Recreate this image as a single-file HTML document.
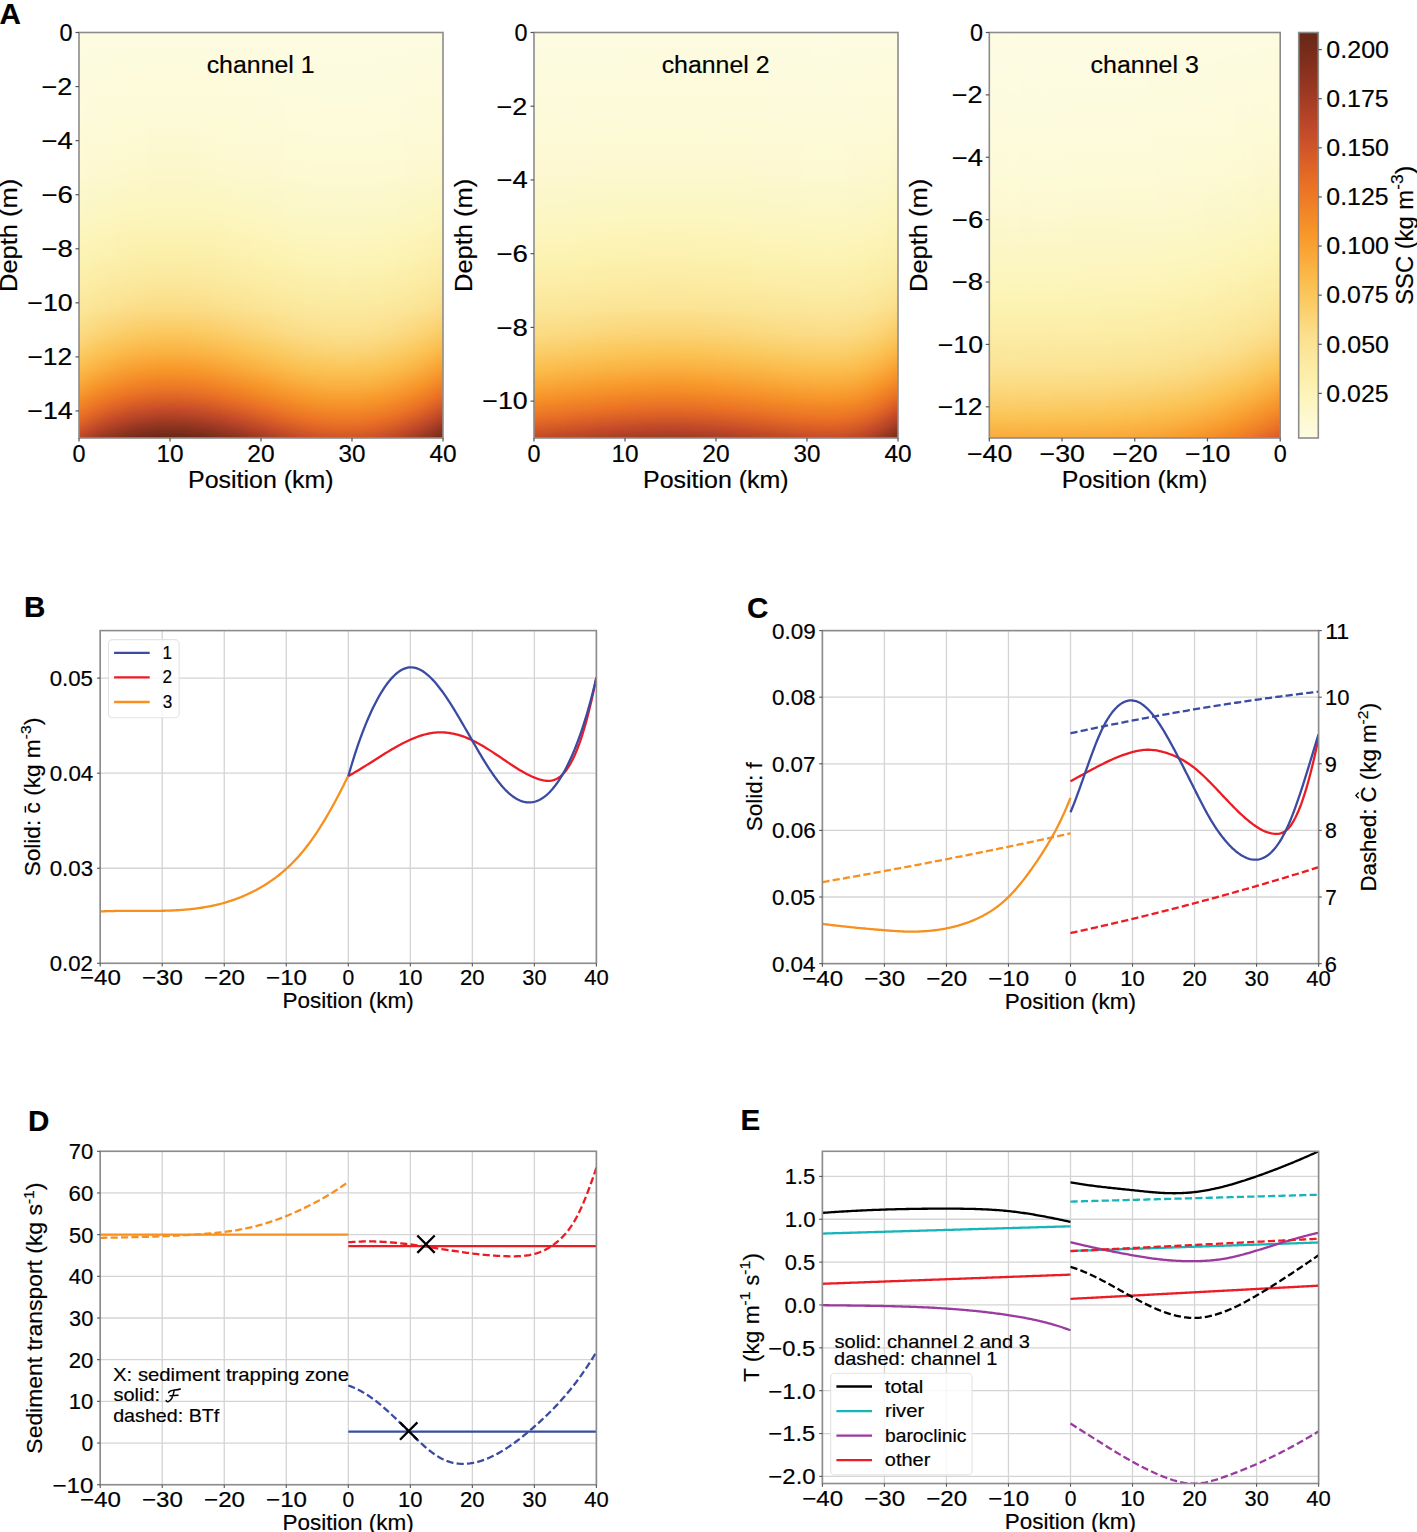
<!DOCTYPE html><html><head><meta charset="utf-8"><style>html,body{margin:0;padding:0;background:#fff;overflow:hidden}svg{display:block;font-family:"Liberation Sans",sans-serif}text{stroke:#000;stroke-width:0.18px}</style></head><body><svg width="1417" height="1532" viewBox="0 0 1417 1532" font-family="Liberation Sans, sans-serif"><defs><linearGradient id="g0" x1="0" y1="0" x2="0" y2="1"><stop offset="0.000" stop-color="#fdfce2"/><stop offset="0.200" stop-color="#fdfbdb"/><stop offset="0.350" stop-color="#fdf9d1"/><stop offset="0.450" stop-color="#fcf7c5"/><stop offset="0.550" stop-color="#fcf3b4"/><stop offset="0.620" stop-color="#fceda7"/><stop offset="0.680" stop-color="#fbe69a"/><stop offset="0.740" stop-color="#fbdc85"/><stop offset="0.790" stop-color="#fbcc66"/><stop offset="0.830" stop-color="#fbbc4b"/><stop offset="0.870" stop-color="#f9a536"/><stop offset="0.900" stop-color="#f69129"/><stop offset="0.930" stop-color="#ee7c26"/><stop offset="0.955" stop-color="#e26825"/><stop offset="0.975" stop-color="#d35828"/><stop offset="1.000" stop-color="#b94528"/></linearGradient><linearGradient id="g1" x1="0" y1="0" x2="0" y2="1"><stop offset="0.000" stop-color="#fdfce2"/><stop offset="0.200" stop-color="#fdfadb"/><stop offset="0.350" stop-color="#fdf8d0"/><stop offset="0.450" stop-color="#fcf6c4"/><stop offset="0.550" stop-color="#fcf3b3"/><stop offset="0.620" stop-color="#fceda6"/><stop offset="0.680" stop-color="#fbe699"/><stop offset="0.740" stop-color="#fbda81"/><stop offset="0.790" stop-color="#fbca62"/><stop offset="0.830" stop-color="#fab949"/><stop offset="0.870" stop-color="#f9a133"/><stop offset="0.900" stop-color="#f48d28"/><stop offset="0.930" stop-color="#ec7725"/><stop offset="0.955" stop-color="#de6326"/><stop offset="0.975" stop-color="#cd5329"/><stop offset="1.000" stop-color="#b14226"/></linearGradient><linearGradient id="g2" x1="0" y1="0" x2="0" y2="1"><stop offset="0.000" stop-color="#fdfce1"/><stop offset="0.200" stop-color="#fdfadb"/><stop offset="0.350" stop-color="#fdf8d0"/><stop offset="0.450" stop-color="#fcf6c4"/><stop offset="0.550" stop-color="#fcf3b2"/><stop offset="0.620" stop-color="#fceca5"/><stop offset="0.680" stop-color="#fbe597"/><stop offset="0.740" stop-color="#fbd87e"/><stop offset="0.790" stop-color="#fbc85e"/><stop offset="0.830" stop-color="#fab646"/><stop offset="0.870" stop-color="#f89d2f"/><stop offset="0.900" stop-color="#f38928"/><stop offset="0.930" stop-color="#eb7324"/><stop offset="0.955" stop-color="#d95f27"/><stop offset="0.975" stop-color="#c94e2a"/><stop offset="1.000" stop-color="#a93f25"/></linearGradient><linearGradient id="g3" x1="0" y1="0" x2="0" y2="1"><stop offset="0.000" stop-color="#fdfce1"/><stop offset="0.200" stop-color="#fdfadb"/><stop offset="0.350" stop-color="#fdf8cf"/><stop offset="0.450" stop-color="#fcf6c3"/><stop offset="0.550" stop-color="#fcf2b1"/><stop offset="0.620" stop-color="#fceca4"/><stop offset="0.680" stop-color="#fbe496"/><stop offset="0.740" stop-color="#fbd77b"/><stop offset="0.790" stop-color="#fbc65a"/><stop offset="0.830" stop-color="#fab343"/><stop offset="0.870" stop-color="#f89a2c"/><stop offset="0.900" stop-color="#f28627"/><stop offset="0.930" stop-color="#e96e24"/><stop offset="0.955" stop-color="#d55b27"/><stop offset="0.975" stop-color="#c44a2a"/><stop offset="1.000" stop-color="#a23c24"/></linearGradient><linearGradient id="g4" x1="0" y1="0" x2="0" y2="1"><stop offset="0.000" stop-color="#fdfce1"/><stop offset="0.200" stop-color="#fdfada"/><stop offset="0.350" stop-color="#fdf8ce"/><stop offset="0.450" stop-color="#fcf6c2"/><stop offset="0.550" stop-color="#fcf2b0"/><stop offset="0.620" stop-color="#fceba3"/><stop offset="0.680" stop-color="#fbe394"/><stop offset="0.740" stop-color="#fbd578"/><stop offset="0.790" stop-color="#fbc456"/><stop offset="0.830" stop-color="#fab040"/><stop offset="0.870" stop-color="#f8972a"/><stop offset="0.900" stop-color="#f08227"/><stop offset="0.930" stop-color="#e56b25"/><stop offset="0.955" stop-color="#d15728"/><stop offset="0.975" stop-color="#bd4728"/><stop offset="1.000" stop-color="#9c3923"/></linearGradient><linearGradient id="g5" x1="0" y1="0" x2="0" y2="1"><stop offset="0.000" stop-color="#fdfce1"/><stop offset="0.200" stop-color="#fdfada"/><stop offset="0.350" stop-color="#fdf8ce"/><stop offset="0.450" stop-color="#fcf6c1"/><stop offset="0.550" stop-color="#fcf2b0"/><stop offset="0.620" stop-color="#fceba2"/><stop offset="0.680" stop-color="#fbe393"/><stop offset="0.740" stop-color="#fbd475"/><stop offset="0.790" stop-color="#fbc354"/><stop offset="0.830" stop-color="#faae3e"/><stop offset="0.870" stop-color="#f79529"/><stop offset="0.900" stop-color="#ef7f26"/><stop offset="0.930" stop-color="#e26825"/><stop offset="0.955" stop-color="#ce5329"/><stop offset="0.975" stop-color="#b84527"/><stop offset="1.000" stop-color="#953621"/></linearGradient><linearGradient id="g6" x1="0" y1="0" x2="0" y2="1"><stop offset="0.000" stop-color="#fdfce1"/><stop offset="0.200" stop-color="#fdfada"/><stop offset="0.350" stop-color="#fdf8ce"/><stop offset="0.450" stop-color="#fcf6c1"/><stop offset="0.550" stop-color="#fcf1af"/><stop offset="0.620" stop-color="#fceaa1"/><stop offset="0.680" stop-color="#fbe292"/><stop offset="0.740" stop-color="#fbd374"/><stop offset="0.790" stop-color="#fbc151"/><stop offset="0.830" stop-color="#f9ac3c"/><stop offset="0.870" stop-color="#f69129"/><stop offset="0.900" stop-color="#ee7c26"/><stop offset="0.930" stop-color="#df6526"/><stop offset="0.955" stop-color="#ca4f29"/><stop offset="0.975" stop-color="#b34327"/><stop offset="1.000" stop-color="#903420"/></linearGradient><linearGradient id="g7" x1="0" y1="0" x2="0" y2="1"><stop offset="0.000" stop-color="#fdfce1"/><stop offset="0.200" stop-color="#fdfad9"/><stop offset="0.350" stop-color="#fdf8ce"/><stop offset="0.450" stop-color="#fcf6c0"/><stop offset="0.550" stop-color="#fcf1af"/><stop offset="0.620" stop-color="#fceaa0"/><stop offset="0.680" stop-color="#fbe191"/><stop offset="0.740" stop-color="#fbd171"/><stop offset="0.790" stop-color="#fbbf4f"/><stop offset="0.830" stop-color="#f9a93a"/><stop offset="0.870" stop-color="#f58f29"/><stop offset="0.900" stop-color="#ed7925"/><stop offset="0.930" stop-color="#dc6226"/><stop offset="0.955" stop-color="#c74c2a"/><stop offset="0.975" stop-color="#ad4026"/><stop offset="1.000" stop-color="#8c331f"/></linearGradient><linearGradient id="g8" x1="0" y1="0" x2="0" y2="1"><stop offset="0.000" stop-color="#fdfce1"/><stop offset="0.200" stop-color="#fdfad9"/><stop offset="0.350" stop-color="#fdf8cd"/><stop offset="0.450" stop-color="#fcf6c0"/><stop offset="0.550" stop-color="#fcf1ad"/><stop offset="0.620" stop-color="#fbe99f"/><stop offset="0.680" stop-color="#fbe190"/><stop offset="0.740" stop-color="#fbd06f"/><stop offset="0.790" stop-color="#fbbe4d"/><stop offset="0.830" stop-color="#f9a738"/><stop offset="0.870" stop-color="#f48d28"/><stop offset="0.900" stop-color="#ec7625"/><stop offset="0.930" stop-color="#d95f27"/><stop offset="0.955" stop-color="#c34a29"/><stop offset="0.975" stop-color="#a93f25"/><stop offset="1.000" stop-color="#87311e"/></linearGradient><linearGradient id="g9" x1="0" y1="0" x2="0" y2="1"><stop offset="0.000" stop-color="#fdfce1"/><stop offset="0.200" stop-color="#fdfad9"/><stop offset="0.350" stop-color="#fdf8cd"/><stop offset="0.450" stop-color="#fcf5bf"/><stop offset="0.550" stop-color="#fcf0ad"/><stop offset="0.620" stop-color="#fbe99f"/><stop offset="0.680" stop-color="#fbe18f"/><stop offset="0.740" stop-color="#fbcf6d"/><stop offset="0.790" stop-color="#fbbc4c"/><stop offset="0.830" stop-color="#f9a536"/><stop offset="0.870" stop-color="#f38b28"/><stop offset="0.900" stop-color="#eb7425"/><stop offset="0.930" stop-color="#d65c27"/><stop offset="0.955" stop-color="#bf4829"/><stop offset="0.975" stop-color="#a53d24"/><stop offset="1.000" stop-color="#83301d"/></linearGradient><linearGradient id="g10" x1="0" y1="0" x2="0" y2="1"><stop offset="0.000" stop-color="#fdfce1"/><stop offset="0.200" stop-color="#fdfad9"/><stop offset="0.350" stop-color="#fdf8cc"/><stop offset="0.450" stop-color="#fcf5bf"/><stop offset="0.550" stop-color="#fcf0ad"/><stop offset="0.620" stop-color="#fbe99e"/><stop offset="0.680" stop-color="#fbe08e"/><stop offset="0.740" stop-color="#fbce6b"/><stop offset="0.790" stop-color="#fbba4a"/><stop offset="0.830" stop-color="#f9a334"/><stop offset="0.870" stop-color="#f38928"/><stop offset="0.900" stop-color="#eb7124"/><stop offset="0.930" stop-color="#d45a28"/><stop offset="0.955" stop-color="#bc4728"/><stop offset="0.975" stop-color="#a13b23"/><stop offset="1.000" stop-color="#7f2f1c"/></linearGradient><linearGradient id="g11" x1="0" y1="0" x2="0" y2="1"><stop offset="0.000" stop-color="#fdfce1"/><stop offset="0.200" stop-color="#fdfad8"/><stop offset="0.350" stop-color="#fdf8cc"/><stop offset="0.450" stop-color="#fcf5be"/><stop offset="0.550" stop-color="#fcf0ac"/><stop offset="0.620" stop-color="#fbe89e"/><stop offset="0.680" stop-color="#fbdf8d"/><stop offset="0.740" stop-color="#fbcd69"/><stop offset="0.790" stop-color="#fab949"/><stop offset="0.830" stop-color="#f9a133"/><stop offset="0.870" stop-color="#f28727"/><stop offset="0.900" stop-color="#ea7024"/><stop offset="0.930" stop-color="#d25728"/><stop offset="0.955" stop-color="#b84527"/><stop offset="0.975" stop-color="#9d3923"/><stop offset="1.000" stop-color="#7c2e1b"/></linearGradient><linearGradient id="g12" x1="0" y1="0" x2="0" y2="1"><stop offset="0.000" stop-color="#fdfce1"/><stop offset="0.200" stop-color="#fdfad8"/><stop offset="0.350" stop-color="#fdf8cc"/><stop offset="0.450" stop-color="#fcf5be"/><stop offset="0.550" stop-color="#fcf0ac"/><stop offset="0.620" stop-color="#fbe89d"/><stop offset="0.680" stop-color="#fbde8b"/><stop offset="0.740" stop-color="#fbcc67"/><stop offset="0.790" stop-color="#fab847"/><stop offset="0.830" stop-color="#f9a031"/><stop offset="0.870" stop-color="#f18527"/><stop offset="0.900" stop-color="#e76d24"/><stop offset="0.930" stop-color="#d05528"/><stop offset="0.955" stop-color="#b54427"/><stop offset="0.975" stop-color="#993822"/><stop offset="1.000" stop-color="#782c1a"/></linearGradient><linearGradient id="g13" x1="0" y1="0" x2="0" y2="1"><stop offset="0.000" stop-color="#fdfce1"/><stop offset="0.200" stop-color="#fdfad8"/><stop offset="0.350" stop-color="#fdf8cb"/><stop offset="0.450" stop-color="#fcf5bd"/><stop offset="0.550" stop-color="#fcefab"/><stop offset="0.620" stop-color="#fbe89d"/><stop offset="0.680" stop-color="#fbde8a"/><stop offset="0.740" stop-color="#fbcc66"/><stop offset="0.790" stop-color="#fab646"/><stop offset="0.830" stop-color="#f89f30"/><stop offset="0.870" stop-color="#f18327"/><stop offset="0.900" stop-color="#e66c25"/><stop offset="0.930" stop-color="#ce5329"/><stop offset="0.955" stop-color="#b24227"/><stop offset="0.975" stop-color="#963622"/><stop offset="1.000" stop-color="#752c1a"/></linearGradient><linearGradient id="g14" x1="0" y1="0" x2="0" y2="1"><stop offset="0.000" stop-color="#fdfce1"/><stop offset="0.200" stop-color="#fdfad8"/><stop offset="0.350" stop-color="#fdf8cb"/><stop offset="0.450" stop-color="#fcf5bd"/><stop offset="0.550" stop-color="#fcefab"/><stop offset="0.620" stop-color="#fbe79c"/><stop offset="0.680" stop-color="#fbdd89"/><stop offset="0.740" stop-color="#fbcb64"/><stop offset="0.790" stop-color="#fab545"/><stop offset="0.830" stop-color="#f89d2f"/><stop offset="0.870" stop-color="#f08227"/><stop offset="0.900" stop-color="#e56a25"/><stop offset="0.930" stop-color="#cc5229"/><stop offset="0.955" stop-color="#af4126"/><stop offset="0.975" stop-color="#933521"/><stop offset="1.000" stop-color="#732b19"/></linearGradient><linearGradient id="g15" x1="0" y1="0" x2="0" y2="1"><stop offset="0.000" stop-color="#fdfce1"/><stop offset="0.200" stop-color="#fdfad8"/><stop offset="0.350" stop-color="#fdf8cb"/><stop offset="0.450" stop-color="#fcf5bd"/><stop offset="0.550" stop-color="#fcefab"/><stop offset="0.620" stop-color="#fbe79b"/><stop offset="0.680" stop-color="#fbdd88"/><stop offset="0.740" stop-color="#fbcb63"/><stop offset="0.790" stop-color="#fab544"/><stop offset="0.830" stop-color="#f89c2e"/><stop offset="0.870" stop-color="#f08126"/><stop offset="0.900" stop-color="#e36925"/><stop offset="0.930" stop-color="#cb5029"/><stop offset="0.955" stop-color="#ad4026"/><stop offset="0.975" stop-color="#913421"/><stop offset="1.000" stop-color="#702a18"/></linearGradient><linearGradient id="g16" x1="0" y1="0" x2="0" y2="1"><stop offset="0.000" stop-color="#fdfce1"/><stop offset="0.200" stop-color="#fdfad8"/><stop offset="0.350" stop-color="#fdf8cb"/><stop offset="0.450" stop-color="#fcf5bd"/><stop offset="0.550" stop-color="#fcefaa"/><stop offset="0.620" stop-color="#fbe79b"/><stop offset="0.680" stop-color="#fbdc87"/><stop offset="0.740" stop-color="#fbca62"/><stop offset="0.790" stop-color="#fab343"/><stop offset="0.830" stop-color="#f89b2d"/><stop offset="0.870" stop-color="#ef7f26"/><stop offset="0.900" stop-color="#e26825"/><stop offset="0.930" stop-color="#ca4f29"/><stop offset="0.955" stop-color="#ab3f25"/><stop offset="0.975" stop-color="#8f3420"/><stop offset="1.000" stop-color="#6e2918"/></linearGradient><linearGradient id="g17" x1="0" y1="0" x2="0" y2="1"><stop offset="0.000" stop-color="#fdfce1"/><stop offset="0.200" stop-color="#fdfad7"/><stop offset="0.350" stop-color="#fcf7ca"/><stop offset="0.450" stop-color="#fcf5bd"/><stop offset="0.550" stop-color="#fcefaa"/><stop offset="0.620" stop-color="#fbe79b"/><stop offset="0.680" stop-color="#fbdc86"/><stop offset="0.740" stop-color="#fbca61"/><stop offset="0.790" stop-color="#fab343"/><stop offset="0.830" stop-color="#f89a2c"/><stop offset="0.870" stop-color="#ef7e26"/><stop offset="0.900" stop-color="#e16626"/><stop offset="0.930" stop-color="#c84d2a"/><stop offset="0.955" stop-color="#a93e25"/><stop offset="0.975" stop-color="#8e3320"/><stop offset="1.000" stop-color="#6c2917"/></linearGradient><linearGradient id="g18" x1="0" y1="0" x2="0" y2="1"><stop offset="0.000" stop-color="#fdfce1"/><stop offset="0.200" stop-color="#fdfad7"/><stop offset="0.350" stop-color="#fcf7ca"/><stop offset="0.450" stop-color="#fcf5bc"/><stop offset="0.550" stop-color="#fcefaa"/><stop offset="0.620" stop-color="#fbe69a"/><stop offset="0.680" stop-color="#fbdc86"/><stop offset="0.740" stop-color="#fbc960"/><stop offset="0.790" stop-color="#fab242"/><stop offset="0.830" stop-color="#f89a2b"/><stop offset="0.870" stop-color="#ef7d26"/><stop offset="0.900" stop-color="#e06626"/><stop offset="0.930" stop-color="#c74c2a"/><stop offset="0.955" stop-color="#a73e25"/><stop offset="0.975" stop-color="#8c331f"/><stop offset="1.000" stop-color="#6a2817"/></linearGradient><linearGradient id="g19" x1="0" y1="0" x2="0" y2="1"><stop offset="0.000" stop-color="#fdfce1"/><stop offset="0.200" stop-color="#fdfad7"/><stop offset="0.350" stop-color="#fcf7ca"/><stop offset="0.450" stop-color="#fcf5bc"/><stop offset="0.550" stop-color="#fcefa9"/><stop offset="0.620" stop-color="#fbe69a"/><stop offset="0.680" stop-color="#fbdc85"/><stop offset="0.740" stop-color="#fbc960"/><stop offset="0.790" stop-color="#fab141"/><stop offset="0.830" stop-color="#f8992b"/><stop offset="0.870" stop-color="#ee7d26"/><stop offset="0.900" stop-color="#e06526"/><stop offset="0.930" stop-color="#c74c2a"/><stop offset="0.955" stop-color="#a63d24"/><stop offset="0.975" stop-color="#8b321f"/><stop offset="1.000" stop-color="#692817"/></linearGradient><linearGradient id="g20" x1="0" y1="0" x2="0" y2="1"><stop offset="0.000" stop-color="#fdfce1"/><stop offset="0.200" stop-color="#fdfad7"/><stop offset="0.350" stop-color="#fcf7ca"/><stop offset="0.450" stop-color="#fcf5bc"/><stop offset="0.550" stop-color="#fcefa9"/><stop offset="0.620" stop-color="#fbe69a"/><stop offset="0.680" stop-color="#fbdc85"/><stop offset="0.740" stop-color="#fbc95f"/><stop offset="0.790" stop-color="#fab141"/><stop offset="0.830" stop-color="#f8982a"/><stop offset="0.870" stop-color="#ee7c26"/><stop offset="0.900" stop-color="#df6526"/><stop offset="0.930" stop-color="#c64b2a"/><stop offset="0.955" stop-color="#a53d24"/><stop offset="0.975" stop-color="#8a321f"/><stop offset="1.000" stop-color="#682716"/></linearGradient><linearGradient id="g21" x1="0" y1="0" x2="0" y2="1"><stop offset="0.000" stop-color="#fdfce1"/><stop offset="0.200" stop-color="#fdfad7"/><stop offset="0.350" stop-color="#fcf7ca"/><stop offset="0.450" stop-color="#fcf5bc"/><stop offset="0.550" stop-color="#fcefa9"/><stop offset="0.620" stop-color="#fbe69a"/><stop offset="0.680" stop-color="#fbdc85"/><stop offset="0.740" stop-color="#fbc95f"/><stop offset="0.790" stop-color="#fab141"/><stop offset="0.830" stop-color="#f8982a"/><stop offset="0.870" stop-color="#ee7c26"/><stop offset="0.900" stop-color="#de6426"/><stop offset="0.930" stop-color="#c54b2a"/><stop offset="0.955" stop-color="#a53d24"/><stop offset="0.975" stop-color="#89321f"/><stop offset="1.000" stop-color="#682716"/></linearGradient><linearGradient id="g22" x1="0" y1="0" x2="0" y2="1"><stop offset="0.000" stop-color="#fdfce1"/><stop offset="0.200" stop-color="#fdfad7"/><stop offset="0.350" stop-color="#fcf7ca"/><stop offset="0.450" stop-color="#fcf5bc"/><stop offset="0.550" stop-color="#fcefa9"/><stop offset="0.620" stop-color="#fbe69a"/><stop offset="0.680" stop-color="#fbdc85"/><stop offset="0.740" stop-color="#fbc95f"/><stop offset="0.790" stop-color="#fab141"/><stop offset="0.830" stop-color="#f8982a"/><stop offset="0.870" stop-color="#ee7c26"/><stop offset="0.900" stop-color="#de6426"/><stop offset="0.930" stop-color="#c54b2a"/><stop offset="0.955" stop-color="#a53d24"/><stop offset="0.975" stop-color="#89321f"/><stop offset="1.000" stop-color="#672716"/></linearGradient><linearGradient id="g23" x1="0" y1="0" x2="0" y2="1"><stop offset="0.000" stop-color="#fdfce1"/><stop offset="0.200" stop-color="#fdfad7"/><stop offset="0.350" stop-color="#fcf7ca"/><stop offset="0.450" stop-color="#fcf5bc"/><stop offset="0.550" stop-color="#fcefa9"/><stop offset="0.620" stop-color="#fbe69a"/><stop offset="0.680" stop-color="#fbdc85"/><stop offset="0.740" stop-color="#fbc95f"/><stop offset="0.790" stop-color="#fab141"/><stop offset="0.830" stop-color="#f8982a"/><stop offset="0.870" stop-color="#ee7c26"/><stop offset="0.900" stop-color="#de6426"/><stop offset="0.930" stop-color="#c54b2a"/><stop offset="0.955" stop-color="#a53d24"/><stop offset="0.975" stop-color="#89321f"/><stop offset="1.000" stop-color="#672716"/></linearGradient><linearGradient id="g24" x1="0" y1="0" x2="0" y2="1"><stop offset="0.000" stop-color="#fdfce1"/><stop offset="0.200" stop-color="#fdfad7"/><stop offset="0.350" stop-color="#fcf7ca"/><stop offset="0.450" stop-color="#fcf5bc"/><stop offset="0.550" stop-color="#fcefa9"/><stop offset="0.620" stop-color="#fbe69a"/><stop offset="0.680" stop-color="#fbdc85"/><stop offset="0.740" stop-color="#fbc95f"/><stop offset="0.790" stop-color="#fab141"/><stop offset="0.830" stop-color="#f8982a"/><stop offset="0.870" stop-color="#ee7c26"/><stop offset="0.900" stop-color="#de6426"/><stop offset="0.930" stop-color="#c54b2a"/><stop offset="0.955" stop-color="#a53d24"/><stop offset="0.975" stop-color="#89321f"/><stop offset="1.000" stop-color="#682716"/></linearGradient><linearGradient id="g25" x1="0" y1="0" x2="0" y2="1"><stop offset="0.000" stop-color="#fdfce1"/><stop offset="0.200" stop-color="#fdfad7"/><stop offset="0.350" stop-color="#fcf7ca"/><stop offset="0.450" stop-color="#fcf5bc"/><stop offset="0.550" stop-color="#fcefa9"/><stop offset="0.620" stop-color="#fbe69a"/><stop offset="0.680" stop-color="#fbdc85"/><stop offset="0.740" stop-color="#fbc95f"/><stop offset="0.790" stop-color="#fab141"/><stop offset="0.830" stop-color="#f8982a"/><stop offset="0.870" stop-color="#ee7c26"/><stop offset="0.900" stop-color="#df6526"/><stop offset="0.930" stop-color="#c64b2a"/><stop offset="0.955" stop-color="#a53d24"/><stop offset="0.975" stop-color="#8a321f"/><stop offset="1.000" stop-color="#682716"/></linearGradient><linearGradient id="g26" x1="0" y1="0" x2="0" y2="1"><stop offset="0.000" stop-color="#fdfce1"/><stop offset="0.200" stop-color="#fdfad7"/><stop offset="0.350" stop-color="#fcf7ca"/><stop offset="0.450" stop-color="#fcf5bc"/><stop offset="0.550" stop-color="#fcefa9"/><stop offset="0.620" stop-color="#fbe69a"/><stop offset="0.680" stop-color="#fbdc85"/><stop offset="0.740" stop-color="#fbc960"/><stop offset="0.790" stop-color="#fab141"/><stop offset="0.830" stop-color="#f8992b"/><stop offset="0.870" stop-color="#ee7d26"/><stop offset="0.900" stop-color="#e06526"/><stop offset="0.930" stop-color="#c74c2a"/><stop offset="0.955" stop-color="#a63d24"/><stop offset="0.975" stop-color="#8b321f"/><stop offset="1.000" stop-color="#692817"/></linearGradient><linearGradient id="g27" x1="0" y1="0" x2="0" y2="1"><stop offset="0.000" stop-color="#fdfce1"/><stop offset="0.200" stop-color="#fdfad7"/><stop offset="0.350" stop-color="#fcf7ca"/><stop offset="0.450" stop-color="#fcf5bc"/><stop offset="0.550" stop-color="#fcefaa"/><stop offset="0.620" stop-color="#fbe69a"/><stop offset="0.680" stop-color="#fbdc86"/><stop offset="0.740" stop-color="#fbc960"/><stop offset="0.790" stop-color="#fab242"/><stop offset="0.830" stop-color="#f89a2b"/><stop offset="0.870" stop-color="#ef7d26"/><stop offset="0.900" stop-color="#e06626"/><stop offset="0.930" stop-color="#c74c2a"/><stop offset="0.955" stop-color="#a73e25"/><stop offset="0.975" stop-color="#8c331f"/><stop offset="1.000" stop-color="#6a2817"/></linearGradient><linearGradient id="g28" x1="0" y1="0" x2="0" y2="1"><stop offset="0.000" stop-color="#fdfce1"/><stop offset="0.200" stop-color="#fdfad7"/><stop offset="0.350" stop-color="#fcf7ca"/><stop offset="0.450" stop-color="#fcf5bd"/><stop offset="0.550" stop-color="#fcefaa"/><stop offset="0.620" stop-color="#fbe79b"/><stop offset="0.680" stop-color="#fbdc86"/><stop offset="0.740" stop-color="#fbca61"/><stop offset="0.790" stop-color="#fab343"/><stop offset="0.830" stop-color="#f89a2c"/><stop offset="0.870" stop-color="#ef7e26"/><stop offset="0.900" stop-color="#e16626"/><stop offset="0.930" stop-color="#c84d2a"/><stop offset="0.955" stop-color="#a93e25"/><stop offset="0.975" stop-color="#8e3320"/><stop offset="1.000" stop-color="#6c2917"/></linearGradient><linearGradient id="g29" x1="0" y1="0" x2="0" y2="1"><stop offset="0.000" stop-color="#fdfce1"/><stop offset="0.200" stop-color="#fdfad8"/><stop offset="0.350" stop-color="#fcf7ca"/><stop offset="0.450" stop-color="#fcf5bd"/><stop offset="0.550" stop-color="#fcefaa"/><stop offset="0.620" stop-color="#fbe79b"/><stop offset="0.680" stop-color="#fbdc87"/><stop offset="0.740" stop-color="#fbca62"/><stop offset="0.790" stop-color="#fab343"/><stop offset="0.830" stop-color="#f89b2d"/><stop offset="0.870" stop-color="#ef7f26"/><stop offset="0.900" stop-color="#e26825"/><stop offset="0.930" stop-color="#c94e2a"/><stop offset="0.955" stop-color="#aa3f25"/><stop offset="0.975" stop-color="#8f3420"/><stop offset="1.000" stop-color="#6d2918"/></linearGradient><linearGradient id="g30" x1="0" y1="0" x2="0" y2="1"><stop offset="0.000" stop-color="#fdfce1"/><stop offset="0.200" stop-color="#fdfad8"/><stop offset="0.350" stop-color="#fdf8cb"/><stop offset="0.450" stop-color="#fcf5bd"/><stop offset="0.550" stop-color="#fcefab"/><stop offset="0.620" stop-color="#fbe79b"/><stop offset="0.680" stop-color="#fbdd88"/><stop offset="0.740" stop-color="#fbcb63"/><stop offset="0.790" stop-color="#fab444"/><stop offset="0.830" stop-color="#f89c2d"/><stop offset="0.870" stop-color="#f08026"/><stop offset="0.900" stop-color="#e36925"/><stop offset="0.930" stop-color="#cb5029"/><stop offset="0.955" stop-color="#ac4025"/><stop offset="0.975" stop-color="#903420"/><stop offset="1.000" stop-color="#6f2a18"/></linearGradient><linearGradient id="g31" x1="0" y1="0" x2="0" y2="1"><stop offset="0.000" stop-color="#fdfce1"/><stop offset="0.200" stop-color="#fdfad8"/><stop offset="0.350" stop-color="#fdf8cb"/><stop offset="0.450" stop-color="#fcf5bd"/><stop offset="0.550" stop-color="#fcefab"/><stop offset="0.620" stop-color="#fbe79b"/><stop offset="0.680" stop-color="#fbdd89"/><stop offset="0.740" stop-color="#fbcb64"/><stop offset="0.790" stop-color="#fab545"/><stop offset="0.830" stop-color="#f89d2e"/><stop offset="0.870" stop-color="#f08127"/><stop offset="0.900" stop-color="#e46a25"/><stop offset="0.930" stop-color="#cc5129"/><stop offset="0.955" stop-color="#ae4126"/><stop offset="0.975" stop-color="#923521"/><stop offset="1.000" stop-color="#712a19"/></linearGradient><linearGradient id="g32" x1="0" y1="0" x2="0" y2="1"><stop offset="0.000" stop-color="#fdfce1"/><stop offset="0.200" stop-color="#fdfad8"/><stop offset="0.350" stop-color="#fdf8cb"/><stop offset="0.450" stop-color="#fcf5bd"/><stop offset="0.550" stop-color="#fcefab"/><stop offset="0.620" stop-color="#fbe79c"/><stop offset="0.680" stop-color="#fbde8a"/><stop offset="0.740" stop-color="#fbcb65"/><stop offset="0.790" stop-color="#fab646"/><stop offset="0.830" stop-color="#f89e30"/><stop offset="0.870" stop-color="#f08227"/><stop offset="0.900" stop-color="#e56b25"/><stop offset="0.930" stop-color="#cd5229"/><stop offset="0.955" stop-color="#b14226"/><stop offset="0.975" stop-color="#953621"/><stop offset="1.000" stop-color="#742b19"/></linearGradient><linearGradient id="g33" x1="0" y1="0" x2="0" y2="1"><stop offset="0.000" stop-color="#fdfce1"/><stop offset="0.200" stop-color="#fdfad8"/><stop offset="0.350" stop-color="#fdf8cb"/><stop offset="0.450" stop-color="#fcf5bd"/><stop offset="0.550" stop-color="#fcefab"/><stop offset="0.620" stop-color="#fbe89d"/><stop offset="0.680" stop-color="#fbde8b"/><stop offset="0.740" stop-color="#fbcc66"/><stop offset="0.790" stop-color="#fab747"/><stop offset="0.830" stop-color="#f89f30"/><stop offset="0.870" stop-color="#f18427"/><stop offset="0.900" stop-color="#e66c25"/><stop offset="0.930" stop-color="#cf5429"/><stop offset="0.955" stop-color="#b34327"/><stop offset="0.975" stop-color="#973722"/><stop offset="1.000" stop-color="#762c1a"/></linearGradient><linearGradient id="g34" x1="0" y1="0" x2="0" y2="1"><stop offset="0.000" stop-color="#fdfce1"/><stop offset="0.200" stop-color="#fdfad8"/><stop offset="0.350" stop-color="#fdf8cc"/><stop offset="0.450" stop-color="#fcf5be"/><stop offset="0.550" stop-color="#fcf0ac"/><stop offset="0.620" stop-color="#fbe89d"/><stop offset="0.680" stop-color="#fbdf8c"/><stop offset="0.740" stop-color="#fbcd68"/><stop offset="0.790" stop-color="#fab847"/><stop offset="0.830" stop-color="#f9a031"/><stop offset="0.870" stop-color="#f18527"/><stop offset="0.900" stop-color="#e86e24"/><stop offset="0.930" stop-color="#d05628"/><stop offset="0.955" stop-color="#b54427"/><stop offset="0.975" stop-color="#9a3822"/><stop offset="1.000" stop-color="#792d1a"/></linearGradient><linearGradient id="g35" x1="0" y1="0" x2="0" y2="1"><stop offset="0.000" stop-color="#fdfce1"/><stop offset="0.200" stop-color="#fdfad8"/><stop offset="0.350" stop-color="#fdf8cc"/><stop offset="0.450" stop-color="#fcf5be"/><stop offset="0.550" stop-color="#fcf0ac"/><stop offset="0.620" stop-color="#fbe89e"/><stop offset="0.680" stop-color="#fbdf8d"/><stop offset="0.740" stop-color="#fbcd69"/><stop offset="0.790" stop-color="#fab949"/><stop offset="0.830" stop-color="#f9a233"/><stop offset="0.870" stop-color="#f28727"/><stop offset="0.900" stop-color="#ea7024"/><stop offset="0.930" stop-color="#d25728"/><stop offset="0.955" stop-color="#b84527"/><stop offset="0.975" stop-color="#9d3a23"/><stop offset="1.000" stop-color="#7c2e1b"/></linearGradient><linearGradient id="g36" x1="0" y1="0" x2="0" y2="1"><stop offset="0.000" stop-color="#fdfce1"/><stop offset="0.200" stop-color="#fdfad9"/><stop offset="0.350" stop-color="#fdf8cc"/><stop offset="0.450" stop-color="#fcf5bf"/><stop offset="0.550" stop-color="#fcf0ac"/><stop offset="0.620" stop-color="#fbe99e"/><stop offset="0.680" stop-color="#fbe08e"/><stop offset="0.740" stop-color="#fbce6b"/><stop offset="0.790" stop-color="#fbba4a"/><stop offset="0.830" stop-color="#f9a334"/><stop offset="0.870" stop-color="#f28828"/><stop offset="0.900" stop-color="#eb7124"/><stop offset="0.930" stop-color="#d45928"/><stop offset="0.955" stop-color="#bb4628"/><stop offset="0.975" stop-color="#a03b23"/><stop offset="1.000" stop-color="#7f2f1c"/></linearGradient><linearGradient id="g37" x1="0" y1="0" x2="0" y2="1"><stop offset="0.000" stop-color="#fdfce1"/><stop offset="0.200" stop-color="#fdfad9"/><stop offset="0.350" stop-color="#fdf8cd"/><stop offset="0.450" stop-color="#fcf5bf"/><stop offset="0.550" stop-color="#fcf0ad"/><stop offset="0.620" stop-color="#fbe99f"/><stop offset="0.680" stop-color="#fbe08e"/><stop offset="0.740" stop-color="#fbcf6c"/><stop offset="0.790" stop-color="#fbbc4b"/><stop offset="0.830" stop-color="#f9a536"/><stop offset="0.870" stop-color="#f38a28"/><stop offset="0.900" stop-color="#eb7325"/><stop offset="0.930" stop-color="#d65b27"/><stop offset="0.955" stop-color="#be4829"/><stop offset="0.975" stop-color="#a43c24"/><stop offset="1.000" stop-color="#82301d"/></linearGradient><linearGradient id="g38" x1="0" y1="0" x2="0" y2="1"><stop offset="0.000" stop-color="#fdfce1"/><stop offset="0.200" stop-color="#fdfad9"/><stop offset="0.350" stop-color="#fdf8cd"/><stop offset="0.450" stop-color="#fcf6c0"/><stop offset="0.550" stop-color="#fcf1ad"/><stop offset="0.620" stop-color="#fbe99f"/><stop offset="0.680" stop-color="#fbe190"/><stop offset="0.740" stop-color="#fbd06e"/><stop offset="0.790" stop-color="#fbbd4c"/><stop offset="0.830" stop-color="#f9a637"/><stop offset="0.870" stop-color="#f48c28"/><stop offset="0.900" stop-color="#ec7525"/><stop offset="0.930" stop-color="#d85d27"/><stop offset="0.955" stop-color="#c14929"/><stop offset="0.975" stop-color="#a73e25"/><stop offset="1.000" stop-color="#85311e"/></linearGradient><linearGradient id="g39" x1="0" y1="0" x2="0" y2="1"><stop offset="0.000" stop-color="#fdfce1"/><stop offset="0.200" stop-color="#fdfad9"/><stop offset="0.350" stop-color="#fdf8cd"/><stop offset="0.450" stop-color="#fcf6c0"/><stop offset="0.550" stop-color="#fcf1ae"/><stop offset="0.620" stop-color="#fbe9a0"/><stop offset="0.680" stop-color="#fbe190"/><stop offset="0.740" stop-color="#fbd170"/><stop offset="0.790" stop-color="#fbbe4d"/><stop offset="0.830" stop-color="#f9a839"/><stop offset="0.870" stop-color="#f48d28"/><stop offset="0.900" stop-color="#ec7725"/><stop offset="0.930" stop-color="#da5f27"/><stop offset="0.955" stop-color="#c54a2a"/><stop offset="0.975" stop-color="#aa3f25"/><stop offset="1.000" stop-color="#88321e"/></linearGradient><linearGradient id="g40" x1="0" y1="0" x2="0" y2="1"><stop offset="0.000" stop-color="#fdfce1"/><stop offset="0.200" stop-color="#fdfad9"/><stop offset="0.350" stop-color="#fdf8ce"/><stop offset="0.450" stop-color="#fcf6c0"/><stop offset="0.550" stop-color="#fcf1af"/><stop offset="0.620" stop-color="#fceaa0"/><stop offset="0.680" stop-color="#fbe191"/><stop offset="0.740" stop-color="#fbd171"/><stop offset="0.790" stop-color="#fbbf4f"/><stop offset="0.830" stop-color="#f9a93a"/><stop offset="0.870" stop-color="#f58f29"/><stop offset="0.900" stop-color="#ed7925"/><stop offset="0.930" stop-color="#dc6226"/><stop offset="0.955" stop-color="#c74c2a"/><stop offset="0.975" stop-color="#ad4026"/><stop offset="1.000" stop-color="#8c331f"/></linearGradient><linearGradient id="g41" x1="0" y1="0" x2="0" y2="1"><stop offset="0.000" stop-color="#fdfce1"/><stop offset="0.200" stop-color="#fdfad9"/><stop offset="0.350" stop-color="#fdf8ce"/><stop offset="0.450" stop-color="#fcf6c0"/><stop offset="0.550" stop-color="#fcf1af"/><stop offset="0.620" stop-color="#fceaa1"/><stop offset="0.680" stop-color="#fbe292"/><stop offset="0.740" stop-color="#fbd273"/><stop offset="0.790" stop-color="#fbc150"/><stop offset="0.830" stop-color="#f9ab3c"/><stop offset="0.870" stop-color="#f59129"/><stop offset="0.900" stop-color="#ee7c26"/><stop offset="0.930" stop-color="#de6326"/><stop offset="0.955" stop-color="#ca4f29"/><stop offset="0.975" stop-color="#b14226"/><stop offset="1.000" stop-color="#8f3420"/></linearGradient><linearGradient id="g42" x1="0" y1="0" x2="0" y2="1"><stop offset="0.000" stop-color="#fdfce1"/><stop offset="0.200" stop-color="#fdfada"/><stop offset="0.350" stop-color="#fdf8ce"/><stop offset="0.450" stop-color="#fcf6c1"/><stop offset="0.550" stop-color="#fcf1af"/><stop offset="0.620" stop-color="#fceaa2"/><stop offset="0.680" stop-color="#fbe292"/><stop offset="0.740" stop-color="#fbd375"/><stop offset="0.790" stop-color="#fbc252"/><stop offset="0.830" stop-color="#f9ac3d"/><stop offset="0.870" stop-color="#f69329"/><stop offset="0.900" stop-color="#ef7d26"/><stop offset="0.930" stop-color="#e06626"/><stop offset="0.955" stop-color="#cc5129"/><stop offset="0.975" stop-color="#b54427"/><stop offset="1.000" stop-color="#923521"/></linearGradient><linearGradient id="g43" x1="0" y1="0" x2="0" y2="1"><stop offset="0.000" stop-color="#fdfce1"/><stop offset="0.200" stop-color="#fdfada"/><stop offset="0.350" stop-color="#fdf8ce"/><stop offset="0.450" stop-color="#fcf6c1"/><stop offset="0.550" stop-color="#fcf2b0"/><stop offset="0.620" stop-color="#fceba2"/><stop offset="0.680" stop-color="#fbe393"/><stop offset="0.740" stop-color="#fbd476"/><stop offset="0.790" stop-color="#fbc354"/><stop offset="0.830" stop-color="#faae3f"/><stop offset="0.870" stop-color="#f79529"/><stop offset="0.900" stop-color="#ef7f26"/><stop offset="0.930" stop-color="#e26825"/><stop offset="0.955" stop-color="#ce5329"/><stop offset="0.975" stop-color="#b94528"/><stop offset="1.000" stop-color="#963622"/></linearGradient><linearGradient id="g44" x1="0" y1="0" x2="0" y2="1"><stop offset="0.000" stop-color="#fdfce1"/><stop offset="0.200" stop-color="#fdfada"/><stop offset="0.350" stop-color="#fdf8ce"/><stop offset="0.450" stop-color="#fcf6c2"/><stop offset="0.550" stop-color="#fcf2b0"/><stop offset="0.620" stop-color="#fceba3"/><stop offset="0.680" stop-color="#fbe394"/><stop offset="0.740" stop-color="#fbd577"/><stop offset="0.790" stop-color="#fbc456"/><stop offset="0.830" stop-color="#faaf40"/><stop offset="0.870" stop-color="#f7962a"/><stop offset="0.900" stop-color="#f08227"/><stop offset="0.930" stop-color="#e56a25"/><stop offset="0.955" stop-color="#d05628"/><stop offset="0.975" stop-color="#bd4728"/><stop offset="1.000" stop-color="#9a3822"/></linearGradient><linearGradient id="g45" x1="0" y1="0" x2="0" y2="1"><stop offset="0.000" stop-color="#fdfce1"/><stop offset="0.200" stop-color="#fdfada"/><stop offset="0.350" stop-color="#fdf8cf"/><stop offset="0.450" stop-color="#fcf6c3"/><stop offset="0.550" stop-color="#fcf2b1"/><stop offset="0.620" stop-color="#fceba3"/><stop offset="0.680" stop-color="#fbe395"/><stop offset="0.740" stop-color="#fbd679"/><stop offset="0.790" stop-color="#fbc558"/><stop offset="0.830" stop-color="#fab141"/><stop offset="0.870" stop-color="#f8982a"/><stop offset="0.900" stop-color="#f18427"/><stop offset="0.930" stop-color="#e76d25"/><stop offset="0.955" stop-color="#d35828"/><stop offset="0.975" stop-color="#c04829"/><stop offset="1.000" stop-color="#9e3a23"/></linearGradient><linearGradient id="g46" x1="0" y1="0" x2="0" y2="1"><stop offset="0.000" stop-color="#fdfce1"/><stop offset="0.200" stop-color="#fdfadb"/><stop offset="0.350" stop-color="#fdf8cf"/><stop offset="0.450" stop-color="#fcf6c3"/><stop offset="0.550" stop-color="#fcf3b1"/><stop offset="0.620" stop-color="#fceca4"/><stop offset="0.680" stop-color="#fbe496"/><stop offset="0.740" stop-color="#fbd77b"/><stop offset="0.790" stop-color="#fbc65a"/><stop offset="0.830" stop-color="#fab343"/><stop offset="0.870" stop-color="#f89a2c"/><stop offset="0.900" stop-color="#f28627"/><stop offset="0.930" stop-color="#e96e24"/><stop offset="0.955" stop-color="#d55b27"/><stop offset="0.975" stop-color="#c44a2a"/><stop offset="1.000" stop-color="#a23c24"/></linearGradient><linearGradient id="g47" x1="0" y1="0" x2="0" y2="1"><stop offset="0.000" stop-color="#fdfce1"/><stop offset="0.200" stop-color="#fdfadb"/><stop offset="0.350" stop-color="#fdf8cf"/><stop offset="0.450" stop-color="#fcf6c4"/><stop offset="0.550" stop-color="#fcf3b1"/><stop offset="0.620" stop-color="#fceca4"/><stop offset="0.680" stop-color="#fbe496"/><stop offset="0.740" stop-color="#fbd87d"/><stop offset="0.790" stop-color="#fbc75c"/><stop offset="0.830" stop-color="#fab544"/><stop offset="0.870" stop-color="#f89c2e"/><stop offset="0.900" stop-color="#f28828"/><stop offset="0.930" stop-color="#ea7124"/><stop offset="0.955" stop-color="#d85d27"/><stop offset="0.975" stop-color="#c74c2a"/><stop offset="1.000" stop-color="#a63d24"/></linearGradient><linearGradient id="g48" x1="0" y1="0" x2="0" y2="1"><stop offset="0.000" stop-color="#fdfce1"/><stop offset="0.200" stop-color="#fdfadb"/><stop offset="0.350" stop-color="#fdf8d0"/><stop offset="0.450" stop-color="#fcf6c4"/><stop offset="0.550" stop-color="#fcf3b2"/><stop offset="0.620" stop-color="#fceca5"/><stop offset="0.680" stop-color="#fbe597"/><stop offset="0.740" stop-color="#fbd87e"/><stop offset="0.790" stop-color="#fbc85e"/><stop offset="0.830" stop-color="#fab646"/><stop offset="0.870" stop-color="#f89e30"/><stop offset="0.900" stop-color="#f38a28"/><stop offset="0.930" stop-color="#eb7325"/><stop offset="0.955" stop-color="#da5f27"/><stop offset="0.975" stop-color="#ca4f29"/><stop offset="1.000" stop-color="#aa3f25"/></linearGradient><linearGradient id="g49" x1="0" y1="0" x2="0" y2="1"><stop offset="0.000" stop-color="#fdfce2"/><stop offset="0.200" stop-color="#fdfadb"/><stop offset="0.350" stop-color="#fdf8d0"/><stop offset="0.450" stop-color="#fcf6c4"/><stop offset="0.550" stop-color="#fcf3b3"/><stop offset="0.620" stop-color="#fceda6"/><stop offset="0.680" stop-color="#fbe598"/><stop offset="0.740" stop-color="#fbd980"/><stop offset="0.790" stop-color="#fbc960"/><stop offset="0.830" stop-color="#fab847"/><stop offset="0.870" stop-color="#f9a031"/><stop offset="0.900" stop-color="#f48c28"/><stop offset="0.930" stop-color="#ec7525"/><stop offset="0.955" stop-color="#dc6226"/><stop offset="0.975" stop-color="#cc5129"/><stop offset="1.000" stop-color="#ae4126"/></linearGradient><linearGradient id="g50" x1="0" y1="0" x2="0" y2="1"><stop offset="0.000" stop-color="#fdfce2"/><stop offset="0.200" stop-color="#fdfadb"/><stop offset="0.350" stop-color="#fdf8d0"/><stop offset="0.450" stop-color="#fcf6c4"/><stop offset="0.550" stop-color="#fcf3b3"/><stop offset="0.620" stop-color="#fceda7"/><stop offset="0.680" stop-color="#fbe699"/><stop offset="0.740" stop-color="#fbda82"/><stop offset="0.790" stop-color="#fbca62"/><stop offset="0.830" stop-color="#fab949"/><stop offset="0.870" stop-color="#f9a233"/><stop offset="0.900" stop-color="#f48e28"/><stop offset="0.930" stop-color="#ed7825"/><stop offset="0.955" stop-color="#de6426"/><stop offset="0.975" stop-color="#ce5329"/><stop offset="1.000" stop-color="#b24227"/></linearGradient><linearGradient id="g51" x1="0" y1="0" x2="0" y2="1"><stop offset="0.000" stop-color="#fdfce2"/><stop offset="0.200" stop-color="#fdfadb"/><stop offset="0.350" stop-color="#fdf9d1"/><stop offset="0.450" stop-color="#fcf7c5"/><stop offset="0.550" stop-color="#fcf3b3"/><stop offset="0.620" stop-color="#fceda7"/><stop offset="0.680" stop-color="#fbe699"/><stop offset="0.740" stop-color="#fbdb83"/><stop offset="0.790" stop-color="#fbcb64"/><stop offset="0.830" stop-color="#fbbb4a"/><stop offset="0.870" stop-color="#f9a435"/><stop offset="0.900" stop-color="#f59029"/><stop offset="0.930" stop-color="#ed7a25"/><stop offset="0.955" stop-color="#e16626"/><stop offset="0.975" stop-color="#d05628"/><stop offset="1.000" stop-color="#b54427"/></linearGradient><linearGradient id="g52" x1="0" y1="0" x2="0" y2="1"><stop offset="0.000" stop-color="#fdfce2"/><stop offset="0.200" stop-color="#fdfbdb"/><stop offset="0.350" stop-color="#fdf9d1"/><stop offset="0.450" stop-color="#fcf7c5"/><stop offset="0.550" stop-color="#fcf3b4"/><stop offset="0.620" stop-color="#fceea8"/><stop offset="0.680" stop-color="#fbe69a"/><stop offset="0.740" stop-color="#fbdc85"/><stop offset="0.790" stop-color="#fbcc66"/><stop offset="0.830" stop-color="#fbbc4c"/><stop offset="0.870" stop-color="#f9a536"/><stop offset="0.900" stop-color="#f69129"/><stop offset="0.930" stop-color="#ee7c26"/><stop offset="0.955" stop-color="#e36925"/><stop offset="0.975" stop-color="#d35828"/><stop offset="1.000" stop-color="#b94628"/></linearGradient><linearGradient id="g53" x1="0" y1="0" x2="0" y2="1"><stop offset="0.000" stop-color="#fdfce2"/><stop offset="0.200" stop-color="#fdfbdb"/><stop offset="0.350" stop-color="#fdf9d1"/><stop offset="0.450" stop-color="#fcf7c6"/><stop offset="0.550" stop-color="#fcf4b5"/><stop offset="0.620" stop-color="#fceea8"/><stop offset="0.680" stop-color="#fbe79b"/><stop offset="0.740" stop-color="#fbdc86"/><stop offset="0.790" stop-color="#fbcd68"/><stop offset="0.830" stop-color="#fbbe4d"/><stop offset="0.870" stop-color="#f9a738"/><stop offset="0.900" stop-color="#f69329"/><stop offset="0.930" stop-color="#ef7e26"/><stop offset="0.955" stop-color="#e56a25"/><stop offset="0.975" stop-color="#d55a28"/><stop offset="1.000" stop-color="#bd4728"/></linearGradient><linearGradient id="g54" x1="0" y1="0" x2="0" y2="1"><stop offset="0.000" stop-color="#fdfce2"/><stop offset="0.200" stop-color="#fdfbdb"/><stop offset="0.350" stop-color="#fdf9d1"/><stop offset="0.450" stop-color="#fcf7c6"/><stop offset="0.550" stop-color="#fcf4b6"/><stop offset="0.620" stop-color="#fceea8"/><stop offset="0.680" stop-color="#fbe79b"/><stop offset="0.740" stop-color="#fbdd88"/><stop offset="0.790" stop-color="#fbce6a"/><stop offset="0.830" stop-color="#fbbf4e"/><stop offset="0.870" stop-color="#f9a839"/><stop offset="0.900" stop-color="#f7952a"/><stop offset="0.930" stop-color="#f08026"/><stop offset="0.955" stop-color="#e66c25"/><stop offset="0.975" stop-color="#d75d27"/><stop offset="1.000" stop-color="#c04829"/></linearGradient><linearGradient id="g55" x1="0" y1="0" x2="0" y2="1"><stop offset="0.000" stop-color="#fdfce2"/><stop offset="0.200" stop-color="#fdfbdb"/><stop offset="0.350" stop-color="#fdf9d1"/><stop offset="0.450" stop-color="#fcf7c7"/><stop offset="0.550" stop-color="#fcf4b6"/><stop offset="0.620" stop-color="#fceea9"/><stop offset="0.680" stop-color="#fbe79c"/><stop offset="0.740" stop-color="#fbdd89"/><stop offset="0.790" stop-color="#fbce6b"/><stop offset="0.830" stop-color="#fbc04f"/><stop offset="0.870" stop-color="#f9aa3a"/><stop offset="0.900" stop-color="#f7962a"/><stop offset="0.930" stop-color="#f08227"/><stop offset="0.955" stop-color="#e86e24"/><stop offset="0.975" stop-color="#d95e27"/><stop offset="1.000" stop-color="#c34a29"/></linearGradient><linearGradient id="g56" x1="0" y1="0" x2="0" y2="1"><stop offset="0.000" stop-color="#fdfce2"/><stop offset="0.200" stop-color="#fdfbdb"/><stop offset="0.350" stop-color="#fdf9d1"/><stop offset="0.450" stop-color="#fcf7c7"/><stop offset="0.550" stop-color="#fcf4b7"/><stop offset="0.620" stop-color="#fcefa9"/><stop offset="0.680" stop-color="#fbe89d"/><stop offset="0.740" stop-color="#fbde8a"/><stop offset="0.790" stop-color="#fbcf6d"/><stop offset="0.830" stop-color="#fbc151"/><stop offset="0.870" stop-color="#f9ab3c"/><stop offset="0.900" stop-color="#f8982a"/><stop offset="0.930" stop-color="#f18327"/><stop offset="0.955" stop-color="#ea7024"/><stop offset="0.975" stop-color="#da6027"/><stop offset="1.000" stop-color="#c54b2a"/></linearGradient><linearGradient id="g57" x1="0" y1="0" x2="0" y2="1"><stop offset="0.000" stop-color="#fdfce2"/><stop offset="0.200" stop-color="#fdfbdb"/><stop offset="0.350" stop-color="#fdf9d1"/><stop offset="0.450" stop-color="#fcf7c7"/><stop offset="0.550" stop-color="#fcf4b7"/><stop offset="0.620" stop-color="#fcefaa"/><stop offset="0.680" stop-color="#fbe89d"/><stop offset="0.740" stop-color="#fbde8b"/><stop offset="0.790" stop-color="#fbd06e"/><stop offset="0.830" stop-color="#fbc252"/><stop offset="0.870" stop-color="#f9ac3d"/><stop offset="0.900" stop-color="#f89a2b"/><stop offset="0.930" stop-color="#f18527"/><stop offset="0.955" stop-color="#eb7124"/><stop offset="0.975" stop-color="#dc6226"/><stop offset="1.000" stop-color="#c74c2a"/></linearGradient><linearGradient id="g58" x1="0" y1="0" x2="0" y2="1"><stop offset="0.000" stop-color="#fdfce2"/><stop offset="0.200" stop-color="#fdfbdc"/><stop offset="0.350" stop-color="#fdf9d2"/><stop offset="0.450" stop-color="#fcf7c7"/><stop offset="0.550" stop-color="#fcf4b7"/><stop offset="0.620" stop-color="#fcefaa"/><stop offset="0.680" stop-color="#fbe89d"/><stop offset="0.740" stop-color="#fbdf8c"/><stop offset="0.790" stop-color="#fbd06f"/><stop offset="0.830" stop-color="#fbc354"/><stop offset="0.870" stop-color="#faae3e"/><stop offset="0.900" stop-color="#f89b2d"/><stop offset="0.930" stop-color="#f28627"/><stop offset="0.955" stop-color="#eb7324"/><stop offset="0.975" stop-color="#de6326"/><stop offset="1.000" stop-color="#c94e2a"/></linearGradient><linearGradient id="g59" x1="0" y1="0" x2="0" y2="1"><stop offset="0.000" stop-color="#fdfce2"/><stop offset="0.200" stop-color="#fdfbdc"/><stop offset="0.350" stop-color="#fdf9d2"/><stop offset="0.450" stop-color="#fcf7c7"/><stop offset="0.550" stop-color="#fcf4b7"/><stop offset="0.620" stop-color="#fcefab"/><stop offset="0.680" stop-color="#fbe89e"/><stop offset="0.740" stop-color="#fbdf8d"/><stop offset="0.790" stop-color="#fbd170"/><stop offset="0.830" stop-color="#fbc354"/><stop offset="0.870" stop-color="#faae3f"/><stop offset="0.900" stop-color="#f89c2d"/><stop offset="0.930" stop-color="#f28728"/><stop offset="0.955" stop-color="#eb7425"/><stop offset="0.975" stop-color="#df6526"/><stop offset="1.000" stop-color="#cb5029"/></linearGradient><linearGradient id="g60" x1="0" y1="0" x2="0" y2="1"><stop offset="0.000" stop-color="#fdfce2"/><stop offset="0.200" stop-color="#fdfbdc"/><stop offset="0.350" stop-color="#fdf9d2"/><stop offset="0.450" stop-color="#fcf7c7"/><stop offset="0.550" stop-color="#fcf4b8"/><stop offset="0.620" stop-color="#fcefab"/><stop offset="0.680" stop-color="#fbe99e"/><stop offset="0.740" stop-color="#fbe08e"/><stop offset="0.790" stop-color="#fbd171"/><stop offset="0.830" stop-color="#fbc455"/><stop offset="0.870" stop-color="#faaf40"/><stop offset="0.900" stop-color="#f89d2e"/><stop offset="0.930" stop-color="#f38928"/><stop offset="0.955" stop-color="#ec7525"/><stop offset="0.975" stop-color="#e06626"/><stop offset="1.000" stop-color="#cc5129"/></linearGradient><linearGradient id="g61" x1="0" y1="0" x2="0" y2="1"><stop offset="0.000" stop-color="#fdfce2"/><stop offset="0.200" stop-color="#fdfbdc"/><stop offset="0.350" stop-color="#fdf9d2"/><stop offset="0.450" stop-color="#fcf7c7"/><stop offset="0.550" stop-color="#fcf4b8"/><stop offset="0.620" stop-color="#fcefab"/><stop offset="0.680" stop-color="#fbe99e"/><stop offset="0.740" stop-color="#fbe08e"/><stop offset="0.790" stop-color="#fbd272"/><stop offset="0.830" stop-color="#fbc456"/><stop offset="0.870" stop-color="#fab040"/><stop offset="0.900" stop-color="#f89d2f"/><stop offset="0.930" stop-color="#f38928"/><stop offset="0.955" stop-color="#ec7625"/><stop offset="0.975" stop-color="#e16725"/><stop offset="1.000" stop-color="#cd5229"/></linearGradient><linearGradient id="g62" x1="0" y1="0" x2="0" y2="1"><stop offset="0.000" stop-color="#fdfce2"/><stop offset="0.200" stop-color="#fdfbdc"/><stop offset="0.350" stop-color="#fdf9d2"/><stop offset="0.450" stop-color="#fcf7c8"/><stop offset="0.550" stop-color="#fcf4b8"/><stop offset="0.620" stop-color="#fcefab"/><stop offset="0.680" stop-color="#fbe99f"/><stop offset="0.740" stop-color="#fbe08e"/><stop offset="0.790" stop-color="#fbd273"/><stop offset="0.830" stop-color="#fbc557"/><stop offset="0.870" stop-color="#fab141"/><stop offset="0.900" stop-color="#f89e30"/><stop offset="0.930" stop-color="#f38a28"/><stop offset="0.955" stop-color="#ec7725"/><stop offset="0.975" stop-color="#e26825"/><stop offset="1.000" stop-color="#cd5329"/></linearGradient><linearGradient id="g63" x1="0" y1="0" x2="0" y2="1"><stop offset="0.000" stop-color="#fdfce2"/><stop offset="0.200" stop-color="#fdfbdc"/><stop offset="0.350" stop-color="#fdf9d2"/><stop offset="0.450" stop-color="#fcf7c8"/><stop offset="0.550" stop-color="#fcf4b8"/><stop offset="0.620" stop-color="#fcefab"/><stop offset="0.680" stop-color="#fbe99f"/><stop offset="0.740" stop-color="#fbe18f"/><stop offset="0.790" stop-color="#fbd273"/><stop offset="0.830" stop-color="#fbc557"/><stop offset="0.870" stop-color="#fab141"/><stop offset="0.900" stop-color="#f89f30"/><stop offset="0.930" stop-color="#f38b28"/><stop offset="0.955" stop-color="#ed7825"/><stop offset="0.975" stop-color="#e26825"/><stop offset="1.000" stop-color="#cf5429"/></linearGradient><linearGradient id="g64" x1="0" y1="0" x2="0" y2="1"><stop offset="0.000" stop-color="#fdfce2"/><stop offset="0.200" stop-color="#fdfbdc"/><stop offset="0.350" stop-color="#fdf9d2"/><stop offset="0.450" stop-color="#fcf7c8"/><stop offset="0.550" stop-color="#fcf4b8"/><stop offset="0.620" stop-color="#fcefab"/><stop offset="0.680" stop-color="#fbe99f"/><stop offset="0.740" stop-color="#fbe18f"/><stop offset="0.790" stop-color="#fbd374"/><stop offset="0.830" stop-color="#fbc558"/><stop offset="0.870" stop-color="#fab141"/><stop offset="0.900" stop-color="#f99f31"/><stop offset="0.930" stop-color="#f48b28"/><stop offset="0.955" stop-color="#ed7825"/><stop offset="0.975" stop-color="#e36925"/><stop offset="1.000" stop-color="#cf5429"/></linearGradient><linearGradient id="g65" x1="0" y1="0" x2="0" y2="1"><stop offset="0.000" stop-color="#fdfce2"/><stop offset="0.200" stop-color="#fdfbdc"/><stop offset="0.350" stop-color="#fdf9d2"/><stop offset="0.450" stop-color="#fcf7c8"/><stop offset="0.550" stop-color="#fcf4b8"/><stop offset="0.620" stop-color="#fcf0ac"/><stop offset="0.680" stop-color="#fbe99f"/><stop offset="0.740" stop-color="#fbe18f"/><stop offset="0.790" stop-color="#fbd374"/><stop offset="0.830" stop-color="#fbc558"/><stop offset="0.870" stop-color="#fab141"/><stop offset="0.900" stop-color="#f99f31"/><stop offset="0.930" stop-color="#f48b28"/><stop offset="0.955" stop-color="#ed7825"/><stop offset="0.975" stop-color="#e36925"/><stop offset="1.000" stop-color="#cf5428"/></linearGradient><linearGradient id="g66" x1="0" y1="0" x2="0" y2="1"><stop offset="0.000" stop-color="#fdfce2"/><stop offset="0.200" stop-color="#fdfbdc"/><stop offset="0.350" stop-color="#fdf9d2"/><stop offset="0.450" stop-color="#fcf7c8"/><stop offset="0.550" stop-color="#fcf4b9"/><stop offset="0.620" stop-color="#fcf0ac"/><stop offset="0.680" stop-color="#fbe99f"/><stop offset="0.740" stop-color="#fbe18f"/><stop offset="0.790" stop-color="#fbd374"/><stop offset="0.830" stop-color="#fbc558"/><stop offset="0.870" stop-color="#fab141"/><stop offset="0.900" stop-color="#f99f31"/><stop offset="0.930" stop-color="#f48b28"/><stop offset="0.955" stop-color="#ed7925"/><stop offset="0.975" stop-color="#e36925"/><stop offset="1.000" stop-color="#cf5428"/></linearGradient><linearGradient id="g67" x1="0" y1="0" x2="0" y2="1"><stop offset="0.000" stop-color="#fdfce2"/><stop offset="0.200" stop-color="#fdfbdc"/><stop offset="0.350" stop-color="#fdf9d2"/><stop offset="0.450" stop-color="#fcf7c8"/><stop offset="0.550" stop-color="#fcf4b8"/><stop offset="0.620" stop-color="#fcf0ac"/><stop offset="0.680" stop-color="#fbe99f"/><stop offset="0.740" stop-color="#fbe18f"/><stop offset="0.790" stop-color="#fbd374"/><stop offset="0.830" stop-color="#fbc558"/><stop offset="0.870" stop-color="#fab141"/><stop offset="0.900" stop-color="#f99f31"/><stop offset="0.930" stop-color="#f48b28"/><stop offset="0.955" stop-color="#ed7825"/><stop offset="0.975" stop-color="#e36925"/><stop offset="1.000" stop-color="#cf5428"/></linearGradient><linearGradient id="g68" x1="0" y1="0" x2="0" y2="1"><stop offset="0.000" stop-color="#fdfce2"/><stop offset="0.200" stop-color="#fdfbdc"/><stop offset="0.350" stop-color="#fdf9d2"/><stop offset="0.450" stop-color="#fcf7c8"/><stop offset="0.550" stop-color="#fcf4b8"/><stop offset="0.620" stop-color="#fcefab"/><stop offset="0.680" stop-color="#fbe99f"/><stop offset="0.740" stop-color="#fbe18f"/><stop offset="0.790" stop-color="#fbd374"/><stop offset="0.830" stop-color="#fbc558"/><stop offset="0.870" stop-color="#fab141"/><stop offset="0.900" stop-color="#f89f30"/><stop offset="0.930" stop-color="#f48b28"/><stop offset="0.955" stop-color="#ed7825"/><stop offset="0.975" stop-color="#e36925"/><stop offset="1.000" stop-color="#cf5429"/></linearGradient><linearGradient id="g69" x1="0" y1="0" x2="0" y2="1"><stop offset="0.000" stop-color="#fdfce2"/><stop offset="0.200" stop-color="#fdfbdc"/><stop offset="0.350" stop-color="#fdf9d2"/><stop offset="0.450" stop-color="#fcf7c8"/><stop offset="0.550" stop-color="#fcf4b8"/><stop offset="0.620" stop-color="#fcefab"/><stop offset="0.680" stop-color="#fbe99f"/><stop offset="0.740" stop-color="#fbe18f"/><stop offset="0.790" stop-color="#fbd273"/><stop offset="0.830" stop-color="#fbc557"/><stop offset="0.870" stop-color="#fab141"/><stop offset="0.900" stop-color="#f89f30"/><stop offset="0.930" stop-color="#f38b28"/><stop offset="0.955" stop-color="#ed7825"/><stop offset="0.975" stop-color="#e26825"/><stop offset="1.000" stop-color="#ce5329"/></linearGradient><linearGradient id="g70" x1="0" y1="0" x2="0" y2="1"><stop offset="0.000" stop-color="#fdfce2"/><stop offset="0.200" stop-color="#fdfbdc"/><stop offset="0.350" stop-color="#fdf9d2"/><stop offset="0.450" stop-color="#fcf7c7"/><stop offset="0.550" stop-color="#fcf4b8"/><stop offset="0.620" stop-color="#fcefab"/><stop offset="0.680" stop-color="#fbe99f"/><stop offset="0.740" stop-color="#fbe08e"/><stop offset="0.790" stop-color="#fbd273"/><stop offset="0.830" stop-color="#fbc456"/><stop offset="0.870" stop-color="#fab040"/><stop offset="0.900" stop-color="#f89e30"/><stop offset="0.930" stop-color="#f38a28"/><stop offset="0.955" stop-color="#ec7725"/><stop offset="0.975" stop-color="#e26825"/><stop offset="1.000" stop-color="#cd5329"/></linearGradient><linearGradient id="g71" x1="0" y1="0" x2="0" y2="1"><stop offset="0.000" stop-color="#fdfce2"/><stop offset="0.200" stop-color="#fdfbdc"/><stop offset="0.350" stop-color="#fdf9d2"/><stop offset="0.450" stop-color="#fcf7c7"/><stop offset="0.550" stop-color="#fcf4b8"/><stop offset="0.620" stop-color="#fcefab"/><stop offset="0.680" stop-color="#fbe99e"/><stop offset="0.740" stop-color="#fbe08e"/><stop offset="0.790" stop-color="#fbd272"/><stop offset="0.830" stop-color="#fbc456"/><stop offset="0.870" stop-color="#faaf40"/><stop offset="0.900" stop-color="#f89d2f"/><stop offset="0.930" stop-color="#f38928"/><stop offset="0.955" stop-color="#ec7625"/><stop offset="0.975" stop-color="#e16626"/><stop offset="1.000" stop-color="#cc5229"/></linearGradient><linearGradient id="g72" x1="0" y1="0" x2="0" y2="1"><stop offset="0.000" stop-color="#fdfce2"/><stop offset="0.200" stop-color="#fdfbdc"/><stop offset="0.350" stop-color="#fdf9d2"/><stop offset="0.450" stop-color="#fcf7c7"/><stop offset="0.550" stop-color="#fcf4b7"/><stop offset="0.620" stop-color="#fcefab"/><stop offset="0.680" stop-color="#fbe89e"/><stop offset="0.740" stop-color="#fbe08e"/><stop offset="0.790" stop-color="#fbd171"/><stop offset="0.830" stop-color="#fbc354"/><stop offset="0.870" stop-color="#faaf3f"/><stop offset="0.900" stop-color="#f89c2e"/><stop offset="0.930" stop-color="#f28828"/><stop offset="0.955" stop-color="#ec7525"/><stop offset="0.975" stop-color="#e06526"/><stop offset="1.000" stop-color="#cb5029"/></linearGradient><linearGradient id="g73" x1="0" y1="0" x2="0" y2="1"><stop offset="0.000" stop-color="#fdfce2"/><stop offset="0.200" stop-color="#fdfbdc"/><stop offset="0.350" stop-color="#fdf9d2"/><stop offset="0.450" stop-color="#fcf7c7"/><stop offset="0.550" stop-color="#fcf4b7"/><stop offset="0.620" stop-color="#fcefaa"/><stop offset="0.680" stop-color="#fbe89e"/><stop offset="0.740" stop-color="#fbdf8d"/><stop offset="0.790" stop-color="#fbd170"/><stop offset="0.830" stop-color="#fbc354"/><stop offset="0.870" stop-color="#faae3e"/><stop offset="0.900" stop-color="#f89b2d"/><stop offset="0.930" stop-color="#f28727"/><stop offset="0.955" stop-color="#eb7325"/><stop offset="0.975" stop-color="#de6426"/><stop offset="1.000" stop-color="#ca4f29"/></linearGradient><linearGradient id="g74" x1="0" y1="0" x2="0" y2="1"><stop offset="0.000" stop-color="#fdfce2"/><stop offset="0.200" stop-color="#fdfbdb"/><stop offset="0.350" stop-color="#fdf9d2"/><stop offset="0.450" stop-color="#fcf7c7"/><stop offset="0.550" stop-color="#fcf4b7"/><stop offset="0.620" stop-color="#fcefaa"/><stop offset="0.680" stop-color="#fbe89d"/><stop offset="0.740" stop-color="#fbdf8c"/><stop offset="0.790" stop-color="#fbd06e"/><stop offset="0.830" stop-color="#fbc253"/><stop offset="0.870" stop-color="#faad3d"/><stop offset="0.900" stop-color="#f89a2b"/><stop offset="0.930" stop-color="#f18527"/><stop offset="0.955" stop-color="#eb7224"/><stop offset="0.975" stop-color="#dd6226"/><stop offset="1.000" stop-color="#c84d2a"/></linearGradient><linearGradient id="g75" x1="0" y1="0" x2="0" y2="1"><stop offset="0.000" stop-color="#fdfce2"/><stop offset="0.200" stop-color="#fdfbdb"/><stop offset="0.350" stop-color="#fdf9d1"/><stop offset="0.450" stop-color="#fcf7c7"/><stop offset="0.550" stop-color="#fcf4b7"/><stop offset="0.620" stop-color="#fcefa9"/><stop offset="0.680" stop-color="#fbe89d"/><stop offset="0.740" stop-color="#fbde8a"/><stop offset="0.790" stop-color="#fbcf6d"/><stop offset="0.830" stop-color="#fbc151"/><stop offset="0.870" stop-color="#f9ac3c"/><stop offset="0.900" stop-color="#f8982a"/><stop offset="0.930" stop-color="#f18427"/><stop offset="0.955" stop-color="#ea7024"/><stop offset="0.975" stop-color="#db6127"/><stop offset="1.000" stop-color="#c64b2a"/></linearGradient><linearGradient id="g76" x1="0" y1="0" x2="0" y2="1"><stop offset="0.000" stop-color="#fdfce2"/><stop offset="0.200" stop-color="#fdfbdb"/><stop offset="0.350" stop-color="#fdf9d1"/><stop offset="0.450" stop-color="#fcf7c7"/><stop offset="0.550" stop-color="#fcf4b6"/><stop offset="0.620" stop-color="#fceea9"/><stop offset="0.680" stop-color="#fbe79c"/><stop offset="0.740" stop-color="#fbdd89"/><stop offset="0.790" stop-color="#fbce6b"/><stop offset="0.830" stop-color="#fbc04f"/><stop offset="0.870" stop-color="#f9aa3a"/><stop offset="0.900" stop-color="#f7962a"/><stop offset="0.930" stop-color="#f08227"/><stop offset="0.955" stop-color="#e96e24"/><stop offset="0.975" stop-color="#d95e27"/><stop offset="1.000" stop-color="#c34a29"/></linearGradient><linearGradient id="g77" x1="0" y1="0" x2="0" y2="1"><stop offset="0.000" stop-color="#fdfce2"/><stop offset="0.200" stop-color="#fdfbdb"/><stop offset="0.350" stop-color="#fdf9d1"/><stop offset="0.450" stop-color="#fcf7c6"/><stop offset="0.550" stop-color="#fcf4b5"/><stop offset="0.620" stop-color="#fceea8"/><stop offset="0.680" stop-color="#fbe79b"/><stop offset="0.740" stop-color="#fbdd88"/><stop offset="0.790" stop-color="#fbcd69"/><stop offset="0.830" stop-color="#fbbf4e"/><stop offset="0.870" stop-color="#f9a839"/><stop offset="0.900" stop-color="#f7952a"/><stop offset="0.930" stop-color="#f08026"/><stop offset="0.955" stop-color="#e66c25"/><stop offset="0.975" stop-color="#d65c27"/><stop offset="1.000" stop-color="#bf4829"/></linearGradient><linearGradient id="g78" x1="0" y1="0" x2="0" y2="1"><stop offset="0.000" stop-color="#fdfce2"/><stop offset="0.200" stop-color="#fdfbdb"/><stop offset="0.350" stop-color="#fdf9d1"/><stop offset="0.450" stop-color="#fcf7c6"/><stop offset="0.550" stop-color="#fcf4b5"/><stop offset="0.620" stop-color="#fceea8"/><stop offset="0.680" stop-color="#fbe69a"/><stop offset="0.740" stop-color="#fbdc86"/><stop offset="0.790" stop-color="#fbcc67"/><stop offset="0.830" stop-color="#fbbd4c"/><stop offset="0.870" stop-color="#f9a637"/><stop offset="0.900" stop-color="#f69329"/><stop offset="0.930" stop-color="#ef7d26"/><stop offset="0.955" stop-color="#e46a25"/><stop offset="0.975" stop-color="#d45a28"/><stop offset="1.000" stop-color="#bc4728"/></linearGradient><linearGradient id="g79" x1="0" y1="0" x2="0" y2="1"><stop offset="0.000" stop-color="#fdfce2"/><stop offset="0.200" stop-color="#fdfbdb"/><stop offset="0.350" stop-color="#fdf9d1"/><stop offset="0.450" stop-color="#fcf7c5"/><stop offset="0.550" stop-color="#fcf3b4"/><stop offset="0.620" stop-color="#fceda7"/><stop offset="0.680" stop-color="#fbe69a"/><stop offset="0.740" stop-color="#fbdb84"/><stop offset="0.790" stop-color="#fbcb65"/><stop offset="0.830" stop-color="#fbbc4b"/><stop offset="0.870" stop-color="#f9a536"/><stop offset="0.900" stop-color="#f59129"/><stop offset="0.930" stop-color="#ee7b26"/><stop offset="0.955" stop-color="#e26825"/><stop offset="0.975" stop-color="#d15728"/><stop offset="1.000" stop-color="#b84527"/></linearGradient><linearGradient id="g80" x1="0" y1="0" x2="0" y2="1"><stop offset="0.000" stop-color="#fdfce2"/><stop offset="0.200" stop-color="#fdfadb"/><stop offset="0.350" stop-color="#fdf9d1"/><stop offset="0.450" stop-color="#fcf6c4"/><stop offset="0.550" stop-color="#fcf3b3"/><stop offset="0.620" stop-color="#fceda7"/><stop offset="0.680" stop-color="#fbe699"/><stop offset="0.740" stop-color="#fbda82"/><stop offset="0.790" stop-color="#fbcb63"/><stop offset="0.830" stop-color="#faba49"/><stop offset="0.870" stop-color="#f9a233"/><stop offset="0.900" stop-color="#f58e29"/><stop offset="0.930" stop-color="#ed7825"/><stop offset="0.955" stop-color="#df6526"/><stop offset="0.975" stop-color="#cf5429"/><stop offset="1.000" stop-color="#b34327"/></linearGradient><linearGradient id="g81" x1="0" y1="0" x2="0" y2="1"><stop offset="0.000" stop-color="#fdfce2"/><stop offset="0.200" stop-color="#fdfadb"/><stop offset="0.350" stop-color="#fdf8d0"/><stop offset="0.450" stop-color="#fcf6c4"/><stop offset="0.550" stop-color="#fcf3b3"/><stop offset="0.620" stop-color="#fceca6"/><stop offset="0.680" stop-color="#fbe598"/><stop offset="0.740" stop-color="#fbd980"/><stop offset="0.790" stop-color="#fbc960"/><stop offset="0.830" stop-color="#fab847"/><stop offset="0.870" stop-color="#f9a031"/><stop offset="0.900" stop-color="#f48c28"/><stop offset="0.930" stop-color="#ec7525"/><stop offset="0.955" stop-color="#dc6226"/><stop offset="0.975" stop-color="#cc5129"/><stop offset="1.000" stop-color="#ae4126"/></linearGradient><linearGradient id="g82" x1="0" y1="0" x2="0" y2="1"><stop offset="0.000" stop-color="#fdfce1"/><stop offset="0.200" stop-color="#fdfadb"/><stop offset="0.350" stop-color="#fdf8d0"/><stop offset="0.450" stop-color="#fcf6c4"/><stop offset="0.550" stop-color="#fcf3b2"/><stop offset="0.620" stop-color="#fceca5"/><stop offset="0.680" stop-color="#fbe597"/><stop offset="0.740" stop-color="#fbd87e"/><stop offset="0.790" stop-color="#fbc85d"/><stop offset="0.830" stop-color="#fab545"/><stop offset="0.870" stop-color="#f89d2f"/><stop offset="0.900" stop-color="#f38928"/><stop offset="0.930" stop-color="#eb7224"/><stop offset="0.955" stop-color="#d95e27"/><stop offset="0.975" stop-color="#c84d2a"/><stop offset="1.000" stop-color="#a93e25"/></linearGradient><linearGradient id="g83" x1="0" y1="0" x2="0" y2="1"><stop offset="0.000" stop-color="#fdfce1"/><stop offset="0.200" stop-color="#fdfadb"/><stop offset="0.350" stop-color="#fdf8cf"/><stop offset="0.450" stop-color="#fcf6c3"/><stop offset="0.550" stop-color="#fcf3b1"/><stop offset="0.620" stop-color="#fceca4"/><stop offset="0.680" stop-color="#fbe496"/><stop offset="0.740" stop-color="#fbd77b"/><stop offset="0.790" stop-color="#fbc65a"/><stop offset="0.830" stop-color="#fab343"/><stop offset="0.870" stop-color="#f89b2d"/><stop offset="0.900" stop-color="#f28627"/><stop offset="0.930" stop-color="#e96f24"/><stop offset="0.955" stop-color="#d65b27"/><stop offset="0.975" stop-color="#c44a2a"/><stop offset="1.000" stop-color="#a33c24"/></linearGradient><linearGradient id="g84" x1="0" y1="0" x2="0" y2="1"><stop offset="0.000" stop-color="#fdfce1"/><stop offset="0.200" stop-color="#fdfada"/><stop offset="0.350" stop-color="#fdf8ce"/><stop offset="0.450" stop-color="#fcf6c2"/><stop offset="0.550" stop-color="#fcf2b0"/><stop offset="0.620" stop-color="#fceba3"/><stop offset="0.680" stop-color="#fbe395"/><stop offset="0.740" stop-color="#fbd578"/><stop offset="0.790" stop-color="#fbc557"/><stop offset="0.830" stop-color="#fab141"/><stop offset="0.870" stop-color="#f8982a"/><stop offset="0.900" stop-color="#f18327"/><stop offset="0.930" stop-color="#e66c25"/><stop offset="0.955" stop-color="#d25728"/><stop offset="0.975" stop-color="#be4829"/><stop offset="1.000" stop-color="#9d3a23"/></linearGradient><linearGradient id="g85" x1="0" y1="0" x2="0" y2="1"><stop offset="0.000" stop-color="#fdfce1"/><stop offset="0.200" stop-color="#fdfada"/><stop offset="0.350" stop-color="#fdf8ce"/><stop offset="0.450" stop-color="#fcf6c1"/><stop offset="0.550" stop-color="#fcf2b0"/><stop offset="0.620" stop-color="#fceba2"/><stop offset="0.680" stop-color="#fbe393"/><stop offset="0.740" stop-color="#fbd476"/><stop offset="0.790" stop-color="#fbc354"/><stop offset="0.830" stop-color="#faae3f"/><stop offset="0.870" stop-color="#f79529"/><stop offset="0.900" stop-color="#ef7f26"/><stop offset="0.930" stop-color="#e26825"/><stop offset="0.955" stop-color="#ce5329"/><stop offset="0.975" stop-color="#b94528"/><stop offset="1.000" stop-color="#963622"/></linearGradient><linearGradient id="g86" x1="0" y1="0" x2="0" y2="1"><stop offset="0.000" stop-color="#fdfce1"/><stop offset="0.200" stop-color="#fdfada"/><stop offset="0.350" stop-color="#fdf8ce"/><stop offset="0.450" stop-color="#fcf6c0"/><stop offset="0.550" stop-color="#fcf1af"/><stop offset="0.620" stop-color="#fceaa1"/><stop offset="0.680" stop-color="#fbe292"/><stop offset="0.740" stop-color="#fbd273"/><stop offset="0.790" stop-color="#fbc151"/><stop offset="0.830" stop-color="#f9ab3c"/><stop offset="0.870" stop-color="#f69129"/><stop offset="0.900" stop-color="#ee7c26"/><stop offset="0.930" stop-color="#de6426"/><stop offset="0.955" stop-color="#ca4f29"/><stop offset="0.975" stop-color="#b24227"/><stop offset="1.000" stop-color="#903420"/></linearGradient><linearGradient id="g87" x1="0" y1="0" x2="0" y2="1"><stop offset="0.000" stop-color="#fdfce1"/><stop offset="0.200" stop-color="#fdfad9"/><stop offset="0.350" stop-color="#fdf8ce"/><stop offset="0.450" stop-color="#fcf6c0"/><stop offset="0.550" stop-color="#fcf1ae"/><stop offset="0.620" stop-color="#fbe9a0"/><stop offset="0.680" stop-color="#fbe190"/><stop offset="0.740" stop-color="#fbd170"/><stop offset="0.790" stop-color="#fbbf4e"/><stop offset="0.830" stop-color="#f9a839"/><stop offset="0.870" stop-color="#f48e28"/><stop offset="0.900" stop-color="#ed7825"/><stop offset="0.930" stop-color="#da6027"/><stop offset="0.955" stop-color="#c54b2a"/><stop offset="0.975" stop-color="#ab3f25"/><stop offset="1.000" stop-color="#89321f"/></linearGradient><linearGradient id="g88" x1="0" y1="0" x2="0" y2="1"><stop offset="0.000" stop-color="#fdfce1"/><stop offset="0.200" stop-color="#fdfad9"/><stop offset="0.350" stop-color="#fdf8cd"/><stop offset="0.450" stop-color="#fcf5bf"/><stop offset="0.550" stop-color="#fcf0ad"/><stop offset="0.620" stop-color="#fbe99f"/><stop offset="0.680" stop-color="#fbe18f"/><stop offset="0.740" stop-color="#fbcf6d"/><stop offset="0.790" stop-color="#fbbc4b"/><stop offset="0.830" stop-color="#f9a536"/><stop offset="0.870" stop-color="#f38a28"/><stop offset="0.900" stop-color="#eb7325"/><stop offset="0.930" stop-color="#d65b27"/><stop offset="0.955" stop-color="#bf4829"/><stop offset="0.975" stop-color="#a43c24"/><stop offset="1.000" stop-color="#83301d"/></linearGradient><linearGradient id="g89" x1="0" y1="0" x2="0" y2="1"><stop offset="0.000" stop-color="#fdfce1"/><stop offset="0.200" stop-color="#fdfad8"/><stop offset="0.350" stop-color="#fdf8cc"/><stop offset="0.450" stop-color="#fcf5be"/><stop offset="0.550" stop-color="#fcf0ac"/><stop offset="0.620" stop-color="#fbe89d"/><stop offset="0.680" stop-color="#fbdf8c"/><stop offset="0.740" stop-color="#fbcd69"/><stop offset="0.790" stop-color="#fab848"/><stop offset="0.830" stop-color="#f9a133"/><stop offset="0.870" stop-color="#f28627"/><stop offset="0.900" stop-color="#e96f24"/><stop offset="0.930" stop-color="#d15728"/><stop offset="0.955" stop-color="#b84527"/><stop offset="0.975" stop-color="#9d3923"/><stop offset="1.000" stop-color="#7b2d1b"/></linearGradient><linearGradient id="g90" x1="0" y1="0" x2="0" y2="1"><stop offset="0.000" stop-color="#fdfce1"/><stop offset="0.200" stop-color="#fdfad8"/><stop offset="0.350" stop-color="#fdf8cb"/><stop offset="0.450" stop-color="#fcf5bd"/><stop offset="0.550" stop-color="#fcefab"/><stop offset="0.620" stop-color="#fbe79c"/><stop offset="0.680" stop-color="#fbdd89"/><stop offset="0.740" stop-color="#fbcb65"/><stop offset="0.790" stop-color="#fab646"/><stop offset="0.830" stop-color="#f89d2f"/><stop offset="0.870" stop-color="#f08227"/><stop offset="0.900" stop-color="#e56a25"/><stop offset="0.930" stop-color="#cd5229"/><stop offset="0.955" stop-color="#b04126"/><stop offset="0.975" stop-color="#943521"/><stop offset="1.000" stop-color="#732b19"/></linearGradient><linearGradient id="g91" x1="0" y1="0" x2="0" y2="1"><stop offset="0.000" stop-color="#fdfce1"/><stop offset="0.200" stop-color="#fdfadb"/><stop offset="0.350" stop-color="#fdf8d0"/><stop offset="0.450" stop-color="#fcf7c5"/><stop offset="0.550" stop-color="#fcf3b4"/><stop offset="0.620" stop-color="#fceda7"/><stop offset="0.680" stop-color="#fbe69a"/><stop offset="0.740" stop-color="#fbdc86"/><stop offset="0.790" stop-color="#fbcd68"/><stop offset="0.830" stop-color="#fbbe4d"/><stop offset="0.870" stop-color="#f9a839"/><stop offset="0.900" stop-color="#f79529"/><stop offset="0.930" stop-color="#f08026"/><stop offset="0.955" stop-color="#e76d25"/><stop offset="0.975" stop-color="#d85d27"/><stop offset="1.000" stop-color="#c14929"/></linearGradient><linearGradient id="g92" x1="0" y1="0" x2="0" y2="1"><stop offset="0.000" stop-color="#fdfce1"/><stop offset="0.200" stop-color="#fdfadb"/><stop offset="0.350" stop-color="#fdf8d0"/><stop offset="0.450" stop-color="#fcf6c4"/><stop offset="0.550" stop-color="#fcf3b3"/><stop offset="0.620" stop-color="#fceda7"/><stop offset="0.680" stop-color="#fbe69a"/><stop offset="0.740" stop-color="#fbdc85"/><stop offset="0.790" stop-color="#fbcc67"/><stop offset="0.830" stop-color="#fbbe4d"/><stop offset="0.870" stop-color="#f9a738"/><stop offset="0.900" stop-color="#f79429"/><stop offset="0.930" stop-color="#ef7f26"/><stop offset="0.955" stop-color="#e66c25"/><stop offset="0.975" stop-color="#d65c27"/><stop offset="1.000" stop-color="#c04829"/></linearGradient><linearGradient id="g93" x1="0" y1="0" x2="0" y2="1"><stop offset="0.000" stop-color="#fdfce1"/><stop offset="0.200" stop-color="#fdfadb"/><stop offset="0.350" stop-color="#fdf8d0"/><stop offset="0.450" stop-color="#fcf6c4"/><stop offset="0.550" stop-color="#fcf3b3"/><stop offset="0.620" stop-color="#fceda7"/><stop offset="0.680" stop-color="#fbe69a"/><stop offset="0.740" stop-color="#fbdc85"/><stop offset="0.790" stop-color="#fbcc66"/><stop offset="0.830" stop-color="#fbbd4c"/><stop offset="0.870" stop-color="#f9a637"/><stop offset="0.900" stop-color="#f69329"/><stop offset="0.930" stop-color="#ef7e26"/><stop offset="0.955" stop-color="#e56b25"/><stop offset="0.975" stop-color="#d65b27"/><stop offset="1.000" stop-color="#bf4829"/></linearGradient><linearGradient id="g94" x1="0" y1="0" x2="0" y2="1"><stop offset="0.000" stop-color="#fdfce1"/><stop offset="0.200" stop-color="#fdfadb"/><stop offset="0.350" stop-color="#fdf8d0"/><stop offset="0.450" stop-color="#fcf6c4"/><stop offset="0.550" stop-color="#fcf3b3"/><stop offset="0.620" stop-color="#fceda7"/><stop offset="0.680" stop-color="#fbe699"/><stop offset="0.740" stop-color="#fbdb84"/><stop offset="0.790" stop-color="#fbcc66"/><stop offset="0.830" stop-color="#fbbc4c"/><stop offset="0.870" stop-color="#f9a637"/><stop offset="0.900" stop-color="#f69329"/><stop offset="0.930" stop-color="#ef7d26"/><stop offset="0.955" stop-color="#e56a25"/><stop offset="0.975" stop-color="#d55a28"/><stop offset="1.000" stop-color="#bd4728"/></linearGradient><linearGradient id="g95" x1="0" y1="0" x2="0" y2="1"><stop offset="0.000" stop-color="#fdfce1"/><stop offset="0.200" stop-color="#fdfadb"/><stop offset="0.350" stop-color="#fdf8d0"/><stop offset="0.450" stop-color="#fcf6c4"/><stop offset="0.550" stop-color="#fcf3b3"/><stop offset="0.620" stop-color="#fceda7"/><stop offset="0.680" stop-color="#fbe699"/><stop offset="0.740" stop-color="#fbdb83"/><stop offset="0.790" stop-color="#fbcb65"/><stop offset="0.830" stop-color="#fbbc4b"/><stop offset="0.870" stop-color="#f9a536"/><stop offset="0.900" stop-color="#f69229"/><stop offset="0.930" stop-color="#ee7d26"/><stop offset="0.955" stop-color="#e36925"/><stop offset="0.975" stop-color="#d45a28"/><stop offset="1.000" stop-color="#bc4728"/></linearGradient><linearGradient id="g96" x1="0" y1="0" x2="0" y2="1"><stop offset="0.000" stop-color="#fdfce1"/><stop offset="0.200" stop-color="#fdfadb"/><stop offset="0.350" stop-color="#fdf8d0"/><stop offset="0.450" stop-color="#fcf6c4"/><stop offset="0.550" stop-color="#fcf3b3"/><stop offset="0.620" stop-color="#fceda6"/><stop offset="0.680" stop-color="#fbe699"/><stop offset="0.740" stop-color="#fbdb83"/><stop offset="0.790" stop-color="#fbcb64"/><stop offset="0.830" stop-color="#fbbb4a"/><stop offset="0.870" stop-color="#f9a536"/><stop offset="0.900" stop-color="#f69129"/><stop offset="0.930" stop-color="#ee7c26"/><stop offset="0.955" stop-color="#e36925"/><stop offset="0.975" stop-color="#d35828"/><stop offset="1.000" stop-color="#ba4628"/></linearGradient><linearGradient id="g97" x1="0" y1="0" x2="0" y2="1"><stop offset="0.000" stop-color="#fdfce1"/><stop offset="0.200" stop-color="#fdfadb"/><stop offset="0.350" stop-color="#fdf8d0"/><stop offset="0.450" stop-color="#fcf6c4"/><stop offset="0.550" stop-color="#fcf3b3"/><stop offset="0.620" stop-color="#fceda6"/><stop offset="0.680" stop-color="#fbe699"/><stop offset="0.740" stop-color="#fbda82"/><stop offset="0.790" stop-color="#fbcb63"/><stop offset="0.830" stop-color="#fbba4a"/><stop offset="0.870" stop-color="#f9a435"/><stop offset="0.900" stop-color="#f59029"/><stop offset="0.930" stop-color="#ee7b26"/><stop offset="0.955" stop-color="#e26825"/><stop offset="0.975" stop-color="#d35828"/><stop offset="1.000" stop-color="#b94628"/></linearGradient><linearGradient id="g98" x1="0" y1="0" x2="0" y2="1"><stop offset="0.000" stop-color="#fdfce1"/><stop offset="0.200" stop-color="#fdfadb"/><stop offset="0.350" stop-color="#fdf8d0"/><stop offset="0.450" stop-color="#fcf6c4"/><stop offset="0.550" stop-color="#fcf3b3"/><stop offset="0.620" stop-color="#fceda6"/><stop offset="0.680" stop-color="#fbe598"/><stop offset="0.740" stop-color="#fbda81"/><stop offset="0.790" stop-color="#fbcb63"/><stop offset="0.830" stop-color="#faba49"/><stop offset="0.870" stop-color="#f9a334"/><stop offset="0.900" stop-color="#f59029"/><stop offset="0.930" stop-color="#ee7a26"/><stop offset="0.955" stop-color="#e16725"/><stop offset="0.975" stop-color="#d15728"/><stop offset="1.000" stop-color="#b84527"/></linearGradient><linearGradient id="g99" x1="0" y1="0" x2="0" y2="1"><stop offset="0.000" stop-color="#fdfce1"/><stop offset="0.200" stop-color="#fdfadb"/><stop offset="0.350" stop-color="#fdf8cf"/><stop offset="0.450" stop-color="#fcf6c4"/><stop offset="0.550" stop-color="#fcf3b2"/><stop offset="0.620" stop-color="#fceca6"/><stop offset="0.680" stop-color="#fbe598"/><stop offset="0.740" stop-color="#fbda81"/><stop offset="0.790" stop-color="#fbca62"/><stop offset="0.830" stop-color="#fab949"/><stop offset="0.870" stop-color="#f9a334"/><stop offset="0.900" stop-color="#f58f29"/><stop offset="0.930" stop-color="#ed7925"/><stop offset="0.955" stop-color="#e06626"/><stop offset="0.975" stop-color="#d05628"/><stop offset="1.000" stop-color="#b64427"/></linearGradient><linearGradient id="g100" x1="0" y1="0" x2="0" y2="1"><stop offset="0.000" stop-color="#fdfce1"/><stop offset="0.200" stop-color="#fdfada"/><stop offset="0.350" stop-color="#fdf8cf"/><stop offset="0.450" stop-color="#fcf6c4"/><stop offset="0.550" stop-color="#fcf3b2"/><stop offset="0.620" stop-color="#fceca6"/><stop offset="0.680" stop-color="#fbe597"/><stop offset="0.740" stop-color="#fbd980"/><stop offset="0.790" stop-color="#fbca61"/><stop offset="0.830" stop-color="#fab848"/><stop offset="0.870" stop-color="#f9a233"/><stop offset="0.900" stop-color="#f58e29"/><stop offset="0.930" stop-color="#ed7825"/><stop offset="0.955" stop-color="#e06526"/><stop offset="0.975" stop-color="#d05528"/><stop offset="1.000" stop-color="#b54427"/></linearGradient><linearGradient id="g101" x1="0" y1="0" x2="0" y2="1"><stop offset="0.000" stop-color="#fdfce1"/><stop offset="0.200" stop-color="#fdfada"/><stop offset="0.350" stop-color="#fdf8cf"/><stop offset="0.450" stop-color="#fcf6c4"/><stop offset="0.550" stop-color="#fcf3b2"/><stop offset="0.620" stop-color="#fceca5"/><stop offset="0.680" stop-color="#fbe597"/><stop offset="0.740" stop-color="#fbd980"/><stop offset="0.790" stop-color="#fbc960"/><stop offset="0.830" stop-color="#fab847"/><stop offset="0.870" stop-color="#f9a132"/><stop offset="0.900" stop-color="#f48d28"/><stop offset="0.930" stop-color="#ed7825"/><stop offset="0.955" stop-color="#de6426"/><stop offset="0.975" stop-color="#cf5429"/><stop offset="1.000" stop-color="#b34327"/></linearGradient><linearGradient id="g102" x1="0" y1="0" x2="0" y2="1"><stop offset="0.000" stop-color="#fdfce1"/><stop offset="0.200" stop-color="#fdfada"/><stop offset="0.350" stop-color="#fdf8cf"/><stop offset="0.450" stop-color="#fcf6c3"/><stop offset="0.550" stop-color="#fcf3b1"/><stop offset="0.620" stop-color="#fceca5"/><stop offset="0.680" stop-color="#fbe597"/><stop offset="0.740" stop-color="#fbd97f"/><stop offset="0.790" stop-color="#fbc95f"/><stop offset="0.830" stop-color="#fab847"/><stop offset="0.870" stop-color="#f9a031"/><stop offset="0.900" stop-color="#f48c28"/><stop offset="0.930" stop-color="#ec7625"/><stop offset="0.955" stop-color="#de6326"/><stop offset="0.975" stop-color="#cd5329"/><stop offset="1.000" stop-color="#b24227"/></linearGradient><linearGradient id="g103" x1="0" y1="0" x2="0" y2="1"><stop offset="0.000" stop-color="#fdfce1"/><stop offset="0.200" stop-color="#fdfada"/><stop offset="0.350" stop-color="#fdf8cf"/><stop offset="0.450" stop-color="#fcf6c3"/><stop offset="0.550" stop-color="#fcf3b1"/><stop offset="0.620" stop-color="#fceca5"/><stop offset="0.680" stop-color="#fbe597"/><stop offset="0.740" stop-color="#fbd87e"/><stop offset="0.790" stop-color="#fbc95f"/><stop offset="0.830" stop-color="#fab747"/><stop offset="0.870" stop-color="#f99f31"/><stop offset="0.900" stop-color="#f48c28"/><stop offset="0.930" stop-color="#ec7625"/><stop offset="0.955" stop-color="#dd6226"/><stop offset="0.975" stop-color="#cd5229"/><stop offset="1.000" stop-color="#b14226"/></linearGradient><linearGradient id="g104" x1="0" y1="0" x2="0" y2="1"><stop offset="0.000" stop-color="#fdfce1"/><stop offset="0.200" stop-color="#fdfada"/><stop offset="0.350" stop-color="#fdf8cf"/><stop offset="0.450" stop-color="#fcf6c3"/><stop offset="0.550" stop-color="#fcf3b1"/><stop offset="0.620" stop-color="#fceca4"/><stop offset="0.680" stop-color="#fbe496"/><stop offset="0.740" stop-color="#fbd87e"/><stop offset="0.790" stop-color="#fbc85e"/><stop offset="0.830" stop-color="#fab646"/><stop offset="0.870" stop-color="#f89f30"/><stop offset="0.900" stop-color="#f48b28"/><stop offset="0.930" stop-color="#ec7525"/><stop offset="0.955" stop-color="#dc6226"/><stop offset="0.975" stop-color="#cc5129"/><stop offset="1.000" stop-color="#af4126"/></linearGradient><linearGradient id="g105" x1="0" y1="0" x2="0" y2="1"><stop offset="0.000" stop-color="#fdfce1"/><stop offset="0.200" stop-color="#fdfada"/><stop offset="0.350" stop-color="#fdf8cf"/><stop offset="0.450" stop-color="#fcf6c3"/><stop offset="0.550" stop-color="#fcf3b1"/><stop offset="0.620" stop-color="#fceca4"/><stop offset="0.680" stop-color="#fbe496"/><stop offset="0.740" stop-color="#fbd87d"/><stop offset="0.790" stop-color="#fbc85d"/><stop offset="0.830" stop-color="#fab646"/><stop offset="0.870" stop-color="#f89e30"/><stop offset="0.900" stop-color="#f38b28"/><stop offset="0.930" stop-color="#eb7425"/><stop offset="0.955" stop-color="#db6127"/><stop offset="0.975" stop-color="#cb5029"/><stop offset="1.000" stop-color="#ad4026"/></linearGradient><linearGradient id="g106" x1="0" y1="0" x2="0" y2="1"><stop offset="0.000" stop-color="#fdfce1"/><stop offset="0.200" stop-color="#fdfada"/><stop offset="0.350" stop-color="#fdf8ce"/><stop offset="0.450" stop-color="#fcf6c3"/><stop offset="0.550" stop-color="#fcf2b1"/><stop offset="0.620" stop-color="#fceca4"/><stop offset="0.680" stop-color="#fbe496"/><stop offset="0.740" stop-color="#fbd77c"/><stop offset="0.790" stop-color="#fbc75c"/><stop offset="0.830" stop-color="#fab545"/><stop offset="0.870" stop-color="#f89d2f"/><stop offset="0.900" stop-color="#f38a28"/><stop offset="0.930" stop-color="#eb7325"/><stop offset="0.955" stop-color="#da6027"/><stop offset="0.975" stop-color="#ca4f29"/><stop offset="1.000" stop-color="#ad4026"/></linearGradient><linearGradient id="g107" x1="0" y1="0" x2="0" y2="1"><stop offset="0.000" stop-color="#fdfce1"/><stop offset="0.200" stop-color="#fdfada"/><stop offset="0.350" stop-color="#fdf8ce"/><stop offset="0.450" stop-color="#fcf6c2"/><stop offset="0.550" stop-color="#fcf2b1"/><stop offset="0.620" stop-color="#fceca4"/><stop offset="0.680" stop-color="#fbe496"/><stop offset="0.740" stop-color="#fbd77c"/><stop offset="0.790" stop-color="#fbc75c"/><stop offset="0.830" stop-color="#fab544"/><stop offset="0.870" stop-color="#f89d2e"/><stop offset="0.900" stop-color="#f38928"/><stop offset="0.930" stop-color="#eb7324"/><stop offset="0.955" stop-color="#d95f27"/><stop offset="0.975" stop-color="#c94e2a"/><stop offset="1.000" stop-color="#ab3f25"/></linearGradient><linearGradient id="g108" x1="0" y1="0" x2="0" y2="1"><stop offset="0.000" stop-color="#fdfce1"/><stop offset="0.200" stop-color="#fdfada"/><stop offset="0.350" stop-color="#fdf8ce"/><stop offset="0.450" stop-color="#fcf6c2"/><stop offset="0.550" stop-color="#fcf2b1"/><stop offset="0.620" stop-color="#fceca4"/><stop offset="0.680" stop-color="#fbe495"/><stop offset="0.740" stop-color="#fbd77b"/><stop offset="0.790" stop-color="#fbc75b"/><stop offset="0.830" stop-color="#fab444"/><stop offset="0.870" stop-color="#f89c2e"/><stop offset="0.900" stop-color="#f28828"/><stop offset="0.930" stop-color="#eb7124"/><stop offset="0.955" stop-color="#d95e27"/><stop offset="0.975" stop-color="#c84d2a"/><stop offset="1.000" stop-color="#a93f25"/></linearGradient><linearGradient id="g109" x1="0" y1="0" x2="0" y2="1"><stop offset="0.000" stop-color="#fdfce1"/><stop offset="0.200" stop-color="#fdfada"/><stop offset="0.350" stop-color="#fdf8ce"/><stop offset="0.450" stop-color="#fcf6c2"/><stop offset="0.550" stop-color="#fcf2b0"/><stop offset="0.620" stop-color="#fceba3"/><stop offset="0.680" stop-color="#fbe495"/><stop offset="0.740" stop-color="#fbd77b"/><stop offset="0.790" stop-color="#fbc65a"/><stop offset="0.830" stop-color="#fab343"/><stop offset="0.870" stop-color="#f89c2d"/><stop offset="0.900" stop-color="#f28728"/><stop offset="0.930" stop-color="#ea7124"/><stop offset="0.955" stop-color="#d85e27"/><stop offset="0.975" stop-color="#c84d2a"/><stop offset="1.000" stop-color="#a93e25"/></linearGradient><linearGradient id="g110" x1="0" y1="0" x2="0" y2="1"><stop offset="0.000" stop-color="#fdfce1"/><stop offset="0.200" stop-color="#fdfada"/><stop offset="0.350" stop-color="#fdf8ce"/><stop offset="0.450" stop-color="#fcf6c2"/><stop offset="0.550" stop-color="#fcf2b0"/><stop offset="0.620" stop-color="#fceba3"/><stop offset="0.680" stop-color="#fbe395"/><stop offset="0.740" stop-color="#fbd67a"/><stop offset="0.790" stop-color="#fbc65a"/><stop offset="0.830" stop-color="#fab343"/><stop offset="0.870" stop-color="#f89b2d"/><stop offset="0.900" stop-color="#f28727"/><stop offset="0.930" stop-color="#ea7024"/><stop offset="0.955" stop-color="#d75d27"/><stop offset="0.975" stop-color="#c74c2a"/><stop offset="1.000" stop-color="#a73e25"/></linearGradient><linearGradient id="g111" x1="0" y1="0" x2="0" y2="1"><stop offset="0.000" stop-color="#fdfce1"/><stop offset="0.200" stop-color="#fdfada"/><stop offset="0.350" stop-color="#fdf8ce"/><stop offset="0.450" stop-color="#fcf6c2"/><stop offset="0.550" stop-color="#fcf2b0"/><stop offset="0.620" stop-color="#fceba3"/><stop offset="0.680" stop-color="#fbe395"/><stop offset="0.740" stop-color="#fbd67a"/><stop offset="0.790" stop-color="#fbc659"/><stop offset="0.830" stop-color="#fab343"/><stop offset="0.870" stop-color="#f89a2c"/><stop offset="0.900" stop-color="#f28627"/><stop offset="0.930" stop-color="#ea7024"/><stop offset="0.955" stop-color="#d65c27"/><stop offset="0.975" stop-color="#c64b2a"/><stop offset="1.000" stop-color="#a63d24"/></linearGradient><linearGradient id="g112" x1="0" y1="0" x2="0" y2="1"><stop offset="0.000" stop-color="#fdfce1"/><stop offset="0.200" stop-color="#fdfada"/><stop offset="0.350" stop-color="#fdf8ce"/><stop offset="0.450" stop-color="#fcf6c2"/><stop offset="0.550" stop-color="#fcf2b0"/><stop offset="0.620" stop-color="#fceba3"/><stop offset="0.680" stop-color="#fbe395"/><stop offset="0.740" stop-color="#fbd679"/><stop offset="0.790" stop-color="#fbc558"/><stop offset="0.830" stop-color="#fab242"/><stop offset="0.870" stop-color="#f89a2c"/><stop offset="0.900" stop-color="#f28627"/><stop offset="0.930" stop-color="#e96f24"/><stop offset="0.955" stop-color="#d65b27"/><stop offset="0.975" stop-color="#c54b2a"/><stop offset="1.000" stop-color="#a53d24"/></linearGradient><linearGradient id="g113" x1="0" y1="0" x2="0" y2="1"><stop offset="0.000" stop-color="#fdfce1"/><stop offset="0.200" stop-color="#fdfada"/><stop offset="0.350" stop-color="#fdf8ce"/><stop offset="0.450" stop-color="#fcf6c1"/><stop offset="0.550" stop-color="#fcf2b0"/><stop offset="0.620" stop-color="#fceba3"/><stop offset="0.680" stop-color="#fbe394"/><stop offset="0.740" stop-color="#fbd679"/><stop offset="0.790" stop-color="#fbc558"/><stop offset="0.830" stop-color="#fab242"/><stop offset="0.870" stop-color="#f89a2b"/><stop offset="0.900" stop-color="#f18527"/><stop offset="0.930" stop-color="#e96e24"/><stop offset="0.955" stop-color="#d55b27"/><stop offset="0.975" stop-color="#c44a2a"/><stop offset="1.000" stop-color="#a43c24"/></linearGradient><linearGradient id="g114" x1="0" y1="0" x2="0" y2="1"><stop offset="0.000" stop-color="#fdfce1"/><stop offset="0.200" stop-color="#fdfad9"/><stop offset="0.350" stop-color="#fdf8ce"/><stop offset="0.450" stop-color="#fcf6c1"/><stop offset="0.550" stop-color="#fcf2b0"/><stop offset="0.620" stop-color="#fceba3"/><stop offset="0.680" stop-color="#fbe394"/><stop offset="0.740" stop-color="#fbd578"/><stop offset="0.790" stop-color="#fbc557"/><stop offset="0.830" stop-color="#fab141"/><stop offset="0.870" stop-color="#f8992b"/><stop offset="0.900" stop-color="#f18427"/><stop offset="0.930" stop-color="#e86e24"/><stop offset="0.955" stop-color="#d55a28"/><stop offset="0.975" stop-color="#c34a29"/><stop offset="1.000" stop-color="#a33c24"/></linearGradient><linearGradient id="g115" x1="0" y1="0" x2="0" y2="1"><stop offset="0.000" stop-color="#fdfce1"/><stop offset="0.200" stop-color="#fdfad9"/><stop offset="0.350" stop-color="#fdf8ce"/><stop offset="0.450" stop-color="#fcf6c1"/><stop offset="0.550" stop-color="#fcf2b0"/><stop offset="0.620" stop-color="#fceba3"/><stop offset="0.680" stop-color="#fbe394"/><stop offset="0.740" stop-color="#fbd578"/><stop offset="0.790" stop-color="#fbc557"/><stop offset="0.830" stop-color="#fab141"/><stop offset="0.870" stop-color="#f8982a"/><stop offset="0.900" stop-color="#f18427"/><stop offset="0.930" stop-color="#e76d24"/><stop offset="0.955" stop-color="#d45a28"/><stop offset="0.975" stop-color="#c24929"/><stop offset="1.000" stop-color="#a13b24"/></linearGradient><linearGradient id="g116" x1="0" y1="0" x2="0" y2="1"><stop offset="0.000" stop-color="#fdfce1"/><stop offset="0.200" stop-color="#fdfad9"/><stop offset="0.350" stop-color="#fdf8ce"/><stop offset="0.450" stop-color="#fcf6c1"/><stop offset="0.550" stop-color="#fcf2b0"/><stop offset="0.620" stop-color="#fceba2"/><stop offset="0.680" stop-color="#fbe393"/><stop offset="0.740" stop-color="#fbd577"/><stop offset="0.790" stop-color="#fbc456"/><stop offset="0.830" stop-color="#fab141"/><stop offset="0.870" stop-color="#f8982a"/><stop offset="0.900" stop-color="#f18427"/><stop offset="0.930" stop-color="#e76d25"/><stop offset="0.955" stop-color="#d45928"/><stop offset="0.975" stop-color="#c14929"/><stop offset="1.000" stop-color="#a13b23"/></linearGradient><linearGradient id="g117" x1="0" y1="0" x2="0" y2="1"><stop offset="0.000" stop-color="#fdfce1"/><stop offset="0.200" stop-color="#fdfad9"/><stop offset="0.350" stop-color="#fdf8ce"/><stop offset="0.450" stop-color="#fcf6c1"/><stop offset="0.550" stop-color="#fcf2b0"/><stop offset="0.620" stop-color="#fceba2"/><stop offset="0.680" stop-color="#fbe393"/><stop offset="0.740" stop-color="#fbd577"/><stop offset="0.790" stop-color="#fbc456"/><stop offset="0.830" stop-color="#fab040"/><stop offset="0.870" stop-color="#f8982a"/><stop offset="0.900" stop-color="#f18327"/><stop offset="0.930" stop-color="#e66c25"/><stop offset="0.955" stop-color="#d35828"/><stop offset="0.975" stop-color="#c14929"/><stop offset="1.000" stop-color="#a03b23"/></linearGradient><linearGradient id="g118" x1="0" y1="0" x2="0" y2="1"><stop offset="0.000" stop-color="#fdfce1"/><stop offset="0.200" stop-color="#fdfad9"/><stop offset="0.350" stop-color="#fdf8ce"/><stop offset="0.450" stop-color="#fcf6c1"/><stop offset="0.550" stop-color="#fcf1af"/><stop offset="0.620" stop-color="#fceba2"/><stop offset="0.680" stop-color="#fbe393"/><stop offset="0.740" stop-color="#fbd577"/><stop offset="0.790" stop-color="#fbc455"/><stop offset="0.830" stop-color="#fab040"/><stop offset="0.870" stop-color="#f8982a"/><stop offset="0.900" stop-color="#f18327"/><stop offset="0.930" stop-color="#e66c25"/><stop offset="0.955" stop-color="#d35828"/><stop offset="0.975" stop-color="#c04829"/><stop offset="1.000" stop-color="#a03b23"/></linearGradient><linearGradient id="g119" x1="0" y1="0" x2="0" y2="1"><stop offset="0.000" stop-color="#fdfce1"/><stop offset="0.200" stop-color="#fdfad9"/><stop offset="0.350" stop-color="#fdf8ce"/><stop offset="0.450" stop-color="#fcf6c1"/><stop offset="0.550" stop-color="#fcf1af"/><stop offset="0.620" stop-color="#fceba2"/><stop offset="0.680" stop-color="#fbe393"/><stop offset="0.740" stop-color="#fbd476"/><stop offset="0.790" stop-color="#fbc455"/><stop offset="0.830" stop-color="#faaf40"/><stop offset="0.870" stop-color="#f8972a"/><stop offset="0.900" stop-color="#f08227"/><stop offset="0.930" stop-color="#e66c25"/><stop offset="0.955" stop-color="#d35828"/><stop offset="0.975" stop-color="#c04829"/><stop offset="1.000" stop-color="#9f3a23"/></linearGradient><linearGradient id="g120" x1="0" y1="0" x2="0" y2="1"><stop offset="0.000" stop-color="#fdfce1"/><stop offset="0.200" stop-color="#fdfad9"/><stop offset="0.350" stop-color="#fdf8ce"/><stop offset="0.450" stop-color="#fcf6c1"/><stop offset="0.550" stop-color="#fcf1af"/><stop offset="0.620" stop-color="#fceba2"/><stop offset="0.680" stop-color="#fbe393"/><stop offset="0.740" stop-color="#fbd476"/><stop offset="0.790" stop-color="#fbc455"/><stop offset="0.830" stop-color="#faaf40"/><stop offset="0.870" stop-color="#f8972a"/><stop offset="0.900" stop-color="#f08227"/><stop offset="0.930" stop-color="#e66c25"/><stop offset="0.955" stop-color="#d25728"/><stop offset="0.975" stop-color="#bf4829"/><stop offset="1.000" stop-color="#9e3a23"/></linearGradient><linearGradient id="g121" x1="0" y1="0" x2="0" y2="1"><stop offset="0.000" stop-color="#fdfce1"/><stop offset="0.200" stop-color="#fdfad9"/><stop offset="0.350" stop-color="#fdf8ce"/><stop offset="0.450" stop-color="#fcf6c1"/><stop offset="0.550" stop-color="#fcf1af"/><stop offset="0.620" stop-color="#fceaa2"/><stop offset="0.680" stop-color="#fbe393"/><stop offset="0.740" stop-color="#fbd476"/><stop offset="0.790" stop-color="#fbc455"/><stop offset="0.830" stop-color="#faaf40"/><stop offset="0.870" stop-color="#f7962a"/><stop offset="0.900" stop-color="#f08227"/><stop offset="0.930" stop-color="#e56b25"/><stop offset="0.955" stop-color="#d25728"/><stop offset="0.975" stop-color="#bf4829"/><stop offset="1.000" stop-color="#9e3a23"/></linearGradient><linearGradient id="g122" x1="0" y1="0" x2="0" y2="1"><stop offset="0.000" stop-color="#fdfce1"/><stop offset="0.200" stop-color="#fdfad9"/><stop offset="0.350" stop-color="#fdf8ce"/><stop offset="0.450" stop-color="#fcf6c1"/><stop offset="0.550" stop-color="#fcf1af"/><stop offset="0.620" stop-color="#fceaa2"/><stop offset="0.680" stop-color="#fbe393"/><stop offset="0.740" stop-color="#fbd476"/><stop offset="0.790" stop-color="#fbc354"/><stop offset="0.830" stop-color="#faaf40"/><stop offset="0.870" stop-color="#f7962a"/><stop offset="0.900" stop-color="#f08227"/><stop offset="0.930" stop-color="#e56b25"/><stop offset="0.955" stop-color="#d25728"/><stop offset="0.975" stop-color="#be4829"/><stop offset="1.000" stop-color="#9d3a23"/></linearGradient><linearGradient id="g123" x1="0" y1="0" x2="0" y2="1"><stop offset="0.000" stop-color="#fdfce1"/><stop offset="0.200" stop-color="#fdfad9"/><stop offset="0.350" stop-color="#fdf8ce"/><stop offset="0.450" stop-color="#fcf6c0"/><stop offset="0.550" stop-color="#fcf1af"/><stop offset="0.620" stop-color="#fceaa2"/><stop offset="0.680" stop-color="#fbe393"/><stop offset="0.740" stop-color="#fbd476"/><stop offset="0.790" stop-color="#fbc354"/><stop offset="0.830" stop-color="#faaf3f"/><stop offset="0.870" stop-color="#f7962a"/><stop offset="0.900" stop-color="#f08227"/><stop offset="0.930" stop-color="#e56b25"/><stop offset="0.955" stop-color="#d15728"/><stop offset="0.975" stop-color="#be4829"/><stop offset="1.000" stop-color="#9d3a23"/></linearGradient><linearGradient id="g124" x1="0" y1="0" x2="0" y2="1"><stop offset="0.000" stop-color="#fdfce1"/><stop offset="0.200" stop-color="#fdfad9"/><stop offset="0.350" stop-color="#fdf8ce"/><stop offset="0.450" stop-color="#fcf6c0"/><stop offset="0.550" stop-color="#fcf1af"/><stop offset="0.620" stop-color="#fceaa2"/><stop offset="0.680" stop-color="#fbe393"/><stop offset="0.740" stop-color="#fbd476"/><stop offset="0.790" stop-color="#fbc354"/><stop offset="0.830" stop-color="#faaf3f"/><stop offset="0.870" stop-color="#f7962a"/><stop offset="0.900" stop-color="#f08227"/><stop offset="0.930" stop-color="#e56b25"/><stop offset="0.955" stop-color="#d15728"/><stop offset="0.975" stop-color="#be4829"/><stop offset="1.000" stop-color="#9d3a23"/></linearGradient><linearGradient id="g125" x1="0" y1="0" x2="0" y2="1"><stop offset="0.000" stop-color="#fdfce1"/><stop offset="0.200" stop-color="#fdfad9"/><stop offset="0.350" stop-color="#fdf8ce"/><stop offset="0.450" stop-color="#fcf6c0"/><stop offset="0.550" stop-color="#fcf1af"/><stop offset="0.620" stop-color="#fceaa2"/><stop offset="0.680" stop-color="#fbe393"/><stop offset="0.740" stop-color="#fbd476"/><stop offset="0.790" stop-color="#fbc354"/><stop offset="0.830" stop-color="#faaf3f"/><stop offset="0.870" stop-color="#f7962a"/><stop offset="0.900" stop-color="#f08227"/><stop offset="0.930" stop-color="#e56b25"/><stop offset="0.955" stop-color="#d15728"/><stop offset="0.975" stop-color="#be4829"/><stop offset="1.000" stop-color="#9d3a23"/></linearGradient><linearGradient id="g126" x1="0" y1="0" x2="0" y2="1"><stop offset="0.000" stop-color="#fdfce1"/><stop offset="0.200" stop-color="#fdfad9"/><stop offset="0.350" stop-color="#fdf8ce"/><stop offset="0.450" stop-color="#fcf6c0"/><stop offset="0.550" stop-color="#fcf1af"/><stop offset="0.620" stop-color="#fceaa2"/><stop offset="0.680" stop-color="#fbe393"/><stop offset="0.740" stop-color="#fbd476"/><stop offset="0.790" stop-color="#fbc354"/><stop offset="0.830" stop-color="#faaf3f"/><stop offset="0.870" stop-color="#f7962a"/><stop offset="0.900" stop-color="#f08227"/><stop offset="0.930" stop-color="#e56b25"/><stop offset="0.955" stop-color="#d15728"/><stop offset="0.975" stop-color="#be4829"/><stop offset="1.000" stop-color="#9d3a23"/></linearGradient><linearGradient id="g127" x1="0" y1="0" x2="0" y2="1"><stop offset="0.000" stop-color="#fdfce1"/><stop offset="0.200" stop-color="#fdfad9"/><stop offset="0.350" stop-color="#fdf8ce"/><stop offset="0.450" stop-color="#fcf6c1"/><stop offset="0.550" stop-color="#fcf1af"/><stop offset="0.620" stop-color="#fceaa2"/><stop offset="0.680" stop-color="#fbe393"/><stop offset="0.740" stop-color="#fbd476"/><stop offset="0.790" stop-color="#fbc354"/><stop offset="0.830" stop-color="#faaf40"/><stop offset="0.870" stop-color="#f7962a"/><stop offset="0.900" stop-color="#f08227"/><stop offset="0.930" stop-color="#e56b25"/><stop offset="0.955" stop-color="#d25728"/><stop offset="0.975" stop-color="#be4829"/><stop offset="1.000" stop-color="#9d3a23"/></linearGradient><linearGradient id="g128" x1="0" y1="0" x2="0" y2="1"><stop offset="0.000" stop-color="#fdfce1"/><stop offset="0.200" stop-color="#fdfad9"/><stop offset="0.350" stop-color="#fdf8ce"/><stop offset="0.450" stop-color="#fcf6c1"/><stop offset="0.550" stop-color="#fcf1af"/><stop offset="0.620" stop-color="#fceaa2"/><stop offset="0.680" stop-color="#fbe393"/><stop offset="0.740" stop-color="#fbd476"/><stop offset="0.790" stop-color="#fbc455"/><stop offset="0.830" stop-color="#faaf40"/><stop offset="0.870" stop-color="#f7962a"/><stop offset="0.900" stop-color="#f08227"/><stop offset="0.930" stop-color="#e56b25"/><stop offset="0.955" stop-color="#d25728"/><stop offset="0.975" stop-color="#bf4829"/><stop offset="1.000" stop-color="#9e3a23"/></linearGradient><linearGradient id="g129" x1="0" y1="0" x2="0" y2="1"><stop offset="0.000" stop-color="#fdfce1"/><stop offset="0.200" stop-color="#fdfad9"/><stop offset="0.350" stop-color="#fdf8ce"/><stop offset="0.450" stop-color="#fcf6c1"/><stop offset="0.550" stop-color="#fcf1af"/><stop offset="0.620" stop-color="#fceba2"/><stop offset="0.680" stop-color="#fbe393"/><stop offset="0.740" stop-color="#fbd476"/><stop offset="0.790" stop-color="#fbc455"/><stop offset="0.830" stop-color="#faaf40"/><stop offset="0.870" stop-color="#f8972a"/><stop offset="0.900" stop-color="#f08227"/><stop offset="0.930" stop-color="#e66c25"/><stop offset="0.955" stop-color="#d25728"/><stop offset="0.975" stop-color="#bf4829"/><stop offset="1.000" stop-color="#9e3a23"/></linearGradient><linearGradient id="g130" x1="0" y1="0" x2="0" y2="1"><stop offset="0.000" stop-color="#fdfce1"/><stop offset="0.200" stop-color="#fdfad9"/><stop offset="0.350" stop-color="#fdf8ce"/><stop offset="0.450" stop-color="#fcf6c1"/><stop offset="0.550" stop-color="#fcf1af"/><stop offset="0.620" stop-color="#fceba2"/><stop offset="0.680" stop-color="#fbe393"/><stop offset="0.740" stop-color="#fbd476"/><stop offset="0.790" stop-color="#fbc455"/><stop offset="0.830" stop-color="#faaf40"/><stop offset="0.870" stop-color="#f8972a"/><stop offset="0.900" stop-color="#f08227"/><stop offset="0.930" stop-color="#e66c25"/><stop offset="0.955" stop-color="#d35828"/><stop offset="0.975" stop-color="#c04829"/><stop offset="1.000" stop-color="#9f3a23"/></linearGradient><linearGradient id="g131" x1="0" y1="0" x2="0" y2="1"><stop offset="0.000" stop-color="#fdfce1"/><stop offset="0.200" stop-color="#fdfad9"/><stop offset="0.350" stop-color="#fdf8ce"/><stop offset="0.450" stop-color="#fcf6c1"/><stop offset="0.550" stop-color="#fcf2b0"/><stop offset="0.620" stop-color="#fceba2"/><stop offset="0.680" stop-color="#fbe393"/><stop offset="0.740" stop-color="#fbd577"/><stop offset="0.790" stop-color="#fbc455"/><stop offset="0.830" stop-color="#fab040"/><stop offset="0.870" stop-color="#f8982a"/><stop offset="0.900" stop-color="#f18327"/><stop offset="0.930" stop-color="#e66c25"/><stop offset="0.955" stop-color="#d35828"/><stop offset="0.975" stop-color="#c14929"/><stop offset="1.000" stop-color="#a03b23"/></linearGradient><linearGradient id="g132" x1="0" y1="0" x2="0" y2="1"><stop offset="0.000" stop-color="#fdfce1"/><stop offset="0.200" stop-color="#fdfad9"/><stop offset="0.350" stop-color="#fdf8ce"/><stop offset="0.450" stop-color="#fcf6c1"/><stop offset="0.550" stop-color="#fcf2b0"/><stop offset="0.620" stop-color="#fceba2"/><stop offset="0.680" stop-color="#fbe393"/><stop offset="0.740" stop-color="#fbd577"/><stop offset="0.790" stop-color="#fbc456"/><stop offset="0.830" stop-color="#fab040"/><stop offset="0.870" stop-color="#f8982a"/><stop offset="0.900" stop-color="#f18327"/><stop offset="0.930" stop-color="#e76d25"/><stop offset="0.955" stop-color="#d35828"/><stop offset="0.975" stop-color="#c14929"/><stop offset="1.000" stop-color="#a13b23"/></linearGradient><linearGradient id="g133" x1="0" y1="0" x2="0" y2="1"><stop offset="0.000" stop-color="#fdfce1"/><stop offset="0.200" stop-color="#fdfad9"/><stop offset="0.350" stop-color="#fdf8ce"/><stop offset="0.450" stop-color="#fcf6c1"/><stop offset="0.550" stop-color="#fcf2b0"/><stop offset="0.620" stop-color="#fceba2"/><stop offset="0.680" stop-color="#fbe393"/><stop offset="0.740" stop-color="#fbd577"/><stop offset="0.790" stop-color="#fbc456"/><stop offset="0.830" stop-color="#fab141"/><stop offset="0.870" stop-color="#f8982a"/><stop offset="0.900" stop-color="#f18427"/><stop offset="0.930" stop-color="#e76d25"/><stop offset="0.955" stop-color="#d45928"/><stop offset="0.975" stop-color="#c14929"/><stop offset="1.000" stop-color="#a13b24"/></linearGradient><linearGradient id="g134" x1="0" y1="0" x2="0" y2="1"><stop offset="0.000" stop-color="#fdfce1"/><stop offset="0.200" stop-color="#fdfad9"/><stop offset="0.350" stop-color="#fdf8ce"/><stop offset="0.450" stop-color="#fcf6c1"/><stop offset="0.550" stop-color="#fcf2b0"/><stop offset="0.620" stop-color="#fceba3"/><stop offset="0.680" stop-color="#fbe394"/><stop offset="0.740" stop-color="#fbd578"/><stop offset="0.790" stop-color="#fbc557"/><stop offset="0.830" stop-color="#fab141"/><stop offset="0.870" stop-color="#f8982a"/><stop offset="0.900" stop-color="#f18427"/><stop offset="0.930" stop-color="#e76d24"/><stop offset="0.955" stop-color="#d45a28"/><stop offset="0.975" stop-color="#c24929"/><stop offset="1.000" stop-color="#a23c24"/></linearGradient><linearGradient id="g135" x1="0" y1="0" x2="0" y2="1"><stop offset="0.000" stop-color="#fdfce1"/><stop offset="0.200" stop-color="#fdfada"/><stop offset="0.350" stop-color="#fdf8ce"/><stop offset="0.450" stop-color="#fcf6c1"/><stop offset="0.550" stop-color="#fcf2b0"/><stop offset="0.620" stop-color="#fceba3"/><stop offset="0.680" stop-color="#fbe394"/><stop offset="0.740" stop-color="#fbd578"/><stop offset="0.790" stop-color="#fbc557"/><stop offset="0.830" stop-color="#fab141"/><stop offset="0.870" stop-color="#f8992b"/><stop offset="0.900" stop-color="#f18527"/><stop offset="0.930" stop-color="#e86e24"/><stop offset="0.955" stop-color="#d55a28"/><stop offset="0.975" stop-color="#c34a29"/><stop offset="1.000" stop-color="#a33c24"/></linearGradient><linearGradient id="g136" x1="0" y1="0" x2="0" y2="1"><stop offset="0.000" stop-color="#fdfce1"/><stop offset="0.200" stop-color="#fdfada"/><stop offset="0.350" stop-color="#fdf8ce"/><stop offset="0.450" stop-color="#fcf6c1"/><stop offset="0.550" stop-color="#fcf2b0"/><stop offset="0.620" stop-color="#fceba3"/><stop offset="0.680" stop-color="#fbe394"/><stop offset="0.740" stop-color="#fbd679"/><stop offset="0.790" stop-color="#fbc558"/><stop offset="0.830" stop-color="#fab242"/><stop offset="0.870" stop-color="#f89a2b"/><stop offset="0.900" stop-color="#f28627"/><stop offset="0.930" stop-color="#e96e24"/><stop offset="0.955" stop-color="#d55b27"/><stop offset="0.975" stop-color="#c54a2a"/><stop offset="1.000" stop-color="#a43c24"/></linearGradient><linearGradient id="g137" x1="0" y1="0" x2="0" y2="1"><stop offset="0.000" stop-color="#fdfce1"/><stop offset="0.200" stop-color="#fdfada"/><stop offset="0.350" stop-color="#fdf8ce"/><stop offset="0.450" stop-color="#fcf6c2"/><stop offset="0.550" stop-color="#fcf2b0"/><stop offset="0.620" stop-color="#fceba3"/><stop offset="0.680" stop-color="#fbe395"/><stop offset="0.740" stop-color="#fbd679"/><stop offset="0.790" stop-color="#fbc659"/><stop offset="0.830" stop-color="#fab242"/><stop offset="0.870" stop-color="#f89a2c"/><stop offset="0.900" stop-color="#f28627"/><stop offset="0.930" stop-color="#e96f24"/><stop offset="0.955" stop-color="#d65b27"/><stop offset="0.975" stop-color="#c54b2a"/><stop offset="1.000" stop-color="#a53d24"/></linearGradient><linearGradient id="g138" x1="0" y1="0" x2="0" y2="1"><stop offset="0.000" stop-color="#fdfce1"/><stop offset="0.200" stop-color="#fdfada"/><stop offset="0.350" stop-color="#fdf8ce"/><stop offset="0.450" stop-color="#fcf6c2"/><stop offset="0.550" stop-color="#fcf2b0"/><stop offset="0.620" stop-color="#fceba3"/><stop offset="0.680" stop-color="#fbe395"/><stop offset="0.740" stop-color="#fbd67a"/><stop offset="0.790" stop-color="#fbc659"/><stop offset="0.830" stop-color="#fab343"/><stop offset="0.870" stop-color="#f89b2d"/><stop offset="0.900" stop-color="#f28727"/><stop offset="0.930" stop-color="#ea7024"/><stop offset="0.955" stop-color="#d75d27"/><stop offset="0.975" stop-color="#c64b2a"/><stop offset="1.000" stop-color="#a63d24"/></linearGradient><linearGradient id="g139" x1="0" y1="0" x2="0" y2="1"><stop offset="0.000" stop-color="#fdfce1"/><stop offset="0.200" stop-color="#fdfada"/><stop offset="0.350" stop-color="#fdf8ce"/><stop offset="0.450" stop-color="#fcf6c2"/><stop offset="0.550" stop-color="#fcf2b0"/><stop offset="0.620" stop-color="#fceba3"/><stop offset="0.680" stop-color="#fbe495"/><stop offset="0.740" stop-color="#fbd67a"/><stop offset="0.790" stop-color="#fbc65a"/><stop offset="0.830" stop-color="#fab343"/><stop offset="0.870" stop-color="#f89c2d"/><stop offset="0.900" stop-color="#f28728"/><stop offset="0.930" stop-color="#ea7124"/><stop offset="0.955" stop-color="#d85d27"/><stop offset="0.975" stop-color="#c74c2a"/><stop offset="1.000" stop-color="#a83e25"/></linearGradient><linearGradient id="g140" x1="0" y1="0" x2="0" y2="1"><stop offset="0.000" stop-color="#fdfce1"/><stop offset="0.200" stop-color="#fdfada"/><stop offset="0.350" stop-color="#fdf8ce"/><stop offset="0.450" stop-color="#fcf6c2"/><stop offset="0.550" stop-color="#fcf2b1"/><stop offset="0.620" stop-color="#fceca4"/><stop offset="0.680" stop-color="#fbe495"/><stop offset="0.740" stop-color="#fbd77b"/><stop offset="0.790" stop-color="#fbc75b"/><stop offset="0.830" stop-color="#fab444"/><stop offset="0.870" stop-color="#f89c2e"/><stop offset="0.900" stop-color="#f28828"/><stop offset="0.930" stop-color="#eb7124"/><stop offset="0.955" stop-color="#d85e27"/><stop offset="0.975" stop-color="#c84d2a"/><stop offset="1.000" stop-color="#a93e25"/></linearGradient><linearGradient id="g141" x1="0" y1="0" x2="0" y2="1"><stop offset="0.000" stop-color="#fdfce1"/><stop offset="0.200" stop-color="#fdfada"/><stop offset="0.350" stop-color="#fdf8ce"/><stop offset="0.450" stop-color="#fcf6c2"/><stop offset="0.550" stop-color="#fcf2b1"/><stop offset="0.620" stop-color="#fceca4"/><stop offset="0.680" stop-color="#fbe496"/><stop offset="0.740" stop-color="#fbd77c"/><stop offset="0.790" stop-color="#fbc75b"/><stop offset="0.830" stop-color="#fab544"/><stop offset="0.870" stop-color="#f89d2e"/><stop offset="0.900" stop-color="#f38928"/><stop offset="0.930" stop-color="#eb7224"/><stop offset="0.955" stop-color="#d95f27"/><stop offset="0.975" stop-color="#c94e2a"/><stop offset="1.000" stop-color="#aa3f25"/></linearGradient><linearGradient id="g142" x1="0" y1="0" x2="0" y2="1"><stop offset="0.000" stop-color="#fdfce1"/><stop offset="0.200" stop-color="#fdfada"/><stop offset="0.350" stop-color="#fdf8ce"/><stop offset="0.450" stop-color="#fcf6c3"/><stop offset="0.550" stop-color="#fcf2b1"/><stop offset="0.620" stop-color="#fceca4"/><stop offset="0.680" stop-color="#fbe496"/><stop offset="0.740" stop-color="#fbd77c"/><stop offset="0.790" stop-color="#fbc75c"/><stop offset="0.830" stop-color="#fab545"/><stop offset="0.870" stop-color="#f89d2f"/><stop offset="0.900" stop-color="#f38928"/><stop offset="0.930" stop-color="#eb7324"/><stop offset="0.955" stop-color="#da5f27"/><stop offset="0.975" stop-color="#ca4f29"/><stop offset="1.000" stop-color="#ac4025"/></linearGradient><linearGradient id="g143" x1="0" y1="0" x2="0" y2="1"><stop offset="0.000" stop-color="#fdfce1"/><stop offset="0.200" stop-color="#fdfada"/><stop offset="0.350" stop-color="#fdf8ce"/><stop offset="0.450" stop-color="#fcf6c3"/><stop offset="0.550" stop-color="#fcf2b1"/><stop offset="0.620" stop-color="#fceca4"/><stop offset="0.680" stop-color="#fbe496"/><stop offset="0.740" stop-color="#fbd87d"/><stop offset="0.790" stop-color="#fbc85d"/><stop offset="0.830" stop-color="#fab646"/><stop offset="0.870" stop-color="#f89e30"/><stop offset="0.900" stop-color="#f38a28"/><stop offset="0.930" stop-color="#eb7425"/><stop offset="0.955" stop-color="#db6127"/><stop offset="0.975" stop-color="#cb5029"/><stop offset="1.000" stop-color="#ad4026"/></linearGradient><linearGradient id="g144" x1="0" y1="0" x2="0" y2="1"><stop offset="0.000" stop-color="#fdfce1"/><stop offset="0.200" stop-color="#fdfada"/><stop offset="0.350" stop-color="#fdf8cf"/><stop offset="0.450" stop-color="#fcf6c3"/><stop offset="0.550" stop-color="#fcf3b1"/><stop offset="0.620" stop-color="#fceca4"/><stop offset="0.680" stop-color="#fbe496"/><stop offset="0.740" stop-color="#fbd87d"/><stop offset="0.790" stop-color="#fbc85e"/><stop offset="0.830" stop-color="#fab646"/><stop offset="0.870" stop-color="#f89f30"/><stop offset="0.900" stop-color="#f48b28"/><stop offset="0.930" stop-color="#ec7525"/><stop offset="0.955" stop-color="#dc6126"/><stop offset="0.975" stop-color="#cc5129"/><stop offset="1.000" stop-color="#af4126"/></linearGradient><linearGradient id="g145" x1="0" y1="0" x2="0" y2="1"><stop offset="0.000" stop-color="#fdfce1"/><stop offset="0.200" stop-color="#fdfada"/><stop offset="0.350" stop-color="#fdf8cf"/><stop offset="0.450" stop-color="#fcf6c3"/><stop offset="0.550" stop-color="#fcf3b1"/><stop offset="0.620" stop-color="#fceca5"/><stop offset="0.680" stop-color="#fbe597"/><stop offset="0.740" stop-color="#fbd87e"/><stop offset="0.790" stop-color="#fbc95f"/><stop offset="0.830" stop-color="#fab747"/><stop offset="0.870" stop-color="#f99f31"/><stop offset="0.900" stop-color="#f48c28"/><stop offset="0.930" stop-color="#ec7625"/><stop offset="0.955" stop-color="#dd6226"/><stop offset="0.975" stop-color="#cc5229"/><stop offset="1.000" stop-color="#b04126"/></linearGradient><linearGradient id="g146" x1="0" y1="0" x2="0" y2="1"><stop offset="0.000" stop-color="#fdfce1"/><stop offset="0.200" stop-color="#fdfada"/><stop offset="0.350" stop-color="#fdf8cf"/><stop offset="0.450" stop-color="#fcf6c3"/><stop offset="0.550" stop-color="#fcf3b1"/><stop offset="0.620" stop-color="#fceca5"/><stop offset="0.680" stop-color="#fbe597"/><stop offset="0.740" stop-color="#fbd97f"/><stop offset="0.790" stop-color="#fbc95f"/><stop offset="0.830" stop-color="#fab747"/><stop offset="0.870" stop-color="#f9a031"/><stop offset="0.900" stop-color="#f48c28"/><stop offset="0.930" stop-color="#ec7625"/><stop offset="0.955" stop-color="#de6326"/><stop offset="0.975" stop-color="#cd5329"/><stop offset="1.000" stop-color="#b14226"/></linearGradient><linearGradient id="g147" x1="0" y1="0" x2="0" y2="1"><stop offset="0.000" stop-color="#fdfce1"/><stop offset="0.200" stop-color="#fdfada"/><stop offset="0.350" stop-color="#fdf8cf"/><stop offset="0.450" stop-color="#fcf6c4"/><stop offset="0.550" stop-color="#fcf3b2"/><stop offset="0.620" stop-color="#fceca5"/><stop offset="0.680" stop-color="#fbe597"/><stop offset="0.740" stop-color="#fbd980"/><stop offset="0.790" stop-color="#fbc960"/><stop offset="0.830" stop-color="#fab847"/><stop offset="0.870" stop-color="#f9a132"/><stop offset="0.900" stop-color="#f48d28"/><stop offset="0.930" stop-color="#ed7825"/><stop offset="0.955" stop-color="#de6426"/><stop offset="0.975" stop-color="#cf5429"/><stop offset="1.000" stop-color="#b34327"/></linearGradient><linearGradient id="g148" x1="0" y1="0" x2="0" y2="1"><stop offset="0.000" stop-color="#fdfce1"/><stop offset="0.200" stop-color="#fdfada"/><stop offset="0.350" stop-color="#fdf8cf"/><stop offset="0.450" stop-color="#fcf6c4"/><stop offset="0.550" stop-color="#fcf3b2"/><stop offset="0.620" stop-color="#fceca6"/><stop offset="0.680" stop-color="#fbe597"/><stop offset="0.740" stop-color="#fbd980"/><stop offset="0.790" stop-color="#fbca61"/><stop offset="0.830" stop-color="#fab848"/><stop offset="0.870" stop-color="#f9a233"/><stop offset="0.900" stop-color="#f58e29"/><stop offset="0.930" stop-color="#ed7825"/><stop offset="0.955" stop-color="#e06526"/><stop offset="0.975" stop-color="#d05528"/><stop offset="1.000" stop-color="#b54427"/></linearGradient><linearGradient id="g149" x1="0" y1="0" x2="0" y2="1"><stop offset="0.000" stop-color="#fdfce1"/><stop offset="0.200" stop-color="#fdfadb"/><stop offset="0.350" stop-color="#fdf8cf"/><stop offset="0.450" stop-color="#fcf6c4"/><stop offset="0.550" stop-color="#fcf3b2"/><stop offset="0.620" stop-color="#fceca6"/><stop offset="0.680" stop-color="#fbe598"/><stop offset="0.740" stop-color="#fbda81"/><stop offset="0.790" stop-color="#fbca62"/><stop offset="0.830" stop-color="#fab949"/><stop offset="0.870" stop-color="#f9a334"/><stop offset="0.900" stop-color="#f58f29"/><stop offset="0.930" stop-color="#ed7a25"/><stop offset="0.955" stop-color="#e16626"/><stop offset="0.975" stop-color="#d05628"/><stop offset="1.000" stop-color="#b64427"/></linearGradient><linearGradient id="g150" x1="0" y1="0" x2="0" y2="1"><stop offset="0.000" stop-color="#fdfce1"/><stop offset="0.200" stop-color="#fdfadb"/><stop offset="0.350" stop-color="#fdf8d0"/><stop offset="0.450" stop-color="#fcf6c4"/><stop offset="0.550" stop-color="#fcf3b3"/><stop offset="0.620" stop-color="#fceda6"/><stop offset="0.680" stop-color="#fbe598"/><stop offset="0.740" stop-color="#fbda82"/><stop offset="0.790" stop-color="#fbcb63"/><stop offset="0.830" stop-color="#faba49"/><stop offset="0.870" stop-color="#f9a334"/><stop offset="0.900" stop-color="#f59029"/><stop offset="0.930" stop-color="#ee7a26"/><stop offset="0.955" stop-color="#e16725"/><stop offset="0.975" stop-color="#d15728"/><stop offset="1.000" stop-color="#b84527"/></linearGradient><linearGradient id="g151" x1="0" y1="0" x2="0" y2="1"><stop offset="0.000" stop-color="#fdfce1"/><stop offset="0.200" stop-color="#fdfadb"/><stop offset="0.350" stop-color="#fdf8d0"/><stop offset="0.450" stop-color="#fcf6c4"/><stop offset="0.550" stop-color="#fcf3b3"/><stop offset="0.620" stop-color="#fceda6"/><stop offset="0.680" stop-color="#fbe699"/><stop offset="0.740" stop-color="#fbda82"/><stop offset="0.790" stop-color="#fbcb64"/><stop offset="0.830" stop-color="#fbba4a"/><stop offset="0.870" stop-color="#f9a435"/><stop offset="0.900" stop-color="#f59129"/><stop offset="0.930" stop-color="#ee7b26"/><stop offset="0.955" stop-color="#e26825"/><stop offset="0.975" stop-color="#d35828"/><stop offset="1.000" stop-color="#b94628"/></linearGradient><linearGradient id="g152" x1="0" y1="0" x2="0" y2="1"><stop offset="0.000" stop-color="#fdfce1"/><stop offset="0.200" stop-color="#fdfadb"/><stop offset="0.350" stop-color="#fdf8d0"/><stop offset="0.450" stop-color="#fcf6c4"/><stop offset="0.550" stop-color="#fcf3b3"/><stop offset="0.620" stop-color="#fceda7"/><stop offset="0.680" stop-color="#fbe699"/><stop offset="0.740" stop-color="#fbdb83"/><stop offset="0.790" stop-color="#fbcb64"/><stop offset="0.830" stop-color="#fbbb4a"/><stop offset="0.870" stop-color="#f9a536"/><stop offset="0.900" stop-color="#f69129"/><stop offset="0.930" stop-color="#ee7c26"/><stop offset="0.955" stop-color="#e36925"/><stop offset="0.975" stop-color="#d45928"/><stop offset="1.000" stop-color="#bb4628"/></linearGradient><linearGradient id="g153" x1="0" y1="0" x2="0" y2="1"><stop offset="0.000" stop-color="#fdfce1"/><stop offset="0.200" stop-color="#fdfadb"/><stop offset="0.350" stop-color="#fdf8d0"/><stop offset="0.450" stop-color="#fcf6c4"/><stop offset="0.550" stop-color="#fcf3b3"/><stop offset="0.620" stop-color="#fceda7"/><stop offset="0.680" stop-color="#fbe699"/><stop offset="0.740" stop-color="#fbdb84"/><stop offset="0.790" stop-color="#fbcb65"/><stop offset="0.830" stop-color="#fbbc4b"/><stop offset="0.870" stop-color="#f9a536"/><stop offset="0.900" stop-color="#f69229"/><stop offset="0.930" stop-color="#ee7d26"/><stop offset="0.955" stop-color="#e46a25"/><stop offset="0.975" stop-color="#d45a28"/><stop offset="1.000" stop-color="#bd4728"/></linearGradient><linearGradient id="g154" x1="0" y1="0" x2="0" y2="1"><stop offset="0.000" stop-color="#fdfce1"/><stop offset="0.200" stop-color="#fdfadb"/><stop offset="0.350" stop-color="#fdf8d0"/><stop offset="0.450" stop-color="#fcf6c4"/><stop offset="0.550" stop-color="#fcf3b3"/><stop offset="0.620" stop-color="#fceda7"/><stop offset="0.680" stop-color="#fbe699"/><stop offset="0.740" stop-color="#fbdb84"/><stop offset="0.790" stop-color="#fbcc66"/><stop offset="0.830" stop-color="#fbbc4c"/><stop offset="0.870" stop-color="#f9a637"/><stop offset="0.900" stop-color="#f69329"/><stop offset="0.930" stop-color="#ef7d26"/><stop offset="0.955" stop-color="#e56a25"/><stop offset="0.975" stop-color="#d55b27"/><stop offset="1.000" stop-color="#bd4728"/></linearGradient><linearGradient id="g155" x1="0" y1="0" x2="0" y2="1"><stop offset="0.000" stop-color="#fdfce1"/><stop offset="0.200" stop-color="#fdfadb"/><stop offset="0.350" stop-color="#fdf8d0"/><stop offset="0.450" stop-color="#fcf6c4"/><stop offset="0.550" stop-color="#fcf3b3"/><stop offset="0.620" stop-color="#fceda7"/><stop offset="0.680" stop-color="#fbe69a"/><stop offset="0.740" stop-color="#fbdc85"/><stop offset="0.790" stop-color="#fbcc67"/><stop offset="0.830" stop-color="#fbbd4c"/><stop offset="0.870" stop-color="#f9a637"/><stop offset="0.900" stop-color="#f69329"/><stop offset="0.930" stop-color="#ef7f26"/><stop offset="0.955" stop-color="#e66c25"/><stop offset="0.975" stop-color="#d65b27"/><stop offset="1.000" stop-color="#bf4829"/></linearGradient><linearGradient id="g156" x1="0" y1="0" x2="0" y2="1"><stop offset="0.000" stop-color="#fdfce1"/><stop offset="0.200" stop-color="#fdfadb"/><stop offset="0.350" stop-color="#fdf8d0"/><stop offset="0.450" stop-color="#fcf6c4"/><stop offset="0.550" stop-color="#fcf3b3"/><stop offset="0.620" stop-color="#fceda7"/><stop offset="0.680" stop-color="#fbe69a"/><stop offset="0.740" stop-color="#fbdc85"/><stop offset="0.790" stop-color="#fbcc67"/><stop offset="0.830" stop-color="#fbbe4d"/><stop offset="0.870" stop-color="#f9a738"/><stop offset="0.900" stop-color="#f79429"/><stop offset="0.930" stop-color="#ef7f26"/><stop offset="0.955" stop-color="#e66c25"/><stop offset="0.975" stop-color="#d75d27"/><stop offset="1.000" stop-color="#c14929"/></linearGradient><linearGradient id="g157" x1="0" y1="0" x2="0" y2="1"><stop offset="0.000" stop-color="#fdfce1"/><stop offset="0.200" stop-color="#fdfadb"/><stop offset="0.350" stop-color="#fdf8d0"/><stop offset="0.450" stop-color="#fcf7c5"/><stop offset="0.550" stop-color="#fcf3b4"/><stop offset="0.620" stop-color="#fceda7"/><stop offset="0.680" stop-color="#fbe69a"/><stop offset="0.740" stop-color="#fbdc86"/><stop offset="0.790" stop-color="#fbcd68"/><stop offset="0.830" stop-color="#fbbe4d"/><stop offset="0.870" stop-color="#f9a839"/><stop offset="0.900" stop-color="#f79529"/><stop offset="0.930" stop-color="#f08026"/><stop offset="0.955" stop-color="#e76d25"/><stop offset="0.975" stop-color="#d85d27"/><stop offset="1.000" stop-color="#c14929"/></linearGradient><linearGradient id="g158" x1="0" y1="0" x2="0" y2="1"><stop offset="0.000" stop-color="#fdfce1"/><stop offset="0.200" stop-color="#fdfadb"/><stop offset="0.350" stop-color="#fdf9d1"/><stop offset="0.450" stop-color="#fcf7c5"/><stop offset="0.550" stop-color="#fcf3b4"/><stop offset="0.620" stop-color="#fceea8"/><stop offset="0.680" stop-color="#fbe69a"/><stop offset="0.740" stop-color="#fbdc86"/><stop offset="0.790" stop-color="#fbcd69"/><stop offset="0.830" stop-color="#fbbe4d"/><stop offset="0.870" stop-color="#f9a839"/><stop offset="0.900" stop-color="#f7952a"/><stop offset="0.930" stop-color="#f08126"/><stop offset="0.955" stop-color="#e76d24"/><stop offset="0.975" stop-color="#d85e27"/><stop offset="1.000" stop-color="#c24929"/></linearGradient><linearGradient id="g159" x1="0" y1="0" x2="0" y2="1"><stop offset="0.000" stop-color="#fdfce1"/><stop offset="0.200" stop-color="#fdfadb"/><stop offset="0.350" stop-color="#fdf9d1"/><stop offset="0.450" stop-color="#fcf7c5"/><stop offset="0.550" stop-color="#fcf3b4"/><stop offset="0.620" stop-color="#fceea8"/><stop offset="0.680" stop-color="#fbe69a"/><stop offset="0.740" stop-color="#fbdc87"/><stop offset="0.790" stop-color="#fbcd69"/><stop offset="0.830" stop-color="#fbbf4e"/><stop offset="0.870" stop-color="#f9a839"/><stop offset="0.900" stop-color="#f7962a"/><stop offset="0.930" stop-color="#f08127"/><stop offset="0.955" stop-color="#e86e24"/><stop offset="0.975" stop-color="#d95e27"/><stop offset="1.000" stop-color="#c34a29"/></linearGradient><linearGradient id="g160" x1="0" y1="0" x2="0" y2="1"><stop offset="0.000" stop-color="#fdfce1"/><stop offset="0.200" stop-color="#fdfadb"/><stop offset="0.350" stop-color="#fdf9d1"/><stop offset="0.450" stop-color="#fcf7c5"/><stop offset="0.550" stop-color="#fcf3b4"/><stop offset="0.620" stop-color="#fceea8"/><stop offset="0.680" stop-color="#fbe79b"/><stop offset="0.740" stop-color="#fbdc87"/><stop offset="0.790" stop-color="#fbce6a"/><stop offset="0.830" stop-color="#fbbf4e"/><stop offset="0.870" stop-color="#f9a93a"/><stop offset="0.900" stop-color="#f7962a"/><stop offset="0.930" stop-color="#f08227"/><stop offset="0.955" stop-color="#e96e24"/><stop offset="0.975" stop-color="#d95f27"/><stop offset="1.000" stop-color="#c44a2a"/></linearGradient><linearGradient id="g161" x1="0" y1="0" x2="0" y2="1"><stop offset="0.000" stop-color="#fdfce2"/><stop offset="0.200" stop-color="#fdfadb"/><stop offset="0.350" stop-color="#fdf9d1"/><stop offset="0.450" stop-color="#fcf7c5"/><stop offset="0.550" stop-color="#fcf3b4"/><stop offset="0.620" stop-color="#fceea8"/><stop offset="0.680" stop-color="#fbe79b"/><stop offset="0.740" stop-color="#fbdc87"/><stop offset="0.790" stop-color="#fbce6a"/><stop offset="0.830" stop-color="#fbbf4f"/><stop offset="0.870" stop-color="#f9aa3a"/><stop offset="0.900" stop-color="#f7962a"/><stop offset="0.930" stop-color="#f08227"/><stop offset="0.955" stop-color="#e96f24"/><stop offset="0.975" stop-color="#da5f27"/><stop offset="1.000" stop-color="#c54a2a"/></linearGradient><linearGradient id="g162" x1="0" y1="0" x2="0" y2="1"><stop offset="0.000" stop-color="#fdfce2"/><stop offset="0.200" stop-color="#fdfadb"/><stop offset="0.350" stop-color="#fdf9d1"/><stop offset="0.450" stop-color="#fcf7c5"/><stop offset="0.550" stop-color="#fcf4b5"/><stop offset="0.620" stop-color="#fceea8"/><stop offset="0.680" stop-color="#fbe79b"/><stop offset="0.740" stop-color="#fbdd88"/><stop offset="0.790" stop-color="#fbce6a"/><stop offset="0.830" stop-color="#fbbf4f"/><stop offset="0.870" stop-color="#f9aa3a"/><stop offset="0.900" stop-color="#f8972a"/><stop offset="0.930" stop-color="#f08227"/><stop offset="0.955" stop-color="#e96f24"/><stop offset="0.975" stop-color="#da5f27"/><stop offset="1.000" stop-color="#c54b2a"/></linearGradient><linearGradient id="g163" x1="0" y1="0" x2="0" y2="1"><stop offset="0.000" stop-color="#fdfce2"/><stop offset="0.200" stop-color="#fdfadb"/><stop offset="0.350" stop-color="#fdf9d1"/><stop offset="0.450" stop-color="#fcf7c5"/><stop offset="0.550" stop-color="#fcf4b5"/><stop offset="0.620" stop-color="#fceea8"/><stop offset="0.680" stop-color="#fbe79b"/><stop offset="0.740" stop-color="#fbdd88"/><stop offset="0.790" stop-color="#fbce6a"/><stop offset="0.830" stop-color="#fbbf4f"/><stop offset="0.870" stop-color="#f9aa3a"/><stop offset="0.900" stop-color="#f8972a"/><stop offset="0.930" stop-color="#f08227"/><stop offset="0.955" stop-color="#ea7024"/><stop offset="0.975" stop-color="#da6027"/><stop offset="1.000" stop-color="#c54b2a"/></linearGradient><linearGradient id="g164" x1="0" y1="0" x2="0" y2="1"><stop offset="0.000" stop-color="#fdfce2"/><stop offset="0.200" stop-color="#fdfadb"/><stop offset="0.350" stop-color="#fdf9d1"/><stop offset="0.450" stop-color="#fcf7c5"/><stop offset="0.550" stop-color="#fcf4b5"/><stop offset="0.620" stop-color="#fceea8"/><stop offset="0.680" stop-color="#fbe79b"/><stop offset="0.740" stop-color="#fbdd88"/><stop offset="0.790" stop-color="#fbce6a"/><stop offset="0.830" stop-color="#fbbf4f"/><stop offset="0.870" stop-color="#f9aa3a"/><stop offset="0.900" stop-color="#f8972a"/><stop offset="0.930" stop-color="#f08227"/><stop offset="0.955" stop-color="#ea7024"/><stop offset="0.975" stop-color="#da6027"/><stop offset="1.000" stop-color="#c64b2a"/></linearGradient><linearGradient id="g165" x1="0" y1="0" x2="0" y2="1"><stop offset="0.000" stop-color="#fdfce2"/><stop offset="0.200" stop-color="#fdfadb"/><stop offset="0.350" stop-color="#fdf9d1"/><stop offset="0.450" stop-color="#fcf7c5"/><stop offset="0.550" stop-color="#fcf4b5"/><stop offset="0.620" stop-color="#fceea8"/><stop offset="0.680" stop-color="#fbe79b"/><stop offset="0.740" stop-color="#fbdd88"/><stop offset="0.790" stop-color="#fbce6a"/><stop offset="0.830" stop-color="#fbbf4f"/><stop offset="0.870" stop-color="#f9aa3a"/><stop offset="0.900" stop-color="#f8972a"/><stop offset="0.930" stop-color="#f08227"/><stop offset="0.955" stop-color="#ea7024"/><stop offset="0.975" stop-color="#da6027"/><stop offset="1.000" stop-color="#c54b2a"/></linearGradient><linearGradient id="g166" x1="0" y1="0" x2="0" y2="1"><stop offset="0.000" stop-color="#fdfce2"/><stop offset="0.200" stop-color="#fdfadb"/><stop offset="0.350" stop-color="#fdf9d1"/><stop offset="0.450" stop-color="#fcf7c5"/><stop offset="0.550" stop-color="#fcf4b5"/><stop offset="0.620" stop-color="#fceea8"/><stop offset="0.680" stop-color="#fbe79b"/><stop offset="0.740" stop-color="#fbdd88"/><stop offset="0.790" stop-color="#fbce6a"/><stop offset="0.830" stop-color="#fbbf4f"/><stop offset="0.870" stop-color="#f9aa3a"/><stop offset="0.900" stop-color="#f8972a"/><stop offset="0.930" stop-color="#f08227"/><stop offset="0.955" stop-color="#e96f24"/><stop offset="0.975" stop-color="#da5f27"/><stop offset="1.000" stop-color="#c54b2a"/></linearGradient><linearGradient id="g167" x1="0" y1="0" x2="0" y2="1"><stop offset="0.000" stop-color="#fdfce1"/><stop offset="0.200" stop-color="#fdfadb"/><stop offset="0.350" stop-color="#fdf9d1"/><stop offset="0.450" stop-color="#fcf7c5"/><stop offset="0.550" stop-color="#fcf3b4"/><stop offset="0.620" stop-color="#fceea8"/><stop offset="0.680" stop-color="#fbe79b"/><stop offset="0.740" stop-color="#fbdc87"/><stop offset="0.790" stop-color="#fbce6a"/><stop offset="0.830" stop-color="#fbbf4e"/><stop offset="0.870" stop-color="#f9a93a"/><stop offset="0.900" stop-color="#f7962a"/><stop offset="0.930" stop-color="#f08227"/><stop offset="0.955" stop-color="#e96e24"/><stop offset="0.975" stop-color="#d95f27"/><stop offset="1.000" stop-color="#c44a2a"/></linearGradient><linearGradient id="g168" x1="0" y1="0" x2="0" y2="1"><stop offset="0.000" stop-color="#fdfce1"/><stop offset="0.200" stop-color="#fdfadb"/><stop offset="0.350" stop-color="#fdf9d1"/><stop offset="0.450" stop-color="#fcf7c5"/><stop offset="0.550" stop-color="#fcf3b4"/><stop offset="0.620" stop-color="#fceea8"/><stop offset="0.680" stop-color="#fbe69a"/><stop offset="0.740" stop-color="#fbdc86"/><stop offset="0.790" stop-color="#fbcd69"/><stop offset="0.830" stop-color="#fbbe4d"/><stop offset="0.870" stop-color="#f9a839"/><stop offset="0.900" stop-color="#f7952a"/><stop offset="0.930" stop-color="#f08126"/><stop offset="0.955" stop-color="#e76d24"/><stop offset="0.975" stop-color="#d85e27"/><stop offset="1.000" stop-color="#c34a29"/></linearGradient><linearGradient id="g169" x1="0" y1="0" x2="0" y2="1"><stop offset="0.000" stop-color="#fdfce1"/><stop offset="0.200" stop-color="#fdfadb"/><stop offset="0.350" stop-color="#fdf8d0"/><stop offset="0.450" stop-color="#fcf7c5"/><stop offset="0.550" stop-color="#fcf3b4"/><stop offset="0.620" stop-color="#fceda7"/><stop offset="0.680" stop-color="#fbe69a"/><stop offset="0.740" stop-color="#fbdc86"/><stop offset="0.790" stop-color="#fbcd68"/><stop offset="0.830" stop-color="#fbbe4d"/><stop offset="0.870" stop-color="#f9a839"/><stop offset="0.900" stop-color="#f79529"/><stop offset="0.930" stop-color="#ef7f26"/><stop offset="0.955" stop-color="#e66c25"/><stop offset="0.975" stop-color="#d75d27"/><stop offset="1.000" stop-color="#c14929"/></linearGradient><linearGradient id="g170" x1="0" y1="0" x2="0" y2="1"><stop offset="0.000" stop-color="#fdfce1"/><stop offset="0.200" stop-color="#fdfadb"/><stop offset="0.350" stop-color="#fdf8d0"/><stop offset="0.450" stop-color="#fcf6c4"/><stop offset="0.550" stop-color="#fcf3b3"/><stop offset="0.620" stop-color="#fceda7"/><stop offset="0.680" stop-color="#fbe69a"/><stop offset="0.740" stop-color="#fbdb84"/><stop offset="0.790" stop-color="#fbcc66"/><stop offset="0.830" stop-color="#fbbc4c"/><stop offset="0.870" stop-color="#f9a637"/><stop offset="0.900" stop-color="#f69329"/><stop offset="0.930" stop-color="#ef7e26"/><stop offset="0.955" stop-color="#e56b25"/><stop offset="0.975" stop-color="#d55b27"/><stop offset="1.000" stop-color="#be4829"/></linearGradient><linearGradient id="g171" x1="0" y1="0" x2="0" y2="1"><stop offset="0.000" stop-color="#fdfce1"/><stop offset="0.200" stop-color="#fdfadb"/><stop offset="0.350" stop-color="#fdf8d0"/><stop offset="0.450" stop-color="#fcf6c4"/><stop offset="0.550" stop-color="#fcf3b3"/><stop offset="0.620" stop-color="#fceda7"/><stop offset="0.680" stop-color="#fbe699"/><stop offset="0.740" stop-color="#fbdb83"/><stop offset="0.790" stop-color="#fbcb65"/><stop offset="0.830" stop-color="#fbbc4b"/><stop offset="0.870" stop-color="#f9a536"/><stop offset="0.900" stop-color="#f69129"/><stop offset="0.930" stop-color="#ee7c26"/><stop offset="0.955" stop-color="#e36925"/><stop offset="0.975" stop-color="#d45928"/><stop offset="1.000" stop-color="#bb4628"/></linearGradient><linearGradient id="g172" x1="0" y1="0" x2="0" y2="1"><stop offset="0.000" stop-color="#fdfce1"/><stop offset="0.200" stop-color="#fdfadb"/><stop offset="0.350" stop-color="#fdf8cf"/><stop offset="0.450" stop-color="#fcf6c4"/><stop offset="0.550" stop-color="#fcf3b3"/><stop offset="0.620" stop-color="#fceda6"/><stop offset="0.680" stop-color="#fbe598"/><stop offset="0.740" stop-color="#fbda81"/><stop offset="0.790" stop-color="#fbcb63"/><stop offset="0.830" stop-color="#faba49"/><stop offset="0.870" stop-color="#f9a334"/><stop offset="0.900" stop-color="#f59029"/><stop offset="0.930" stop-color="#ed7a25"/><stop offset="0.955" stop-color="#e16725"/><stop offset="0.975" stop-color="#d15728"/><stop offset="1.000" stop-color="#b74527"/></linearGradient><linearGradient id="g173" x1="0" y1="0" x2="0" y2="1"><stop offset="0.000" stop-color="#fdfce1"/><stop offset="0.200" stop-color="#fdfada"/><stop offset="0.350" stop-color="#fdf8cf"/><stop offset="0.450" stop-color="#fcf6c4"/><stop offset="0.550" stop-color="#fcf3b2"/><stop offset="0.620" stop-color="#fceca5"/><stop offset="0.680" stop-color="#fbe597"/><stop offset="0.740" stop-color="#fbd97f"/><stop offset="0.790" stop-color="#fbc960"/><stop offset="0.830" stop-color="#fab847"/><stop offset="0.870" stop-color="#f9a132"/><stop offset="0.900" stop-color="#f48d28"/><stop offset="0.930" stop-color="#ec7725"/><stop offset="0.955" stop-color="#de6426"/><stop offset="0.975" stop-color="#cf5429"/><stop offset="1.000" stop-color="#b34327"/></linearGradient><linearGradient id="g174" x1="0" y1="0" x2="0" y2="1"><stop offset="0.000" stop-color="#fdfce1"/><stop offset="0.200" stop-color="#fdfada"/><stop offset="0.350" stop-color="#fdf8cf"/><stop offset="0.450" stop-color="#fcf6c3"/><stop offset="0.550" stop-color="#fcf3b1"/><stop offset="0.620" stop-color="#fceca4"/><stop offset="0.680" stop-color="#fbe496"/><stop offset="0.740" stop-color="#fbd87d"/><stop offset="0.790" stop-color="#fbc85d"/><stop offset="0.830" stop-color="#fab646"/><stop offset="0.870" stop-color="#f89e30"/><stop offset="0.900" stop-color="#f38b28"/><stop offset="0.930" stop-color="#ec7525"/><stop offset="0.955" stop-color="#dc6126"/><stop offset="0.975" stop-color="#cb5029"/><stop offset="1.000" stop-color="#ae4126"/></linearGradient><linearGradient id="g175" x1="0" y1="0" x2="0" y2="1"><stop offset="0.000" stop-color="#fdfce1"/><stop offset="0.200" stop-color="#fdfada"/><stop offset="0.350" stop-color="#fdf8ce"/><stop offset="0.450" stop-color="#fcf6c2"/><stop offset="0.550" stop-color="#fcf2b0"/><stop offset="0.620" stop-color="#fceba3"/><stop offset="0.680" stop-color="#fbe495"/><stop offset="0.740" stop-color="#fbd77b"/><stop offset="0.790" stop-color="#fbc65a"/><stop offset="0.830" stop-color="#fab343"/><stop offset="0.870" stop-color="#f89c2d"/><stop offset="0.900" stop-color="#f28728"/><stop offset="0.930" stop-color="#ea7124"/><stop offset="0.955" stop-color="#d85e27"/><stop offset="0.975" stop-color="#c74c2a"/><stop offset="1.000" stop-color="#a83e25"/></linearGradient><linearGradient id="g176" x1="0" y1="0" x2="0" y2="1"><stop offset="0.000" stop-color="#fdfce1"/><stop offset="0.200" stop-color="#fdfad9"/><stop offset="0.350" stop-color="#fdf8ce"/><stop offset="0.450" stop-color="#fcf6c1"/><stop offset="0.550" stop-color="#fcf2b0"/><stop offset="0.620" stop-color="#fceba2"/><stop offset="0.680" stop-color="#fbe393"/><stop offset="0.740" stop-color="#fbd578"/><stop offset="0.790" stop-color="#fbc557"/><stop offset="0.830" stop-color="#fab141"/><stop offset="0.870" stop-color="#f8982a"/><stop offset="0.900" stop-color="#f18427"/><stop offset="0.930" stop-color="#e76d24"/><stop offset="0.955" stop-color="#d45a28"/><stop offset="0.975" stop-color="#c24929"/><stop offset="1.000" stop-color="#a13b24"/></linearGradient><linearGradient id="g177" x1="0" y1="0" x2="0" y2="1"><stop offset="0.000" stop-color="#fdfce1"/><stop offset="0.200" stop-color="#fdfad9"/><stop offset="0.350" stop-color="#fdf8ce"/><stop offset="0.450" stop-color="#fcf6c0"/><stop offset="0.550" stop-color="#fcf1af"/><stop offset="0.620" stop-color="#fceaa1"/><stop offset="0.680" stop-color="#fbe292"/><stop offset="0.740" stop-color="#fbd375"/><stop offset="0.790" stop-color="#fbc354"/><stop offset="0.830" stop-color="#faae3e"/><stop offset="0.870" stop-color="#f7952a"/><stop offset="0.900" stop-color="#f08026"/><stop offset="0.930" stop-color="#e36925"/><stop offset="0.955" stop-color="#d05528"/><stop offset="0.975" stop-color="#bc4728"/><stop offset="1.000" stop-color="#9a3822"/></linearGradient><linearGradient id="g178" x1="0" y1="0" x2="0" y2="1"><stop offset="0.000" stop-color="#fdfce1"/><stop offset="0.200" stop-color="#fdfad9"/><stop offset="0.350" stop-color="#fdf8cd"/><stop offset="0.450" stop-color="#fcf6c0"/><stop offset="0.550" stop-color="#fcf1ae"/><stop offset="0.620" stop-color="#fbe9a0"/><stop offset="0.680" stop-color="#fbe191"/><stop offset="0.740" stop-color="#fbd272"/><stop offset="0.790" stop-color="#fbc04f"/><stop offset="0.830" stop-color="#f9aa3b"/><stop offset="0.870" stop-color="#f69129"/><stop offset="0.900" stop-color="#ee7c26"/><stop offset="0.930" stop-color="#df6526"/><stop offset="0.955" stop-color="#cb5029"/><stop offset="0.975" stop-color="#b54427"/><stop offset="1.000" stop-color="#923521"/></linearGradient><linearGradient id="g179" x1="0" y1="0" x2="0" y2="1"><stop offset="0.000" stop-color="#fdfce1"/><stop offset="0.200" stop-color="#fdfad8"/><stop offset="0.350" stop-color="#fdf8cc"/><stop offset="0.450" stop-color="#fcf5bf"/><stop offset="0.550" stop-color="#fcf0ad"/><stop offset="0.620" stop-color="#fbe99f"/><stop offset="0.680" stop-color="#fbe18f"/><stop offset="0.740" stop-color="#fbd06e"/><stop offset="0.790" stop-color="#fbbd4c"/><stop offset="0.830" stop-color="#f9a738"/><stop offset="0.870" stop-color="#f48d28"/><stop offset="0.900" stop-color="#ec7725"/><stop offset="0.930" stop-color="#da6027"/><stop offset="0.955" stop-color="#c54b2a"/><stop offset="0.975" stop-color="#ac4025"/><stop offset="1.000" stop-color="#8b321f"/></linearGradient><linearGradient id="g180" x1="0" y1="0" x2="0" y2="1"><stop offset="0.000" stop-color="#fdfce1"/><stop offset="0.200" stop-color="#fdfad8"/><stop offset="0.350" stop-color="#fdf8cb"/><stop offset="0.450" stop-color="#fcf5bd"/><stop offset="0.550" stop-color="#fcf0ac"/><stop offset="0.620" stop-color="#fbe89d"/><stop offset="0.680" stop-color="#fbdf8c"/><stop offset="0.740" stop-color="#fbcd69"/><stop offset="0.790" stop-color="#faba49"/><stop offset="0.830" stop-color="#f9a334"/><stop offset="0.870" stop-color="#f38928"/><stop offset="0.900" stop-color="#eb7224"/><stop offset="0.930" stop-color="#d55a28"/><stop offset="0.955" stop-color="#bd4728"/><stop offset="0.975" stop-color="#a33c24"/><stop offset="1.000" stop-color="#83301d"/></linearGradient><linearGradient id="g181" x1="0" y1="0" x2="0" y2="1"><stop offset="0.000" stop-color="#fdfce1"/><stop offset="0.200" stop-color="#fdfad7"/><stop offset="0.350" stop-color="#fcf7ca"/><stop offset="0.450" stop-color="#fcf5bd"/><stop offset="0.550" stop-color="#fcefaa"/><stop offset="0.620" stop-color="#fbe79b"/><stop offset="0.680" stop-color="#fbdd89"/><stop offset="0.740" stop-color="#fbcb64"/><stop offset="0.790" stop-color="#fab646"/><stop offset="0.830" stop-color="#f89e30"/><stop offset="0.870" stop-color="#f18427"/><stop offset="0.900" stop-color="#e76d25"/><stop offset="0.930" stop-color="#cf5428"/><stop offset="0.955" stop-color="#b54427"/><stop offset="0.975" stop-color="#993822"/><stop offset="1.000" stop-color="#792d1a"/></linearGradient><linearGradient id="g182" x1="0" y1="0" x2="0" y2="1"><stop offset="0.000" stop-color="#fdfce3"/><stop offset="0.200" stop-color="#fdfbde"/><stop offset="0.350" stop-color="#fdfad7"/><stop offset="0.450" stop-color="#fdf8cf"/><stop offset="0.550" stop-color="#fcf6c4"/><stop offset="0.620" stop-color="#fcf5ba"/><stop offset="0.680" stop-color="#fcf2b0"/><stop offset="0.740" stop-color="#fceda6"/><stop offset="0.790" stop-color="#fbe79b"/><stop offset="0.830" stop-color="#fbe292"/><stop offset="0.870" stop-color="#fbda82"/><stop offset="0.900" stop-color="#fbd272"/><stop offset="0.930" stop-color="#fbc95f"/><stop offset="0.955" stop-color="#fbc04f"/><stop offset="0.975" stop-color="#fab646"/><stop offset="1.000" stop-color="#f9aa3a"/></linearGradient><linearGradient id="g183" x1="0" y1="0" x2="0" y2="1"><stop offset="0.000" stop-color="#fdfce3"/><stop offset="0.200" stop-color="#fdfbde"/><stop offset="0.350" stop-color="#fdfad7"/><stop offset="0.450" stop-color="#fdf8cf"/><stop offset="0.550" stop-color="#fcf6c4"/><stop offset="0.620" stop-color="#fcf5ba"/><stop offset="0.680" stop-color="#fcf2b0"/><stop offset="0.740" stop-color="#fceca6"/><stop offset="0.790" stop-color="#fbe79b"/><stop offset="0.830" stop-color="#fbe292"/><stop offset="0.870" stop-color="#fbda82"/><stop offset="0.900" stop-color="#fbd272"/><stop offset="0.930" stop-color="#fbc95f"/><stop offset="0.955" stop-color="#fbc04f"/><stop offset="0.975" stop-color="#fab646"/><stop offset="1.000" stop-color="#f9aa3a"/></linearGradient><linearGradient id="g184" x1="0" y1="0" x2="0" y2="1"><stop offset="0.000" stop-color="#fdfce3"/><stop offset="0.200" stop-color="#fdfbde"/><stop offset="0.350" stop-color="#fdfad7"/><stop offset="0.450" stop-color="#fdf8cf"/><stop offset="0.550" stop-color="#fcf6c4"/><stop offset="0.620" stop-color="#fcf5ba"/><stop offset="0.680" stop-color="#fcf2b0"/><stop offset="0.740" stop-color="#fceca6"/><stop offset="0.790" stop-color="#fbe79b"/><stop offset="0.830" stop-color="#fbe292"/><stop offset="0.870" stop-color="#fbda81"/><stop offset="0.900" stop-color="#fbd272"/><stop offset="0.930" stop-color="#fbc95f"/><stop offset="0.955" stop-color="#fbc04f"/><stop offset="0.975" stop-color="#fab646"/><stop offset="1.000" stop-color="#f9aa3a"/></linearGradient><linearGradient id="g185" x1="0" y1="0" x2="0" y2="1"><stop offset="0.000" stop-color="#fdfce3"/><stop offset="0.200" stop-color="#fdfbde"/><stop offset="0.350" stop-color="#fdfad7"/><stop offset="0.450" stop-color="#fdf8cf"/><stop offset="0.550" stop-color="#fcf6c4"/><stop offset="0.620" stop-color="#fcf5ba"/><stop offset="0.680" stop-color="#fcf2b0"/><stop offset="0.740" stop-color="#fceca6"/><stop offset="0.790" stop-color="#fbe79b"/><stop offset="0.830" stop-color="#fbe292"/><stop offset="0.870" stop-color="#fbda81"/><stop offset="0.900" stop-color="#fbd272"/><stop offset="0.930" stop-color="#fbc95f"/><stop offset="0.955" stop-color="#fbc04f"/><stop offset="0.975" stop-color="#fab646"/><stop offset="1.000" stop-color="#f9a93a"/></linearGradient><linearGradient id="g186" x1="0" y1="0" x2="0" y2="1"><stop offset="0.000" stop-color="#fdfce3"/><stop offset="0.200" stop-color="#fdfbde"/><stop offset="0.350" stop-color="#fdfad7"/><stop offset="0.450" stop-color="#fdf8cf"/><stop offset="0.550" stop-color="#fcf6c4"/><stop offset="0.620" stop-color="#fcf5ba"/><stop offset="0.680" stop-color="#fcf2b0"/><stop offset="0.740" stop-color="#fceca6"/><stop offset="0.790" stop-color="#fbe79b"/><stop offset="0.830" stop-color="#fbe292"/><stop offset="0.870" stop-color="#fbda81"/><stop offset="0.900" stop-color="#fbd272"/><stop offset="0.930" stop-color="#fbc95f"/><stop offset="0.955" stop-color="#fbc04f"/><stop offset="0.975" stop-color="#fab646"/><stop offset="1.000" stop-color="#f9a93a"/></linearGradient><linearGradient id="g187" x1="0" y1="0" x2="0" y2="1"><stop offset="0.000" stop-color="#fdfce3"/><stop offset="0.200" stop-color="#fdfbde"/><stop offset="0.350" stop-color="#fdfad7"/><stop offset="0.450" stop-color="#fdf8cf"/><stop offset="0.550" stop-color="#fcf6c4"/><stop offset="0.620" stop-color="#fcf5ba"/><stop offset="0.680" stop-color="#fcf2b0"/><stop offset="0.740" stop-color="#fceca6"/><stop offset="0.790" stop-color="#fbe79b"/><stop offset="0.830" stop-color="#fbe292"/><stop offset="0.870" stop-color="#fbda81"/><stop offset="0.900" stop-color="#fbd272"/><stop offset="0.930" stop-color="#fbc95f"/><stop offset="0.955" stop-color="#fbc04f"/><stop offset="0.975" stop-color="#fab646"/><stop offset="1.000" stop-color="#f9a93a"/></linearGradient><linearGradient id="g188" x1="0" y1="0" x2="0" y2="1"><stop offset="0.000" stop-color="#fdfce3"/><stop offset="0.200" stop-color="#fdfbde"/><stop offset="0.350" stop-color="#fdfad7"/><stop offset="0.450" stop-color="#fdf8cf"/><stop offset="0.550" stop-color="#fcf6c4"/><stop offset="0.620" stop-color="#fcf5ba"/><stop offset="0.680" stop-color="#fcf2b0"/><stop offset="0.740" stop-color="#fceca6"/><stop offset="0.790" stop-color="#fbe79b"/><stop offset="0.830" stop-color="#fbe292"/><stop offset="0.870" stop-color="#fbda81"/><stop offset="0.900" stop-color="#fbd272"/><stop offset="0.930" stop-color="#fbc95f"/><stop offset="0.955" stop-color="#fbc04f"/><stop offset="0.975" stop-color="#fab646"/><stop offset="1.000" stop-color="#f9a93a"/></linearGradient><linearGradient id="g189" x1="0" y1="0" x2="0" y2="1"><stop offset="0.000" stop-color="#fdfce3"/><stop offset="0.200" stop-color="#fdfbde"/><stop offset="0.350" stop-color="#fdfad7"/><stop offset="0.450" stop-color="#fdf8cf"/><stop offset="0.550" stop-color="#fcf6c4"/><stop offset="0.620" stop-color="#fcf5ba"/><stop offset="0.680" stop-color="#fcf2b0"/><stop offset="0.740" stop-color="#fceca6"/><stop offset="0.790" stop-color="#fbe79b"/><stop offset="0.830" stop-color="#fbe292"/><stop offset="0.870" stop-color="#fbda81"/><stop offset="0.900" stop-color="#fbd272"/><stop offset="0.930" stop-color="#fbc95f"/><stop offset="0.955" stop-color="#fbc04f"/><stop offset="0.975" stop-color="#fab646"/><stop offset="1.000" stop-color="#f9a93a"/></linearGradient><linearGradient id="g190" x1="0" y1="0" x2="0" y2="1"><stop offset="0.000" stop-color="#fdfce3"/><stop offset="0.200" stop-color="#fdfbde"/><stop offset="0.350" stop-color="#fdfad7"/><stop offset="0.450" stop-color="#fdf8cf"/><stop offset="0.550" stop-color="#fcf6c4"/><stop offset="0.620" stop-color="#fcf5ba"/><stop offset="0.680" stop-color="#fcf2b0"/><stop offset="0.740" stop-color="#fceca6"/><stop offset="0.790" stop-color="#fbe79b"/><stop offset="0.830" stop-color="#fbe292"/><stop offset="0.870" stop-color="#fbda81"/><stop offset="0.900" stop-color="#fbd272"/><stop offset="0.930" stop-color="#fbc95f"/><stop offset="0.955" stop-color="#fbc04f"/><stop offset="0.975" stop-color="#fab646"/><stop offset="1.000" stop-color="#f9a93a"/></linearGradient><linearGradient id="g191" x1="0" y1="0" x2="0" y2="1"><stop offset="0.000" stop-color="#fdfce3"/><stop offset="0.200" stop-color="#fdfbde"/><stop offset="0.350" stop-color="#fdfad7"/><stop offset="0.450" stop-color="#fdf8cf"/><stop offset="0.550" stop-color="#fcf6c4"/><stop offset="0.620" stop-color="#fcf5ba"/><stop offset="0.680" stop-color="#fcf2b0"/><stop offset="0.740" stop-color="#fceca6"/><stop offset="0.790" stop-color="#fbe79b"/><stop offset="0.830" stop-color="#fbe292"/><stop offset="0.870" stop-color="#fbda81"/><stop offset="0.900" stop-color="#fbd272"/><stop offset="0.930" stop-color="#fbc95f"/><stop offset="0.955" stop-color="#fbc04f"/><stop offset="0.975" stop-color="#fab646"/><stop offset="1.000" stop-color="#f9a93a"/></linearGradient><linearGradient id="g192" x1="0" y1="0" x2="0" y2="1"><stop offset="0.000" stop-color="#fdfce3"/><stop offset="0.200" stop-color="#fdfbde"/><stop offset="0.350" stop-color="#fdfad7"/><stop offset="0.450" stop-color="#fdf8cf"/><stop offset="0.550" stop-color="#fcf6c4"/><stop offset="0.620" stop-color="#fcf5ba"/><stop offset="0.680" stop-color="#fcf2b0"/><stop offset="0.740" stop-color="#fceca6"/><stop offset="0.790" stop-color="#fbe79b"/><stop offset="0.830" stop-color="#fbe292"/><stop offset="0.870" stop-color="#fbda81"/><stop offset="0.900" stop-color="#fbd272"/><stop offset="0.930" stop-color="#fbc95f"/><stop offset="0.955" stop-color="#fbc04f"/><stop offset="0.975" stop-color="#fab646"/><stop offset="1.000" stop-color="#f9a93a"/></linearGradient><linearGradient id="g193" x1="0" y1="0" x2="0" y2="1"><stop offset="0.000" stop-color="#fdfce3"/><stop offset="0.200" stop-color="#fdfbde"/><stop offset="0.350" stop-color="#fdfad7"/><stop offset="0.450" stop-color="#fdf8cf"/><stop offset="0.550" stop-color="#fcf6c4"/><stop offset="0.620" stop-color="#fcf5ba"/><stop offset="0.680" stop-color="#fcf2b0"/><stop offset="0.740" stop-color="#fceca6"/><stop offset="0.790" stop-color="#fbe79b"/><stop offset="0.830" stop-color="#fbe292"/><stop offset="0.870" stop-color="#fbda81"/><stop offset="0.900" stop-color="#fbd272"/><stop offset="0.930" stop-color="#fbc95f"/><stop offset="0.955" stop-color="#fbc04f"/><stop offset="0.975" stop-color="#fab646"/><stop offset="1.000" stop-color="#f9a93a"/></linearGradient><linearGradient id="g194" x1="0" y1="0" x2="0" y2="1"><stop offset="0.000" stop-color="#fdfce3"/><stop offset="0.200" stop-color="#fdfbde"/><stop offset="0.350" stop-color="#fdfad7"/><stop offset="0.450" stop-color="#fdf8cf"/><stop offset="0.550" stop-color="#fcf6c4"/><stop offset="0.620" stop-color="#fcf5ba"/><stop offset="0.680" stop-color="#fcf2b0"/><stop offset="0.740" stop-color="#fceca6"/><stop offset="0.790" stop-color="#fbe79b"/><stop offset="0.830" stop-color="#fbe292"/><stop offset="0.870" stop-color="#fbda81"/><stop offset="0.900" stop-color="#fbd272"/><stop offset="0.930" stop-color="#fbc95f"/><stop offset="0.955" stop-color="#fbc04f"/><stop offset="0.975" stop-color="#fab646"/><stop offset="1.000" stop-color="#f9a93a"/></linearGradient><linearGradient id="g195" x1="0" y1="0" x2="0" y2="1"><stop offset="0.000" stop-color="#fdfce3"/><stop offset="0.200" stop-color="#fdfbde"/><stop offset="0.350" stop-color="#fdfad7"/><stop offset="0.450" stop-color="#fdf8cf"/><stop offset="0.550" stop-color="#fcf6c4"/><stop offset="0.620" stop-color="#fcf5ba"/><stop offset="0.680" stop-color="#fcf2b0"/><stop offset="0.740" stop-color="#fceca6"/><stop offset="0.790" stop-color="#fbe79b"/><stop offset="0.830" stop-color="#fbe292"/><stop offset="0.870" stop-color="#fbda81"/><stop offset="0.900" stop-color="#fbd272"/><stop offset="0.930" stop-color="#fbc95f"/><stop offset="0.955" stop-color="#fbc04f"/><stop offset="0.975" stop-color="#fab646"/><stop offset="1.000" stop-color="#f9a93a"/></linearGradient><linearGradient id="g196" x1="0" y1="0" x2="0" y2="1"><stop offset="0.000" stop-color="#fdfce3"/><stop offset="0.200" stop-color="#fdfbde"/><stop offset="0.350" stop-color="#fdfad7"/><stop offset="0.450" stop-color="#fdf8cf"/><stop offset="0.550" stop-color="#fcf6c4"/><stop offset="0.620" stop-color="#fcf5ba"/><stop offset="0.680" stop-color="#fcf2b0"/><stop offset="0.740" stop-color="#fceca6"/><stop offset="0.790" stop-color="#fbe79b"/><stop offset="0.830" stop-color="#fbe292"/><stop offset="0.870" stop-color="#fbda81"/><stop offset="0.900" stop-color="#fbd272"/><stop offset="0.930" stop-color="#fbc95f"/><stop offset="0.955" stop-color="#fbc04f"/><stop offset="0.975" stop-color="#fab646"/><stop offset="1.000" stop-color="#f9a93a"/></linearGradient><linearGradient id="g197" x1="0" y1="0" x2="0" y2="1"><stop offset="0.000" stop-color="#fdfce3"/><stop offset="0.200" stop-color="#fdfbde"/><stop offset="0.350" stop-color="#fdfad7"/><stop offset="0.450" stop-color="#fdf8cf"/><stop offset="0.550" stop-color="#fcf6c4"/><stop offset="0.620" stop-color="#fcf5ba"/><stop offset="0.680" stop-color="#fcf2b0"/><stop offset="0.740" stop-color="#fceca6"/><stop offset="0.790" stop-color="#fbe79b"/><stop offset="0.830" stop-color="#fbe292"/><stop offset="0.870" stop-color="#fbda81"/><stop offset="0.900" stop-color="#fbd272"/><stop offset="0.930" stop-color="#fbc95f"/><stop offset="0.955" stop-color="#fbc04f"/><stop offset="0.975" stop-color="#fab646"/><stop offset="1.000" stop-color="#f9a93a"/></linearGradient><linearGradient id="g198" x1="0" y1="0" x2="0" y2="1"><stop offset="0.000" stop-color="#fdfce3"/><stop offset="0.200" stop-color="#fdfbde"/><stop offset="0.350" stop-color="#fdfad7"/><stop offset="0.450" stop-color="#fdf8cf"/><stop offset="0.550" stop-color="#fcf6c4"/><stop offset="0.620" stop-color="#fcf5ba"/><stop offset="0.680" stop-color="#fcf2b0"/><stop offset="0.740" stop-color="#fceca6"/><stop offset="0.790" stop-color="#fbe79b"/><stop offset="0.830" stop-color="#fbe292"/><stop offset="0.870" stop-color="#fbda81"/><stop offset="0.900" stop-color="#fbd171"/><stop offset="0.930" stop-color="#fbc95f"/><stop offset="0.955" stop-color="#fbc04f"/><stop offset="0.975" stop-color="#fab646"/><stop offset="1.000" stop-color="#f9a93a"/></linearGradient><linearGradient id="g199" x1="0" y1="0" x2="0" y2="1"><stop offset="0.000" stop-color="#fdfce3"/><stop offset="0.200" stop-color="#fdfbde"/><stop offset="0.350" stop-color="#fdfad7"/><stop offset="0.450" stop-color="#fdf8cf"/><stop offset="0.550" stop-color="#fcf6c4"/><stop offset="0.620" stop-color="#fcf5ba"/><stop offset="0.680" stop-color="#fcf2b0"/><stop offset="0.740" stop-color="#fceca6"/><stop offset="0.790" stop-color="#fbe79b"/><stop offset="0.830" stop-color="#fbe292"/><stop offset="0.870" stop-color="#fbda81"/><stop offset="0.900" stop-color="#fbd171"/><stop offset="0.930" stop-color="#fbc95f"/><stop offset="0.955" stop-color="#fbbf4f"/><stop offset="0.975" stop-color="#fab646"/><stop offset="1.000" stop-color="#f9a93a"/></linearGradient><linearGradient id="g200" x1="0" y1="0" x2="0" y2="1"><stop offset="0.000" stop-color="#fdfce3"/><stop offset="0.200" stop-color="#fdfbde"/><stop offset="0.350" stop-color="#fdfad7"/><stop offset="0.450" stop-color="#fdf8cf"/><stop offset="0.550" stop-color="#fcf6c4"/><stop offset="0.620" stop-color="#fcf5ba"/><stop offset="0.680" stop-color="#fcf2b0"/><stop offset="0.740" stop-color="#fceca6"/><stop offset="0.790" stop-color="#fbe79b"/><stop offset="0.830" stop-color="#fbe292"/><stop offset="0.870" stop-color="#fbda81"/><stop offset="0.900" stop-color="#fbd171"/><stop offset="0.930" stop-color="#fbc95f"/><stop offset="0.955" stop-color="#fbbf4f"/><stop offset="0.975" stop-color="#fab646"/><stop offset="1.000" stop-color="#f9a93a"/></linearGradient><linearGradient id="g201" x1="0" y1="0" x2="0" y2="1"><stop offset="0.000" stop-color="#fdfce3"/><stop offset="0.200" stop-color="#fdfbde"/><stop offset="0.350" stop-color="#fdfad7"/><stop offset="0.450" stop-color="#fdf8cf"/><stop offset="0.550" stop-color="#fcf6c4"/><stop offset="0.620" stop-color="#fcf5ba"/><stop offset="0.680" stop-color="#fcf2b0"/><stop offset="0.740" stop-color="#fceca6"/><stop offset="0.790" stop-color="#fbe79b"/><stop offset="0.830" stop-color="#fbe292"/><stop offset="0.870" stop-color="#fbda81"/><stop offset="0.900" stop-color="#fbd171"/><stop offset="0.930" stop-color="#fbc95f"/><stop offset="0.955" stop-color="#fbbf4f"/><stop offset="0.975" stop-color="#fab646"/><stop offset="1.000" stop-color="#f9a93a"/></linearGradient><linearGradient id="g202" x1="0" y1="0" x2="0" y2="1"><stop offset="0.000" stop-color="#fdfce3"/><stop offset="0.200" stop-color="#fdfbde"/><stop offset="0.350" stop-color="#fdfad7"/><stop offset="0.450" stop-color="#fdf8cf"/><stop offset="0.550" stop-color="#fcf6c4"/><stop offset="0.620" stop-color="#fcf5ba"/><stop offset="0.680" stop-color="#fcf2b0"/><stop offset="0.740" stop-color="#fceca6"/><stop offset="0.790" stop-color="#fbe79b"/><stop offset="0.830" stop-color="#fbe292"/><stop offset="0.870" stop-color="#fbda81"/><stop offset="0.900" stop-color="#fbd171"/><stop offset="0.930" stop-color="#fbc95f"/><stop offset="0.955" stop-color="#fbbf4f"/><stop offset="0.975" stop-color="#fab646"/><stop offset="1.000" stop-color="#f9a93a"/></linearGradient><linearGradient id="g203" x1="0" y1="0" x2="0" y2="1"><stop offset="0.000" stop-color="#fdfce3"/><stop offset="0.200" stop-color="#fdfbde"/><stop offset="0.350" stop-color="#fdfad7"/><stop offset="0.450" stop-color="#fdf8cf"/><stop offset="0.550" stop-color="#fcf6c4"/><stop offset="0.620" stop-color="#fcf5ba"/><stop offset="0.680" stop-color="#fcf2b0"/><stop offset="0.740" stop-color="#fceca6"/><stop offset="0.790" stop-color="#fbe79b"/><stop offset="0.830" stop-color="#fbe292"/><stop offset="0.870" stop-color="#fbda81"/><stop offset="0.900" stop-color="#fbd171"/><stop offset="0.930" stop-color="#fbc85e"/><stop offset="0.955" stop-color="#fbbf4f"/><stop offset="0.975" stop-color="#fab646"/><stop offset="1.000" stop-color="#f9a93a"/></linearGradient><linearGradient id="g204" x1="0" y1="0" x2="0" y2="1"><stop offset="0.000" stop-color="#fdfce3"/><stop offset="0.200" stop-color="#fdfbde"/><stop offset="0.350" stop-color="#fdfad7"/><stop offset="0.450" stop-color="#fdf8cf"/><stop offset="0.550" stop-color="#fcf6c4"/><stop offset="0.620" stop-color="#fcf4ba"/><stop offset="0.680" stop-color="#fcf2b0"/><stop offset="0.740" stop-color="#fceca6"/><stop offset="0.790" stop-color="#fbe79b"/><stop offset="0.830" stop-color="#fbe292"/><stop offset="0.870" stop-color="#fbda81"/><stop offset="0.900" stop-color="#fbd171"/><stop offset="0.930" stop-color="#fbc85e"/><stop offset="0.955" stop-color="#fbbf4f"/><stop offset="0.975" stop-color="#fab646"/><stop offset="1.000" stop-color="#f9a93a"/></linearGradient><linearGradient id="g205" x1="0" y1="0" x2="0" y2="1"><stop offset="0.000" stop-color="#fdfce3"/><stop offset="0.200" stop-color="#fdfbde"/><stop offset="0.350" stop-color="#fdfad7"/><stop offset="0.450" stop-color="#fdf8cf"/><stop offset="0.550" stop-color="#fcf6c4"/><stop offset="0.620" stop-color="#fcf4ba"/><stop offset="0.680" stop-color="#fcf2b0"/><stop offset="0.740" stop-color="#fceca6"/><stop offset="0.790" stop-color="#fbe79b"/><stop offset="0.830" stop-color="#fbe292"/><stop offset="0.870" stop-color="#fbda81"/><stop offset="0.900" stop-color="#fbd171"/><stop offset="0.930" stop-color="#fbc85e"/><stop offset="0.955" stop-color="#fbbf4f"/><stop offset="0.975" stop-color="#fab646"/><stop offset="1.000" stop-color="#f9a839"/></linearGradient><linearGradient id="g206" x1="0" y1="0" x2="0" y2="1"><stop offset="0.000" stop-color="#fdfce3"/><stop offset="0.200" stop-color="#fdfbde"/><stop offset="0.350" stop-color="#fdfad7"/><stop offset="0.450" stop-color="#fdf8cf"/><stop offset="0.550" stop-color="#fcf6c4"/><stop offset="0.620" stop-color="#fcf4ba"/><stop offset="0.680" stop-color="#fcf2b0"/><stop offset="0.740" stop-color="#fceca6"/><stop offset="0.790" stop-color="#fbe79b"/><stop offset="0.830" stop-color="#fbe292"/><stop offset="0.870" stop-color="#fbda81"/><stop offset="0.900" stop-color="#fbd171"/><stop offset="0.930" stop-color="#fbc85e"/><stop offset="0.955" stop-color="#fbbf4f"/><stop offset="0.975" stop-color="#fab646"/><stop offset="1.000" stop-color="#f9a839"/></linearGradient><linearGradient id="g207" x1="0" y1="0" x2="0" y2="1"><stop offset="0.000" stop-color="#fdfce3"/><stop offset="0.200" stop-color="#fdfbde"/><stop offset="0.350" stop-color="#fdfad7"/><stop offset="0.450" stop-color="#fdf8cf"/><stop offset="0.550" stop-color="#fcf6c4"/><stop offset="0.620" stop-color="#fcf4ba"/><stop offset="0.680" stop-color="#fcf2b0"/><stop offset="0.740" stop-color="#fceca6"/><stop offset="0.790" stop-color="#fbe79b"/><stop offset="0.830" stop-color="#fbe291"/><stop offset="0.870" stop-color="#fbd980"/><stop offset="0.900" stop-color="#fbd171"/><stop offset="0.930" stop-color="#fbc85e"/><stop offset="0.955" stop-color="#fbbf4e"/><stop offset="0.975" stop-color="#fab545"/><stop offset="1.000" stop-color="#f9a839"/></linearGradient><linearGradient id="g208" x1="0" y1="0" x2="0" y2="1"><stop offset="0.000" stop-color="#fdfce3"/><stop offset="0.200" stop-color="#fdfbde"/><stop offset="0.350" stop-color="#fdfad7"/><stop offset="0.450" stop-color="#fdf8cf"/><stop offset="0.550" stop-color="#fcf6c4"/><stop offset="0.620" stop-color="#fcf4ba"/><stop offset="0.680" stop-color="#fcf2b0"/><stop offset="0.740" stop-color="#fceca6"/><stop offset="0.790" stop-color="#fbe79b"/><stop offset="0.830" stop-color="#fbe291"/><stop offset="0.870" stop-color="#fbd980"/><stop offset="0.900" stop-color="#fbd170"/><stop offset="0.930" stop-color="#fbc85d"/><stop offset="0.955" stop-color="#fbbf4e"/><stop offset="0.975" stop-color="#fab545"/><stop offset="1.000" stop-color="#f9a839"/></linearGradient><linearGradient id="g209" x1="0" y1="0" x2="0" y2="1"><stop offset="0.000" stop-color="#fdfce3"/><stop offset="0.200" stop-color="#fdfbde"/><stop offset="0.350" stop-color="#fdfad7"/><stop offset="0.450" stop-color="#fdf8cf"/><stop offset="0.550" stop-color="#fcf6c4"/><stop offset="0.620" stop-color="#fcf4ba"/><stop offset="0.680" stop-color="#fcf2b0"/><stop offset="0.740" stop-color="#fceca6"/><stop offset="0.790" stop-color="#fbe79b"/><stop offset="0.830" stop-color="#fbe291"/><stop offset="0.870" stop-color="#fbd980"/><stop offset="0.900" stop-color="#fbd170"/><stop offset="0.930" stop-color="#fbc85d"/><stop offset="0.955" stop-color="#fbbf4e"/><stop offset="0.975" stop-color="#fab545"/><stop offset="1.000" stop-color="#f9a839"/></linearGradient><linearGradient id="g210" x1="0" y1="0" x2="0" y2="1"><stop offset="0.000" stop-color="#fdfce3"/><stop offset="0.200" stop-color="#fdfbde"/><stop offset="0.350" stop-color="#fdfad7"/><stop offset="0.450" stop-color="#fdf8cf"/><stop offset="0.550" stop-color="#fcf6c4"/><stop offset="0.620" stop-color="#fcf4ba"/><stop offset="0.680" stop-color="#fcf1af"/><stop offset="0.740" stop-color="#fceca5"/><stop offset="0.790" stop-color="#fbe79b"/><stop offset="0.830" stop-color="#fbe291"/><stop offset="0.870" stop-color="#fbd980"/><stop offset="0.900" stop-color="#fbd170"/><stop offset="0.930" stop-color="#fbc85d"/><stop offset="0.955" stop-color="#fbbe4d"/><stop offset="0.975" stop-color="#fab544"/><stop offset="1.000" stop-color="#f9a839"/></linearGradient><linearGradient id="g211" x1="0" y1="0" x2="0" y2="1"><stop offset="0.000" stop-color="#fdfce3"/><stop offset="0.200" stop-color="#fdfbde"/><stop offset="0.350" stop-color="#fdfad6"/><stop offset="0.450" stop-color="#fdf8cf"/><stop offset="0.550" stop-color="#fcf6c4"/><stop offset="0.620" stop-color="#fcf4ba"/><stop offset="0.680" stop-color="#fcf1af"/><stop offset="0.740" stop-color="#fceca5"/><stop offset="0.790" stop-color="#fbe79b"/><stop offset="0.830" stop-color="#fbe291"/><stop offset="0.870" stop-color="#fbd980"/><stop offset="0.900" stop-color="#fbd170"/><stop offset="0.930" stop-color="#fbc85d"/><stop offset="0.955" stop-color="#fbbe4d"/><stop offset="0.975" stop-color="#fab544"/><stop offset="1.000" stop-color="#f9a738"/></linearGradient><linearGradient id="g212" x1="0" y1="0" x2="0" y2="1"><stop offset="0.000" stop-color="#fdfce3"/><stop offset="0.200" stop-color="#fdfbde"/><stop offset="0.350" stop-color="#fdfad6"/><stop offset="0.450" stop-color="#fdf8cf"/><stop offset="0.550" stop-color="#fcf6c4"/><stop offset="0.620" stop-color="#fcf4ba"/><stop offset="0.680" stop-color="#fcf1af"/><stop offset="0.740" stop-color="#fceca5"/><stop offset="0.790" stop-color="#fbe79b"/><stop offset="0.830" stop-color="#fbe191"/><stop offset="0.870" stop-color="#fbd97f"/><stop offset="0.900" stop-color="#fbd06f"/><stop offset="0.930" stop-color="#fbc75c"/><stop offset="0.955" stop-color="#fbbe4d"/><stop offset="0.975" stop-color="#fab444"/><stop offset="1.000" stop-color="#f9a738"/></linearGradient><linearGradient id="g213" x1="0" y1="0" x2="0" y2="1"><stop offset="0.000" stop-color="#fdfce3"/><stop offset="0.200" stop-color="#fdfbde"/><stop offset="0.350" stop-color="#fdfad6"/><stop offset="0.450" stop-color="#fdf8ce"/><stop offset="0.550" stop-color="#fcf6c4"/><stop offset="0.620" stop-color="#fcf4ba"/><stop offset="0.680" stop-color="#fcf1af"/><stop offset="0.740" stop-color="#fceca5"/><stop offset="0.790" stop-color="#fbe69a"/><stop offset="0.830" stop-color="#fbe191"/><stop offset="0.870" stop-color="#fbd97f"/><stop offset="0.900" stop-color="#fbd06f"/><stop offset="0.930" stop-color="#fbc75c"/><stop offset="0.955" stop-color="#fbbe4d"/><stop offset="0.975" stop-color="#fab444"/><stop offset="1.000" stop-color="#f9a637"/></linearGradient><linearGradient id="g214" x1="0" y1="0" x2="0" y2="1"><stop offset="0.000" stop-color="#fdfce3"/><stop offset="0.200" stop-color="#fdfbde"/><stop offset="0.350" stop-color="#fdfad6"/><stop offset="0.450" stop-color="#fdf8ce"/><stop offset="0.550" stop-color="#fcf6c4"/><stop offset="0.620" stop-color="#fcf4b9"/><stop offset="0.680" stop-color="#fcf1af"/><stop offset="0.740" stop-color="#fceca5"/><stop offset="0.790" stop-color="#fbe69a"/><stop offset="0.830" stop-color="#fbe191"/><stop offset="0.870" stop-color="#fbd87e"/><stop offset="0.900" stop-color="#fbd06e"/><stop offset="0.930" stop-color="#fbc75b"/><stop offset="0.955" stop-color="#fbbe4d"/><stop offset="0.975" stop-color="#fab343"/><stop offset="1.000" stop-color="#f9a637"/></linearGradient><linearGradient id="g215" x1="0" y1="0" x2="0" y2="1"><stop offset="0.000" stop-color="#fdfce3"/><stop offset="0.200" stop-color="#fdfbde"/><stop offset="0.350" stop-color="#fdfad6"/><stop offset="0.450" stop-color="#fdf8ce"/><stop offset="0.550" stop-color="#fcf6c4"/><stop offset="0.620" stop-color="#fcf4b9"/><stop offset="0.680" stop-color="#fcf1af"/><stop offset="0.740" stop-color="#fceca4"/><stop offset="0.790" stop-color="#fbe69a"/><stop offset="0.830" stop-color="#fbe190"/><stop offset="0.870" stop-color="#fbd87e"/><stop offset="0.900" stop-color="#fbd06e"/><stop offset="0.930" stop-color="#fbc75b"/><stop offset="0.955" stop-color="#fbbd4c"/><stop offset="0.975" stop-color="#fab343"/><stop offset="1.000" stop-color="#f9a637"/></linearGradient><linearGradient id="g216" x1="0" y1="0" x2="0" y2="1"><stop offset="0.000" stop-color="#fdfce3"/><stop offset="0.200" stop-color="#fdfbde"/><stop offset="0.350" stop-color="#fdfad6"/><stop offset="0.450" stop-color="#fdf8ce"/><stop offset="0.550" stop-color="#fcf6c4"/><stop offset="0.620" stop-color="#fcf4b9"/><stop offset="0.680" stop-color="#fcf1af"/><stop offset="0.740" stop-color="#fceca4"/><stop offset="0.790" stop-color="#fbe69a"/><stop offset="0.830" stop-color="#fbe190"/><stop offset="0.870" stop-color="#fbd87e"/><stop offset="0.900" stop-color="#fbcf6d"/><stop offset="0.930" stop-color="#fbc65a"/><stop offset="0.955" stop-color="#fbbc4c"/><stop offset="0.975" stop-color="#fab343"/><stop offset="1.000" stop-color="#f9a536"/></linearGradient><linearGradient id="g217" x1="0" y1="0" x2="0" y2="1"><stop offset="0.000" stop-color="#fdfce3"/><stop offset="0.200" stop-color="#fdfbde"/><stop offset="0.350" stop-color="#fdfad6"/><stop offset="0.450" stop-color="#fdf8ce"/><stop offset="0.550" stop-color="#fcf6c4"/><stop offset="0.620" stop-color="#fcf4b9"/><stop offset="0.680" stop-color="#fcf1af"/><stop offset="0.740" stop-color="#fceca4"/><stop offset="0.790" stop-color="#fbe69a"/><stop offset="0.830" stop-color="#fbe190"/><stop offset="0.870" stop-color="#fbd87d"/><stop offset="0.900" stop-color="#fbcf6d"/><stop offset="0.930" stop-color="#fbc659"/><stop offset="0.955" stop-color="#fbbc4c"/><stop offset="0.975" stop-color="#fab242"/><stop offset="1.000" stop-color="#f9a536"/></linearGradient><linearGradient id="g218" x1="0" y1="0" x2="0" y2="1"><stop offset="0.000" stop-color="#fdfce3"/><stop offset="0.200" stop-color="#fdfbde"/><stop offset="0.350" stop-color="#fdfad6"/><stop offset="0.450" stop-color="#fdf8ce"/><stop offset="0.550" stop-color="#fcf6c3"/><stop offset="0.620" stop-color="#fcf4b9"/><stop offset="0.680" stop-color="#fcf1af"/><stop offset="0.740" stop-color="#fceca4"/><stop offset="0.790" stop-color="#fbe69a"/><stop offset="0.830" stop-color="#fbe190"/><stop offset="0.870" stop-color="#fbd77c"/><stop offset="0.900" stop-color="#fbcf6c"/><stop offset="0.930" stop-color="#fbc659"/><stop offset="0.955" stop-color="#fbbc4b"/><stop offset="0.975" stop-color="#fab141"/><stop offset="1.000" stop-color="#f9a536"/></linearGradient><linearGradient id="g219" x1="0" y1="0" x2="0" y2="1"><stop offset="0.000" stop-color="#fdfce3"/><stop offset="0.200" stop-color="#fdfbde"/><stop offset="0.350" stop-color="#fdfad6"/><stop offset="0.450" stop-color="#fdf8ce"/><stop offset="0.550" stop-color="#fcf6c3"/><stop offset="0.620" stop-color="#fcf4b8"/><stop offset="0.680" stop-color="#fcf1ae"/><stop offset="0.740" stop-color="#fceca4"/><stop offset="0.790" stop-color="#fbe699"/><stop offset="0.830" stop-color="#fbe18f"/><stop offset="0.870" stop-color="#fbd77c"/><stop offset="0.900" stop-color="#fbce6b"/><stop offset="0.930" stop-color="#fbc558"/><stop offset="0.955" stop-color="#fbbb4a"/><stop offset="0.975" stop-color="#fab141"/><stop offset="1.000" stop-color="#f9a435"/></linearGradient><linearGradient id="g220" x1="0" y1="0" x2="0" y2="1"><stop offset="0.000" stop-color="#fdfce3"/><stop offset="0.200" stop-color="#fdfbde"/><stop offset="0.350" stop-color="#fdfad6"/><stop offset="0.450" stop-color="#fdf8ce"/><stop offset="0.550" stop-color="#fcf6c3"/><stop offset="0.620" stop-color="#fcf4b8"/><stop offset="0.680" stop-color="#fcf1ae"/><stop offset="0.740" stop-color="#fceca4"/><stop offset="0.790" stop-color="#fbe699"/><stop offset="0.830" stop-color="#fbe18f"/><stop offset="0.870" stop-color="#fbd77b"/><stop offset="0.900" stop-color="#fbce6b"/><stop offset="0.930" stop-color="#fbc557"/><stop offset="0.955" stop-color="#fbba4a"/><stop offset="0.975" stop-color="#fab141"/><stop offset="1.000" stop-color="#f9a334"/></linearGradient><linearGradient id="g221" x1="0" y1="0" x2="0" y2="1"><stop offset="0.000" stop-color="#fdfce3"/><stop offset="0.200" stop-color="#fdfbde"/><stop offset="0.350" stop-color="#fdfad6"/><stop offset="0.450" stop-color="#fdf8ce"/><stop offset="0.550" stop-color="#fcf6c3"/><stop offset="0.620" stop-color="#fcf4b8"/><stop offset="0.680" stop-color="#fcf1ae"/><stop offset="0.740" stop-color="#fceba3"/><stop offset="0.790" stop-color="#fbe699"/><stop offset="0.830" stop-color="#fbe08e"/><stop offset="0.870" stop-color="#fbd67a"/><stop offset="0.900" stop-color="#fbce6a"/><stop offset="0.930" stop-color="#fbc456"/><stop offset="0.955" stop-color="#faba49"/><stop offset="0.975" stop-color="#fab040"/><stop offset="1.000" stop-color="#f9a233"/></linearGradient><linearGradient id="g222" x1="0" y1="0" x2="0" y2="1"><stop offset="0.000" stop-color="#fdfce3"/><stop offset="0.200" stop-color="#fdfbdd"/><stop offset="0.350" stop-color="#fdfad6"/><stop offset="0.450" stop-color="#fdf8ce"/><stop offset="0.550" stop-color="#fcf6c3"/><stop offset="0.620" stop-color="#fcf4b8"/><stop offset="0.680" stop-color="#fcf1ad"/><stop offset="0.740" stop-color="#fceba3"/><stop offset="0.790" stop-color="#fbe598"/><stop offset="0.830" stop-color="#fbe08e"/><stop offset="0.870" stop-color="#fbd67a"/><stop offset="0.900" stop-color="#fbcd69"/><stop offset="0.930" stop-color="#fbc455"/><stop offset="0.955" stop-color="#fab949"/><stop offset="0.975" stop-color="#faaf3f"/><stop offset="1.000" stop-color="#f9a133"/></linearGradient><linearGradient id="g223" x1="0" y1="0" x2="0" y2="1"><stop offset="0.000" stop-color="#fdfce2"/><stop offset="0.200" stop-color="#fdfbdd"/><stop offset="0.350" stop-color="#fdf9d5"/><stop offset="0.450" stop-color="#fdf8ce"/><stop offset="0.550" stop-color="#fcf6c2"/><stop offset="0.620" stop-color="#fcf4b7"/><stop offset="0.680" stop-color="#fcf1ad"/><stop offset="0.740" stop-color="#fceba3"/><stop offset="0.790" stop-color="#fbe598"/><stop offset="0.830" stop-color="#fbe08e"/><stop offset="0.870" stop-color="#fbd679"/><stop offset="0.900" stop-color="#fbcd68"/><stop offset="0.930" stop-color="#fbc354"/><stop offset="0.955" stop-color="#fab848"/><stop offset="0.975" stop-color="#faae3f"/><stop offset="1.000" stop-color="#f9a132"/></linearGradient><linearGradient id="g224" x1="0" y1="0" x2="0" y2="1"><stop offset="0.000" stop-color="#fdfce2"/><stop offset="0.200" stop-color="#fdfbdd"/><stop offset="0.350" stop-color="#fdf9d5"/><stop offset="0.450" stop-color="#fdf8ce"/><stop offset="0.550" stop-color="#fcf6c2"/><stop offset="0.620" stop-color="#fcf4b7"/><stop offset="0.680" stop-color="#fcf1ad"/><stop offset="0.740" stop-color="#fceba3"/><stop offset="0.790" stop-color="#fbe597"/><stop offset="0.830" stop-color="#fbdf8d"/><stop offset="0.870" stop-color="#fbd578"/><stop offset="0.900" stop-color="#fbcc67"/><stop offset="0.930" stop-color="#fbc354"/><stop offset="0.955" stop-color="#fab847"/><stop offset="0.975" stop-color="#faae3e"/><stop offset="1.000" stop-color="#f99f31"/></linearGradient><linearGradient id="g225" x1="0" y1="0" x2="0" y2="1"><stop offset="0.000" stop-color="#fdfce2"/><stop offset="0.200" stop-color="#fdfbdd"/><stop offset="0.350" stop-color="#fdf9d5"/><stop offset="0.450" stop-color="#fdf8ce"/><stop offset="0.550" stop-color="#fcf6c2"/><stop offset="0.620" stop-color="#fcf4b7"/><stop offset="0.680" stop-color="#fcf0ad"/><stop offset="0.740" stop-color="#fceba2"/><stop offset="0.790" stop-color="#fbe597"/><stop offset="0.830" stop-color="#fbdf8c"/><stop offset="0.870" stop-color="#fbd577"/><stop offset="0.900" stop-color="#fbcc66"/><stop offset="0.930" stop-color="#fbc253"/><stop offset="0.955" stop-color="#fab747"/><stop offset="0.975" stop-color="#faad3d"/><stop offset="1.000" stop-color="#f89f30"/></linearGradient><linearGradient id="g226" x1="0" y1="0" x2="0" y2="1"><stop offset="0.000" stop-color="#fdfce2"/><stop offset="0.200" stop-color="#fdfbdd"/><stop offset="0.350" stop-color="#fdf9d5"/><stop offset="0.450" stop-color="#fdf8ce"/><stop offset="0.550" stop-color="#fcf6c1"/><stop offset="0.620" stop-color="#fcf4b7"/><stop offset="0.680" stop-color="#fcf0ad"/><stop offset="0.740" stop-color="#fceaa2"/><stop offset="0.790" stop-color="#fbe597"/><stop offset="0.830" stop-color="#fbde8b"/><stop offset="0.870" stop-color="#fbd476"/><stop offset="0.900" stop-color="#fbcb65"/><stop offset="0.930" stop-color="#fbc252"/><stop offset="0.955" stop-color="#fab646"/><stop offset="0.975" stop-color="#f9ac3c"/><stop offset="1.000" stop-color="#f89d2f"/></linearGradient><linearGradient id="g227" x1="0" y1="0" x2="0" y2="1"><stop offset="0.000" stop-color="#fdfce2"/><stop offset="0.200" stop-color="#fdfbdd"/><stop offset="0.350" stop-color="#fdf9d5"/><stop offset="0.450" stop-color="#fdf8cd"/><stop offset="0.550" stop-color="#fcf6c1"/><stop offset="0.620" stop-color="#fcf4b7"/><stop offset="0.680" stop-color="#fcf0ac"/><stop offset="0.740" stop-color="#fceaa2"/><stop offset="0.790" stop-color="#fbe496"/><stop offset="0.830" stop-color="#fbde8a"/><stop offset="0.870" stop-color="#fbd475"/><stop offset="0.900" stop-color="#fbcb64"/><stop offset="0.930" stop-color="#fbc151"/><stop offset="0.955" stop-color="#fab545"/><stop offset="0.975" stop-color="#f9ab3c"/><stop offset="1.000" stop-color="#f89d2e"/></linearGradient><linearGradient id="g228" x1="0" y1="0" x2="0" y2="1"><stop offset="0.000" stop-color="#fdfce2"/><stop offset="0.200" stop-color="#fdfbdd"/><stop offset="0.350" stop-color="#fdf9d5"/><stop offset="0.450" stop-color="#fdf8cd"/><stop offset="0.550" stop-color="#fcf6c1"/><stop offset="0.620" stop-color="#fcf4b6"/><stop offset="0.680" stop-color="#fcf0ac"/><stop offset="0.740" stop-color="#fceaa1"/><stop offset="0.790" stop-color="#fbe496"/><stop offset="0.830" stop-color="#fbde8a"/><stop offset="0.870" stop-color="#fbd375"/><stop offset="0.900" stop-color="#fbcb63"/><stop offset="0.930" stop-color="#fbc04f"/><stop offset="0.955" stop-color="#fab444"/><stop offset="0.975" stop-color="#f9aa3a"/><stop offset="1.000" stop-color="#f89c2d"/></linearGradient><linearGradient id="g229" x1="0" y1="0" x2="0" y2="1"><stop offset="0.000" stop-color="#fdfce2"/><stop offset="0.200" stop-color="#fdfbdd"/><stop offset="0.350" stop-color="#fdf9d5"/><stop offset="0.450" stop-color="#fdf8cd"/><stop offset="0.550" stop-color="#fcf6c0"/><stop offset="0.620" stop-color="#fcf4b6"/><stop offset="0.680" stop-color="#fcf0ac"/><stop offset="0.740" stop-color="#fceaa0"/><stop offset="0.790" stop-color="#fbe495"/><stop offset="0.830" stop-color="#fbdd88"/><stop offset="0.870" stop-color="#fbd374"/><stop offset="0.900" stop-color="#fbca61"/><stop offset="0.930" stop-color="#fbbf4f"/><stop offset="0.955" stop-color="#fab343"/><stop offset="0.975" stop-color="#f9a839"/><stop offset="1.000" stop-color="#f89a2c"/></linearGradient><linearGradient id="g230" x1="0" y1="0" x2="0" y2="1"><stop offset="0.000" stop-color="#fdfce2"/><stop offset="0.200" stop-color="#fdfbdd"/><stop offset="0.350" stop-color="#fdf9d4"/><stop offset="0.450" stop-color="#fdf8cd"/><stop offset="0.550" stop-color="#fcf6c0"/><stop offset="0.620" stop-color="#fcf4b5"/><stop offset="0.680" stop-color="#fcefab"/><stop offset="0.740" stop-color="#fbe9a0"/><stop offset="0.790" stop-color="#fbe395"/><stop offset="0.830" stop-color="#fbdc87"/><stop offset="0.870" stop-color="#fbd273"/><stop offset="0.900" stop-color="#fbc960"/><stop offset="0.930" stop-color="#fbbe4d"/><stop offset="0.955" stop-color="#fab242"/><stop offset="0.975" stop-color="#f9a839"/><stop offset="1.000" stop-color="#f8992b"/></linearGradient><linearGradient id="g231" x1="0" y1="0" x2="0" y2="1"><stop offset="0.000" stop-color="#fdfce2"/><stop offset="0.200" stop-color="#fdfbdd"/><stop offset="0.350" stop-color="#fdf9d4"/><stop offset="0.450" stop-color="#fdf8cc"/><stop offset="0.550" stop-color="#fcf6c0"/><stop offset="0.620" stop-color="#fcf4b5"/><stop offset="0.680" stop-color="#fcefab"/><stop offset="0.740" stop-color="#fbe9a0"/><stop offset="0.790" stop-color="#fbe394"/><stop offset="0.830" stop-color="#fbdc86"/><stop offset="0.870" stop-color="#fbd171"/><stop offset="0.900" stop-color="#fbc85e"/><stop offset="0.930" stop-color="#fbbe4d"/><stop offset="0.955" stop-color="#fab141"/><stop offset="0.975" stop-color="#f9a637"/><stop offset="1.000" stop-color="#f8982a"/></linearGradient><linearGradient id="g232" x1="0" y1="0" x2="0" y2="1"><stop offset="0.000" stop-color="#fdfce2"/><stop offset="0.200" stop-color="#fdfbdc"/><stop offset="0.350" stop-color="#fdf9d4"/><stop offset="0.450" stop-color="#fdf8cc"/><stop offset="0.550" stop-color="#fcf6c0"/><stop offset="0.620" stop-color="#fcf3b4"/><stop offset="0.680" stop-color="#fcefab"/><stop offset="0.740" stop-color="#fbe99f"/><stop offset="0.790" stop-color="#fbe393"/><stop offset="0.830" stop-color="#fbdc85"/><stop offset="0.870" stop-color="#fbd170"/><stop offset="0.900" stop-color="#fbc85d"/><stop offset="0.930" stop-color="#fbbc4c"/><stop offset="0.955" stop-color="#faaf40"/><stop offset="0.975" stop-color="#f9a536"/><stop offset="1.000" stop-color="#f7962a"/></linearGradient><linearGradient id="g233" x1="0" y1="0" x2="0" y2="1"><stop offset="0.000" stop-color="#fdfce2"/><stop offset="0.200" stop-color="#fdfbdc"/><stop offset="0.350" stop-color="#fdf9d4"/><stop offset="0.450" stop-color="#fdf8cc"/><stop offset="0.550" stop-color="#fcf6c0"/><stop offset="0.620" stop-color="#fcf3b4"/><stop offset="0.680" stop-color="#fcefaa"/><stop offset="0.740" stop-color="#fbe99f"/><stop offset="0.790" stop-color="#fbe393"/><stop offset="0.830" stop-color="#fbdb84"/><stop offset="0.870" stop-color="#fbd06e"/><stop offset="0.900" stop-color="#fbc75b"/><stop offset="0.930" stop-color="#fbbb4a"/><stop offset="0.955" stop-color="#faae3f"/><stop offset="0.975" stop-color="#f9a334"/><stop offset="1.000" stop-color="#f79529"/></linearGradient><linearGradient id="g234" x1="0" y1="0" x2="0" y2="1"><stop offset="0.000" stop-color="#fdfce2"/><stop offset="0.200" stop-color="#fdfbdc"/><stop offset="0.350" stop-color="#fdf9d4"/><stop offset="0.450" stop-color="#fdf8cb"/><stop offset="0.550" stop-color="#fcf5bf"/><stop offset="0.620" stop-color="#fcf3b3"/><stop offset="0.680" stop-color="#fcefa9"/><stop offset="0.740" stop-color="#fbe99e"/><stop offset="0.790" stop-color="#fbe292"/><stop offset="0.830" stop-color="#fbda82"/><stop offset="0.870" stop-color="#fbcf6d"/><stop offset="0.900" stop-color="#fbc659"/><stop offset="0.930" stop-color="#faba49"/><stop offset="0.955" stop-color="#faad3d"/><stop offset="0.975" stop-color="#f9a233"/><stop offset="1.000" stop-color="#f69329"/></linearGradient><linearGradient id="g235" x1="0" y1="0" x2="0" y2="1"><stop offset="0.000" stop-color="#fdfce2"/><stop offset="0.200" stop-color="#fdfbdc"/><stop offset="0.350" stop-color="#fdf9d4"/><stop offset="0.450" stop-color="#fdf8cb"/><stop offset="0.550" stop-color="#fcf5bf"/><stop offset="0.620" stop-color="#fcf3b3"/><stop offset="0.680" stop-color="#fcefa9"/><stop offset="0.740" stop-color="#fbe89e"/><stop offset="0.790" stop-color="#fbe292"/><stop offset="0.830" stop-color="#fbda81"/><stop offset="0.870" stop-color="#fbce6b"/><stop offset="0.900" stop-color="#fbc558"/><stop offset="0.930" stop-color="#fab848"/><stop offset="0.955" stop-color="#f9ac3c"/><stop offset="0.975" stop-color="#f9a132"/><stop offset="1.000" stop-color="#f69129"/></linearGradient><linearGradient id="g236" x1="0" y1="0" x2="0" y2="1"><stop offset="0.000" stop-color="#fdfce2"/><stop offset="0.200" stop-color="#fdfbdc"/><stop offset="0.350" stop-color="#fdf9d4"/><stop offset="0.450" stop-color="#fcf7ca"/><stop offset="0.550" stop-color="#fcf5be"/><stop offset="0.620" stop-color="#fcf3b3"/><stop offset="0.680" stop-color="#fceea9"/><stop offset="0.740" stop-color="#fbe89d"/><stop offset="0.790" stop-color="#fbe191"/><stop offset="0.830" stop-color="#fbd97f"/><stop offset="0.870" stop-color="#fbcd69"/><stop offset="0.900" stop-color="#fbc456"/><stop offset="0.930" stop-color="#fab747"/><stop offset="0.955" stop-color="#f9aa3b"/><stop offset="0.975" stop-color="#f89f30"/><stop offset="1.000" stop-color="#f59029"/></linearGradient><linearGradient id="g237" x1="0" y1="0" x2="0" y2="1"><stop offset="0.000" stop-color="#fdfce2"/><stop offset="0.200" stop-color="#fdfbdc"/><stop offset="0.350" stop-color="#fdf9d4"/><stop offset="0.450" stop-color="#fcf7ca"/><stop offset="0.550" stop-color="#fcf5bd"/><stop offset="0.620" stop-color="#fcf3b2"/><stop offset="0.680" stop-color="#fceea8"/><stop offset="0.740" stop-color="#fbe89d"/><stop offset="0.790" stop-color="#fbe190"/><stop offset="0.830" stop-color="#fbd87e"/><stop offset="0.870" stop-color="#fbcc67"/><stop offset="0.900" stop-color="#fbc354"/><stop offset="0.930" stop-color="#fab545"/><stop offset="0.955" stop-color="#f9a839"/><stop offset="0.975" stop-color="#f89d2e"/><stop offset="1.000" stop-color="#f48e28"/></linearGradient><linearGradient id="g238" x1="0" y1="0" x2="0" y2="1"><stop offset="0.000" stop-color="#fdfce2"/><stop offset="0.200" stop-color="#fdfbdc"/><stop offset="0.350" stop-color="#fdf9d3"/><stop offset="0.450" stop-color="#fcf7ca"/><stop offset="0.550" stop-color="#fcf5bd"/><stop offset="0.620" stop-color="#fcf3b1"/><stop offset="0.680" stop-color="#fceea8"/><stop offset="0.740" stop-color="#fbe79b"/><stop offset="0.790" stop-color="#fbe190"/><stop offset="0.830" stop-color="#fbd77c"/><stop offset="0.870" stop-color="#fbcb65"/><stop offset="0.900" stop-color="#fbc252"/><stop offset="0.930" stop-color="#fab444"/><stop offset="0.955" stop-color="#f9a637"/><stop offset="0.975" stop-color="#f89b2d"/><stop offset="1.000" stop-color="#f48c28"/></linearGradient><linearGradient id="g239" x1="0" y1="0" x2="0" y2="1"><stop offset="0.000" stop-color="#fdfce2"/><stop offset="0.200" stop-color="#fdfbdb"/><stop offset="0.350" stop-color="#fdf9d3"/><stop offset="0.450" stop-color="#fcf7ca"/><stop offset="0.550" stop-color="#fcf5bd"/><stop offset="0.620" stop-color="#fcf2b1"/><stop offset="0.680" stop-color="#fceda7"/><stop offset="0.740" stop-color="#fbe79b"/><stop offset="0.790" stop-color="#fbe08e"/><stop offset="0.830" stop-color="#fbd67a"/><stop offset="0.870" stop-color="#fbcb63"/><stop offset="0.900" stop-color="#fbc150"/><stop offset="0.930" stop-color="#fab242"/><stop offset="0.955" stop-color="#f9a536"/><stop offset="0.975" stop-color="#f8992b"/><stop offset="1.000" stop-color="#f38a28"/></linearGradient><linearGradient id="g240" x1="0" y1="0" x2="0" y2="1"><stop offset="0.000" stop-color="#fdfce1"/><stop offset="0.200" stop-color="#fdfbdb"/><stop offset="0.350" stop-color="#fdf9d3"/><stop offset="0.450" stop-color="#fcf7ca"/><stop offset="0.550" stop-color="#fcf5bc"/><stop offset="0.620" stop-color="#fcf2b0"/><stop offset="0.680" stop-color="#fceda6"/><stop offset="0.740" stop-color="#fbe69a"/><stop offset="0.790" stop-color="#fbdf8d"/><stop offset="0.830" stop-color="#fbd578"/><stop offset="0.870" stop-color="#fbca61"/><stop offset="0.900" stop-color="#fbbf4e"/><stop offset="0.930" stop-color="#fab040"/><stop offset="0.955" stop-color="#f9a334"/><stop offset="0.975" stop-color="#f8972a"/><stop offset="1.000" stop-color="#f28728"/></linearGradient><linearGradient id="g241" x1="0" y1="0" x2="0" y2="1"><stop offset="0.000" stop-color="#fdfce1"/><stop offset="0.200" stop-color="#fdfbdb"/><stop offset="0.350" stop-color="#fdf9d2"/><stop offset="0.450" stop-color="#fcf7c9"/><stop offset="0.550" stop-color="#fcf5bc"/><stop offset="0.620" stop-color="#fcf2b0"/><stop offset="0.680" stop-color="#fceca6"/><stop offset="0.740" stop-color="#fbe699"/><stop offset="0.790" stop-color="#fbde8b"/><stop offset="0.830" stop-color="#fbd476"/><stop offset="0.870" stop-color="#fbc95f"/><stop offset="0.900" stop-color="#fbbe4d"/><stop offset="0.930" stop-color="#faae3f"/><stop offset="0.955" stop-color="#f9a132"/><stop offset="0.975" stop-color="#f79529"/><stop offset="1.000" stop-color="#f18527"/></linearGradient><linearGradient id="g242" x1="0" y1="0" x2="0" y2="1"><stop offset="0.000" stop-color="#fdfce1"/><stop offset="0.200" stop-color="#fdfbdb"/><stop offset="0.350" stop-color="#fdf9d2"/><stop offset="0.450" stop-color="#fcf7c9"/><stop offset="0.550" stop-color="#fcf5bb"/><stop offset="0.620" stop-color="#fcf1af"/><stop offset="0.680" stop-color="#fceca5"/><stop offset="0.740" stop-color="#fbe598"/><stop offset="0.790" stop-color="#fbde8a"/><stop offset="0.830" stop-color="#fbd375"/><stop offset="0.870" stop-color="#fbc75c"/><stop offset="0.900" stop-color="#fbbc4b"/><stop offset="0.930" stop-color="#f9ac3d"/><stop offset="0.955" stop-color="#f89f30"/><stop offset="0.975" stop-color="#f69329"/><stop offset="1.000" stop-color="#f08227"/></linearGradient><linearGradient id="g243" x1="0" y1="0" x2="0" y2="1"><stop offset="0.000" stop-color="#fdfce1"/><stop offset="0.200" stop-color="#fdfadb"/><stop offset="0.350" stop-color="#fdf9d1"/><stop offset="0.450" stop-color="#fcf7c8"/><stop offset="0.550" stop-color="#fcf5ba"/><stop offset="0.620" stop-color="#fcf1af"/><stop offset="0.680" stop-color="#fceca4"/><stop offset="0.740" stop-color="#fbe597"/><stop offset="0.790" stop-color="#fbdd88"/><stop offset="0.830" stop-color="#fbd273"/><stop offset="0.870" stop-color="#fbc659"/><stop offset="0.900" stop-color="#faba49"/><stop offset="0.930" stop-color="#f9aa3b"/><stop offset="0.955" stop-color="#f89c2e"/><stop offset="0.975" stop-color="#f59029"/><stop offset="1.000" stop-color="#f08026"/></linearGradient><linearGradient id="g244" x1="0" y1="0" x2="0" y2="1"><stop offset="0.000" stop-color="#fdfce1"/><stop offset="0.200" stop-color="#fdfadb"/><stop offset="0.350" stop-color="#fdf9d1"/><stop offset="0.450" stop-color="#fcf7c7"/><stop offset="0.550" stop-color="#fcf4ba"/><stop offset="0.620" stop-color="#fcf1ae"/><stop offset="0.680" stop-color="#fceba3"/><stop offset="0.740" stop-color="#fbe496"/><stop offset="0.790" stop-color="#fbdc85"/><stop offset="0.830" stop-color="#fbd170"/><stop offset="0.870" stop-color="#fbc557"/><stop offset="0.900" stop-color="#fab847"/><stop offset="0.930" stop-color="#f9a839"/><stop offset="0.955" stop-color="#f89a2b"/><stop offset="0.975" stop-color="#f48e28"/><stop offset="1.000" stop-color="#ee7d26"/></linearGradient><linearGradient id="g245" x1="0" y1="0" x2="0" y2="1"><stop offset="0.000" stop-color="#fdfce1"/><stop offset="0.200" stop-color="#fdfadb"/><stop offset="0.350" stop-color="#fdf9d1"/><stop offset="0.450" stop-color="#fcf7c7"/><stop offset="0.550" stop-color="#fcf4b9"/><stop offset="0.620" stop-color="#fcf1ad"/><stop offset="0.680" stop-color="#fceba3"/><stop offset="0.740" stop-color="#fbe495"/><stop offset="0.790" stop-color="#fbdb83"/><stop offset="0.830" stop-color="#fbd06e"/><stop offset="0.870" stop-color="#fbc354"/><stop offset="0.900" stop-color="#fab545"/><stop offset="0.930" stop-color="#f9a637"/><stop offset="0.955" stop-color="#f8972a"/><stop offset="0.975" stop-color="#f38b28"/><stop offset="1.000" stop-color="#ee7a26"/></linearGradient><linearGradient id="g246" x1="0" y1="0" x2="0" y2="1"><stop offset="0.000" stop-color="#fdfce1"/><stop offset="0.200" stop-color="#fdfadb"/><stop offset="0.350" stop-color="#fdf9d1"/><stop offset="0.450" stop-color="#fcf7c7"/><stop offset="0.550" stop-color="#fcf4b8"/><stop offset="0.620" stop-color="#fcf0ac"/><stop offset="0.680" stop-color="#fceaa2"/><stop offset="0.740" stop-color="#fbe394"/><stop offset="0.790" stop-color="#fbda81"/><stop offset="0.830" stop-color="#fbce6b"/><stop offset="0.870" stop-color="#fbc151"/><stop offset="0.900" stop-color="#fab343"/><stop offset="0.930" stop-color="#f9a334"/><stop offset="0.955" stop-color="#f79529"/><stop offset="0.975" stop-color="#f28828"/><stop offset="1.000" stop-color="#ec7625"/></linearGradient><linearGradient id="g247" x1="0" y1="0" x2="0" y2="1"><stop offset="0.000" stop-color="#fdfce1"/><stop offset="0.200" stop-color="#fdfada"/><stop offset="0.350" stop-color="#fdf9d1"/><stop offset="0.450" stop-color="#fcf7c6"/><stop offset="0.550" stop-color="#fcf4b7"/><stop offset="0.620" stop-color="#fcf0ac"/><stop offset="0.680" stop-color="#fceaa0"/><stop offset="0.740" stop-color="#fbe393"/><stop offset="0.790" stop-color="#fbd87e"/><stop offset="0.830" stop-color="#fbcd68"/><stop offset="0.870" stop-color="#fbbf4f"/><stop offset="0.900" stop-color="#fab141"/><stop offset="0.930" stop-color="#f9a132"/><stop offset="0.955" stop-color="#f69129"/><stop offset="0.975" stop-color="#f18527"/><stop offset="1.000" stop-color="#eb7325"/></linearGradient><linearGradient id="g248" x1="0" y1="0" x2="0" y2="1"><stop offset="0.000" stop-color="#fdfce1"/><stop offset="0.200" stop-color="#fdfada"/><stop offset="0.350" stop-color="#fdf8d0"/><stop offset="0.450" stop-color="#fcf7c6"/><stop offset="0.550" stop-color="#fcf4b7"/><stop offset="0.620" stop-color="#fcefab"/><stop offset="0.680" stop-color="#fbe9a0"/><stop offset="0.740" stop-color="#fbe292"/><stop offset="0.790" stop-color="#fbd77c"/><stop offset="0.830" stop-color="#fbcb65"/><stop offset="0.870" stop-color="#fbbe4d"/><stop offset="0.900" stop-color="#faae3f"/><stop offset="0.930" stop-color="#f89d2f"/><stop offset="0.955" stop-color="#f58f29"/><stop offset="0.975" stop-color="#f08227"/><stop offset="1.000" stop-color="#ea7024"/></linearGradient><linearGradient id="g249" x1="0" y1="0" x2="0" y2="1"><stop offset="0.000" stop-color="#fdfce1"/><stop offset="0.200" stop-color="#fdfada"/><stop offset="0.350" stop-color="#fdf8d0"/><stop offset="0.450" stop-color="#fcf7c5"/><stop offset="0.550" stop-color="#fcf4b6"/><stop offset="0.620" stop-color="#fcefaa"/><stop offset="0.680" stop-color="#fbe99f"/><stop offset="0.740" stop-color="#fbe191"/><stop offset="0.790" stop-color="#fbd679"/><stop offset="0.830" stop-color="#fbca62"/><stop offset="0.870" stop-color="#fbbb4a"/><stop offset="0.900" stop-color="#f9ac3c"/><stop offset="0.930" stop-color="#f89b2d"/><stop offset="0.955" stop-color="#f48c28"/><stop offset="0.975" stop-color="#ef7f26"/><stop offset="1.000" stop-color="#e76d25"/></linearGradient><linearGradient id="g250" x1="0" y1="0" x2="0" y2="1"><stop offset="0.000" stop-color="#fdfce1"/><stop offset="0.200" stop-color="#fdfad9"/><stop offset="0.350" stop-color="#fdf8cf"/><stop offset="0.450" stop-color="#fcf6c4"/><stop offset="0.550" stop-color="#fcf4b5"/><stop offset="0.620" stop-color="#fcefa9"/><stop offset="0.680" stop-color="#fbe89e"/><stop offset="0.740" stop-color="#fbe18f"/><stop offset="0.790" stop-color="#fbd476"/><stop offset="0.830" stop-color="#fbc95f"/><stop offset="0.870" stop-color="#fab848"/><stop offset="0.900" stop-color="#f9a93a"/><stop offset="0.930" stop-color="#f8982a"/><stop offset="0.955" stop-color="#f38928"/><stop offset="0.975" stop-color="#ee7b26"/><stop offset="1.000" stop-color="#e36925"/></linearGradient><linearGradient id="g251" x1="0" y1="0" x2="0" y2="1"><stop offset="0.000" stop-color="#fdfce1"/><stop offset="0.200" stop-color="#fdfad9"/><stop offset="0.350" stop-color="#fdf8ce"/><stop offset="0.450" stop-color="#fcf6c4"/><stop offset="0.550" stop-color="#fcf3b4"/><stop offset="0.620" stop-color="#fceea8"/><stop offset="0.680" stop-color="#fbe89d"/><stop offset="0.740" stop-color="#fbe08e"/><stop offset="0.790" stop-color="#fbd374"/><stop offset="0.830" stop-color="#fbc75b"/><stop offset="0.870" stop-color="#fab646"/><stop offset="0.900" stop-color="#f9a637"/><stop offset="0.930" stop-color="#f7952a"/><stop offset="0.955" stop-color="#f28627"/><stop offset="0.975" stop-color="#ed7825"/><stop offset="1.000" stop-color="#e06626"/></linearGradient><linearGradient id="g252" x1="0" y1="0" x2="0" y2="1"><stop offset="0.000" stop-color="#fdfce1"/><stop offset="0.200" stop-color="#fdfad9"/><stop offset="0.350" stop-color="#fdf8ce"/><stop offset="0.450" stop-color="#fcf6c3"/><stop offset="0.550" stop-color="#fcf3b3"/><stop offset="0.620" stop-color="#fceea8"/><stop offset="0.680" stop-color="#fbe79b"/><stop offset="0.740" stop-color="#fbdf8c"/><stop offset="0.790" stop-color="#fbd272"/><stop offset="0.830" stop-color="#fbc558"/><stop offset="0.870" stop-color="#fab444"/><stop offset="0.900" stop-color="#f9a435"/><stop offset="0.930" stop-color="#f69229"/><stop offset="0.955" stop-color="#f08227"/><stop offset="0.975" stop-color="#eb7425"/><stop offset="1.000" stop-color="#dd6226"/></linearGradient><linearGradient id="g253" x1="0" y1="0" x2="0" y2="1"><stop offset="0.000" stop-color="#fdfce1"/><stop offset="0.200" stop-color="#fdfad8"/><stop offset="0.350" stop-color="#fdf8ce"/><stop offset="0.450" stop-color="#fcf6c2"/><stop offset="0.550" stop-color="#fcf3b2"/><stop offset="0.620" stop-color="#fceda7"/><stop offset="0.680" stop-color="#fbe69a"/><stop offset="0.740" stop-color="#fbdd89"/><stop offset="0.790" stop-color="#fbd06e"/><stop offset="0.830" stop-color="#fbc455"/><stop offset="0.870" stop-color="#fab141"/><stop offset="0.900" stop-color="#f9a132"/><stop offset="0.930" stop-color="#f58f29"/><stop offset="0.955" stop-color="#ef7f26"/><stop offset="0.975" stop-color="#ea7024"/><stop offset="1.000" stop-color="#d95e27"/></linearGradient><linearGradient id="g254" x1="0" y1="0" x2="0" y2="1"><stop offset="0.000" stop-color="#fdfbe0"/><stop offset="0.200" stop-color="#fdfad8"/><stop offset="0.350" stop-color="#fdf8ce"/><stop offset="0.450" stop-color="#fcf6c1"/><stop offset="0.550" stop-color="#fcf3b1"/><stop offset="0.620" stop-color="#fceca6"/><stop offset="0.680" stop-color="#fbe699"/><stop offset="0.740" stop-color="#fbdc86"/><stop offset="0.790" stop-color="#fbce6b"/><stop offset="0.830" stop-color="#fbc252"/><stop offset="0.870" stop-color="#faaf3f"/><stop offset="0.900" stop-color="#f89e30"/><stop offset="0.930" stop-color="#f48c28"/><stop offset="0.955" stop-color="#ee7b26"/><stop offset="0.975" stop-color="#e76d25"/><stop offset="1.000" stop-color="#d55b27"/></linearGradient><filter id="hblur" x="-2%" y="0" width="104%" height="100%"><feGaussianBlur stdDeviation="2.2 0"/></filter><clipPath id="clipA"><rect x="79.0" y="32.5" width="364.0" height="405.5"/><rect x="534.0" y="32.5" width="364.0" height="405.5"/><rect x="989.3" y="32.5" width="290.9000000000001" height="405.5"/></clipPath><linearGradient id="cbg" x1="0" y1="0" x2="0" y2="1"><stop offset="0.000" stop-color="#672716"/><stop offset="0.050" stop-color="#782c1a"/><stop offset="0.100" stop-color="#8a321f"/><stop offset="0.150" stop-color="#9d3923"/><stop offset="0.200" stop-color="#b14226"/><stop offset="0.250" stop-color="#c54b2a"/><stop offset="0.300" stop-color="#d45a28"/><stop offset="0.350" stop-color="#e36925"/><stop offset="0.400" stop-color="#ed7825"/><stop offset="0.450" stop-color="#f28828"/><stop offset="0.500" stop-color="#f8982a"/><stop offset="0.550" stop-color="#f9a839"/><stop offset="0.600" stop-color="#fab949"/><stop offset="0.650" stop-color="#fbc75c"/><stop offset="0.700" stop-color="#fbd475"/><stop offset="0.750" stop-color="#fbe08e"/><stop offset="0.800" stop-color="#fbe89d"/><stop offset="0.850" stop-color="#fcefab"/><stop offset="0.900" stop-color="#fcf5bc"/><stop offset="0.950" stop-color="#fdf8d0"/><stop offset="1.000" stop-color="#fdfce3"/></linearGradient><clipPath id="clipB"><rect x="100.2" y="630.6" width="496.2" height="332.69999999999993"/></clipPath><clipPath id="clipC"><rect x="822.4" y="630.6" width="496.19999999999993" height="333.0"/></clipPath><clipPath id="clipD"><rect x="100.2" y="1151.3" width="496.2" height="333.4000000000001"/></clipPath><clipPath id="clipE"><rect x="822.4" y="1151.3" width="496.19999999999993" height="332.20000000000005"/></clipPath></defs><rect width="1417" height="1532" fill="#fff"/><g clip-path="url(#clipA)"><g filter="url(#hblur)"><rect x="79.00" y="32.5" width="4.60" height="405.5" fill="url(#g0)"/><rect x="83.00" y="32.5" width="4.60" height="405.5" fill="url(#g1)"/><rect x="87.00" y="32.5" width="4.60" height="405.5" fill="url(#g2)"/><rect x="91.00" y="32.5" width="4.60" height="405.5" fill="url(#g3)"/><rect x="95.00" y="32.5" width="4.60" height="405.5" fill="url(#g4)"/><rect x="99.00" y="32.5" width="4.60" height="405.5" fill="url(#g5)"/><rect x="103.00" y="32.5" width="4.60" height="405.5" fill="url(#g6)"/><rect x="107.00" y="32.5" width="4.60" height="405.5" fill="url(#g7)"/><rect x="111.00" y="32.5" width="4.60" height="405.5" fill="url(#g8)"/><rect x="115.00" y="32.5" width="4.60" height="405.5" fill="url(#g9)"/><rect x="119.00" y="32.5" width="4.60" height="405.5" fill="url(#g10)"/><rect x="123.00" y="32.5" width="4.60" height="405.5" fill="url(#g11)"/><rect x="127.00" y="32.5" width="4.60" height="405.5" fill="url(#g12)"/><rect x="131.00" y="32.5" width="4.60" height="405.5" fill="url(#g13)"/><rect x="135.00" y="32.5" width="4.60" height="405.5" fill="url(#g14)"/><rect x="139.00" y="32.5" width="4.60" height="405.5" fill="url(#g15)"/><rect x="143.00" y="32.5" width="4.60" height="405.5" fill="url(#g16)"/><rect x="147.00" y="32.5" width="4.60" height="405.5" fill="url(#g17)"/><rect x="151.00" y="32.5" width="4.60" height="405.5" fill="url(#g18)"/><rect x="155.00" y="32.5" width="4.60" height="405.5" fill="url(#g19)"/><rect x="159.00" y="32.5" width="4.60" height="405.5" fill="url(#g20)"/><rect x="163.00" y="32.5" width="4.60" height="405.5" fill="url(#g21)"/><rect x="167.00" y="32.5" width="4.60" height="405.5" fill="url(#g22)"/><rect x="171.00" y="32.5" width="4.60" height="405.5" fill="url(#g23)"/><rect x="175.00" y="32.5" width="4.60" height="405.5" fill="url(#g24)"/><rect x="179.00" y="32.5" width="4.60" height="405.5" fill="url(#g25)"/><rect x="183.00" y="32.5" width="4.60" height="405.5" fill="url(#g26)"/><rect x="187.00" y="32.5" width="4.60" height="405.5" fill="url(#g27)"/><rect x="191.00" y="32.5" width="4.60" height="405.5" fill="url(#g28)"/><rect x="195.00" y="32.5" width="4.60" height="405.5" fill="url(#g29)"/><rect x="199.00" y="32.5" width="4.60" height="405.5" fill="url(#g30)"/><rect x="203.00" y="32.5" width="4.60" height="405.5" fill="url(#g31)"/><rect x="207.00" y="32.5" width="4.60" height="405.5" fill="url(#g32)"/><rect x="211.00" y="32.5" width="4.60" height="405.5" fill="url(#g33)"/><rect x="215.00" y="32.5" width="4.60" height="405.5" fill="url(#g34)"/><rect x="219.00" y="32.5" width="4.60" height="405.5" fill="url(#g35)"/><rect x="223.00" y="32.5" width="4.60" height="405.5" fill="url(#g36)"/><rect x="227.00" y="32.5" width="4.60" height="405.5" fill="url(#g37)"/><rect x="231.00" y="32.5" width="4.60" height="405.5" fill="url(#g38)"/><rect x="235.00" y="32.5" width="4.60" height="405.5" fill="url(#g39)"/><rect x="239.00" y="32.5" width="4.60" height="405.5" fill="url(#g40)"/><rect x="243.00" y="32.5" width="4.60" height="405.5" fill="url(#g41)"/><rect x="247.00" y="32.5" width="4.60" height="405.5" fill="url(#g42)"/><rect x="251.00" y="32.5" width="4.60" height="405.5" fill="url(#g43)"/><rect x="255.00" y="32.5" width="4.60" height="405.5" fill="url(#g44)"/><rect x="259.00" y="32.5" width="4.60" height="405.5" fill="url(#g45)"/><rect x="263.00" y="32.5" width="4.60" height="405.5" fill="url(#g46)"/><rect x="267.00" y="32.5" width="4.60" height="405.5" fill="url(#g47)"/><rect x="271.00" y="32.5" width="4.60" height="405.5" fill="url(#g48)"/><rect x="275.00" y="32.5" width="4.60" height="405.5" fill="url(#g49)"/><rect x="279.00" y="32.5" width="4.60" height="405.5" fill="url(#g50)"/><rect x="283.00" y="32.5" width="4.60" height="405.5" fill="url(#g51)"/><rect x="287.00" y="32.5" width="4.60" height="405.5" fill="url(#g52)"/><rect x="291.00" y="32.5" width="4.60" height="405.5" fill="url(#g53)"/><rect x="295.00" y="32.5" width="4.60" height="405.5" fill="url(#g54)"/><rect x="299.00" y="32.5" width="4.60" height="405.5" fill="url(#g55)"/><rect x="303.00" y="32.5" width="4.60" height="405.5" fill="url(#g56)"/><rect x="307.00" y="32.5" width="4.60" height="405.5" fill="url(#g57)"/><rect x="311.00" y="32.5" width="4.60" height="405.5" fill="url(#g58)"/><rect x="315.00" y="32.5" width="4.60" height="405.5" fill="url(#g59)"/><rect x="319.00" y="32.5" width="4.60" height="405.5" fill="url(#g60)"/><rect x="323.00" y="32.5" width="4.60" height="405.5" fill="url(#g61)"/><rect x="327.00" y="32.5" width="4.60" height="405.5" fill="url(#g62)"/><rect x="331.00" y="32.5" width="4.60" height="405.5" fill="url(#g63)"/><rect x="335.00" y="32.5" width="4.60" height="405.5" fill="url(#g64)"/><rect x="339.00" y="32.5" width="4.60" height="405.5" fill="url(#g65)"/><rect x="343.00" y="32.5" width="4.60" height="405.5" fill="url(#g66)"/><rect x="347.00" y="32.5" width="4.60" height="405.5" fill="url(#g67)"/><rect x="351.00" y="32.5" width="4.60" height="405.5" fill="url(#g68)"/><rect x="355.00" y="32.5" width="4.60" height="405.5" fill="url(#g69)"/><rect x="359.00" y="32.5" width="4.60" height="405.5" fill="url(#g70)"/><rect x="363.00" y="32.5" width="4.60" height="405.5" fill="url(#g71)"/><rect x="367.00" y="32.5" width="4.60" height="405.5" fill="url(#g72)"/><rect x="371.00" y="32.5" width="4.60" height="405.5" fill="url(#g73)"/><rect x="375.00" y="32.5" width="4.60" height="405.5" fill="url(#g74)"/><rect x="379.00" y="32.5" width="4.60" height="405.5" fill="url(#g75)"/><rect x="383.00" y="32.5" width="4.60" height="405.5" fill="url(#g76)"/><rect x="387.00" y="32.5" width="4.60" height="405.5" fill="url(#g77)"/><rect x="391.00" y="32.5" width="4.60" height="405.5" fill="url(#g78)"/><rect x="395.00" y="32.5" width="4.60" height="405.5" fill="url(#g79)"/><rect x="399.00" y="32.5" width="4.60" height="405.5" fill="url(#g80)"/><rect x="403.00" y="32.5" width="4.60" height="405.5" fill="url(#g81)"/><rect x="407.00" y="32.5" width="4.60" height="405.5" fill="url(#g82)"/><rect x="411.00" y="32.5" width="4.60" height="405.5" fill="url(#g83)"/><rect x="415.00" y="32.5" width="4.60" height="405.5" fill="url(#g84)"/><rect x="419.00" y="32.5" width="4.60" height="405.5" fill="url(#g85)"/><rect x="423.00" y="32.5" width="4.60" height="405.5" fill="url(#g86)"/><rect x="427.00" y="32.5" width="4.60" height="405.5" fill="url(#g87)"/><rect x="431.00" y="32.5" width="4.60" height="405.5" fill="url(#g88)"/><rect x="435.00" y="32.5" width="4.60" height="405.5" fill="url(#g89)"/><rect x="439.00" y="32.5" width="4.60" height="405.5" fill="url(#g90)"/><rect x="71.00" y="32.5" width="8.6" height="405.5" fill="url(#g0)"/><rect x="442.40" y="32.5" width="8.6" height="405.5" fill="url(#g90)"/><rect x="534.00" y="32.5" width="4.60" height="405.5" fill="url(#g91)"/><rect x="538.00" y="32.5" width="4.60" height="405.5" fill="url(#g92)"/><rect x="542.00" y="32.5" width="4.60" height="405.5" fill="url(#g93)"/><rect x="546.00" y="32.5" width="4.60" height="405.5" fill="url(#g94)"/><rect x="550.00" y="32.5" width="4.60" height="405.5" fill="url(#g95)"/><rect x="554.00" y="32.5" width="4.60" height="405.5" fill="url(#g96)"/><rect x="558.00" y="32.5" width="4.60" height="405.5" fill="url(#g97)"/><rect x="562.00" y="32.5" width="4.60" height="405.5" fill="url(#g98)"/><rect x="566.00" y="32.5" width="4.60" height="405.5" fill="url(#g99)"/><rect x="570.00" y="32.5" width="4.60" height="405.5" fill="url(#g100)"/><rect x="574.00" y="32.5" width="4.60" height="405.5" fill="url(#g101)"/><rect x="578.00" y="32.5" width="4.60" height="405.5" fill="url(#g102)"/><rect x="582.00" y="32.5" width="4.60" height="405.5" fill="url(#g103)"/><rect x="586.00" y="32.5" width="4.60" height="405.5" fill="url(#g104)"/><rect x="590.00" y="32.5" width="4.60" height="405.5" fill="url(#g105)"/><rect x="594.00" y="32.5" width="4.60" height="405.5" fill="url(#g106)"/><rect x="598.00" y="32.5" width="4.60" height="405.5" fill="url(#g107)"/><rect x="602.00" y="32.5" width="4.60" height="405.5" fill="url(#g108)"/><rect x="606.00" y="32.5" width="4.60" height="405.5" fill="url(#g109)"/><rect x="610.00" y="32.5" width="4.60" height="405.5" fill="url(#g110)"/><rect x="614.00" y="32.5" width="4.60" height="405.5" fill="url(#g111)"/><rect x="618.00" y="32.5" width="4.60" height="405.5" fill="url(#g112)"/><rect x="622.00" y="32.5" width="4.60" height="405.5" fill="url(#g113)"/><rect x="626.00" y="32.5" width="4.60" height="405.5" fill="url(#g114)"/><rect x="630.00" y="32.5" width="4.60" height="405.5" fill="url(#g115)"/><rect x="634.00" y="32.5" width="4.60" height="405.5" fill="url(#g116)"/><rect x="638.00" y="32.5" width="4.60" height="405.5" fill="url(#g117)"/><rect x="642.00" y="32.5" width="4.60" height="405.5" fill="url(#g118)"/><rect x="646.00" y="32.5" width="4.60" height="405.5" fill="url(#g119)"/><rect x="650.00" y="32.5" width="4.60" height="405.5" fill="url(#g120)"/><rect x="654.00" y="32.5" width="4.60" height="405.5" fill="url(#g121)"/><rect x="658.00" y="32.5" width="4.60" height="405.5" fill="url(#g122)"/><rect x="662.00" y="32.5" width="4.60" height="405.5" fill="url(#g123)"/><rect x="666.00" y="32.5" width="4.60" height="405.5" fill="url(#g124)"/><rect x="670.00" y="32.5" width="4.60" height="405.5" fill="url(#g125)"/><rect x="674.00" y="32.5" width="4.60" height="405.5" fill="url(#g126)"/><rect x="678.00" y="32.5" width="4.60" height="405.5" fill="url(#g127)"/><rect x="682.00" y="32.5" width="4.60" height="405.5" fill="url(#g128)"/><rect x="686.00" y="32.5" width="4.60" height="405.5" fill="url(#g129)"/><rect x="690.00" y="32.5" width="4.60" height="405.5" fill="url(#g130)"/><rect x="694.00" y="32.5" width="4.60" height="405.5" fill="url(#g131)"/><rect x="698.00" y="32.5" width="4.60" height="405.5" fill="url(#g132)"/><rect x="702.00" y="32.5" width="4.60" height="405.5" fill="url(#g133)"/><rect x="706.00" y="32.5" width="4.60" height="405.5" fill="url(#g134)"/><rect x="710.00" y="32.5" width="4.60" height="405.5" fill="url(#g135)"/><rect x="714.00" y="32.5" width="4.60" height="405.5" fill="url(#g136)"/><rect x="718.00" y="32.5" width="4.60" height="405.5" fill="url(#g137)"/><rect x="722.00" y="32.5" width="4.60" height="405.5" fill="url(#g138)"/><rect x="726.00" y="32.5" width="4.60" height="405.5" fill="url(#g139)"/><rect x="730.00" y="32.5" width="4.60" height="405.5" fill="url(#g140)"/><rect x="734.00" y="32.5" width="4.60" height="405.5" fill="url(#g141)"/><rect x="738.00" y="32.5" width="4.60" height="405.5" fill="url(#g142)"/><rect x="742.00" y="32.5" width="4.60" height="405.5" fill="url(#g143)"/><rect x="746.00" y="32.5" width="4.60" height="405.5" fill="url(#g144)"/><rect x="750.00" y="32.5" width="4.60" height="405.5" fill="url(#g145)"/><rect x="754.00" y="32.5" width="4.60" height="405.5" fill="url(#g146)"/><rect x="758.00" y="32.5" width="4.60" height="405.5" fill="url(#g147)"/><rect x="762.00" y="32.5" width="4.60" height="405.5" fill="url(#g148)"/><rect x="766.00" y="32.5" width="4.60" height="405.5" fill="url(#g149)"/><rect x="770.00" y="32.5" width="4.60" height="405.5" fill="url(#g150)"/><rect x="774.00" y="32.5" width="4.60" height="405.5" fill="url(#g151)"/><rect x="778.00" y="32.5" width="4.60" height="405.5" fill="url(#g152)"/><rect x="782.00" y="32.5" width="4.60" height="405.5" fill="url(#g153)"/><rect x="786.00" y="32.5" width="4.60" height="405.5" fill="url(#g154)"/><rect x="790.00" y="32.5" width="4.60" height="405.5" fill="url(#g155)"/><rect x="794.00" y="32.5" width="4.60" height="405.5" fill="url(#g156)"/><rect x="798.00" y="32.5" width="4.60" height="405.5" fill="url(#g157)"/><rect x="802.00" y="32.5" width="4.60" height="405.5" fill="url(#g158)"/><rect x="806.00" y="32.5" width="4.60" height="405.5" fill="url(#g159)"/><rect x="810.00" y="32.5" width="4.60" height="405.5" fill="url(#g160)"/><rect x="814.00" y="32.5" width="4.60" height="405.5" fill="url(#g161)"/><rect x="818.00" y="32.5" width="4.60" height="405.5" fill="url(#g162)"/><rect x="822.00" y="32.5" width="4.60" height="405.5" fill="url(#g163)"/><rect x="826.00" y="32.5" width="4.60" height="405.5" fill="url(#g164)"/><rect x="830.00" y="32.5" width="4.60" height="405.5" fill="url(#g165)"/><rect x="834.00" y="32.5" width="4.60" height="405.5" fill="url(#g166)"/><rect x="838.00" y="32.5" width="4.60" height="405.5" fill="url(#g167)"/><rect x="842.00" y="32.5" width="4.60" height="405.5" fill="url(#g168)"/><rect x="846.00" y="32.5" width="4.60" height="405.5" fill="url(#g169)"/><rect x="850.00" y="32.5" width="4.60" height="405.5" fill="url(#g170)"/><rect x="854.00" y="32.5" width="4.60" height="405.5" fill="url(#g171)"/><rect x="858.00" y="32.5" width="4.60" height="405.5" fill="url(#g172)"/><rect x="862.00" y="32.5" width="4.60" height="405.5" fill="url(#g173)"/><rect x="866.00" y="32.5" width="4.60" height="405.5" fill="url(#g174)"/><rect x="870.00" y="32.5" width="4.60" height="405.5" fill="url(#g175)"/><rect x="874.00" y="32.5" width="4.60" height="405.5" fill="url(#g176)"/><rect x="878.00" y="32.5" width="4.60" height="405.5" fill="url(#g177)"/><rect x="882.00" y="32.5" width="4.60" height="405.5" fill="url(#g178)"/><rect x="886.00" y="32.5" width="4.60" height="405.5" fill="url(#g179)"/><rect x="890.00" y="32.5" width="4.60" height="405.5" fill="url(#g180)"/><rect x="894.00" y="32.5" width="4.60" height="405.5" fill="url(#g181)"/><rect x="526.00" y="32.5" width="8.6" height="405.5" fill="url(#g91)"/><rect x="897.40" y="32.5" width="8.6" height="405.5" fill="url(#g181)"/><rect x="989.30" y="32.5" width="4.58" height="405.5" fill="url(#g182)"/><rect x="993.28" y="32.5" width="4.58" height="405.5" fill="url(#g183)"/><rect x="997.27" y="32.5" width="4.58" height="405.5" fill="url(#g184)"/><rect x="1001.25" y="32.5" width="4.58" height="405.5" fill="url(#g185)"/><rect x="1005.24" y="32.5" width="4.58" height="405.5" fill="url(#g186)"/><rect x="1009.22" y="32.5" width="4.58" height="405.5" fill="url(#g187)"/><rect x="1013.21" y="32.5" width="4.58" height="405.5" fill="url(#g188)"/><rect x="1017.19" y="32.5" width="4.58" height="405.5" fill="url(#g189)"/><rect x="1021.18" y="32.5" width="4.58" height="405.5" fill="url(#g190)"/><rect x="1025.16" y="32.5" width="4.58" height="405.5" fill="url(#g191)"/><rect x="1029.15" y="32.5" width="4.58" height="405.5" fill="url(#g192)"/><rect x="1033.13" y="32.5" width="4.58" height="405.5" fill="url(#g193)"/><rect x="1037.12" y="32.5" width="4.58" height="405.5" fill="url(#g194)"/><rect x="1041.10" y="32.5" width="4.58" height="405.5" fill="url(#g195)"/><rect x="1045.09" y="32.5" width="4.58" height="405.5" fill="url(#g196)"/><rect x="1049.07" y="32.5" width="4.58" height="405.5" fill="url(#g197)"/><rect x="1053.06" y="32.5" width="4.58" height="405.5" fill="url(#g198)"/><rect x="1057.04" y="32.5" width="4.58" height="405.5" fill="url(#g199)"/><rect x="1061.03" y="32.5" width="4.58" height="405.5" fill="url(#g200)"/><rect x="1065.01" y="32.5" width="4.58" height="405.5" fill="url(#g201)"/><rect x="1069.00" y="32.5" width="4.58" height="405.5" fill="url(#g202)"/><rect x="1072.98" y="32.5" width="4.58" height="405.5" fill="url(#g203)"/><rect x="1076.97" y="32.5" width="4.58" height="405.5" fill="url(#g204)"/><rect x="1080.95" y="32.5" width="4.58" height="405.5" fill="url(#g205)"/><rect x="1084.94" y="32.5" width="4.58" height="405.5" fill="url(#g206)"/><rect x="1088.92" y="32.5" width="4.58" height="405.5" fill="url(#g207)"/><rect x="1092.91" y="32.5" width="4.58" height="405.5" fill="url(#g208)"/><rect x="1096.89" y="32.5" width="4.58" height="405.5" fill="url(#g209)"/><rect x="1100.88" y="32.5" width="4.58" height="405.5" fill="url(#g210)"/><rect x="1104.86" y="32.5" width="4.58" height="405.5" fill="url(#g211)"/><rect x="1108.85" y="32.5" width="4.58" height="405.5" fill="url(#g212)"/><rect x="1112.83" y="32.5" width="4.58" height="405.5" fill="url(#g213)"/><rect x="1116.82" y="32.5" width="4.58" height="405.5" fill="url(#g214)"/><rect x="1120.80" y="32.5" width="4.58" height="405.5" fill="url(#g215)"/><rect x="1124.79" y="32.5" width="4.58" height="405.5" fill="url(#g216)"/><rect x="1128.77" y="32.5" width="4.58" height="405.5" fill="url(#g217)"/><rect x="1132.76" y="32.5" width="4.58" height="405.5" fill="url(#g218)"/><rect x="1136.74" y="32.5" width="4.58" height="405.5" fill="url(#g219)"/><rect x="1140.73" y="32.5" width="4.58" height="405.5" fill="url(#g220)"/><rect x="1144.71" y="32.5" width="4.58" height="405.5" fill="url(#g221)"/><rect x="1148.70" y="32.5" width="4.58" height="405.5" fill="url(#g222)"/><rect x="1152.68" y="32.5" width="4.58" height="405.5" fill="url(#g223)"/><rect x="1156.67" y="32.5" width="4.58" height="405.5" fill="url(#g224)"/><rect x="1160.65" y="32.5" width="4.58" height="405.5" fill="url(#g225)"/><rect x="1164.64" y="32.5" width="4.58" height="405.5" fill="url(#g226)"/><rect x="1168.62" y="32.5" width="4.58" height="405.5" fill="url(#g227)"/><rect x="1172.61" y="32.5" width="4.58" height="405.5" fill="url(#g228)"/><rect x="1176.59" y="32.5" width="4.58" height="405.5" fill="url(#g229)"/><rect x="1180.58" y="32.5" width="4.58" height="405.5" fill="url(#g230)"/><rect x="1184.56" y="32.5" width="4.58" height="405.5" fill="url(#g231)"/><rect x="1188.55" y="32.5" width="4.58" height="405.5" fill="url(#g232)"/><rect x="1192.53" y="32.5" width="4.58" height="405.5" fill="url(#g233)"/><rect x="1196.52" y="32.5" width="4.58" height="405.5" fill="url(#g234)"/><rect x="1200.50" y="32.5" width="4.58" height="405.5" fill="url(#g235)"/><rect x="1204.49" y="32.5" width="4.58" height="405.5" fill="url(#g236)"/><rect x="1208.47" y="32.5" width="4.58" height="405.5" fill="url(#g237)"/><rect x="1212.46" y="32.5" width="4.58" height="405.5" fill="url(#g238)"/><rect x="1216.44" y="32.5" width="4.58" height="405.5" fill="url(#g239)"/><rect x="1220.43" y="32.5" width="4.58" height="405.5" fill="url(#g240)"/><rect x="1224.41" y="32.5" width="4.58" height="405.5" fill="url(#g241)"/><rect x="1228.40" y="32.5" width="4.58" height="405.5" fill="url(#g242)"/><rect x="1232.38" y="32.5" width="4.58" height="405.5" fill="url(#g243)"/><rect x="1236.37" y="32.5" width="4.58" height="405.5" fill="url(#g244)"/><rect x="1240.35" y="32.5" width="4.58" height="405.5" fill="url(#g245)"/><rect x="1244.34" y="32.5" width="4.58" height="405.5" fill="url(#g246)"/><rect x="1248.32" y="32.5" width="4.58" height="405.5" fill="url(#g247)"/><rect x="1252.31" y="32.5" width="4.58" height="405.5" fill="url(#g248)"/><rect x="1256.29" y="32.5" width="4.58" height="405.5" fill="url(#g249)"/><rect x="1260.28" y="32.5" width="4.58" height="405.5" fill="url(#g250)"/><rect x="1264.26" y="32.5" width="4.58" height="405.5" fill="url(#g251)"/><rect x="1268.25" y="32.5" width="4.58" height="405.5" fill="url(#g252)"/><rect x="1272.23" y="32.5" width="4.58" height="405.5" fill="url(#g253)"/><rect x="1276.22" y="32.5" width="4.58" height="405.5" fill="url(#g254)"/><rect x="981.30" y="32.5" width="8.6" height="405.5" fill="url(#g182)"/><rect x="1279.60" y="32.5" width="8.6" height="405.5" fill="url(#g254)"/></g></g>
<rect x="1298.7" y="32.5" width="19.59999999999991" height="405.5" fill="url(#cbg)"/>
<rect x="79.0" y="32.5" width="364.0" height="405.5" fill="none" stroke="#8c8c8c" stroke-width="1.6"/>
<line x1="75.50" y1="32.50" x2="79.00" y2="32.50" stroke="#555" stroke-width="1.2" />
<text x="59.62" y="40.80" font-size="23.71" textLength="13.01" lengthAdjust="spacingAndGlyphs" xml:space="preserve">0</text>
<line x1="75.50" y1="86.57" x2="79.00" y2="86.57" stroke="#555" stroke-width="1.2" />
<text x="41.49" y="94.87" font-size="23.71" textLength="30.85" lengthAdjust="spacingAndGlyphs" xml:space="preserve">−2</text>
<line x1="75.50" y1="140.63" x2="79.00" y2="140.63" stroke="#555" stroke-width="1.2" />
<text x="41.47" y="148.93" font-size="23.71" textLength="31.28" lengthAdjust="spacingAndGlyphs" xml:space="preserve">−4</text>
<line x1="75.50" y1="194.70" x2="79.00" y2="194.70" stroke="#555" stroke-width="1.2" />
<text x="41.46" y="203.00" font-size="23.71" textLength="31.56" lengthAdjust="spacingAndGlyphs" xml:space="preserve">−6</text>
<line x1="75.50" y1="248.77" x2="79.00" y2="248.77" stroke="#555" stroke-width="1.2" />
<text x="41.47" y="257.07" font-size="23.71" textLength="31.41" lengthAdjust="spacingAndGlyphs" xml:space="preserve">−8</text>
<line x1="75.50" y1="302.83" x2="79.00" y2="302.83" stroke="#555" stroke-width="1.2" />
<text x="27.38" y="311.13" font-size="23.71" textLength="45.39" lengthAdjust="spacingAndGlyphs" xml:space="preserve">−10</text>
<line x1="75.50" y1="356.90" x2="79.00" y2="356.90" stroke="#555" stroke-width="1.2" />
<text x="27.40" y="365.20" font-size="23.71" textLength="44.91" lengthAdjust="spacingAndGlyphs" xml:space="preserve">−12</text>
<line x1="75.50" y1="410.97" x2="79.00" y2="410.97" stroke="#555" stroke-width="1.2" />
<text x="27.38" y="419.27" font-size="23.71" textLength="45.35" lengthAdjust="spacingAndGlyphs" xml:space="preserve">−14</text>
<line x1="79.00" y1="438.00" x2="79.00" y2="441.50" stroke="#555" stroke-width="1.2" />
<text x="72.49" y="462.20" font-size="23.71" textLength="13.01" lengthAdjust="spacingAndGlyphs" xml:space="preserve">0</text>
<line x1="170.00" y1="438.00" x2="170.00" y2="441.50" stroke="#555" stroke-width="1.2" />
<text x="156.46" y="462.20" font-size="23.71" textLength="27.15" lengthAdjust="spacingAndGlyphs" xml:space="preserve">10</text>
<line x1="261.00" y1="438.00" x2="261.00" y2="441.50" stroke="#555" stroke-width="1.2" />
<text x="247.27" y="462.20" font-size="23.71" textLength="27.35" lengthAdjust="spacingAndGlyphs" xml:space="preserve">20</text>
<line x1="352.00" y1="438.00" x2="352.00" y2="441.50" stroke="#555" stroke-width="1.2" />
<text x="338.64" y="462.20" font-size="23.71" textLength="26.95" lengthAdjust="spacingAndGlyphs" xml:space="preserve">30</text>
<line x1="443.00" y1="438.00" x2="443.00" y2="441.50" stroke="#555" stroke-width="1.2" />
<text x="429.40" y="462.20" font-size="23.71" textLength="27.21" lengthAdjust="spacingAndGlyphs" xml:space="preserve">40</text>
<text x="206.65" y="73.00" font-size="23.71" textLength="108.03" lengthAdjust="spacingAndGlyphs" xml:space="preserve">channel 1</text>
<text x="188.09" y="488.00" font-size="23.71" textLength="145.60" lengthAdjust="spacingAndGlyphs" xml:space="preserve">Position (km)</text>
<text x="-39.72" y="235.25" font-size="23.71" textLength="113.20" lengthAdjust="spacingAndGlyphs" xml:space="preserve" transform="rotate(-90 17.00 235.25)">Depth (m)</text>
<rect x="534.0" y="32.5" width="364.0" height="405.5" fill="none" stroke="#8c8c8c" stroke-width="1.6"/>
<line x1="530.50" y1="32.50" x2="534.00" y2="32.50" stroke="#555" stroke-width="1.2" />
<text x="514.62" y="40.80" font-size="23.71" textLength="13.01" lengthAdjust="spacingAndGlyphs" xml:space="preserve">0</text>
<line x1="530.50" y1="106.23" x2="534.00" y2="106.23" stroke="#555" stroke-width="1.2" />
<text x="496.49" y="114.53" font-size="23.71" textLength="30.85" lengthAdjust="spacingAndGlyphs" xml:space="preserve">−2</text>
<line x1="530.50" y1="179.95" x2="534.00" y2="179.95" stroke="#555" stroke-width="1.2" />
<text x="496.47" y="188.25" font-size="23.71" textLength="31.28" lengthAdjust="spacingAndGlyphs" xml:space="preserve">−4</text>
<line x1="530.50" y1="253.68" x2="534.00" y2="253.68" stroke="#555" stroke-width="1.2" />
<text x="496.46" y="261.98" font-size="23.71" textLength="31.56" lengthAdjust="spacingAndGlyphs" xml:space="preserve">−6</text>
<line x1="530.50" y1="327.41" x2="534.00" y2="327.41" stroke="#555" stroke-width="1.2" />
<text x="496.47" y="335.71" font-size="23.71" textLength="31.41" lengthAdjust="spacingAndGlyphs" xml:space="preserve">−8</text>
<line x1="530.50" y1="401.14" x2="534.00" y2="401.14" stroke="#555" stroke-width="1.2" />
<text x="482.38" y="409.44" font-size="23.71" textLength="45.39" lengthAdjust="spacingAndGlyphs" xml:space="preserve">−10</text>
<line x1="534.00" y1="438.00" x2="534.00" y2="441.50" stroke="#555" stroke-width="1.2" />
<text x="527.49" y="462.20" font-size="23.71" textLength="13.01" lengthAdjust="spacingAndGlyphs" xml:space="preserve">0</text>
<line x1="625.00" y1="438.00" x2="625.00" y2="441.50" stroke="#555" stroke-width="1.2" />
<text x="611.46" y="462.20" font-size="23.71" textLength="27.15" lengthAdjust="spacingAndGlyphs" xml:space="preserve">10</text>
<line x1="716.00" y1="438.00" x2="716.00" y2="441.50" stroke="#555" stroke-width="1.2" />
<text x="702.27" y="462.20" font-size="23.71" textLength="27.35" lengthAdjust="spacingAndGlyphs" xml:space="preserve">20</text>
<line x1="807.00" y1="438.00" x2="807.00" y2="441.50" stroke="#555" stroke-width="1.2" />
<text x="793.64" y="462.20" font-size="23.71" textLength="26.95" lengthAdjust="spacingAndGlyphs" xml:space="preserve">30</text>
<line x1="898.00" y1="438.00" x2="898.00" y2="441.50" stroke="#555" stroke-width="1.2" />
<text x="884.40" y="462.20" font-size="23.71" textLength="27.21" lengthAdjust="spacingAndGlyphs" xml:space="preserve">40</text>
<text x="661.65" y="73.00" font-size="23.71" textLength="107.89" lengthAdjust="spacingAndGlyphs" xml:space="preserve">channel 2</text>
<text x="643.09" y="488.00" font-size="23.71" textLength="145.60" lengthAdjust="spacingAndGlyphs" xml:space="preserve">Position (km)</text>
<text x="415.28" y="235.25" font-size="23.71" textLength="113.20" lengthAdjust="spacingAndGlyphs" xml:space="preserve" transform="rotate(-90 472.00 235.25)">Depth (m)</text>
<rect x="989.3" y="32.5" width="290.9000000000001" height="405.5" fill="none" stroke="#8c8c8c" stroke-width="1.6"/>
<line x1="985.80" y1="32.50" x2="989.30" y2="32.50" stroke="#555" stroke-width="1.2" />
<text x="969.92" y="40.80" font-size="23.71" textLength="13.01" lengthAdjust="spacingAndGlyphs" xml:space="preserve">0</text>
<line x1="985.80" y1="94.88" x2="989.30" y2="94.88" stroke="#555" stroke-width="1.2" />
<text x="951.79" y="103.18" font-size="23.71" textLength="30.85" lengthAdjust="spacingAndGlyphs" xml:space="preserve">−2</text>
<line x1="985.80" y1="157.27" x2="989.30" y2="157.27" stroke="#555" stroke-width="1.2" />
<text x="951.77" y="165.57" font-size="23.71" textLength="31.28" lengthAdjust="spacingAndGlyphs" xml:space="preserve">−4</text>
<line x1="985.80" y1="219.65" x2="989.30" y2="219.65" stroke="#555" stroke-width="1.2" />
<text x="951.76" y="227.95" font-size="23.71" textLength="31.56" lengthAdjust="spacingAndGlyphs" xml:space="preserve">−6</text>
<line x1="985.80" y1="282.04" x2="989.30" y2="282.04" stroke="#555" stroke-width="1.2" />
<text x="951.77" y="290.34" font-size="23.71" textLength="31.41" lengthAdjust="spacingAndGlyphs" xml:space="preserve">−8</text>
<line x1="985.80" y1="344.42" x2="989.30" y2="344.42" stroke="#555" stroke-width="1.2" />
<text x="937.68" y="352.72" font-size="23.71" textLength="45.39" lengthAdjust="spacingAndGlyphs" xml:space="preserve">−10</text>
<line x1="985.80" y1="406.81" x2="989.30" y2="406.81" stroke="#555" stroke-width="1.2" />
<text x="937.70" y="415.11" font-size="23.71" textLength="44.91" lengthAdjust="spacingAndGlyphs" xml:space="preserve">−12</text>
<line x1="989.30" y1="438.00" x2="989.30" y2="441.50" stroke="#555" stroke-width="1.2" />
<text x="966.91" y="462.20" font-size="23.71" textLength="45.39" lengthAdjust="spacingAndGlyphs" xml:space="preserve">−40</text>
<line x1="1062.03" y1="438.00" x2="1062.03" y2="441.50" stroke="#555" stroke-width="1.2" />
<text x="1039.63" y="462.20" font-size="23.71" textLength="45.39" lengthAdjust="spacingAndGlyphs" xml:space="preserve">−30</text>
<line x1="1134.75" y1="438.00" x2="1134.75" y2="441.50" stroke="#555" stroke-width="1.2" />
<text x="1112.36" y="462.20" font-size="23.71" textLength="45.39" lengthAdjust="spacingAndGlyphs" xml:space="preserve">−20</text>
<line x1="1207.47" y1="438.00" x2="1207.47" y2="441.50" stroke="#555" stroke-width="1.2" />
<text x="1185.08" y="462.20" font-size="23.71" textLength="45.39" lengthAdjust="spacingAndGlyphs" xml:space="preserve">−10</text>
<line x1="1280.20" y1="438.00" x2="1280.20" y2="441.50" stroke="#555" stroke-width="1.2" />
<text x="1273.69" y="462.20" font-size="23.71" textLength="13.01" lengthAdjust="spacingAndGlyphs" xml:space="preserve">0</text>
<text x="1090.60" y="73.00" font-size="23.71" textLength="108.18" lengthAdjust="spacingAndGlyphs" xml:space="preserve">channel 3</text>
<text x="1061.84" y="488.00" font-size="23.71" textLength="145.60" lengthAdjust="spacingAndGlyphs" xml:space="preserve">Position (km)</text>
<text x="870.58" y="235.25" font-size="23.71" textLength="113.20" lengthAdjust="spacingAndGlyphs" xml:space="preserve" transform="rotate(-90 927.30 235.25)">Depth (m)</text>
<rect x="1298.7" y="32.5" width="19.59999999999991" height="405.5" fill="none" stroke="#8c8c8c" stroke-width="1.6"/>
<line x1="1318.30" y1="393.40" x2="1321.80" y2="393.40" stroke="#555" stroke-width="1.2" />
<text x="1326.39" y="401.70" font-size="23.71" textLength="62.16" lengthAdjust="spacingAndGlyphs" xml:space="preserve">0.025</text>
<line x1="1318.30" y1="344.29" x2="1321.80" y2="344.29" stroke="#555" stroke-width="1.2" />
<text x="1326.39" y="352.59" font-size="23.71" textLength="62.57" lengthAdjust="spacingAndGlyphs" xml:space="preserve">0.050</text>
<line x1="1318.30" y1="295.17" x2="1321.80" y2="295.17" stroke="#555" stroke-width="1.2" />
<text x="1326.39" y="303.47" font-size="23.71" textLength="62.16" lengthAdjust="spacingAndGlyphs" xml:space="preserve">0.075</text>
<line x1="1318.30" y1="246.06" x2="1321.80" y2="246.06" stroke="#555" stroke-width="1.2" />
<text x="1326.39" y="254.36" font-size="23.71" textLength="62.57" lengthAdjust="spacingAndGlyphs" xml:space="preserve">0.100</text>
<line x1="1318.30" y1="196.94" x2="1321.80" y2="196.94" stroke="#555" stroke-width="1.2" />
<text x="1326.39" y="205.24" font-size="23.71" textLength="62.16" lengthAdjust="spacingAndGlyphs" xml:space="preserve">0.125</text>
<line x1="1318.30" y1="147.82" x2="1321.80" y2="147.82" stroke="#555" stroke-width="1.2" />
<text x="1326.39" y="156.12" font-size="23.71" textLength="62.57" lengthAdjust="spacingAndGlyphs" xml:space="preserve">0.150</text>
<line x1="1318.30" y1="98.71" x2="1321.80" y2="98.71" stroke="#555" stroke-width="1.2" />
<text x="1326.39" y="107.01" font-size="23.71" textLength="62.16" lengthAdjust="spacingAndGlyphs" xml:space="preserve">0.175</text>
<line x1="1318.30" y1="49.59" x2="1321.80" y2="49.59" stroke="#555" stroke-width="1.2" />
<text x="1326.39" y="57.89" font-size="23.71" textLength="62.57" lengthAdjust="spacingAndGlyphs" xml:space="preserve">0.200</text>
<g transform="rotate(-90 1412.70 235.25)"><text x="1343.11" y="235.25" font-size="23.71" textLength="115.03" lengthAdjust="spacingAndGlyphs" xml:space="preserve">SSC (kg m</text><text x="1458.14" y="225.75" font-size="16.60" textLength="15.49" lengthAdjust="spacingAndGlyphs" xml:space="preserve">-3</text><text x="1473.63" y="235.25" font-size="23.71" textLength="8.66" lengthAdjust="spacingAndGlyphs" xml:space="preserve">)</text></g>
<text x="-0.5" y="24.3" font-size="29.6" font-weight="bold">A</text>
<line x1="100.20" y1="630.60" x2="100.20" y2="963.30" stroke="#d4d4d4" stroke-width="1.3" />
<line x1="162.22" y1="630.60" x2="162.22" y2="963.30" stroke="#d4d4d4" stroke-width="1.3" />
<line x1="224.25" y1="630.60" x2="224.25" y2="963.30" stroke="#d4d4d4" stroke-width="1.3" />
<line x1="286.27" y1="630.60" x2="286.27" y2="963.30" stroke="#d4d4d4" stroke-width="1.3" />
<line x1="348.30" y1="630.60" x2="348.30" y2="963.30" stroke="#d4d4d4" stroke-width="1.3" />
<line x1="410.32" y1="630.60" x2="410.32" y2="963.30" stroke="#d4d4d4" stroke-width="1.3" />
<line x1="472.35" y1="630.60" x2="472.35" y2="963.30" stroke="#d4d4d4" stroke-width="1.3" />
<line x1="534.38" y1="630.60" x2="534.38" y2="963.30" stroke="#d4d4d4" stroke-width="1.3" />
<line x1="596.40" y1="630.60" x2="596.40" y2="963.30" stroke="#d4d4d4" stroke-width="1.3" />
<line x1="100.20" y1="963.30" x2="596.40" y2="963.30" stroke="#d4d4d4" stroke-width="1.3" />
<line x1="100.20" y1="868.24" x2="596.40" y2="868.24" stroke="#d4d4d4" stroke-width="1.3" />
<line x1="100.20" y1="773.19" x2="596.40" y2="773.19" stroke="#d4d4d4" stroke-width="1.3" />
<line x1="100.20" y1="678.13" x2="596.40" y2="678.13" stroke="#d4d4d4" stroke-width="1.3" />
<path d="M100.20,911.48 L101.76,911.40 L103.32,911.33 L104.88,911.27 L106.44,911.21 L108.00,911.16 L109.56,911.11 L111.12,911.07 L112.68,911.03 L114.24,911.00 L115.80,910.97 L117.36,910.95 L118.92,910.93 L120.48,910.92 L122.05,910.90 L123.61,910.89 L125.17,910.89 L126.73,910.88 L128.29,910.88 L129.85,910.88 L131.41,910.88 L132.97,910.88 L134.53,910.89 L136.09,910.89 L137.65,910.90 L139.21,910.90 L140.77,910.90 L142.33,910.91 L143.89,910.91 L145.45,910.91 L147.01,910.91 L148.57,910.91 L150.13,910.91 L151.69,910.90 L153.25,910.89 L154.81,910.88 L156.37,910.86 L157.93,910.85 L159.49,910.82 L161.05,910.80 L162.62,910.77 L164.18,910.73 L165.74,910.69 L167.30,910.65 L168.86,910.60 L170.42,910.54 L171.98,910.48 L173.54,910.41 L175.10,910.33 L176.66,910.25 L178.22,910.16 L179.78,910.06 L181.34,909.96 L182.90,909.84 L184.46,909.72 L186.02,909.59 L187.58,909.45 L189.14,909.30 L190.70,909.14 L192.26,908.97 L193.82,908.80 L195.38,908.61 L196.94,908.41 L198.50,908.19 L200.06,907.97 L201.62,907.74 L203.18,907.49 L204.75,907.23 L206.31,906.96 L207.87,906.68 L209.43,906.38 L210.99,906.07 L212.55,905.75 L214.11,905.41 L215.67,905.06 L217.23,904.69 L218.79,904.31 L220.35,903.91 L221.91,903.50 L223.47,903.07 L225.03,902.62 L226.59,902.16 L228.15,901.69 L229.71,901.19 L231.27,900.68 L232.83,900.15 L234.39,899.60 L235.95,899.04 L237.51,898.45 L239.07,897.85 L240.63,897.23 L242.19,896.59 L243.75,895.93 L245.32,895.25 L246.88,894.55 L248.44,893.83 L250.00,893.09 L251.56,892.33 L253.12,891.54 L254.68,890.74 L256.24,889.91 L257.80,889.06 L259.36,888.19 L260.92,887.29 L262.48,886.38 L264.04,885.44 L265.60,884.47 L267.16,883.48 L268.72,882.46 L270.28,881.41 L271.84,880.33 L273.40,879.23 L274.96,878.09 L276.52,876.92 L278.08,875.72 L279.64,874.49 L281.20,873.22 L282.76,871.91 L284.32,870.57 L285.88,869.18 L287.45,867.76 L289.01,866.30 L290.57,864.80 L292.13,863.26 L293.69,861.67 L295.25,860.04 L296.81,858.37 L298.37,856.65 L299.93,854.88 L301.49,853.06 L303.05,851.20 L304.61,849.28 L306.17,847.31 L307.73,845.30 L309.29,843.22 L310.85,841.10 L312.41,838.92 L313.97,836.68 L315.53,834.39 L317.09,832.05 L318.65,829.66 L320.21,827.22 L321.77,824.72 L323.33,822.18 L324.89,819.59 L326.45,816.96 L328.02,814.27 L329.58,811.55 L331.14,808.78 L332.70,805.96 L334.26,803.11 L335.82,800.21 L337.38,797.28 L338.94,794.30 L340.50,791.29 L342.06,788.24 L343.62,785.15 L345.18,782.03 L346.74,778.87 L348.30,775.68" fill="none" stroke="#f7901e" stroke-width="2.3" stroke-linejoin="round" clip-path="url(#clipB)"/>
<path d="M348.30,776.01 L349.86,775.16 L351.42,774.29 L352.98,773.40 L354.54,772.50 L356.10,771.59 L357.66,770.66 L359.22,769.72 L360.78,768.78 L362.34,767.82 L363.90,766.85 L365.46,765.88 L367.02,764.90 L368.58,763.92 L370.15,762.93 L371.71,761.94 L373.27,760.95 L374.83,759.96 L376.39,758.97 L377.95,757.98 L379.51,756.99 L381.07,756.01 L382.63,755.03 L384.19,754.06 L385.75,753.09 L387.31,752.14 L388.87,751.19 L390.43,750.25 L391.99,749.33 L393.55,748.42 L395.11,747.52 L396.67,746.64 L398.23,745.77 L399.79,744.92 L401.35,744.08 L402.91,743.27 L404.47,742.48 L406.03,741.71 L407.59,740.96 L409.15,740.23 L410.72,739.53 L412.28,738.85 L413.84,738.20 L415.40,737.58 L416.96,736.99 L418.52,736.43 L420.08,735.90 L421.64,735.40 L423.20,734.94 L424.76,734.51 L426.32,734.11 L427.88,733.75 L429.44,733.43 L431.00,733.15 L432.56,732.91 L434.12,732.71 L435.68,732.55 L437.24,732.43 L438.80,732.36 L440.36,732.32 L441.92,732.33 L443.48,732.39 L445.04,732.48 L446.60,732.61 L448.16,732.79 L449.72,733.00 L451.28,733.26 L452.85,733.55 L454.41,733.88 L455.97,734.26 L457.53,734.67 L459.09,735.12 L460.65,735.61 L462.21,736.13 L463.77,736.70 L465.33,737.29 L466.89,737.93 L468.45,738.59 L470.01,739.29 L471.57,740.01 L473.13,740.77 L474.69,741.55 L476.25,742.36 L477.81,743.19 L479.37,744.05 L480.93,744.93 L482.49,745.83 L484.05,746.75 L485.61,747.69 L487.17,748.65 L488.73,749.63 L490.29,750.62 L491.85,751.62 L493.42,752.64 L494.98,753.67 L496.54,754.71 L498.10,755.76 L499.66,756.81 L501.22,757.87 L502.78,758.93 L504.34,760.00 L505.90,761.06 L507.46,762.12 L509.02,763.17 L510.58,764.21 L512.14,765.25 L513.70,766.27 L515.26,767.27 L516.82,768.26 L518.38,769.23 L519.94,770.18 L521.50,771.10 L523.06,772.00 L524.62,772.87 L526.18,773.71 L527.74,774.52 L529.30,775.29 L530.86,776.02 L532.42,776.72 L533.98,777.37 L535.55,777.98 L537.11,778.55 L538.67,779.07 L540.23,779.53 L541.79,779.94 L543.35,780.29 L544.91,780.57 L546.47,780.75 L548.03,780.84 L549.59,780.81 L551.15,780.66 L552.71,780.36 L554.27,779.91 L555.83,779.30 L557.39,778.51 L558.95,777.53 L560.51,776.35 L562.07,774.96 L563.63,773.35 L565.19,771.52 L566.75,769.45 L568.31,767.15 L569.87,764.60 L571.43,761.80 L572.99,758.74 L574.55,755.42 L576.12,751.82 L577.68,747.95 L579.24,743.79 L580.80,739.33 L582.36,734.58 L583.92,729.52 L585.48,724.15 L587.04,718.46 L588.60,712.44 L590.16,706.09 L591.72,699.39 L593.28,692.35 L594.84,684.96 L596.40,677.20" fill="none" stroke="#ec1c24" stroke-width="2.3" stroke-linejoin="round" clip-path="url(#clipB)"/>
<path d="M348.30,776.13 L349.86,770.72 L351.42,765.47 L352.98,760.37 L354.54,755.42 L356.10,750.62 L357.66,745.98 L359.22,741.48 L360.78,737.13 L362.34,732.92 L363.90,728.85 L365.46,724.92 L367.02,721.13 L368.58,717.47 L370.15,713.95 L371.71,710.56 L373.27,707.30 L374.83,704.17 L376.39,701.16 L377.95,698.28 L379.51,695.51 L381.07,692.87 L382.63,690.35 L384.19,687.95 L385.75,685.68 L387.31,683.53 L388.87,681.51 L390.43,679.62 L391.99,677.86 L393.55,676.22 L395.11,674.73 L396.67,673.36 L398.23,672.13 L399.79,671.04 L401.35,670.09 L402.91,669.27 L404.47,668.60 L406.03,668.07 L407.59,667.68 L409.15,667.44 L410.72,667.34 L412.28,667.39 L413.84,667.59 L415.40,667.92 L416.96,668.39 L418.52,668.98 L420.08,669.71 L421.64,670.56 L423.20,671.53 L424.76,672.61 L426.32,673.81 L427.88,675.11 L429.44,676.51 L431.00,678.02 L432.56,679.62 L434.12,681.31 L435.68,683.10 L437.24,684.96 L438.80,686.91 L440.36,688.93 L441.92,691.02 L443.48,693.19 L445.04,695.41 L446.60,697.70 L448.16,700.05 L449.72,702.44 L451.28,704.89 L452.85,707.38 L454.41,709.91 L455.97,712.48 L457.53,715.09 L459.09,717.72 L460.65,720.38 L462.21,723.05 L463.77,725.75 L465.33,728.46 L466.89,731.18 L468.45,733.91 L470.01,736.63 L471.57,739.36 L473.13,742.08 L474.69,744.79 L476.25,747.48 L477.81,750.16 L479.37,752.82 L480.93,755.44 L482.49,758.04 L484.05,760.60 L485.61,763.12 L487.17,765.60 L488.73,768.03 L490.29,770.40 L491.85,772.72 L493.42,774.98 L494.98,777.17 L496.54,779.29 L498.10,781.34 L499.66,783.31 L501.22,785.20 L502.78,787.01 L504.34,788.72 L505.90,790.34 L507.46,791.86 L509.02,793.29 L510.58,794.62 L512.14,795.85 L513.70,796.98 L515.26,798.01 L516.82,798.94 L518.38,799.76 L519.94,800.47 L521.50,801.08 L523.06,801.58 L524.62,801.97 L526.18,802.25 L527.74,802.42 L529.30,802.47 L530.86,802.40 L532.42,802.22 L533.98,801.92 L535.55,801.50 L537.11,800.96 L538.67,800.30 L540.23,799.52 L541.79,798.61 L543.35,797.58 L544.91,796.43 L546.47,795.15 L548.03,793.74 L549.59,792.21 L551.15,790.55 L552.71,788.76 L554.27,786.84 L555.83,784.79 L557.39,782.61 L558.95,780.30 L560.51,777.86 L562.07,775.28 L563.63,772.57 L565.19,769.72 L566.75,766.74 L568.31,763.62 L569.87,760.36 L571.43,756.94 L572.99,753.37 L574.55,749.65 L576.12,745.75 L577.68,741.69 L579.24,737.45 L580.80,733.03 L582.36,728.43 L583.92,723.64 L585.48,718.65 L587.04,713.46 L588.60,708.07 L590.16,702.47 L591.72,696.65 L593.28,690.62 L594.84,684.36 L596.40,677.87" fill="none" stroke="#3a4ba1" stroke-width="2.3" stroke-linejoin="round" clip-path="url(#clipB)"/>
<rect x="100.2" y="630.6" width="496.2" height="332.69999999999993" fill="none" stroke="#8c8c8c" stroke-width="1.6"/>
<line x1="97.00" y1="963.30" x2="100.20" y2="963.30" stroke="#555" stroke-width="1.1" />
<text x="49.72" y="971.20" font-size="21.36" textLength="43.19" lengthAdjust="spacingAndGlyphs" xml:space="preserve">0.02</text>
<line x1="97.00" y1="868.24" x2="100.20" y2="868.24" stroke="#555" stroke-width="1.1" />
<text x="49.71" y="876.14" font-size="21.36" textLength="43.47" lengthAdjust="spacingAndGlyphs" xml:space="preserve">0.03</text>
<line x1="97.00" y1="773.19" x2="100.20" y2="773.19" stroke="#555" stroke-width="1.1" />
<text x="49.71" y="781.09" font-size="21.36" textLength="43.62" lengthAdjust="spacingAndGlyphs" xml:space="preserve">0.04</text>
<line x1="97.00" y1="678.13" x2="100.20" y2="678.13" stroke="#555" stroke-width="1.1" />
<text x="49.72" y="686.03" font-size="21.36" textLength="43.27" lengthAdjust="spacingAndGlyphs" xml:space="preserve">0.05</text>
<line x1="100.20" y1="963.30" x2="100.20" y2="966.50" stroke="#555" stroke-width="1.1" />
<text x="80.03" y="985.30" font-size="21.36" textLength="40.89" lengthAdjust="spacingAndGlyphs" xml:space="preserve">−40</text>
<line x1="162.22" y1="963.30" x2="162.22" y2="966.50" stroke="#555" stroke-width="1.1" />
<text x="142.05" y="985.30" font-size="21.36" textLength="40.89" lengthAdjust="spacingAndGlyphs" xml:space="preserve">−30</text>
<line x1="224.25" y1="963.30" x2="224.25" y2="966.50" stroke="#555" stroke-width="1.1" />
<text x="204.08" y="985.30" font-size="21.36" textLength="40.89" lengthAdjust="spacingAndGlyphs" xml:space="preserve">−20</text>
<line x1="286.27" y1="963.30" x2="286.27" y2="966.50" stroke="#555" stroke-width="1.1" />
<text x="266.10" y="985.30" font-size="21.36" textLength="40.89" lengthAdjust="spacingAndGlyphs" xml:space="preserve">−10</text>
<line x1="348.30" y1="963.30" x2="348.30" y2="966.50" stroke="#555" stroke-width="1.1" />
<text x="342.43" y="985.30" font-size="21.36" textLength="11.73" lengthAdjust="spacingAndGlyphs" xml:space="preserve">0</text>
<line x1="410.32" y1="963.30" x2="410.32" y2="966.50" stroke="#555" stroke-width="1.1" />
<text x="398.12" y="985.30" font-size="21.36" textLength="24.46" lengthAdjust="spacingAndGlyphs" xml:space="preserve">10</text>
<line x1="472.35" y1="963.30" x2="472.35" y2="966.50" stroke="#555" stroke-width="1.1" />
<text x="459.98" y="985.30" font-size="21.36" textLength="24.64" lengthAdjust="spacingAndGlyphs" xml:space="preserve">20</text>
<line x1="534.38" y1="963.30" x2="534.38" y2="966.50" stroke="#555" stroke-width="1.1" />
<text x="522.34" y="985.30" font-size="21.36" textLength="24.28" lengthAdjust="spacingAndGlyphs" xml:space="preserve">30</text>
<line x1="596.40" y1="963.30" x2="596.40" y2="966.50" stroke="#555" stroke-width="1.1" />
<text x="584.15" y="985.30" font-size="21.36" textLength="24.51" lengthAdjust="spacingAndGlyphs" xml:space="preserve">40</text>
<text x="282.61" y="1008.30" font-size="21.36" textLength="131.17" lengthAdjust="spacingAndGlyphs" xml:space="preserve">Position (km)</text>
<rect x="108.5" y="639.6" width="70.6" height="78.2" rx="4" ry="4" fill="#ffffff" fill-opacity="0.8" stroke="#e3e3e3" stroke-width="1.1"/>
<line x1="114.10" y1="652.90" x2="149.70" y2="652.90" stroke="#3a4ba1" stroke-width="2.3" />
<text x="162.56" y="658.90" font-size="18.16" textLength="9.52" lengthAdjust="spacingAndGlyphs" xml:space="preserve">1</text>
<line x1="114.10" y1="677.45" x2="149.70" y2="677.45" stroke="#ec1c24" stroke-width="2.3" />
<text x="162.38" y="683.45" font-size="18.16" textLength="9.61" lengthAdjust="spacingAndGlyphs" xml:space="preserve">2</text>
<line x1="114.10" y1="702.00" x2="149.70" y2="702.00" stroke="#f7901e" stroke-width="2.3" />
<text x="162.64" y="708.00" font-size="18.16" textLength="9.57" lengthAdjust="spacingAndGlyphs" xml:space="preserve">3</text>
<g transform="rotate(-90 39.80 796.95)"><text x="-39.64" y="796.95" font-size="21.36" textLength="137.11" lengthAdjust="spacingAndGlyphs" xml:space="preserve">Solid: c (kg m</text><text x="97.47" y="788.45" font-size="14.95" textLength="13.96" lengthAdjust="spacingAndGlyphs" xml:space="preserve">-3</text><text x="111.43" y="796.95" font-size="21.36" textLength="7.80" lengthAdjust="spacingAndGlyphs" xml:space="preserve">)</text><line x1="24.20" y1="782.55" x2="30.60" y2="782.55" stroke="#000" stroke-width="1.5"/></g>
<text x="23.9" y="617.1" font-size="29.6" font-weight="bold">B</text>
<line x1="822.40" y1="630.60" x2="822.40" y2="963.60" stroke="#d4d4d4" stroke-width="1.3" />
<line x1="884.42" y1="630.60" x2="884.42" y2="963.60" stroke="#d4d4d4" stroke-width="1.3" />
<line x1="946.45" y1="630.60" x2="946.45" y2="963.60" stroke="#d4d4d4" stroke-width="1.3" />
<line x1="1008.47" y1="630.60" x2="1008.47" y2="963.60" stroke="#d4d4d4" stroke-width="1.3" />
<line x1="1070.50" y1="630.60" x2="1070.50" y2="963.60" stroke="#d4d4d4" stroke-width="1.3" />
<line x1="1132.52" y1="630.60" x2="1132.52" y2="963.60" stroke="#d4d4d4" stroke-width="1.3" />
<line x1="1194.55" y1="630.60" x2="1194.55" y2="963.60" stroke="#d4d4d4" stroke-width="1.3" />
<line x1="1256.57" y1="630.60" x2="1256.57" y2="963.60" stroke="#d4d4d4" stroke-width="1.3" />
<line x1="1318.60" y1="630.60" x2="1318.60" y2="963.60" stroke="#d4d4d4" stroke-width="1.3" />
<line x1="822.40" y1="963.60" x2="1318.60" y2="963.60" stroke="#d4d4d4" stroke-width="1.3" />
<line x1="822.40" y1="897.00" x2="1318.60" y2="897.00" stroke="#d4d4d4" stroke-width="1.3" />
<line x1="822.40" y1="830.40" x2="1318.60" y2="830.40" stroke="#d4d4d4" stroke-width="1.3" />
<line x1="822.40" y1="763.80" x2="1318.60" y2="763.80" stroke="#d4d4d4" stroke-width="1.3" />
<line x1="822.40" y1="697.20" x2="1318.60" y2="697.20" stroke="#d4d4d4" stroke-width="1.3" />
<line x1="822.40" y1="630.60" x2="1318.60" y2="630.60" stroke="#d4d4d4" stroke-width="1.3" />
<path d="M822.40,923.91 L823.96,924.11 L825.52,924.30 L827.08,924.50 L828.64,924.69 L830.20,924.88 L831.76,925.06 L833.32,925.25 L834.88,925.43 L836.44,925.61 L838.00,925.79 L839.56,925.97 L841.12,926.14 L842.68,926.31 L844.25,926.48 L845.81,926.65 L847.37,926.81 L848.93,926.98 L850.49,927.14 L852.05,927.30 L853.61,927.46 L855.17,927.61 L856.73,927.77 L858.29,927.92 L859.85,928.07 L861.41,928.22 L862.97,928.36 L864.53,928.51 L866.09,928.65 L867.65,928.80 L869.21,928.94 L870.77,929.08 L872.33,929.21 L873.89,929.35 L875.45,929.48 L877.01,929.62 L878.57,929.75 L880.13,929.88 L881.69,930.01 L883.25,930.14 L884.82,930.27 L886.38,930.39 L887.94,930.51 L889.50,930.63 L891.06,930.75 L892.62,930.86 L894.18,930.97 L895.74,931.08 L897.30,931.17 L898.86,931.26 L900.42,931.34 L901.98,931.42 L903.54,931.48 L905.10,931.54 L906.66,931.58 L908.22,931.62 L909.78,931.64 L911.34,931.65 L912.90,931.65 L914.46,931.63 L916.02,931.60 L917.58,931.56 L919.14,931.51 L920.70,931.44 L922.26,931.37 L923.82,931.27 L925.38,931.17 L926.95,931.05 L928.51,930.92 L930.07,930.77 L931.63,930.61 L933.19,930.43 L934.75,930.25 L936.31,930.04 L937.87,929.83 L939.43,929.59 L940.99,929.35 L942.55,929.09 L944.11,928.81 L945.67,928.52 L947.23,928.21 L948.79,927.89 L950.35,927.55 L951.91,927.20 L953.47,926.83 L955.03,926.44 L956.59,926.03 L958.15,925.60 L959.71,925.16 L961.27,924.69 L962.83,924.20 L964.39,923.69 L965.95,923.16 L967.52,922.61 L969.08,922.03 L970.64,921.43 L972.20,920.81 L973.76,920.16 L975.32,919.48 L976.88,918.78 L978.44,918.05 L980.00,917.30 L981.56,916.52 L983.12,915.70 L984.68,914.85 L986.24,913.98 L987.80,913.06 L989.36,912.11 L990.92,911.12 L992.48,910.10 L994.04,909.03 L995.60,907.92 L997.16,906.77 L998.72,905.57 L1000.28,904.33 L1001.84,903.04 L1003.40,901.70 L1004.96,900.31 L1006.52,898.87 L1008.08,897.38 L1009.65,895.83 L1011.21,894.23 L1012.77,892.58 L1014.33,890.88 L1015.89,889.12 L1017.45,887.32 L1019.01,885.47 L1020.57,883.57 L1022.13,881.63 L1023.69,879.65 L1025.25,877.62 L1026.81,875.55 L1028.37,873.44 L1029.93,871.29 L1031.49,869.11 L1033.05,866.89 L1034.61,864.63 L1036.17,862.34 L1037.73,860.02 L1039.29,857.67 L1040.85,855.29 L1042.41,852.87 L1043.97,850.41 L1045.53,847.91 L1047.09,845.36 L1048.65,842.76 L1050.22,840.10 L1051.78,837.38 L1053.34,834.58 L1054.90,831.71 L1056.46,828.77 L1058.02,825.74 L1059.58,822.62 L1061.14,819.41 L1062.70,816.10 L1064.26,812.69 L1065.82,809.16 L1067.38,805.53 L1068.94,801.78 L1070.50,797.90" fill="none" stroke="#f7901e" stroke-width="2.3" stroke-linejoin="round" clip-path="url(#clipC)"/>
<path d="M822.40,882.08 L823.96,881.81 L825.52,881.54 L827.08,881.27 L828.64,881.00 L830.20,880.73 L831.76,880.46 L833.32,880.19 L834.88,879.92 L836.44,879.65 L838.00,879.37 L839.56,879.10 L841.12,878.83 L842.68,878.55 L844.25,878.28 L845.81,878.00 L847.37,877.72 L848.93,877.45 L850.49,877.17 L852.05,876.89 L853.61,876.62 L855.17,876.34 L856.73,876.06 L858.29,875.78 L859.85,875.50 L861.41,875.22 L862.97,874.94 L864.53,874.66 L866.09,874.38 L867.65,874.10 L869.21,873.81 L870.77,873.53 L872.33,873.25 L873.89,872.96 L875.45,872.68 L877.01,872.39 L878.57,872.11 L880.13,871.82 L881.69,871.54 L883.25,871.25 L884.82,870.96 L886.38,870.67 L887.94,870.39 L889.50,870.10 L891.06,869.81 L892.62,869.52 L894.18,869.23 L895.74,868.94 L897.30,868.65 L898.86,868.36 L900.42,868.06 L901.98,867.77 L903.54,867.48 L905.10,867.19 L906.66,866.89 L908.22,866.60 L909.78,866.30 L911.34,866.01 L912.90,865.71 L914.46,865.42 L916.02,865.12 L917.58,864.82 L919.14,864.52 L920.70,864.23 L922.26,863.93 L923.82,863.63 L925.38,863.33 L926.95,863.03 L928.51,862.73 L930.07,862.43 L931.63,862.13 L933.19,861.82 L934.75,861.52 L936.31,861.22 L937.87,860.91 L939.43,860.61 L940.99,860.31 L942.55,860.00 L944.11,859.70 L945.67,859.39 L947.23,859.08 L948.79,858.78 L950.35,858.47 L951.91,858.16 L953.47,857.86 L955.03,857.55 L956.59,857.24 L958.15,856.93 L959.71,856.62 L961.27,856.31 L962.83,856.00 L964.39,855.69 L965.95,855.37 L967.52,855.06 L969.08,854.75 L970.64,854.43 L972.20,854.12 L973.76,853.81 L975.32,853.49 L976.88,853.18 L978.44,852.86 L980.00,852.55 L981.56,852.23 L983.12,851.91 L984.68,851.59 L986.24,851.28 L987.80,850.96 L989.36,850.64 L990.92,850.32 L992.48,850.00 L994.04,849.68 L995.60,849.36 L997.16,849.04 L998.72,848.71 L1000.28,848.39 L1001.84,848.07 L1003.40,847.75 L1004.96,847.42 L1006.52,847.10 L1008.08,846.77 L1009.65,846.45 L1011.21,846.12 L1012.77,845.80 L1014.33,845.47 L1015.89,845.14 L1017.45,844.82 L1019.01,844.49 L1020.57,844.16 L1022.13,843.83 L1023.69,843.50 L1025.25,843.17 L1026.81,842.84 L1028.37,842.51 L1029.93,842.18 L1031.49,841.85 L1033.05,841.51 L1034.61,841.18 L1036.17,840.85 L1037.73,840.51 L1039.29,840.18 L1040.85,839.85 L1042.41,839.51 L1043.97,839.17 L1045.53,838.84 L1047.09,838.50 L1048.65,838.16 L1050.22,837.83 L1051.78,837.49 L1053.34,837.15 L1054.90,836.81 L1056.46,836.47 L1058.02,836.13 L1059.58,835.79 L1061.14,835.45 L1062.70,835.11 L1064.26,834.77 L1065.82,834.43 L1067.38,834.08 L1068.94,833.74 L1070.50,833.40" fill="none" stroke="#f7901e" stroke-width="2.3" stroke-linejoin="round" stroke-dasharray="7.2,3.2" clip-path="url(#clipC)"/>
<path d="M1070.50,781.25 L1072.06,780.40 L1073.62,779.55 L1075.18,778.70 L1076.74,777.84 L1078.30,776.98 L1079.86,776.12 L1081.42,775.26 L1082.98,774.40 L1084.54,773.55 L1086.10,772.69 L1087.66,771.84 L1089.22,770.99 L1090.78,770.15 L1092.35,769.31 L1093.91,768.48 L1095.47,767.65 L1097.03,766.83 L1098.59,766.02 L1100.15,765.22 L1101.71,764.43 L1103.27,763.66 L1104.83,762.89 L1106.39,762.13 L1107.95,761.39 L1109.51,760.66 L1111.07,759.95 L1112.63,759.26 L1114.19,758.57 L1115.75,757.91 L1117.31,757.27 L1118.87,756.64 L1120.43,756.03 L1121.99,755.45 L1123.55,754.88 L1125.11,754.34 L1126.67,753.82 L1128.23,753.32 L1129.79,752.85 L1131.35,752.40 L1132.92,751.98 L1134.48,751.58 L1136.04,751.22 L1137.60,750.88 L1139.16,750.59 L1140.72,750.33 L1142.28,750.12 L1143.84,749.95 L1145.40,749.83 L1146.96,749.76 L1148.52,749.75 L1150.08,749.79 L1151.64,749.88 L1153.20,750.03 L1154.76,750.22 L1156.32,750.46 L1157.88,750.74 L1159.44,751.06 L1161.00,751.42 L1162.56,751.81 L1164.12,752.24 L1165.68,752.70 L1167.24,753.20 L1168.80,753.72 L1170.36,754.28 L1171.92,754.88 L1173.48,755.51 L1175.05,756.18 L1176.61,756.89 L1178.17,757.64 L1179.73,758.42 L1181.29,759.25 L1182.85,760.12 L1184.41,761.03 L1185.97,761.99 L1187.53,762.99 L1189.09,764.03 L1190.65,765.13 L1192.21,766.26 L1193.77,767.45 L1195.33,768.69 L1196.89,769.97 L1198.45,771.30 L1200.01,772.67 L1201.57,774.08 L1203.13,775.53 L1204.69,777.01 L1206.25,778.52 L1207.81,780.06 L1209.37,781.62 L1210.93,783.21 L1212.49,784.81 L1214.05,786.43 L1215.62,788.07 L1217.18,789.72 L1218.74,791.37 L1220.30,793.03 L1221.86,794.69 L1223.42,796.35 L1224.98,798.01 L1226.54,799.66 L1228.10,801.31 L1229.66,802.94 L1231.22,804.55 L1232.78,806.15 L1234.34,807.74 L1235.90,809.30 L1237.46,810.83 L1239.02,812.35 L1240.58,813.83 L1242.14,815.28 L1243.70,816.70 L1245.26,818.08 L1246.82,819.42 L1248.38,820.73 L1249.94,821.99 L1251.50,823.20 L1253.06,824.37 L1254.62,825.48 L1256.18,826.55 L1257.75,827.55 L1259.31,828.50 L1260.87,829.39 L1262.43,830.20 L1263.99,830.95 L1265.55,831.62 L1267.11,832.21 L1268.67,832.72 L1270.23,833.14 L1271.79,833.47 L1273.35,833.70 L1274.91,833.83 L1276.47,833.86 L1278.03,833.78 L1279.59,833.56 L1281.15,833.17 L1282.71,832.59 L1284.27,831.79 L1285.83,830.73 L1287.39,829.39 L1288.95,827.75 L1290.51,825.79 L1292.07,823.52 L1293.63,820.94 L1295.19,818.04 L1296.75,814.84 L1298.32,811.32 L1299.88,807.50 L1301.44,803.36 L1303.00,798.92 L1304.56,794.17 L1306.12,789.11 L1307.68,783.74 L1309.24,778.06 L1310.80,772.07 L1312.36,765.78 L1313.92,759.19 L1315.48,752.28 L1317.04,745.07 L1318.60,737.56" fill="none" stroke="#ec1c24" stroke-width="2.3" stroke-linejoin="round" clip-path="url(#clipC)"/>
<path d="M1070.50,933.03 L1072.06,932.69 L1073.62,932.36 L1075.18,932.02 L1076.74,931.68 L1078.30,931.33 L1079.86,930.99 L1081.42,930.65 L1082.98,930.31 L1084.54,929.96 L1086.10,929.61 L1087.66,929.27 L1089.22,928.92 L1090.78,928.57 L1092.35,928.22 L1093.91,927.87 L1095.47,927.52 L1097.03,927.17 L1098.59,926.81 L1100.15,926.46 L1101.71,926.10 L1103.27,925.74 L1104.83,925.39 L1106.39,925.03 L1107.95,924.67 L1109.51,924.31 L1111.07,923.95 L1112.63,923.58 L1114.19,923.22 L1115.75,922.86 L1117.31,922.49 L1118.87,922.12 L1120.43,921.76 L1121.99,921.39 L1123.55,921.02 L1125.11,920.65 L1126.67,920.28 L1128.23,919.91 L1129.79,919.53 L1131.35,919.16 L1132.92,918.78 L1134.48,918.41 L1136.04,918.03 L1137.60,917.65 L1139.16,917.27 L1140.72,916.89 L1142.28,916.51 L1143.84,916.13 L1145.40,915.75 L1146.96,915.37 L1148.52,914.98 L1150.08,914.59 L1151.64,914.21 L1153.20,913.82 L1154.76,913.43 L1156.32,913.04 L1157.88,912.65 L1159.44,912.26 L1161.00,911.87 L1162.56,911.47 L1164.12,911.08 L1165.68,910.68 L1167.24,910.29 L1168.80,909.89 L1170.36,909.49 L1171.92,909.09 L1173.48,908.69 L1175.05,908.29 L1176.61,907.89 L1178.17,907.49 L1179.73,907.08 L1181.29,906.68 L1182.85,906.27 L1184.41,905.86 L1185.97,905.46 L1187.53,905.05 L1189.09,904.64 L1190.65,904.23 L1192.21,903.81 L1193.77,903.40 L1195.33,902.99 L1196.89,902.57 L1198.45,902.16 L1200.01,901.74 L1201.57,901.32 L1203.13,900.90 L1204.69,900.48 L1206.25,900.06 L1207.81,899.64 L1209.37,899.22 L1210.93,898.80 L1212.49,898.37 L1214.05,897.95 L1215.62,897.52 L1217.18,897.09 L1218.74,896.66 L1220.30,896.23 L1221.86,895.80 L1223.42,895.37 L1224.98,894.94 L1226.54,894.51 L1228.10,894.07 L1229.66,893.64 L1231.22,893.20 L1232.78,892.76 L1234.34,892.33 L1235.90,891.89 L1237.46,891.45 L1239.02,891.01 L1240.58,890.56 L1242.14,890.12 L1243.70,889.68 L1245.26,889.23 L1246.82,888.79 L1248.38,888.34 L1249.94,887.89 L1251.50,887.44 L1253.06,886.99 L1254.62,886.54 L1256.18,886.09 L1257.75,885.64 L1259.31,885.18 L1260.87,884.73 L1262.43,884.27 L1263.99,883.82 L1265.55,883.36 L1267.11,882.90 L1268.67,882.44 L1270.23,881.98 L1271.79,881.52 L1273.35,881.06 L1274.91,880.60 L1276.47,880.13 L1278.03,879.67 L1279.59,879.20 L1281.15,878.73 L1282.71,878.26 L1284.27,877.80 L1285.83,877.33 L1287.39,876.85 L1288.95,876.38 L1290.51,875.91 L1292.07,875.44 L1293.63,874.96 L1295.19,874.48 L1296.75,874.01 L1298.32,873.53 L1299.88,873.05 L1301.44,872.57 L1303.00,872.09 L1304.56,871.61 L1306.12,871.13 L1307.68,870.64 L1309.24,870.16 L1310.80,869.67 L1312.36,869.19 L1313.92,868.70 L1315.48,868.21 L1317.04,867.72 L1318.60,867.23" fill="none" stroke="#ec1c24" stroke-width="2.3" stroke-linejoin="round" stroke-dasharray="7.2,3.2" clip-path="url(#clipC)"/>
<path d="M1070.50,812.28 L1072.06,808.51 L1073.62,804.60 L1075.18,800.55 L1076.74,796.39 L1078.30,792.14 L1079.86,787.82 L1081.42,783.45 L1082.98,779.04 L1084.54,774.61 L1086.10,770.18 L1087.66,765.78 L1089.22,761.41 L1090.78,757.10 L1092.35,752.86 L1093.91,748.72 L1095.47,744.70 L1097.03,740.80 L1098.59,737.05 L1100.15,733.48 L1101.71,730.09 L1103.27,726.90 L1104.83,723.91 L1106.39,721.11 L1107.95,718.51 L1109.51,716.09 L1111.07,713.86 L1112.63,711.81 L1114.19,709.94 L1115.75,708.24 L1117.31,706.72 L1118.87,705.36 L1120.43,704.16 L1121.99,703.13 L1123.55,702.27 L1125.11,701.57 L1126.67,701.03 L1128.23,700.66 L1129.79,700.45 L1131.35,700.40 L1132.92,700.51 L1134.48,700.78 L1136.04,701.20 L1137.60,701.77 L1139.16,702.50 L1140.72,703.37 L1142.28,704.38 L1143.84,705.54 L1145.40,706.83 L1146.96,708.26 L1148.52,709.82 L1150.08,711.51 L1151.64,713.32 L1153.20,715.25 L1154.76,717.29 L1156.32,719.43 L1157.88,721.67 L1159.44,724.00 L1161.00,726.41 L1162.56,728.90 L1164.12,731.47 L1165.68,734.10 L1167.24,736.80 L1168.80,739.55 L1170.36,742.35 L1171.92,745.20 L1173.48,748.10 L1175.05,751.03 L1176.61,753.99 L1178.17,756.98 L1179.73,759.99 L1181.29,763.02 L1182.85,766.07 L1184.41,769.13 L1185.97,772.21 L1187.53,775.29 L1189.09,778.38 L1190.65,781.48 L1192.21,784.58 L1193.77,787.69 L1195.33,790.79 L1196.89,793.89 L1198.45,796.97 L1200.01,800.04 L1201.57,803.07 L1203.13,806.05 L1204.69,808.99 L1206.25,811.88 L1207.81,814.70 L1209.37,817.44 L1210.93,820.10 L1212.49,822.67 L1214.05,825.16 L1215.62,827.56 L1217.18,829.88 L1218.74,832.11 L1220.30,834.26 L1221.86,836.33 L1223.42,838.32 L1224.98,840.23 L1226.54,842.06 L1228.10,843.80 L1229.66,845.47 L1231.22,847.05 L1232.78,848.55 L1234.34,849.96 L1235.90,851.29 L1237.46,852.52 L1239.02,853.67 L1240.58,854.73 L1242.14,855.70 L1243.70,856.57 L1245.26,857.34 L1246.82,858.01 L1248.38,858.57 L1249.94,859.03 L1251.50,859.37 L1253.06,859.60 L1254.62,859.70 L1256.18,859.68 L1257.75,859.54 L1259.31,859.26 L1260.87,858.84 L1262.43,858.29 L1263.99,857.59 L1265.55,856.75 L1267.11,855.75 L1268.67,854.60 L1270.23,853.28 L1271.79,851.81 L1273.35,850.16 L1274.91,848.35 L1276.47,846.36 L1278.03,844.19 L1279.59,841.84 L1281.15,839.31 L1282.71,836.58 L1284.27,833.66 L1285.83,830.55 L1287.39,827.23 L1288.95,823.72 L1290.51,820.00 L1292.07,816.11 L1293.63,812.05 L1295.19,807.83 L1296.75,803.47 L1298.32,798.98 L1299.88,794.36 L1301.44,789.64 L1303.00,784.82 L1304.56,779.91 L1306.12,774.94 L1307.68,769.90 L1309.24,764.82 L1310.80,759.71 L1312.36,754.57 L1313.92,749.42 L1315.48,744.27 L1317.04,739.14 L1318.60,734.03" fill="none" stroke="#3a4ba1" stroke-width="2.3" stroke-linejoin="round" clip-path="url(#clipC)"/>
<path d="M1070.50,733.30 L1072.06,732.96 L1073.62,732.62 L1075.18,732.28 L1076.74,731.94 L1078.30,731.60 L1079.86,731.27 L1081.42,730.93 L1082.98,730.60 L1084.54,730.27 L1086.10,729.93 L1087.66,729.60 L1089.22,729.27 L1090.78,728.94 L1092.35,728.62 L1093.91,728.29 L1095.47,727.96 L1097.03,727.64 L1098.59,727.31 L1100.15,726.99 L1101.71,726.67 L1103.27,726.35 L1104.83,726.03 L1106.39,725.71 L1107.95,725.39 L1109.51,725.08 L1111.07,724.76 L1112.63,724.44 L1114.19,724.13 L1115.75,723.82 L1117.31,723.51 L1118.87,723.20 L1120.43,722.89 L1121.99,722.58 L1123.55,722.27 L1125.11,721.96 L1126.67,721.66 L1128.23,721.35 L1129.79,721.05 L1131.35,720.74 L1132.92,720.44 L1134.48,720.14 L1136.04,719.84 L1137.60,719.54 L1139.16,719.25 L1140.72,718.95 L1142.28,718.65 L1143.84,718.36 L1145.40,718.06 L1146.96,717.77 L1148.52,717.48 L1150.08,717.19 L1151.64,716.90 L1153.20,716.61 L1154.76,716.32 L1156.32,716.04 L1157.88,715.75 L1159.44,715.46 L1161.00,715.18 L1162.56,714.90 L1164.12,714.62 L1165.68,714.34 L1167.24,714.06 L1168.80,713.78 L1170.36,713.50 L1171.92,713.22 L1173.48,712.95 L1175.05,712.67 L1176.61,712.40 L1178.17,712.13 L1179.73,711.85 L1181.29,711.58 L1182.85,711.31 L1184.41,711.04 L1185.97,710.78 L1187.53,710.51 L1189.09,710.24 L1190.65,709.98 L1192.21,709.72 L1193.77,709.45 L1195.33,709.19 L1196.89,708.93 L1198.45,708.67 L1200.01,708.41 L1201.57,708.15 L1203.13,707.90 L1204.69,707.64 L1206.25,707.39 L1207.81,707.13 L1209.37,706.88 L1210.93,706.63 L1212.49,706.38 L1214.05,706.13 L1215.62,705.88 L1217.18,705.63 L1218.74,705.38 L1220.30,705.14 L1221.86,704.89 L1223.42,704.65 L1224.98,704.41 L1226.54,704.16 L1228.10,703.92 L1229.66,703.68 L1231.22,703.45 L1232.78,703.21 L1234.34,702.97 L1235.90,702.74 L1237.46,702.50 L1239.02,702.27 L1240.58,702.03 L1242.14,701.80 L1243.70,701.57 L1245.26,701.34 L1246.82,701.11 L1248.38,700.89 L1249.94,700.66 L1251.50,700.43 L1253.06,700.21 L1254.62,699.98 L1256.18,699.76 L1257.75,699.54 L1259.31,699.32 L1260.87,699.10 L1262.43,698.88 L1263.99,698.66 L1265.55,698.45 L1267.11,698.23 L1268.67,698.02 L1270.23,697.80 L1271.79,697.59 L1273.35,697.38 L1274.91,697.17 L1276.47,696.96 L1278.03,696.75 L1279.59,696.54 L1281.15,696.33 L1282.71,696.13 L1284.27,695.92 L1285.83,695.72 L1287.39,695.52 L1288.95,695.31 L1290.51,695.11 L1292.07,694.91 L1293.63,694.72 L1295.19,694.52 L1296.75,694.32 L1298.32,694.13 L1299.88,693.93 L1301.44,693.74 L1303.00,693.54 L1304.56,693.35 L1306.12,693.16 L1307.68,692.97 L1309.24,692.78 L1310.80,692.60 L1312.36,692.41 L1313.92,692.22 L1315.48,692.04 L1317.04,691.85 L1318.60,691.67" fill="none" stroke="#3a4ba1" stroke-width="2.3" stroke-linejoin="round" stroke-dasharray="7.2,3.2" clip-path="url(#clipC)"/>
<rect x="822.4" y="630.6" width="496.19999999999993" height="333.0" fill="none" stroke="#8c8c8c" stroke-width="1.6"/>
<line x1="819.20" y1="963.60" x2="822.40" y2="963.60" stroke="#555" stroke-width="1.1" />
<text x="771.91" y="971.50" font-size="21.36" textLength="43.62" lengthAdjust="spacingAndGlyphs" xml:space="preserve">0.04</text>
<line x1="819.20" y1="897.00" x2="822.40" y2="897.00" stroke="#555" stroke-width="1.1" />
<text x="771.92" y="904.90" font-size="21.36" textLength="43.27" lengthAdjust="spacingAndGlyphs" xml:space="preserve">0.05</text>
<line x1="819.20" y1="830.40" x2="822.40" y2="830.40" stroke="#555" stroke-width="1.1" />
<text x="771.91" y="838.30" font-size="21.36" textLength="43.82" lengthAdjust="spacingAndGlyphs" xml:space="preserve">0.06</text>
<line x1="819.20" y1="763.80" x2="822.40" y2="763.80" stroke="#555" stroke-width="1.1" />
<text x="771.91" y="771.70" font-size="21.36" textLength="43.50" lengthAdjust="spacingAndGlyphs" xml:space="preserve">0.07</text>
<line x1="819.20" y1="697.20" x2="822.40" y2="697.20" stroke="#555" stroke-width="1.1" />
<text x="771.91" y="705.10" font-size="21.36" textLength="43.70" lengthAdjust="spacingAndGlyphs" xml:space="preserve">0.08</text>
<line x1="819.20" y1="630.60" x2="822.40" y2="630.60" stroke="#555" stroke-width="1.1" />
<text x="771.91" y="638.50" font-size="21.36" textLength="43.75" lengthAdjust="spacingAndGlyphs" xml:space="preserve">0.09</text>
<line x1="822.40" y1="963.60" x2="822.40" y2="966.80" stroke="#555" stroke-width="1.1" />
<text x="802.23" y="985.60" font-size="21.36" textLength="40.89" lengthAdjust="spacingAndGlyphs" xml:space="preserve">−40</text>
<line x1="884.42" y1="963.60" x2="884.42" y2="966.80" stroke="#555" stroke-width="1.1" />
<text x="864.25" y="985.60" font-size="21.36" textLength="40.89" lengthAdjust="spacingAndGlyphs" xml:space="preserve">−30</text>
<line x1="946.45" y1="963.60" x2="946.45" y2="966.80" stroke="#555" stroke-width="1.1" />
<text x="926.28" y="985.60" font-size="21.36" textLength="40.89" lengthAdjust="spacingAndGlyphs" xml:space="preserve">−20</text>
<line x1="1008.47" y1="963.60" x2="1008.47" y2="966.80" stroke="#555" stroke-width="1.1" />
<text x="988.30" y="985.60" font-size="21.36" textLength="40.89" lengthAdjust="spacingAndGlyphs" xml:space="preserve">−10</text>
<line x1="1070.50" y1="963.60" x2="1070.50" y2="966.80" stroke="#555" stroke-width="1.1" />
<text x="1064.63" y="985.60" font-size="21.36" textLength="11.73" lengthAdjust="spacingAndGlyphs" xml:space="preserve">0</text>
<line x1="1132.52" y1="963.60" x2="1132.52" y2="966.80" stroke="#555" stroke-width="1.1" />
<text x="1120.32" y="985.60" font-size="21.36" textLength="24.46" lengthAdjust="spacingAndGlyphs" xml:space="preserve">10</text>
<line x1="1194.55" y1="963.60" x2="1194.55" y2="966.80" stroke="#555" stroke-width="1.1" />
<text x="1182.18" y="985.60" font-size="21.36" textLength="24.64" lengthAdjust="spacingAndGlyphs" xml:space="preserve">20</text>
<line x1="1256.57" y1="963.60" x2="1256.57" y2="966.80" stroke="#555" stroke-width="1.1" />
<text x="1244.54" y="985.60" font-size="21.36" textLength="24.28" lengthAdjust="spacingAndGlyphs" xml:space="preserve">30</text>
<line x1="1318.60" y1="963.60" x2="1318.60" y2="966.80" stroke="#555" stroke-width="1.1" />
<text x="1306.35" y="985.60" font-size="21.36" textLength="24.51" lengthAdjust="spacingAndGlyphs" xml:space="preserve">40</text>
<text x="1004.81" y="1008.60" font-size="21.36" textLength="131.17" lengthAdjust="spacingAndGlyphs" xml:space="preserve">Position (km)</text>
<line x1="1318.60" y1="963.60" x2="1321.80" y2="963.60" stroke="#555" stroke-width="1.1" />
<text x="1324.89" y="971.50" font-size="21.36" textLength="12.14" lengthAdjust="spacingAndGlyphs" xml:space="preserve">6</text>
<line x1="1318.60" y1="897.00" x2="1321.80" y2="897.00" stroke="#555" stroke-width="1.1" />
<text x="1325.18" y="904.90" font-size="21.36" textLength="11.47" lengthAdjust="spacingAndGlyphs" xml:space="preserve">7</text>
<line x1="1318.60" y1="830.40" x2="1321.80" y2="830.40" stroke="#555" stroke-width="1.1" />
<text x="1325.03" y="838.30" font-size="21.36" textLength="11.85" lengthAdjust="spacingAndGlyphs" xml:space="preserve">8</text>
<line x1="1318.60" y1="763.80" x2="1321.80" y2="763.80" stroke="#555" stroke-width="1.1" />
<text x="1324.84" y="771.70" font-size="21.36" textLength="12.11" lengthAdjust="spacingAndGlyphs" xml:space="preserve">9</text>
<line x1="1318.60" y1="697.20" x2="1321.80" y2="697.20" stroke="#555" stroke-width="1.1" />
<text x="1325.12" y="705.10" font-size="21.36" textLength="24.46" lengthAdjust="spacingAndGlyphs" xml:space="preserve">10</text>
<line x1="1318.60" y1="630.60" x2="1321.80" y2="630.60" stroke="#555" stroke-width="1.1" />
<text x="1325.15" y="638.50" font-size="21.36" textLength="24.12" lengthAdjust="spacingAndGlyphs" xml:space="preserve">11</text>
<text x="727.86" y="797.10" font-size="21.36" textLength="68.93" lengthAdjust="spacingAndGlyphs" xml:space="preserve" transform="rotate(-90 762.00 797.10)">Solid: f</text>
<g transform="rotate(-90 1376.10 797.10)"><text x="1281.67" y="797.10" font-size="21.36" textLength="167.09" lengthAdjust="spacingAndGlyphs" xml:space="preserve">Dashed: C (kg m</text><text x="1448.76" y="788.60" font-size="14.95" textLength="13.96" lengthAdjust="spacingAndGlyphs" xml:space="preserve">-2</text><text x="1462.72" y="797.10" font-size="21.36" textLength="7.80" lengthAdjust="spacingAndGlyphs" xml:space="preserve">)</text><path d="M1374.90,779.70 L1377.80,776.90 L1380.70,779.70" fill="none" stroke="#000" stroke-width="1.3"/></g>
<text x="747.0" y="617.6" font-size="29.6" font-weight="bold">C</text>
<line x1="100.20" y1="1151.30" x2="100.20" y2="1484.70" stroke="#d4d4d4" stroke-width="1.3" />
<line x1="162.22" y1="1151.30" x2="162.22" y2="1484.70" stroke="#d4d4d4" stroke-width="1.3" />
<line x1="224.25" y1="1151.30" x2="224.25" y2="1484.70" stroke="#d4d4d4" stroke-width="1.3" />
<line x1="286.27" y1="1151.30" x2="286.27" y2="1484.70" stroke="#d4d4d4" stroke-width="1.3" />
<line x1="348.30" y1="1151.30" x2="348.30" y2="1484.70" stroke="#d4d4d4" stroke-width="1.3" />
<line x1="410.32" y1="1151.30" x2="410.32" y2="1484.70" stroke="#d4d4d4" stroke-width="1.3" />
<line x1="472.35" y1="1151.30" x2="472.35" y2="1484.70" stroke="#d4d4d4" stroke-width="1.3" />
<line x1="534.38" y1="1151.30" x2="534.38" y2="1484.70" stroke="#d4d4d4" stroke-width="1.3" />
<line x1="596.40" y1="1151.30" x2="596.40" y2="1484.70" stroke="#d4d4d4" stroke-width="1.3" />
<line x1="100.20" y1="1484.70" x2="596.40" y2="1484.70" stroke="#d4d4d4" stroke-width="1.3" />
<line x1="100.20" y1="1443.03" x2="596.40" y2="1443.03" stroke="#d4d4d4" stroke-width="1.3" />
<line x1="100.20" y1="1401.35" x2="596.40" y2="1401.35" stroke="#d4d4d4" stroke-width="1.3" />
<line x1="100.20" y1="1359.67" x2="596.40" y2="1359.67" stroke="#d4d4d4" stroke-width="1.3" />
<line x1="100.20" y1="1318.00" x2="596.40" y2="1318.00" stroke="#d4d4d4" stroke-width="1.3" />
<line x1="100.20" y1="1276.33" x2="596.40" y2="1276.33" stroke="#d4d4d4" stroke-width="1.3" />
<line x1="100.20" y1="1234.65" x2="596.40" y2="1234.65" stroke="#d4d4d4" stroke-width="1.3" />
<line x1="100.20" y1="1192.97" x2="596.40" y2="1192.97" stroke="#d4d4d4" stroke-width="1.3" />
<line x1="100.20" y1="1151.30" x2="596.40" y2="1151.30" stroke="#d4d4d4" stroke-width="1.3" />
<path d="M100.20,1234.65 L348.30,1234.65" fill="none" stroke="#f7901e" stroke-width="2.3" stroke-linejoin="round" clip-path="url(#clipD)"/>
<path d="M100.20,1237.82 L101.76,1237.79 L103.32,1237.77 L104.88,1237.75 L106.44,1237.72 L108.00,1237.70 L109.56,1237.67 L111.12,1237.65 L112.68,1237.62 L114.24,1237.59 L115.80,1237.57 L117.36,1237.54 L118.92,1237.51 L120.48,1237.48 L122.05,1237.45 L123.61,1237.42 L125.17,1237.38 L126.73,1237.35 L128.29,1237.32 L129.85,1237.28 L131.41,1237.24 L132.97,1237.21 L134.53,1237.17 L136.09,1237.13 L137.65,1237.09 L139.21,1237.04 L140.77,1237.00 L142.33,1236.96 L143.89,1236.91 L145.45,1236.86 L147.01,1236.82 L148.57,1236.77 L150.13,1236.72 L151.69,1236.66 L153.25,1236.61 L154.81,1236.56 L156.37,1236.50 L157.93,1236.44 L159.49,1236.38 L161.05,1236.32 L162.62,1236.26 L164.18,1236.20 L165.74,1236.13 L167.30,1236.06 L168.86,1236.00 L170.42,1235.93 L171.98,1235.85 L173.54,1235.78 L175.10,1235.70 L176.66,1235.63 L178.22,1235.55 L179.78,1235.47 L181.34,1235.38 L182.90,1235.30 L184.46,1235.21 L186.02,1235.13 L187.58,1235.03 L189.14,1234.94 L190.70,1234.85 L192.26,1234.75 L193.82,1234.65 L195.38,1234.55 L196.94,1234.45 L198.50,1234.34 L200.06,1234.23 L201.62,1234.12 L203.18,1234.01 L204.75,1233.89 L206.31,1233.76 L207.87,1233.64 L209.43,1233.50 L210.99,1233.37 L212.55,1233.22 L214.11,1233.08 L215.67,1232.92 L217.23,1232.76 L218.79,1232.60 L220.35,1232.42 L221.91,1232.24 L223.47,1232.06 L225.03,1231.87 L226.59,1231.66 L228.15,1231.46 L229.71,1231.24 L231.27,1231.01 L232.83,1230.78 L234.39,1230.54 L235.95,1230.29 L237.51,1230.02 L239.07,1229.75 L240.63,1229.47 L242.19,1229.18 L243.75,1228.88 L245.32,1228.57 L246.88,1228.24 L248.44,1227.91 L250.00,1227.56 L251.56,1227.20 L253.12,1226.83 L254.68,1226.45 L256.24,1226.06 L257.80,1225.65 L259.36,1225.23 L260.92,1224.79 L262.48,1224.35 L264.04,1223.89 L265.60,1223.42 L267.16,1222.94 L268.72,1222.44 L270.28,1221.93 L271.84,1221.42 L273.40,1220.89 L274.96,1220.34 L276.52,1219.79 L278.08,1219.22 L279.64,1218.64 L281.20,1218.05 L282.76,1217.45 L284.32,1216.84 L285.88,1216.22 L287.45,1215.58 L289.01,1214.94 L290.57,1214.28 L292.13,1213.61 L293.69,1212.93 L295.25,1212.24 L296.81,1211.54 L298.37,1210.83 L299.93,1210.11 L301.49,1209.38 L303.05,1208.63 L304.61,1207.88 L306.17,1207.12 L307.73,1206.34 L309.29,1205.56 L310.85,1204.77 L312.41,1203.96 L313.97,1203.15 L315.53,1202.32 L317.09,1201.49 L318.65,1200.65 L320.21,1199.79 L321.77,1198.93 L323.33,1198.05 L324.89,1197.16 L326.45,1196.26 L328.02,1195.34 L329.58,1194.41 L331.14,1193.46 L332.70,1192.50 L334.26,1191.51 L335.82,1190.51 L337.38,1189.49 L338.94,1188.45 L340.50,1187.39 L342.06,1186.31 L343.62,1185.20 L345.18,1184.08 L346.74,1182.93 L348.30,1181.75" fill="none" stroke="#f7901e" stroke-width="2.3" stroke-linejoin="round" stroke-dasharray="7.2,3.2" clip-path="url(#clipD)"/>
<path d="M348.30,1246.03 L596.40,1246.03" fill="none" stroke="#ec1c24" stroke-width="2.3" stroke-linejoin="round" clip-path="url(#clipD)"/>
<path d="M348.30,1242.38 L349.86,1242.23 L351.42,1242.10 L352.98,1241.97 L354.54,1241.87 L356.10,1241.77 L357.66,1241.69 L359.22,1241.61 L360.78,1241.55 L362.34,1241.51 L363.90,1241.47 L365.46,1241.44 L367.02,1241.43 L368.58,1241.42 L370.15,1241.43 L371.71,1241.45 L373.27,1241.47 L374.83,1241.51 L376.39,1241.55 L377.95,1241.61 L379.51,1241.67 L381.07,1241.75 L382.63,1241.83 L384.19,1241.92 L385.75,1242.02 L387.31,1242.12 L388.87,1242.24 L390.43,1242.36 L391.99,1242.49 L393.55,1242.62 L395.11,1242.76 L396.67,1242.91 L398.23,1243.07 L399.79,1243.23 L401.35,1243.40 L402.91,1243.57 L404.47,1243.75 L406.03,1243.93 L407.59,1244.12 L409.15,1244.32 L410.72,1244.51 L412.28,1244.72 L413.84,1244.92 L415.40,1245.13 L416.96,1245.35 L418.52,1245.57 L420.08,1245.79 L421.64,1246.01 L423.20,1246.24 L424.76,1246.47 L426.32,1246.70 L427.88,1246.93 L429.44,1247.17 L431.00,1247.40 L432.56,1247.64 L434.12,1247.88 L435.68,1248.12 L437.24,1248.36 L438.80,1248.60 L440.36,1248.84 L441.92,1249.09 L443.48,1249.33 L445.04,1249.57 L446.60,1249.81 L448.16,1250.05 L449.72,1250.29 L451.28,1250.52 L452.85,1250.76 L454.41,1250.99 L455.97,1251.23 L457.53,1251.46 L459.09,1251.68 L460.65,1251.91 L462.21,1252.13 L463.77,1252.35 L465.33,1252.56 L466.89,1252.77 L468.45,1252.98 L470.01,1253.18 L471.57,1253.38 L473.13,1253.58 L474.69,1253.77 L476.25,1253.95 L477.81,1254.13 L479.37,1254.31 L480.93,1254.47 L482.49,1254.64 L484.05,1254.79 L485.61,1254.94 L487.17,1255.09 L488.73,1255.22 L490.29,1255.35 L491.85,1255.48 L493.42,1255.59 L494.98,1255.70 L496.54,1255.80 L498.10,1255.89 L499.66,1255.97 L501.22,1256.05 L502.78,1256.12 L504.34,1256.17 L505.90,1256.22 L507.46,1256.26 L509.02,1256.29 L510.58,1256.30 L512.14,1256.31 L513.70,1256.30 L515.26,1256.28 L516.82,1256.24 L518.38,1256.18 L519.94,1256.10 L521.50,1255.99 L523.06,1255.85 L524.62,1255.69 L526.18,1255.50 L527.74,1255.27 L529.30,1255.01 L530.86,1254.70 L532.42,1254.36 L533.98,1253.98 L535.55,1253.55 L537.11,1253.08 L538.67,1252.56 L540.23,1251.99 L541.79,1251.36 L543.35,1250.68 L544.91,1249.94 L546.47,1249.14 L548.03,1248.28 L549.59,1247.36 L551.15,1246.37 L552.71,1245.31 L554.27,1244.19 L555.83,1242.99 L557.39,1241.71 L558.95,1240.36 L560.51,1238.93 L562.07,1237.41 L563.63,1235.79 L565.19,1234.06 L566.75,1232.22 L568.31,1230.25 L569.87,1228.15 L571.43,1225.90 L572.99,1223.49 L574.55,1220.91 L576.12,1218.16 L577.68,1215.22 L579.24,1212.09 L580.80,1208.78 L582.36,1205.29 L583.92,1201.63 L585.48,1197.82 L587.04,1193.87 L588.60,1189.78 L590.16,1185.57 L591.72,1181.25 L593.28,1176.84 L594.84,1172.33 L596.40,1167.74" fill="none" stroke="#ec1c24" stroke-width="2.3" stroke-linejoin="round" stroke-dasharray="7.2,3.2" clip-path="url(#clipD)"/>
<path d="M348.30,1431.56 L596.40,1431.56" fill="none" stroke="#3a4ba1" stroke-width="2.3" stroke-linejoin="round" clip-path="url(#clipD)"/>
<path d="M348.30,1385.48 L349.86,1386.04 L351.42,1386.64 L352.98,1387.28 L354.54,1387.96 L356.10,1388.69 L357.66,1389.45 L359.22,1390.25 L360.78,1391.09 L362.34,1391.96 L363.90,1392.87 L365.46,1393.82 L367.02,1394.81 L368.58,1395.83 L370.15,1396.89 L371.71,1397.98 L373.27,1399.10 L374.83,1400.26 L376.39,1401.46 L377.95,1402.68 L379.51,1403.94 L381.07,1405.23 L382.63,1406.55 L384.19,1407.89 L385.75,1409.27 L387.31,1410.66 L388.87,1412.08 L390.43,1413.52 L391.99,1414.98 L393.55,1416.46 L395.11,1417.95 L396.67,1419.45 L398.23,1420.97 L399.79,1422.50 L401.35,1424.03 L402.91,1425.57 L404.47,1427.12 L406.03,1428.66 L407.59,1430.21 L409.15,1431.76 L410.72,1433.30 L412.28,1434.84 L413.84,1436.37 L415.40,1437.88 L416.96,1439.39 L418.52,1440.87 L420.08,1442.34 L421.64,1443.77 L423.20,1445.19 L424.76,1446.57 L426.32,1447.91 L427.88,1449.22 L429.44,1450.49 L431.00,1451.71 L432.56,1452.89 L434.12,1454.02 L435.68,1455.09 L437.24,1456.11 L438.80,1457.07 L440.36,1457.96 L441.92,1458.79 L443.48,1459.55 L445.04,1460.24 L446.60,1460.87 L448.16,1461.43 L449.72,1461.93 L451.28,1462.38 L452.85,1462.76 L454.41,1463.08 L455.97,1463.34 L457.53,1463.55 L459.09,1463.71 L460.65,1463.81 L462.21,1463.86 L463.77,1463.86 L465.33,1463.81 L466.89,1463.72 L468.45,1463.57 L470.01,1463.39 L471.57,1463.15 L473.13,1462.88 L474.69,1462.56 L476.25,1462.21 L477.81,1461.81 L479.37,1461.38 L480.93,1460.91 L482.49,1460.39 L484.05,1459.85 L485.61,1459.26 L487.17,1458.64 L488.73,1457.99 L490.29,1457.30 L491.85,1456.58 L493.42,1455.82 L494.98,1455.03 L496.54,1454.21 L498.10,1453.37 L499.66,1452.49 L501.22,1451.58 L502.78,1450.64 L504.34,1449.67 L505.90,1448.68 L507.46,1447.66 L509.02,1446.62 L510.58,1445.55 L512.14,1444.46 L513.70,1443.34 L515.26,1442.20 L516.82,1441.04 L518.38,1439.85 L519.94,1438.65 L521.50,1437.42 L523.06,1436.18 L524.62,1434.92 L526.18,1433.64 L527.74,1432.34 L529.30,1431.02 L530.86,1429.69 L532.42,1428.35 L533.98,1426.99 L535.55,1425.61 L537.11,1424.23 L538.67,1422.82 L540.23,1421.40 L541.79,1419.97 L543.35,1418.51 L544.91,1417.04 L546.47,1415.55 L548.03,1414.03 L549.59,1412.50 L551.15,1410.94 L552.71,1409.36 L554.27,1407.76 L555.83,1406.13 L557.39,1404.47 L558.95,1402.79 L560.51,1401.08 L562.07,1399.34 L563.63,1397.57 L565.19,1395.77 L566.75,1393.94 L568.31,1392.07 L569.87,1390.18 L571.43,1388.24 L572.99,1386.28 L574.55,1384.27 L576.12,1382.23 L577.68,1380.16 L579.24,1378.04 L580.80,1375.88 L582.36,1373.68 L583.92,1371.45 L585.48,1369.16 L587.04,1366.84 L588.60,1364.47 L590.16,1362.06 L591.72,1359.60 L593.28,1357.09 L594.84,1354.53 L596.40,1351.93" fill="none" stroke="#3a4ba1" stroke-width="2.3" stroke-linejoin="round" stroke-dasharray="7.2,3.2" clip-path="url(#clipD)"/>
<path d="M417.30,1235.50 L434.70,1252.90 M417.30,1252.90 L434.70,1235.50" stroke="#000" stroke-width="2.3" fill="none"/>
<path d="M400.00,1422.40 L417.40,1439.80 M400.00,1439.80 L417.40,1422.40" stroke="#000" stroke-width="2.3" fill="none"/>
<rect x="100.2" y="1151.3" width="496.2" height="333.4000000000001" fill="none" stroke="#8c8c8c" stroke-width="1.6"/>
<line x1="97.00" y1="1484.70" x2="100.20" y2="1484.70" stroke="#555" stroke-width="1.1" />
<text x="52.52" y="1492.60" font-size="21.36" textLength="40.89" lengthAdjust="spacingAndGlyphs" xml:space="preserve">−10</text>
<line x1="97.00" y1="1443.03" x2="100.20" y2="1443.03" stroke="#555" stroke-width="1.1" />
<text x="81.57" y="1450.93" font-size="21.36" textLength="11.73" lengthAdjust="spacingAndGlyphs" xml:space="preserve">0</text>
<line x1="97.00" y1="1401.35" x2="100.20" y2="1401.35" stroke="#555" stroke-width="1.1" />
<text x="68.87" y="1409.25" font-size="21.36" textLength="24.46" lengthAdjust="spacingAndGlyphs" xml:space="preserve">10</text>
<line x1="97.00" y1="1359.67" x2="100.20" y2="1359.67" stroke="#555" stroke-width="1.1" />
<text x="68.70" y="1367.58" font-size="21.36" textLength="24.64" lengthAdjust="spacingAndGlyphs" xml:space="preserve">20</text>
<line x1="97.00" y1="1318.00" x2="100.20" y2="1318.00" stroke="#555" stroke-width="1.1" />
<text x="69.04" y="1325.90" font-size="21.36" textLength="24.28" lengthAdjust="spacingAndGlyphs" xml:space="preserve">30</text>
<line x1="97.00" y1="1276.33" x2="100.20" y2="1276.33" stroke="#555" stroke-width="1.1" />
<text x="68.82" y="1284.23" font-size="21.36" textLength="24.51" lengthAdjust="spacingAndGlyphs" xml:space="preserve">40</text>
<line x1="97.00" y1="1234.65" x2="100.20" y2="1234.65" stroke="#555" stroke-width="1.1" />
<text x="69.02" y="1242.55" font-size="21.36" textLength="24.31" lengthAdjust="spacingAndGlyphs" xml:space="preserve">50</text>
<line x1="97.00" y1="1192.97" x2="100.20" y2="1192.97" stroke="#555" stroke-width="1.1" />
<text x="68.62" y="1200.88" font-size="21.36" textLength="24.72" lengthAdjust="spacingAndGlyphs" xml:space="preserve">60</text>
<line x1="97.00" y1="1151.30" x2="100.20" y2="1151.30" stroke="#555" stroke-width="1.1" />
<text x="68.86" y="1159.20" font-size="21.36" textLength="24.47" lengthAdjust="spacingAndGlyphs" xml:space="preserve">70</text>
<line x1="100.20" y1="1484.70" x2="100.20" y2="1487.90" stroke="#555" stroke-width="1.1" />
<text x="80.03" y="1506.70" font-size="21.36" textLength="40.89" lengthAdjust="spacingAndGlyphs" xml:space="preserve">−40</text>
<line x1="162.22" y1="1484.70" x2="162.22" y2="1487.90" stroke="#555" stroke-width="1.1" />
<text x="142.05" y="1506.70" font-size="21.36" textLength="40.89" lengthAdjust="spacingAndGlyphs" xml:space="preserve">−30</text>
<line x1="224.25" y1="1484.70" x2="224.25" y2="1487.90" stroke="#555" stroke-width="1.1" />
<text x="204.08" y="1506.70" font-size="21.36" textLength="40.89" lengthAdjust="spacingAndGlyphs" xml:space="preserve">−20</text>
<line x1="286.27" y1="1484.70" x2="286.27" y2="1487.90" stroke="#555" stroke-width="1.1" />
<text x="266.10" y="1506.70" font-size="21.36" textLength="40.89" lengthAdjust="spacingAndGlyphs" xml:space="preserve">−10</text>
<line x1="348.30" y1="1484.70" x2="348.30" y2="1487.90" stroke="#555" stroke-width="1.1" />
<text x="342.43" y="1506.70" font-size="21.36" textLength="11.73" lengthAdjust="spacingAndGlyphs" xml:space="preserve">0</text>
<line x1="410.32" y1="1484.70" x2="410.32" y2="1487.90" stroke="#555" stroke-width="1.1" />
<text x="398.12" y="1506.70" font-size="21.36" textLength="24.46" lengthAdjust="spacingAndGlyphs" xml:space="preserve">10</text>
<line x1="472.35" y1="1484.70" x2="472.35" y2="1487.90" stroke="#555" stroke-width="1.1" />
<text x="459.98" y="1506.70" font-size="21.36" textLength="24.64" lengthAdjust="spacingAndGlyphs" xml:space="preserve">20</text>
<line x1="534.38" y1="1484.70" x2="534.38" y2="1487.90" stroke="#555" stroke-width="1.1" />
<text x="522.34" y="1506.70" font-size="21.36" textLength="24.28" lengthAdjust="spacingAndGlyphs" xml:space="preserve">30</text>
<line x1="596.40" y1="1484.70" x2="596.40" y2="1487.90" stroke="#555" stroke-width="1.1" />
<text x="584.15" y="1506.70" font-size="21.36" textLength="24.51" lengthAdjust="spacingAndGlyphs" xml:space="preserve">40</text>
<text x="282.61" y="1529.70" font-size="21.36" textLength="131.17" lengthAdjust="spacingAndGlyphs" xml:space="preserve">Position (km)</text>
<text x="113.07" y="1380.90" font-size="19.01" textLength="235.86" lengthAdjust="spacingAndGlyphs" xml:space="preserve">X: sediment trapping zone</text>
<text x="113.41" y="1401.40" font-size="19.01" textLength="46.69" lengthAdjust="spacingAndGlyphs" xml:space="preserve">solid:</text>
<path d="M168.6,1392.6 C170.6,1389.2 175.5,1390.8 180.3,1389.0 M174.2,1390.4 C173.4,1395.2 171.8,1400.6 168.0,1401.7 C167.0,1401.9 166.3,1401.3 166.2,1400.5 M170.0,1395.7 L178.0,1395.2" fill="none" stroke="#000" stroke-width="1.5" stroke-linecap="round"/>
<text x="113.16" y="1422.00" font-size="19.01" textLength="106.17" lengthAdjust="spacingAndGlyphs" xml:space="preserve">dashed: BTf</text>
<g transform="rotate(-90 42.20 1318.00)"><text x="-93.45" y="1318.00" font-size="21.36" textLength="249.54" lengthAdjust="spacingAndGlyphs" xml:space="preserve">Sediment transport (kg s</text><text x="156.09" y="1309.50" font-size="14.95" textLength="13.96" lengthAdjust="spacingAndGlyphs" xml:space="preserve">-1</text><text x="170.05" y="1318.00" font-size="21.36" textLength="7.80" lengthAdjust="spacingAndGlyphs" xml:space="preserve">)</text></g>
<text x="27.9" y="1130.5" font-size="29.6" font-weight="bold">D</text>
<line x1="822.40" y1="1151.30" x2="822.40" y2="1483.50" stroke="#d4d4d4" stroke-width="1.3" />
<line x1="884.42" y1="1151.30" x2="884.42" y2="1483.50" stroke="#d4d4d4" stroke-width="1.3" />
<line x1="946.45" y1="1151.30" x2="946.45" y2="1483.50" stroke="#d4d4d4" stroke-width="1.3" />
<line x1="1008.47" y1="1151.30" x2="1008.47" y2="1483.50" stroke="#d4d4d4" stroke-width="1.3" />
<line x1="1070.50" y1="1151.30" x2="1070.50" y2="1483.50" stroke="#d4d4d4" stroke-width="1.3" />
<line x1="1132.52" y1="1151.30" x2="1132.52" y2="1483.50" stroke="#d4d4d4" stroke-width="1.3" />
<line x1="1194.55" y1="1151.30" x2="1194.55" y2="1483.50" stroke="#d4d4d4" stroke-width="1.3" />
<line x1="1256.57" y1="1151.30" x2="1256.57" y2="1483.50" stroke="#d4d4d4" stroke-width="1.3" />
<line x1="1318.60" y1="1151.30" x2="1318.60" y2="1483.50" stroke="#d4d4d4" stroke-width="1.3" />
<line x1="822.40" y1="1476.39" x2="1318.60" y2="1476.39" stroke="#d4d4d4" stroke-width="1.3" />
<line x1="822.40" y1="1433.53" x2="1318.60" y2="1433.53" stroke="#d4d4d4" stroke-width="1.3" />
<line x1="822.40" y1="1390.68" x2="1318.60" y2="1390.68" stroke="#d4d4d4" stroke-width="1.3" />
<line x1="822.40" y1="1347.83" x2="1318.60" y2="1347.83" stroke="#d4d4d4" stroke-width="1.3" />
<line x1="822.40" y1="1304.97" x2="1318.60" y2="1304.97" stroke="#d4d4d4" stroke-width="1.3" />
<line x1="822.40" y1="1262.12" x2="1318.60" y2="1262.12" stroke="#d4d4d4" stroke-width="1.3" />
<line x1="822.40" y1="1219.27" x2="1318.60" y2="1219.27" stroke="#d4d4d4" stroke-width="1.3" />
<line x1="822.40" y1="1176.41" x2="1318.60" y2="1176.41" stroke="#d4d4d4" stroke-width="1.3" />
<path d="M822.40,1212.87 L823.96,1212.75 L825.52,1212.64 L827.08,1212.53 L828.64,1212.42 L830.20,1212.31 L831.76,1212.20 L833.32,1212.10 L834.88,1211.99 L836.44,1211.89 L838.00,1211.79 L839.56,1211.69 L841.12,1211.60 L842.68,1211.50 L844.25,1211.41 L845.81,1211.32 L847.37,1211.23 L848.93,1211.14 L850.49,1211.05 L852.05,1210.97 L853.61,1210.89 L855.17,1210.80 L856.73,1210.73 L858.29,1210.65 L859.85,1210.57 L861.41,1210.50 L862.97,1210.42 L864.53,1210.35 L866.09,1210.28 L867.65,1210.22 L869.21,1210.15 L870.77,1210.08 L872.33,1210.02 L873.89,1209.96 L875.45,1209.90 L877.01,1209.84 L878.57,1209.78 L880.13,1209.73 L881.69,1209.67 L883.25,1209.62 L884.82,1209.57 L886.38,1209.52 L887.94,1209.47 L889.50,1209.43 L891.06,1209.38 L892.62,1209.34 L894.18,1209.30 L895.74,1209.25 L897.30,1209.22 L898.86,1209.18 L900.42,1209.14 L901.98,1209.11 L903.54,1209.07 L905.10,1209.04 L906.66,1209.01 L908.22,1208.98 L909.78,1208.95 L911.34,1208.92 L912.90,1208.90 L914.46,1208.87 L916.02,1208.85 L917.58,1208.83 L919.14,1208.81 L920.70,1208.79 L922.26,1208.77 L923.82,1208.76 L925.38,1208.74 L926.95,1208.73 L928.51,1208.71 L930.07,1208.70 L931.63,1208.69 L933.19,1208.68 L934.75,1208.67 L936.31,1208.67 L937.87,1208.66 L939.43,1208.66 L940.99,1208.66 L942.55,1208.65 L944.11,1208.65 L945.67,1208.65 L947.23,1208.65 L948.79,1208.66 L950.35,1208.66 L951.91,1208.67 L953.47,1208.67 L955.03,1208.68 L956.59,1208.69 L958.15,1208.70 L959.71,1208.72 L961.27,1208.74 L962.83,1208.76 L964.39,1208.78 L965.95,1208.80 L967.52,1208.83 L969.08,1208.86 L970.64,1208.89 L972.20,1208.93 L973.76,1208.97 L975.32,1209.02 L976.88,1209.06 L978.44,1209.12 L980.00,1209.17 L981.56,1209.23 L983.12,1209.30 L984.68,1209.36 L986.24,1209.44 L987.80,1209.52 L989.36,1209.60 L990.92,1209.69 L992.48,1209.78 L994.04,1209.88 L995.60,1209.99 L997.16,1210.10 L998.72,1210.21 L1000.28,1210.34 L1001.84,1210.47 L1003.40,1210.60 L1004.96,1210.75 L1006.52,1210.90 L1008.08,1211.06 L1009.65,1211.22 L1011.21,1211.39 L1012.77,1211.57 L1014.33,1211.76 L1015.89,1211.95 L1017.45,1212.15 L1019.01,1212.36 L1020.57,1212.57 L1022.13,1212.79 L1023.69,1213.01 L1025.25,1213.25 L1026.81,1213.48 L1028.37,1213.73 L1029.93,1213.97 L1031.49,1214.23 L1033.05,1214.48 L1034.61,1214.75 L1036.17,1215.02 L1037.73,1215.29 L1039.29,1215.57 L1040.85,1215.85 L1042.41,1216.14 L1043.97,1216.43 L1045.53,1216.72 L1047.09,1217.02 L1048.65,1217.32 L1050.22,1217.63 L1051.78,1217.94 L1053.34,1218.25 L1054.90,1218.56 L1056.46,1218.88 L1058.02,1219.20 L1059.58,1219.53 L1061.14,1219.85 L1062.70,1220.18 L1064.26,1220.51 L1065.82,1220.84 L1067.38,1221.18 L1068.94,1221.51 L1070.50,1221.85" fill="none" stroke="#000000" stroke-width="2.3" stroke-linejoin="round" clip-path="url(#clipE)"/>
<path d="M822.40,1233.58 L823.96,1233.53 L825.52,1233.49 L827.08,1233.44 L828.64,1233.40 L830.20,1233.35 L831.76,1233.30 L833.32,1233.26 L834.88,1233.21 L836.44,1233.17 L838.00,1233.12 L839.56,1233.07 L841.12,1233.03 L842.68,1232.98 L844.25,1232.94 L845.81,1232.89 L847.37,1232.85 L848.93,1232.80 L850.49,1232.75 L852.05,1232.71 L853.61,1232.66 L855.17,1232.62 L856.73,1232.57 L858.29,1232.52 L859.85,1232.48 L861.41,1232.43 L862.97,1232.39 L864.53,1232.34 L866.09,1232.30 L867.65,1232.25 L869.21,1232.20 L870.77,1232.16 L872.33,1232.11 L873.89,1232.07 L875.45,1232.02 L877.01,1231.98 L878.57,1231.93 L880.13,1231.88 L881.69,1231.84 L883.25,1231.79 L884.82,1231.75 L886.38,1231.70 L887.94,1231.65 L889.50,1231.61 L891.06,1231.56 L892.62,1231.52 L894.18,1231.47 L895.74,1231.43 L897.30,1231.38 L898.86,1231.33 L900.42,1231.29 L901.98,1231.24 L903.54,1231.20 L905.10,1231.15 L906.66,1231.10 L908.22,1231.06 L909.78,1231.01 L911.34,1230.97 L912.90,1230.92 L914.46,1230.88 L916.02,1230.83 L917.58,1230.78 L919.14,1230.74 L920.70,1230.69 L922.26,1230.65 L923.82,1230.60 L925.38,1230.55 L926.95,1230.51 L928.51,1230.46 L930.07,1230.42 L931.63,1230.37 L933.19,1230.33 L934.75,1230.28 L936.31,1230.23 L937.87,1230.19 L939.43,1230.14 L940.99,1230.10 L942.55,1230.05 L944.11,1230.00 L945.67,1229.96 L947.23,1229.91 L948.79,1229.87 L950.35,1229.82 L951.91,1229.78 L953.47,1229.73 L955.03,1229.68 L956.59,1229.64 L958.15,1229.59 L959.71,1229.55 L961.27,1229.50 L962.83,1229.46 L964.39,1229.41 L965.95,1229.36 L967.52,1229.32 L969.08,1229.27 L970.64,1229.23 L972.20,1229.18 L973.76,1229.13 L975.32,1229.09 L976.88,1229.04 L978.44,1229.00 L980.00,1228.95 L981.56,1228.91 L983.12,1228.86 L984.68,1228.81 L986.24,1228.77 L987.80,1228.72 L989.36,1228.68 L990.92,1228.63 L992.48,1228.58 L994.04,1228.54 L995.60,1228.49 L997.16,1228.45 L998.72,1228.40 L1000.28,1228.36 L1001.84,1228.31 L1003.40,1228.26 L1004.96,1228.22 L1006.52,1228.17 L1008.08,1228.13 L1009.65,1228.08 L1011.21,1228.03 L1012.77,1227.99 L1014.33,1227.94 L1015.89,1227.90 L1017.45,1227.85 L1019.01,1227.81 L1020.57,1227.76 L1022.13,1227.71 L1023.69,1227.67 L1025.25,1227.62 L1026.81,1227.58 L1028.37,1227.53 L1029.93,1227.48 L1031.49,1227.44 L1033.05,1227.39 L1034.61,1227.35 L1036.17,1227.30 L1037.73,1227.26 L1039.29,1227.21 L1040.85,1227.16 L1042.41,1227.12 L1043.97,1227.07 L1045.53,1227.03 L1047.09,1226.98 L1048.65,1226.94 L1050.22,1226.89 L1051.78,1226.84 L1053.34,1226.80 L1054.90,1226.75 L1056.46,1226.71 L1058.02,1226.66 L1059.58,1226.61 L1061.14,1226.57 L1062.70,1226.52 L1064.26,1226.48 L1065.82,1226.43 L1067.38,1226.39 L1068.94,1226.34 L1070.50,1226.29" fill="none" stroke="#17b5b9" stroke-width="2.3" stroke-linejoin="round" clip-path="url(#clipE)"/>
<path d="M822.40,1305.20 L823.96,1305.22 L825.52,1305.24 L827.08,1305.26 L828.64,1305.27 L830.20,1305.29 L831.76,1305.31 L833.32,1305.33 L834.88,1305.35 L836.44,1305.36 L838.00,1305.38 L839.56,1305.40 L841.12,1305.42 L842.68,1305.44 L844.25,1305.45 L845.81,1305.47 L847.37,1305.49 L848.93,1305.51 L850.49,1305.52 L852.05,1305.54 L853.61,1305.56 L855.17,1305.58 L856.73,1305.60 L858.29,1305.62 L859.85,1305.64 L861.41,1305.66 L862.97,1305.68 L864.53,1305.70 L866.09,1305.73 L867.65,1305.75 L869.21,1305.77 L870.77,1305.80 L872.33,1305.82 L873.89,1305.85 L875.45,1305.87 L877.01,1305.90 L878.57,1305.93 L880.13,1305.96 L881.69,1305.99 L883.25,1306.02 L884.82,1306.05 L886.38,1306.08 L887.94,1306.12 L889.50,1306.15 L891.06,1306.19 L892.62,1306.23 L894.18,1306.27 L895.74,1306.31 L897.30,1306.35 L898.86,1306.39 L900.42,1306.44 L901.98,1306.48 L903.54,1306.53 L905.10,1306.58 L906.66,1306.63 L908.22,1306.68 L909.78,1306.74 L911.34,1306.79 L912.90,1306.85 L914.46,1306.91 L916.02,1306.97 L917.58,1307.03 L919.14,1307.10 L920.70,1307.16 L922.26,1307.23 L923.82,1307.30 L925.38,1307.37 L926.95,1307.45 L928.51,1307.52 L930.07,1307.60 L931.63,1307.68 L933.19,1307.77 L934.75,1307.85 L936.31,1307.94 L937.87,1308.03 L939.43,1308.12 L940.99,1308.22 L942.55,1308.31 L944.11,1308.41 L945.67,1308.52 L947.23,1308.62 L948.79,1308.73 L950.35,1308.84 L951.91,1308.95 L953.47,1309.06 L955.03,1309.18 L956.59,1309.30 L958.15,1309.43 L959.71,1309.55 L961.27,1309.68 L962.83,1309.81 L964.39,1309.95 L965.95,1310.09 L967.52,1310.23 L969.08,1310.37 L970.64,1310.52 L972.20,1310.67 L973.76,1310.83 L975.32,1310.98 L976.88,1311.14 L978.44,1311.31 L980.00,1311.47 L981.56,1311.64 L983.12,1311.82 L984.68,1312.00 L986.24,1312.18 L987.80,1312.36 L989.36,1312.55 L990.92,1312.74 L992.48,1312.94 L994.04,1313.13 L995.60,1313.34 L997.16,1313.54 L998.72,1313.75 L1000.28,1313.97 L1001.84,1314.18 L1003.40,1314.41 L1004.96,1314.63 L1006.52,1314.86 L1008.08,1315.10 L1009.65,1315.33 L1011.21,1315.58 L1012.77,1315.82 L1014.33,1316.07 L1015.89,1316.33 L1017.45,1316.59 L1019.01,1316.86 L1020.57,1317.13 L1022.13,1317.41 L1023.69,1317.70 L1025.25,1317.99 L1026.81,1318.28 L1028.37,1318.59 L1029.93,1318.90 L1031.49,1319.22 L1033.05,1319.55 L1034.61,1319.88 L1036.17,1320.22 L1037.73,1320.58 L1039.29,1320.93 L1040.85,1321.30 L1042.41,1321.68 L1043.97,1322.07 L1045.53,1322.46 L1047.09,1322.87 L1048.65,1323.29 L1050.22,1323.71 L1051.78,1324.15 L1053.34,1324.59 L1054.90,1325.05 L1056.46,1325.52 L1058.02,1326.00 L1059.58,1326.50 L1061.14,1327.00 L1062.70,1327.52 L1064.26,1328.04 L1065.82,1328.59 L1067.38,1329.14 L1068.94,1329.71 L1070.50,1330.29" fill="none" stroke="#9b3b9f" stroke-width="2.3" stroke-linejoin="round" clip-path="url(#clipE)"/>
<path d="M822.40,1283.80 L823.96,1283.75 L825.52,1283.69 L827.08,1283.63 L828.64,1283.57 L830.20,1283.51 L831.76,1283.46 L833.32,1283.40 L834.88,1283.34 L836.44,1283.28 L838.00,1283.23 L839.56,1283.17 L841.12,1283.11 L842.68,1283.05 L844.25,1283.00 L845.81,1282.94 L847.37,1282.88 L848.93,1282.82 L850.49,1282.76 L852.05,1282.71 L853.61,1282.65 L855.17,1282.59 L856.73,1282.53 L858.29,1282.48 L859.85,1282.42 L861.41,1282.36 L862.97,1282.30 L864.53,1282.25 L866.09,1282.19 L867.65,1282.13 L869.21,1282.07 L870.77,1282.01 L872.33,1281.96 L873.89,1281.90 L875.45,1281.84 L877.01,1281.78 L878.57,1281.73 L880.13,1281.67 L881.69,1281.61 L883.25,1281.55 L884.82,1281.50 L886.38,1281.44 L887.94,1281.38 L889.50,1281.32 L891.06,1281.27 L892.62,1281.21 L894.18,1281.15 L895.74,1281.09 L897.30,1281.03 L898.86,1280.98 L900.42,1280.92 L901.98,1280.86 L903.54,1280.80 L905.10,1280.75 L906.66,1280.69 L908.22,1280.63 L909.78,1280.57 L911.34,1280.52 L912.90,1280.46 L914.46,1280.40 L916.02,1280.34 L917.58,1280.28 L919.14,1280.23 L920.70,1280.17 L922.26,1280.11 L923.82,1280.05 L925.38,1280.00 L926.95,1279.94 L928.51,1279.88 L930.07,1279.82 L931.63,1279.77 L933.19,1279.71 L934.75,1279.65 L936.31,1279.59 L937.87,1279.53 L939.43,1279.48 L940.99,1279.42 L942.55,1279.36 L944.11,1279.30 L945.67,1279.25 L947.23,1279.19 L948.79,1279.13 L950.35,1279.07 L951.91,1279.02 L953.47,1278.96 L955.03,1278.90 L956.59,1278.84 L958.15,1278.78 L959.71,1278.73 L961.27,1278.67 L962.83,1278.61 L964.39,1278.55 L965.95,1278.50 L967.52,1278.44 L969.08,1278.38 L970.64,1278.32 L972.20,1278.27 L973.76,1278.21 L975.32,1278.15 L976.88,1278.09 L978.44,1278.04 L980.00,1277.98 L981.56,1277.92 L983.12,1277.86 L984.68,1277.80 L986.24,1277.75 L987.80,1277.69 L989.36,1277.63 L990.92,1277.57 L992.48,1277.52 L994.04,1277.46 L995.60,1277.40 L997.16,1277.34 L998.72,1277.29 L1000.28,1277.23 L1001.84,1277.17 L1003.40,1277.11 L1004.96,1277.05 L1006.52,1277.00 L1008.08,1276.94 L1009.65,1276.88 L1011.21,1276.82 L1012.77,1276.77 L1014.33,1276.71 L1015.89,1276.65 L1017.45,1276.59 L1019.01,1276.54 L1020.57,1276.48 L1022.13,1276.42 L1023.69,1276.36 L1025.25,1276.30 L1026.81,1276.25 L1028.37,1276.19 L1029.93,1276.13 L1031.49,1276.07 L1033.05,1276.02 L1034.61,1275.96 L1036.17,1275.90 L1037.73,1275.84 L1039.29,1275.79 L1040.85,1275.73 L1042.41,1275.67 L1043.97,1275.61 L1045.53,1275.56 L1047.09,1275.50 L1048.65,1275.44 L1050.22,1275.38 L1051.78,1275.32 L1053.34,1275.27 L1054.90,1275.21 L1056.46,1275.15 L1058.02,1275.09 L1059.58,1275.04 L1061.14,1274.98 L1062.70,1274.92 L1064.26,1274.86 L1065.82,1274.81 L1067.38,1274.75 L1068.94,1274.69 L1070.50,1274.63" fill="none" stroke="#ec1c24" stroke-width="2.3" stroke-linejoin="round" clip-path="url(#clipE)"/>
<path d="M1070.50,1182.37 L1072.06,1182.65 L1073.62,1182.92 L1075.18,1183.18 L1076.74,1183.44 L1078.30,1183.69 L1079.86,1183.93 L1081.42,1184.17 L1082.98,1184.40 L1084.54,1184.63 L1086.10,1184.85 L1087.66,1185.07 L1089.22,1185.29 L1090.78,1185.50 L1092.35,1185.70 L1093.91,1185.90 L1095.47,1186.10 L1097.03,1186.30 L1098.59,1186.49 L1100.15,1186.68 L1101.71,1186.86 L1103.27,1187.04 L1104.83,1187.22 L1106.39,1187.40 L1107.95,1187.57 L1109.51,1187.75 L1111.07,1187.92 L1112.63,1188.09 L1114.19,1188.25 L1115.75,1188.42 L1117.31,1188.58 L1118.87,1188.75 L1120.43,1188.91 L1121.99,1189.08 L1123.55,1189.24 L1125.11,1189.40 L1126.67,1189.57 L1128.23,1189.73 L1129.79,1189.89 L1131.35,1190.06 L1132.92,1190.22 L1134.48,1190.39 L1136.04,1190.56 L1137.60,1190.73 L1139.16,1190.89 L1140.72,1191.06 L1142.28,1191.22 L1143.84,1191.38 L1145.40,1191.54 L1146.96,1191.69 L1148.52,1191.84 L1150.08,1191.99 L1151.64,1192.13 L1153.20,1192.26 L1154.76,1192.39 L1156.32,1192.51 L1157.88,1192.62 L1159.44,1192.73 L1161.00,1192.83 L1162.56,1192.92 L1164.12,1192.99 L1165.68,1193.06 L1167.24,1193.12 L1168.80,1193.17 L1170.36,1193.20 L1171.92,1193.22 L1173.48,1193.23 L1175.05,1193.23 L1176.61,1193.21 L1178.17,1193.19 L1179.73,1193.14 L1181.29,1193.09 L1182.85,1193.02 L1184.41,1192.94 L1185.97,1192.85 L1187.53,1192.74 L1189.09,1192.62 L1190.65,1192.48 L1192.21,1192.33 L1193.77,1192.17 L1195.33,1191.99 L1196.89,1191.80 L1198.45,1191.60 L1200.01,1191.38 L1201.57,1191.15 L1203.13,1190.90 L1204.69,1190.64 L1206.25,1190.37 L1207.81,1190.09 L1209.37,1189.79 L1210.93,1189.48 L1212.49,1189.17 L1214.05,1188.83 L1215.62,1188.49 L1217.18,1188.14 L1218.74,1187.78 L1220.30,1187.40 L1221.86,1187.02 L1223.42,1186.63 L1224.98,1186.22 L1226.54,1185.81 L1228.10,1185.39 L1229.66,1184.96 L1231.22,1184.52 L1232.78,1184.07 L1234.34,1183.62 L1235.90,1183.15 L1237.46,1182.68 L1239.02,1182.20 L1240.58,1181.72 L1242.14,1181.22 L1243.70,1180.73 L1245.26,1180.22 L1246.82,1179.71 L1248.38,1179.19 L1249.94,1178.67 L1251.50,1178.14 L1253.06,1177.60 L1254.62,1177.07 L1256.18,1176.52 L1257.75,1175.98 L1259.31,1175.42 L1260.87,1174.87 L1262.43,1174.31 L1263.99,1173.74 L1265.55,1173.17 L1267.11,1172.60 L1268.67,1172.02 L1270.23,1171.44 L1271.79,1170.85 L1273.35,1170.26 L1274.91,1169.67 L1276.47,1169.07 L1278.03,1168.47 L1279.59,1167.86 L1281.15,1167.25 L1282.71,1166.63 L1284.27,1166.01 L1285.83,1165.39 L1287.39,1164.76 L1288.95,1164.12 L1290.51,1163.49 L1292.07,1162.85 L1293.63,1162.20 L1295.19,1161.55 L1296.75,1160.90 L1298.32,1160.24 L1299.88,1159.58 L1301.44,1158.91 L1303.00,1158.24 L1304.56,1157.56 L1306.12,1156.89 L1307.68,1156.20 L1309.24,1155.52 L1310.80,1154.82 L1312.36,1154.13 L1313.92,1153.43 L1315.48,1152.73 L1317.04,1152.02 L1318.60,1151.31" fill="none" stroke="#000000" stroke-width="2.3" stroke-linejoin="round" clip-path="url(#clipE)"/>
<path d="M1070.50,1250.98 L1072.06,1250.92 L1073.62,1250.87 L1075.18,1250.82 L1076.74,1250.76 L1078.30,1250.71 L1079.86,1250.66 L1081.42,1250.60 L1082.98,1250.55 L1084.54,1250.50 L1086.10,1250.44 L1087.66,1250.39 L1089.22,1250.34 L1090.78,1250.28 L1092.35,1250.23 L1093.91,1250.18 L1095.47,1250.12 L1097.03,1250.07 L1098.59,1250.02 L1100.15,1249.96 L1101.71,1249.91 L1103.27,1249.86 L1104.83,1249.80 L1106.39,1249.75 L1107.95,1249.70 L1109.51,1249.64 L1111.07,1249.59 L1112.63,1249.54 L1114.19,1249.48 L1115.75,1249.43 L1117.31,1249.38 L1118.87,1249.32 L1120.43,1249.27 L1121.99,1249.22 L1123.55,1249.16 L1125.11,1249.11 L1126.67,1249.06 L1128.23,1249.00 L1129.79,1248.95 L1131.35,1248.90 L1132.92,1248.84 L1134.48,1248.79 L1136.04,1248.74 L1137.60,1248.68 L1139.16,1248.63 L1140.72,1248.58 L1142.28,1248.52 L1143.84,1248.47 L1145.40,1248.42 L1146.96,1248.36 L1148.52,1248.31 L1150.08,1248.26 L1151.64,1248.20 L1153.20,1248.15 L1154.76,1248.10 L1156.32,1248.04 L1157.88,1247.99 L1159.44,1247.94 L1161.00,1247.88 L1162.56,1247.83 L1164.12,1247.78 L1165.68,1247.72 L1167.24,1247.67 L1168.80,1247.62 L1170.36,1247.56 L1171.92,1247.51 L1173.48,1247.46 L1175.05,1247.40 L1176.61,1247.35 L1178.17,1247.29 L1179.73,1247.24 L1181.29,1247.19 L1182.85,1247.13 L1184.41,1247.08 L1185.97,1247.03 L1187.53,1246.97 L1189.09,1246.92 L1190.65,1246.87 L1192.21,1246.81 L1193.77,1246.76 L1195.33,1246.71 L1196.89,1246.65 L1198.45,1246.60 L1200.01,1246.55 L1201.57,1246.49 L1203.13,1246.44 L1204.69,1246.39 L1206.25,1246.33 L1207.81,1246.28 L1209.37,1246.23 L1210.93,1246.17 L1212.49,1246.12 L1214.05,1246.07 L1215.62,1246.01 L1217.18,1245.96 L1218.74,1245.91 L1220.30,1245.85 L1221.86,1245.80 L1223.42,1245.75 L1224.98,1245.69 L1226.54,1245.64 L1228.10,1245.59 L1229.66,1245.53 L1231.22,1245.48 L1232.78,1245.43 L1234.34,1245.37 L1235.90,1245.32 L1237.46,1245.27 L1239.02,1245.21 L1240.58,1245.16 L1242.14,1245.11 L1243.70,1245.05 L1245.26,1245.00 L1246.82,1244.95 L1248.38,1244.89 L1249.94,1244.84 L1251.50,1244.79 L1253.06,1244.73 L1254.62,1244.68 L1256.18,1244.63 L1257.75,1244.57 L1259.31,1244.52 L1260.87,1244.47 L1262.43,1244.41 L1263.99,1244.36 L1265.55,1244.31 L1267.11,1244.25 L1268.67,1244.20 L1270.23,1244.15 L1271.79,1244.09 L1273.35,1244.04 L1274.91,1243.99 L1276.47,1243.93 L1278.03,1243.88 L1279.59,1243.83 L1281.15,1243.77 L1282.71,1243.72 L1284.27,1243.67 L1285.83,1243.61 L1287.39,1243.56 L1288.95,1243.51 L1290.51,1243.45 L1292.07,1243.40 L1293.63,1243.35 L1295.19,1243.29 L1296.75,1243.24 L1298.32,1243.19 L1299.88,1243.13 L1301.44,1243.08 L1303.00,1243.03 L1304.56,1242.97 L1306.12,1242.92 L1307.68,1242.87 L1309.24,1242.81 L1310.80,1242.76 L1312.36,1242.71 L1313.92,1242.65 L1315.48,1242.60 L1317.04,1242.55 L1318.60,1242.49" fill="none" stroke="#17b5b9" stroke-width="2.3" stroke-linejoin="round" clip-path="url(#clipE)"/>
<path d="M1070.50,1242.24 L1072.06,1242.61 L1073.62,1242.98 L1075.18,1243.35 L1076.74,1243.72 L1078.30,1244.08 L1079.86,1244.44 L1081.42,1244.80 L1082.98,1245.16 L1084.54,1245.52 L1086.10,1245.87 L1087.66,1246.22 L1089.22,1246.57 L1090.78,1246.92 L1092.35,1247.26 L1093.91,1247.60 L1095.47,1247.94 L1097.03,1248.28 L1098.59,1248.61 L1100.15,1248.95 L1101.71,1249.28 L1103.27,1249.60 L1104.83,1249.93 L1106.39,1250.25 L1107.95,1250.57 L1109.51,1250.89 L1111.07,1251.20 L1112.63,1251.51 L1114.19,1251.82 L1115.75,1252.13 L1117.31,1252.43 L1118.87,1252.73 L1120.43,1253.03 L1121.99,1253.33 L1123.55,1253.62 L1125.11,1253.91 L1126.67,1254.20 L1128.23,1254.48 L1129.79,1254.76 L1131.35,1255.04 L1132.92,1255.32 L1134.48,1255.59 L1136.04,1255.86 L1137.60,1256.13 L1139.16,1256.39 L1140.72,1256.65 L1142.28,1256.90 L1143.84,1257.15 L1145.40,1257.39 L1146.96,1257.63 L1148.52,1257.86 L1150.08,1258.09 L1151.64,1258.31 L1153.20,1258.53 L1154.76,1258.74 L1156.32,1258.94 L1157.88,1259.13 L1159.44,1259.31 L1161.00,1259.49 L1162.56,1259.66 L1164.12,1259.82 L1165.68,1259.98 L1167.24,1260.12 L1168.80,1260.25 L1170.36,1260.38 L1171.92,1260.50 L1173.48,1260.61 L1175.05,1260.70 L1176.61,1260.80 L1178.17,1260.88 L1179.73,1260.95 L1181.29,1261.01 L1182.85,1261.07 L1184.41,1261.11 L1185.97,1261.15 L1187.53,1261.18 L1189.09,1261.20 L1190.65,1261.20 L1192.21,1261.20 L1193.77,1261.19 L1195.33,1261.18 L1196.89,1261.15 L1198.45,1261.11 L1200.01,1261.06 L1201.57,1261.00 L1203.13,1260.93 L1204.69,1260.85 L1206.25,1260.76 L1207.81,1260.65 L1209.37,1260.54 L1210.93,1260.41 L1212.49,1260.26 L1214.05,1260.11 L1215.62,1259.94 L1217.18,1259.75 L1218.74,1259.55 L1220.30,1259.34 L1221.86,1259.11 L1223.42,1258.86 L1224.98,1258.60 L1226.54,1258.32 L1228.10,1258.03 L1229.66,1257.72 L1231.22,1257.39 L1232.78,1257.05 L1234.34,1256.70 L1235.90,1256.33 L1237.46,1255.96 L1239.02,1255.57 L1240.58,1255.17 L1242.14,1254.76 L1243.70,1254.34 L1245.26,1253.91 L1246.82,1253.47 L1248.38,1253.03 L1249.94,1252.58 L1251.50,1252.12 L1253.06,1251.66 L1254.62,1251.19 L1256.18,1250.72 L1257.75,1250.24 L1259.31,1249.76 L1260.87,1249.28 L1262.43,1248.80 L1263.99,1248.32 L1265.55,1247.83 L1267.11,1247.34 L1268.67,1246.85 L1270.23,1246.36 L1271.79,1245.87 L1273.35,1245.38 L1274.91,1244.89 L1276.47,1244.41 L1278.03,1243.92 L1279.59,1243.43 L1281.15,1242.95 L1282.71,1242.47 L1284.27,1241.99 L1285.83,1241.51 L1287.39,1241.04 L1288.95,1240.57 L1290.51,1240.11 L1292.07,1239.65 L1293.63,1239.19 L1295.19,1238.74 L1296.75,1238.29 L1298.32,1237.85 L1299.88,1237.42 L1301.44,1236.99 L1303.00,1236.57 L1304.56,1236.16 L1306.12,1235.75 L1307.68,1235.35 L1309.24,1234.96 L1310.80,1234.58 L1312.36,1234.21 L1313.92,1233.85 L1315.48,1233.49 L1317.04,1233.15 L1318.60,1232.82" fill="none" stroke="#9b3b9f" stroke-width="2.3" stroke-linejoin="round" clip-path="url(#clipE)"/>
<path d="M1070.50,1298.89 L1072.06,1298.80 L1073.62,1298.72 L1075.18,1298.64 L1076.74,1298.56 L1078.30,1298.47 L1079.86,1298.39 L1081.42,1298.31 L1082.98,1298.22 L1084.54,1298.14 L1086.10,1298.06 L1087.66,1297.97 L1089.22,1297.89 L1090.78,1297.81 L1092.35,1297.73 L1093.91,1297.64 L1095.47,1297.56 L1097.03,1297.48 L1098.59,1297.39 L1100.15,1297.31 L1101.71,1297.23 L1103.27,1297.14 L1104.83,1297.06 L1106.39,1296.98 L1107.95,1296.90 L1109.51,1296.81 L1111.07,1296.73 L1112.63,1296.65 L1114.19,1296.56 L1115.75,1296.48 L1117.31,1296.40 L1118.87,1296.31 L1120.43,1296.23 L1121.99,1296.15 L1123.55,1296.06 L1125.11,1295.98 L1126.67,1295.90 L1128.23,1295.82 L1129.79,1295.73 L1131.35,1295.65 L1132.92,1295.57 L1134.48,1295.48 L1136.04,1295.40 L1137.60,1295.32 L1139.16,1295.23 L1140.72,1295.15 L1142.28,1295.07 L1143.84,1294.99 L1145.40,1294.90 L1146.96,1294.82 L1148.52,1294.74 L1150.08,1294.65 L1151.64,1294.57 L1153.20,1294.49 L1154.76,1294.40 L1156.32,1294.32 L1157.88,1294.24 L1159.44,1294.16 L1161.00,1294.07 L1162.56,1293.99 L1164.12,1293.91 L1165.68,1293.82 L1167.24,1293.74 L1168.80,1293.66 L1170.36,1293.57 L1171.92,1293.49 L1173.48,1293.41 L1175.05,1293.33 L1176.61,1293.24 L1178.17,1293.16 L1179.73,1293.08 L1181.29,1292.99 L1182.85,1292.91 L1184.41,1292.83 L1185.97,1292.74 L1187.53,1292.66 L1189.09,1292.58 L1190.65,1292.50 L1192.21,1292.41 L1193.77,1292.33 L1195.33,1292.25 L1196.89,1292.16 L1198.45,1292.08 L1200.01,1292.00 L1201.57,1291.91 L1203.13,1291.83 L1204.69,1291.75 L1206.25,1291.67 L1207.81,1291.58 L1209.37,1291.50 L1210.93,1291.42 L1212.49,1291.33 L1214.05,1291.25 L1215.62,1291.17 L1217.18,1291.08 L1218.74,1291.00 L1220.30,1290.92 L1221.86,1290.84 L1223.42,1290.75 L1224.98,1290.67 L1226.54,1290.59 L1228.10,1290.50 L1229.66,1290.42 L1231.22,1290.34 L1232.78,1290.25 L1234.34,1290.17 L1235.90,1290.09 L1237.46,1290.01 L1239.02,1289.92 L1240.58,1289.84 L1242.14,1289.76 L1243.70,1289.67 L1245.26,1289.59 L1246.82,1289.51 L1248.38,1289.42 L1249.94,1289.34 L1251.50,1289.26 L1253.06,1289.17 L1254.62,1289.09 L1256.18,1289.01 L1257.75,1288.93 L1259.31,1288.84 L1260.87,1288.76 L1262.43,1288.68 L1263.99,1288.59 L1265.55,1288.51 L1267.11,1288.43 L1268.67,1288.34 L1270.23,1288.26 L1271.79,1288.18 L1273.35,1288.10 L1274.91,1288.01 L1276.47,1287.93 L1278.03,1287.85 L1279.59,1287.76 L1281.15,1287.68 L1282.71,1287.60 L1284.27,1287.51 L1285.83,1287.43 L1287.39,1287.35 L1288.95,1287.27 L1290.51,1287.18 L1292.07,1287.10 L1293.63,1287.02 L1295.19,1286.93 L1296.75,1286.85 L1298.32,1286.77 L1299.88,1286.68 L1301.44,1286.60 L1303.00,1286.52 L1304.56,1286.44 L1306.12,1286.35 L1307.68,1286.27 L1309.24,1286.19 L1310.80,1286.10 L1312.36,1286.02 L1313.92,1285.94 L1315.48,1285.85 L1317.04,1285.77 L1318.60,1285.69" fill="none" stroke="#ec1c24" stroke-width="2.3" stroke-linejoin="round" clip-path="url(#clipE)"/>
<path d="M1070.50,1266.87 L1072.06,1267.34 L1073.62,1267.84 L1075.18,1268.36 L1076.74,1268.91 L1078.30,1269.48 L1079.86,1270.07 L1081.42,1270.68 L1082.98,1271.31 L1084.54,1271.96 L1086.10,1272.63 L1087.66,1273.31 L1089.22,1274.02 L1090.78,1274.73 L1092.35,1275.47 L1093.91,1276.22 L1095.47,1276.98 L1097.03,1277.76 L1098.59,1278.54 L1100.15,1279.34 L1101.71,1280.15 L1103.27,1280.97 L1104.83,1281.80 L1106.39,1282.64 L1107.95,1283.48 L1109.51,1284.33 L1111.07,1285.19 L1112.63,1286.05 L1114.19,1286.91 L1115.75,1287.78 L1117.31,1288.65 L1118.87,1289.53 L1120.43,1290.40 L1121.99,1291.28 L1123.55,1292.15 L1125.11,1293.02 L1126.67,1293.89 L1128.23,1294.76 L1129.79,1295.62 L1131.35,1296.48 L1132.92,1297.33 L1134.48,1298.18 L1136.04,1299.02 L1137.60,1299.85 L1139.16,1300.68 L1140.72,1301.49 L1142.28,1302.30 L1143.84,1303.09 L1145.40,1303.87 L1146.96,1304.64 L1148.52,1305.40 L1150.08,1306.14 L1151.64,1306.86 L1153.20,1307.57 L1154.76,1308.27 L1156.32,1308.95 L1157.88,1309.61 L1159.44,1310.25 L1161.00,1310.87 L1162.56,1311.47 L1164.12,1312.04 L1165.68,1312.60 L1167.24,1313.13 L1168.80,1313.64 L1170.36,1314.13 L1171.92,1314.59 L1173.48,1315.02 L1175.05,1315.43 L1176.61,1315.81 L1178.17,1316.16 L1179.73,1316.48 L1181.29,1316.78 L1182.85,1317.04 L1184.41,1317.27 L1185.97,1317.46 L1187.53,1317.63 L1189.09,1317.76 L1190.65,1317.85 L1192.21,1317.91 L1193.77,1317.93 L1195.33,1317.92 L1196.89,1317.87 L1198.45,1317.78 L1200.01,1317.66 L1201.57,1317.50 L1203.13,1317.31 L1204.69,1317.08 L1206.25,1316.82 L1207.81,1316.53 L1209.37,1316.21 L1210.93,1315.85 L1212.49,1315.47 L1214.05,1315.06 L1215.62,1314.62 L1217.18,1314.15 L1218.74,1313.66 L1220.30,1313.14 L1221.86,1312.60 L1223.42,1312.03 L1224.98,1311.44 L1226.54,1310.82 L1228.10,1310.18 L1229.66,1309.52 L1231.22,1308.84 L1232.78,1308.14 L1234.34,1307.43 L1235.90,1306.69 L1237.46,1305.93 L1239.02,1305.16 L1240.58,1304.37 L1242.14,1303.57 L1243.70,1302.75 L1245.26,1301.92 L1246.82,1301.08 L1248.38,1300.22 L1249.94,1299.35 L1251.50,1298.47 L1253.06,1297.58 L1254.62,1296.68 L1256.18,1295.78 L1257.75,1294.86 L1259.31,1293.94 L1260.87,1293.01 L1262.43,1292.07 L1263.99,1291.13 L1265.55,1290.18 L1267.11,1289.22 L1268.67,1288.25 L1270.23,1287.28 L1271.79,1286.31 L1273.35,1285.33 L1274.91,1284.34 L1276.47,1283.35 L1278.03,1282.35 L1279.59,1281.35 L1281.15,1280.34 L1282.71,1279.33 L1284.27,1278.31 L1285.83,1277.29 L1287.39,1276.26 L1288.95,1275.23 L1290.51,1274.20 L1292.07,1273.17 L1293.63,1272.13 L1295.19,1271.09 L1296.75,1270.04 L1298.32,1268.99 L1299.88,1267.94 L1301.44,1266.89 L1303.00,1265.83 L1304.56,1264.78 L1306.12,1263.72 L1307.68,1262.66 L1309.24,1261.60 L1310.80,1260.54 L1312.36,1259.47 L1313.92,1258.41 L1315.48,1257.34 L1317.04,1256.28 L1318.60,1255.21" fill="none" stroke="#000000" stroke-width="2.3" stroke-linejoin="round" stroke-dasharray="7.2,3.2" clip-path="url(#clipE)"/>
<path d="M1070.50,1201.61 L1072.06,1201.57 L1073.62,1201.52 L1075.18,1201.48 L1076.74,1201.44 L1078.30,1201.39 L1079.86,1201.35 L1081.42,1201.31 L1082.98,1201.26 L1084.54,1201.22 L1086.10,1201.18 L1087.66,1201.14 L1089.22,1201.09 L1090.78,1201.05 L1092.35,1201.01 L1093.91,1200.96 L1095.47,1200.92 L1097.03,1200.88 L1098.59,1200.83 L1100.15,1200.79 L1101.71,1200.75 L1103.27,1200.70 L1104.83,1200.66 L1106.39,1200.62 L1107.95,1200.58 L1109.51,1200.53 L1111.07,1200.49 L1112.63,1200.45 L1114.19,1200.40 L1115.75,1200.36 L1117.31,1200.32 L1118.87,1200.27 L1120.43,1200.23 L1121.99,1200.19 L1123.55,1200.14 L1125.11,1200.10 L1126.67,1200.06 L1128.23,1200.01 L1129.79,1199.97 L1131.35,1199.93 L1132.92,1199.89 L1134.48,1199.84 L1136.04,1199.80 L1137.60,1199.76 L1139.16,1199.71 L1140.72,1199.67 L1142.28,1199.63 L1143.84,1199.58 L1145.40,1199.54 L1146.96,1199.50 L1148.52,1199.45 L1150.08,1199.41 L1151.64,1199.37 L1153.20,1199.32 L1154.76,1199.28 L1156.32,1199.24 L1157.88,1199.20 L1159.44,1199.15 L1161.00,1199.11 L1162.56,1199.07 L1164.12,1199.02 L1165.68,1198.98 L1167.24,1198.94 L1168.80,1198.89 L1170.36,1198.85 L1171.92,1198.81 L1173.48,1198.76 L1175.05,1198.72 L1176.61,1198.68 L1178.17,1198.63 L1179.73,1198.59 L1181.29,1198.55 L1182.85,1198.51 L1184.41,1198.46 L1185.97,1198.42 L1187.53,1198.38 L1189.09,1198.33 L1190.65,1198.29 L1192.21,1198.25 L1193.77,1198.20 L1195.33,1198.16 L1196.89,1198.12 L1198.45,1198.07 L1200.01,1198.03 L1201.57,1197.99 L1203.13,1197.94 L1204.69,1197.90 L1206.25,1197.86 L1207.81,1197.82 L1209.37,1197.77 L1210.93,1197.73 L1212.49,1197.69 L1214.05,1197.64 L1215.62,1197.60 L1217.18,1197.56 L1218.74,1197.51 L1220.30,1197.47 L1221.86,1197.43 L1223.42,1197.38 L1224.98,1197.34 L1226.54,1197.30 L1228.10,1197.25 L1229.66,1197.21 L1231.22,1197.17 L1232.78,1197.13 L1234.34,1197.08 L1235.90,1197.04 L1237.46,1197.00 L1239.02,1196.95 L1240.58,1196.91 L1242.14,1196.87 L1243.70,1196.82 L1245.26,1196.78 L1246.82,1196.74 L1248.38,1196.69 L1249.94,1196.65 L1251.50,1196.61 L1253.06,1196.56 L1254.62,1196.52 L1256.18,1196.48 L1257.75,1196.44 L1259.31,1196.39 L1260.87,1196.35 L1262.43,1196.31 L1263.99,1196.26 L1265.55,1196.22 L1267.11,1196.18 L1268.67,1196.13 L1270.23,1196.09 L1271.79,1196.05 L1273.35,1196.00 L1274.91,1195.96 L1276.47,1195.92 L1278.03,1195.87 L1279.59,1195.83 L1281.15,1195.79 L1282.71,1195.75 L1284.27,1195.70 L1285.83,1195.66 L1287.39,1195.62 L1288.95,1195.57 L1290.51,1195.53 L1292.07,1195.49 L1293.63,1195.44 L1295.19,1195.40 L1296.75,1195.36 L1298.32,1195.31 L1299.88,1195.27 L1301.44,1195.23 L1303.00,1195.18 L1304.56,1195.14 L1306.12,1195.10 L1307.68,1195.06 L1309.24,1195.01 L1310.80,1194.97 L1312.36,1194.93 L1313.92,1194.88 L1315.48,1194.84 L1317.04,1194.80 L1318.60,1194.75" fill="none" stroke="#17b5b9" stroke-width="2.3" stroke-linejoin="round" stroke-dasharray="7.2,3.2" clip-path="url(#clipE)"/>
<path d="M1070.50,1423.59 L1072.06,1424.56 L1073.62,1425.53 L1075.18,1426.51 L1076.74,1427.49 L1078.30,1428.47 L1079.86,1429.45 L1081.42,1430.44 L1082.98,1431.43 L1084.54,1432.42 L1086.10,1433.41 L1087.66,1434.40 L1089.22,1435.39 L1090.78,1436.38 L1092.35,1437.37 L1093.91,1438.36 L1095.47,1439.35 L1097.03,1440.34 L1098.59,1441.33 L1100.15,1442.31 L1101.71,1443.29 L1103.27,1444.27 L1104.83,1445.25 L1106.39,1446.23 L1107.95,1447.20 L1109.51,1448.16 L1111.07,1449.12 L1112.63,1450.08 L1114.19,1451.03 L1115.75,1451.98 L1117.31,1452.92 L1118.87,1453.86 L1120.43,1454.79 L1121.99,1455.71 L1123.55,1456.63 L1125.11,1457.54 L1126.67,1458.44 L1128.23,1459.34 L1129.79,1460.22 L1131.35,1461.10 L1132.92,1461.97 L1134.48,1462.83 L1136.04,1463.68 L1137.60,1464.52 L1139.16,1465.35 L1140.72,1466.17 L1142.28,1466.97 L1143.84,1467.77 L1145.40,1468.56 L1146.96,1469.33 L1148.52,1470.09 L1150.08,1470.84 L1151.64,1471.58 L1153.20,1472.30 L1154.76,1473.01 L1156.32,1473.70 L1157.88,1474.38 L1159.44,1475.04 L1161.00,1475.69 L1162.56,1476.33 L1164.12,1476.95 L1165.68,1477.55 L1167.24,1478.13 L1168.80,1478.69 L1170.36,1479.23 L1171.92,1479.75 L1173.48,1480.25 L1175.05,1480.71 L1176.61,1481.15 L1178.17,1481.56 L1179.73,1481.94 L1181.29,1482.28 L1182.85,1482.59 L1184.41,1482.87 L1185.97,1483.10 L1187.53,1483.30 L1189.09,1483.45 L1190.65,1483.57 L1192.21,1483.64 L1193.77,1483.66 L1195.33,1483.63 L1196.89,1483.56 L1198.45,1483.44 L1200.01,1483.28 L1201.57,1483.08 L1203.13,1482.84 L1204.69,1482.57 L1206.25,1482.26 L1207.81,1481.91 L1209.37,1481.54 L1210.93,1481.14 L1212.49,1480.71 L1214.05,1480.26 L1215.62,1479.79 L1217.18,1479.30 L1218.74,1478.79 L1220.30,1478.27 L1221.86,1477.74 L1223.42,1477.19 L1224.98,1476.64 L1226.54,1476.08 L1228.10,1475.51 L1229.66,1474.94 L1231.22,1474.36 L1232.78,1473.78 L1234.34,1473.19 L1235.90,1472.60 L1237.46,1471.99 L1239.02,1471.39 L1240.58,1470.77 L1242.14,1470.15 L1243.70,1469.53 L1245.26,1468.89 L1246.82,1468.25 L1248.38,1467.61 L1249.94,1466.95 L1251.50,1466.29 L1253.06,1465.63 L1254.62,1464.95 L1256.18,1464.27 L1257.75,1463.58 L1259.31,1462.88 L1260.87,1462.18 L1262.43,1461.47 L1263.99,1460.75 L1265.55,1460.02 L1267.11,1459.29 L1268.67,1458.55 L1270.23,1457.80 L1271.79,1457.05 L1273.35,1456.28 L1274.91,1455.52 L1276.47,1454.74 L1278.03,1453.96 L1279.59,1453.17 L1281.15,1452.37 L1282.71,1451.57 L1284.27,1450.76 L1285.83,1449.95 L1287.39,1449.12 L1288.95,1448.30 L1290.51,1447.46 L1292.07,1446.62 L1293.63,1445.77 L1295.19,1444.92 L1296.75,1444.06 L1298.32,1443.19 L1299.88,1442.32 L1301.44,1441.44 L1303.00,1440.55 L1304.56,1439.66 L1306.12,1438.77 L1307.68,1437.86 L1309.24,1436.95 L1310.80,1436.04 L1312.36,1435.12 L1313.92,1434.19 L1315.48,1433.26 L1317.04,1432.32 L1318.60,1431.38" fill="none" stroke="#9b3b9f" stroke-width="2.3" stroke-linejoin="round" stroke-dasharray="7.2,3.2" clip-path="url(#clipE)"/>
<path d="M1070.50,1251.15 L1072.06,1251.07 L1073.62,1250.99 L1075.18,1250.91 L1076.74,1250.84 L1078.30,1250.76 L1079.86,1250.68 L1081.42,1250.60 L1082.98,1250.52 L1084.54,1250.45 L1086.10,1250.37 L1087.66,1250.29 L1089.22,1250.21 L1090.78,1250.13 L1092.35,1250.05 L1093.91,1249.98 L1095.47,1249.90 L1097.03,1249.82 L1098.59,1249.74 L1100.15,1249.66 L1101.71,1249.59 L1103.27,1249.51 L1104.83,1249.43 L1106.39,1249.35 L1107.95,1249.27 L1109.51,1249.19 L1111.07,1249.12 L1112.63,1249.04 L1114.19,1248.96 L1115.75,1248.88 L1117.31,1248.80 L1118.87,1248.73 L1120.43,1248.65 L1121.99,1248.57 L1123.55,1248.49 L1125.11,1248.41 L1126.67,1248.33 L1128.23,1248.26 L1129.79,1248.18 L1131.35,1248.10 L1132.92,1248.02 L1134.48,1247.94 L1136.04,1247.87 L1137.60,1247.79 L1139.16,1247.71 L1140.72,1247.63 L1142.28,1247.55 L1143.84,1247.48 L1145.40,1247.40 L1146.96,1247.32 L1148.52,1247.24 L1150.08,1247.16 L1151.64,1247.08 L1153.20,1247.01 L1154.76,1246.93 L1156.32,1246.85 L1157.88,1246.77 L1159.44,1246.69 L1161.00,1246.62 L1162.56,1246.54 L1164.12,1246.46 L1165.68,1246.38 L1167.24,1246.30 L1168.80,1246.22 L1170.36,1246.15 L1171.92,1246.07 L1173.48,1245.99 L1175.05,1245.91 L1176.61,1245.83 L1178.17,1245.76 L1179.73,1245.68 L1181.29,1245.60 L1182.85,1245.52 L1184.41,1245.44 L1185.97,1245.36 L1187.53,1245.29 L1189.09,1245.21 L1190.65,1245.13 L1192.21,1245.05 L1193.77,1244.97 L1195.33,1244.90 L1196.89,1244.82 L1198.45,1244.74 L1200.01,1244.66 L1201.57,1244.58 L1203.13,1244.50 L1204.69,1244.43 L1206.25,1244.35 L1207.81,1244.27 L1209.37,1244.19 L1210.93,1244.11 L1212.49,1244.04 L1214.05,1243.96 L1215.62,1243.88 L1217.18,1243.80 L1218.74,1243.72 L1220.30,1243.65 L1221.86,1243.57 L1223.42,1243.49 L1224.98,1243.41 L1226.54,1243.33 L1228.10,1243.25 L1229.66,1243.18 L1231.22,1243.10 L1232.78,1243.02 L1234.34,1242.94 L1235.90,1242.86 L1237.46,1242.79 L1239.02,1242.71 L1240.58,1242.63 L1242.14,1242.55 L1243.70,1242.47 L1245.26,1242.39 L1246.82,1242.32 L1248.38,1242.24 L1249.94,1242.16 L1251.50,1242.08 L1253.06,1242.00 L1254.62,1241.93 L1256.18,1241.85 L1257.75,1241.77 L1259.31,1241.69 L1260.87,1241.61 L1262.43,1241.53 L1263.99,1241.46 L1265.55,1241.38 L1267.11,1241.30 L1268.67,1241.22 L1270.23,1241.14 L1271.79,1241.07 L1273.35,1240.99 L1274.91,1240.91 L1276.47,1240.83 L1278.03,1240.75 L1279.59,1240.68 L1281.15,1240.60 L1282.71,1240.52 L1284.27,1240.44 L1285.83,1240.36 L1287.39,1240.28 L1288.95,1240.21 L1290.51,1240.13 L1292.07,1240.05 L1293.63,1239.97 L1295.19,1239.89 L1296.75,1239.82 L1298.32,1239.74 L1299.88,1239.66 L1301.44,1239.58 L1303.00,1239.50 L1304.56,1239.42 L1306.12,1239.35 L1307.68,1239.27 L1309.24,1239.19 L1310.80,1239.11 L1312.36,1239.03 L1313.92,1238.96 L1315.48,1238.88 L1317.04,1238.80 L1318.60,1238.72" fill="none" stroke="#ec1c24" stroke-width="2.3" stroke-linejoin="round" stroke-dasharray="7.2,3.2" clip-path="url(#clipE)"/>
<rect x="822.4" y="1151.3" width="496.19999999999993" height="332.20000000000005" fill="none" stroke="#8c8c8c" stroke-width="1.6"/>
<line x1="819.20" y1="1476.39" x2="822.40" y2="1476.39" stroke="#555" stroke-width="1.1" />
<text x="768.37" y="1484.29" font-size="21.36" textLength="47.23" lengthAdjust="spacingAndGlyphs" xml:space="preserve">−2.0</text>
<line x1="819.20" y1="1433.53" x2="822.40" y2="1433.53" stroke="#555" stroke-width="1.1" />
<text x="768.38" y="1441.43" font-size="21.36" textLength="46.86" lengthAdjust="spacingAndGlyphs" xml:space="preserve">−1.5</text>
<line x1="819.20" y1="1390.68" x2="822.40" y2="1390.68" stroke="#555" stroke-width="1.1" />
<text x="768.37" y="1398.58" font-size="21.36" textLength="47.23" lengthAdjust="spacingAndGlyphs" xml:space="preserve">−1.0</text>
<line x1="819.20" y1="1347.83" x2="822.40" y2="1347.83" stroke="#555" stroke-width="1.1" />
<text x="768.38" y="1355.73" font-size="21.36" textLength="46.86" lengthAdjust="spacingAndGlyphs" xml:space="preserve">−0.5</text>
<line x1="819.20" y1="1304.97" x2="822.40" y2="1304.97" stroke="#555" stroke-width="1.1" />
<text x="784.64" y="1312.87" font-size="21.36" textLength="30.90" lengthAdjust="spacingAndGlyphs" xml:space="preserve">0.0</text>
<line x1="819.20" y1="1262.12" x2="822.40" y2="1262.12" stroke="#555" stroke-width="1.1" />
<text x="784.65" y="1270.02" font-size="21.36" textLength="30.52" lengthAdjust="spacingAndGlyphs" xml:space="preserve">0.5</text>
<line x1="819.20" y1="1219.27" x2="822.40" y2="1219.27" stroke="#555" stroke-width="1.1" />
<text x="784.70" y="1227.17" font-size="21.36" textLength="30.84" lengthAdjust="spacingAndGlyphs" xml:space="preserve">1.0</text>
<line x1="819.20" y1="1176.41" x2="822.40" y2="1176.41" stroke="#555" stroke-width="1.1" />
<text x="784.72" y="1184.31" font-size="21.36" textLength="30.45" lengthAdjust="spacingAndGlyphs" xml:space="preserve">1.5</text>
<line x1="822.40" y1="1483.50" x2="822.40" y2="1486.70" stroke="#555" stroke-width="1.1" />
<text x="802.23" y="1505.50" font-size="21.36" textLength="40.89" lengthAdjust="spacingAndGlyphs" xml:space="preserve">−40</text>
<line x1="884.42" y1="1483.50" x2="884.42" y2="1486.70" stroke="#555" stroke-width="1.1" />
<text x="864.25" y="1505.50" font-size="21.36" textLength="40.89" lengthAdjust="spacingAndGlyphs" xml:space="preserve">−30</text>
<line x1="946.45" y1="1483.50" x2="946.45" y2="1486.70" stroke="#555" stroke-width="1.1" />
<text x="926.28" y="1505.50" font-size="21.36" textLength="40.89" lengthAdjust="spacingAndGlyphs" xml:space="preserve">−20</text>
<line x1="1008.47" y1="1483.50" x2="1008.47" y2="1486.70" stroke="#555" stroke-width="1.1" />
<text x="988.30" y="1505.50" font-size="21.36" textLength="40.89" lengthAdjust="spacingAndGlyphs" xml:space="preserve">−10</text>
<line x1="1070.50" y1="1483.50" x2="1070.50" y2="1486.70" stroke="#555" stroke-width="1.1" />
<text x="1064.63" y="1505.50" font-size="21.36" textLength="11.73" lengthAdjust="spacingAndGlyphs" xml:space="preserve">0</text>
<line x1="1132.52" y1="1483.50" x2="1132.52" y2="1486.70" stroke="#555" stroke-width="1.1" />
<text x="1120.32" y="1505.50" font-size="21.36" textLength="24.46" lengthAdjust="spacingAndGlyphs" xml:space="preserve">10</text>
<line x1="1194.55" y1="1483.50" x2="1194.55" y2="1486.70" stroke="#555" stroke-width="1.1" />
<text x="1182.18" y="1505.50" font-size="21.36" textLength="24.64" lengthAdjust="spacingAndGlyphs" xml:space="preserve">20</text>
<line x1="1256.57" y1="1483.50" x2="1256.57" y2="1486.70" stroke="#555" stroke-width="1.1" />
<text x="1244.54" y="1505.50" font-size="21.36" textLength="24.28" lengthAdjust="spacingAndGlyphs" xml:space="preserve">30</text>
<line x1="1318.60" y1="1483.50" x2="1318.60" y2="1486.70" stroke="#555" stroke-width="1.1" />
<text x="1306.35" y="1505.50" font-size="21.36" textLength="24.51" lengthAdjust="spacingAndGlyphs" xml:space="preserve">40</text>
<text x="1004.81" y="1528.50" font-size="21.36" textLength="131.17" lengthAdjust="spacingAndGlyphs" xml:space="preserve">Position (km)</text>
<text x="834.41" y="1348.00" font-size="19.01" textLength="195.61" lengthAdjust="spacingAndGlyphs" xml:space="preserve">solid: channel 2 and 3</text>
<text x="834.14" y="1365.10" font-size="19.01" textLength="163.27" lengthAdjust="spacingAndGlyphs" xml:space="preserve">dashed: channel 1</text>
<rect x="830.7" y="1373.3" width="141.4" height="101.6" rx="4" ry="4" fill="#ffffff" fill-opacity="0.8" stroke="#e3e3e3" stroke-width="1.1"/>
<line x1="836.40" y1="1386.50" x2="872.00" y2="1386.50" stroke="#000000" stroke-width="2.3" />
<text x="884.85" y="1392.50" font-size="18.16" textLength="38.49" lengthAdjust="spacingAndGlyphs" xml:space="preserve">total</text>
<line x1="836.40" y1="1411.05" x2="872.00" y2="1411.05" stroke="#17b5b9" stroke-width="2.3" />
<text x="884.90" y="1417.05" font-size="18.16" textLength="39.36" lengthAdjust="spacingAndGlyphs" xml:space="preserve">river</text>
<line x1="836.40" y1="1435.60" x2="872.00" y2="1435.60" stroke="#9b3b9f" stroke-width="2.3" />
<text x="885.00" y="1441.60" font-size="18.16" textLength="81.39" lengthAdjust="spacingAndGlyphs" xml:space="preserve">baroclinic</text>
<line x1="836.40" y1="1460.15" x2="872.00" y2="1460.15" stroke="#ec1c24" stroke-width="2.3" />
<text x="884.80" y="1466.15" font-size="18.16" textLength="45.52" lengthAdjust="spacingAndGlyphs" xml:space="preserve">other</text>
<g transform="rotate(-90 758.80 1317.40)"><text x="694.30" y="1317.40" font-size="21.36" textLength="76.49" lengthAdjust="spacingAndGlyphs" xml:space="preserve">T (kg m</text><text x="770.80" y="1308.90" font-size="14.95" textLength="13.96" lengthAdjust="spacingAndGlyphs" xml:space="preserve">-1</text><text x="784.76" y="1317.40" font-size="21.36" textLength="16.78" lengthAdjust="spacingAndGlyphs" xml:space="preserve"> s</text><text x="801.53" y="1308.90" font-size="14.95" textLength="13.96" lengthAdjust="spacingAndGlyphs" xml:space="preserve">-1</text><text x="815.49" y="1317.40" font-size="21.36" textLength="7.80" lengthAdjust="spacingAndGlyphs" xml:space="preserve">)</text></g>
<text x="740.4" y="1130.4" font-size="29.6" font-weight="bold">E</text></svg></body></html>
